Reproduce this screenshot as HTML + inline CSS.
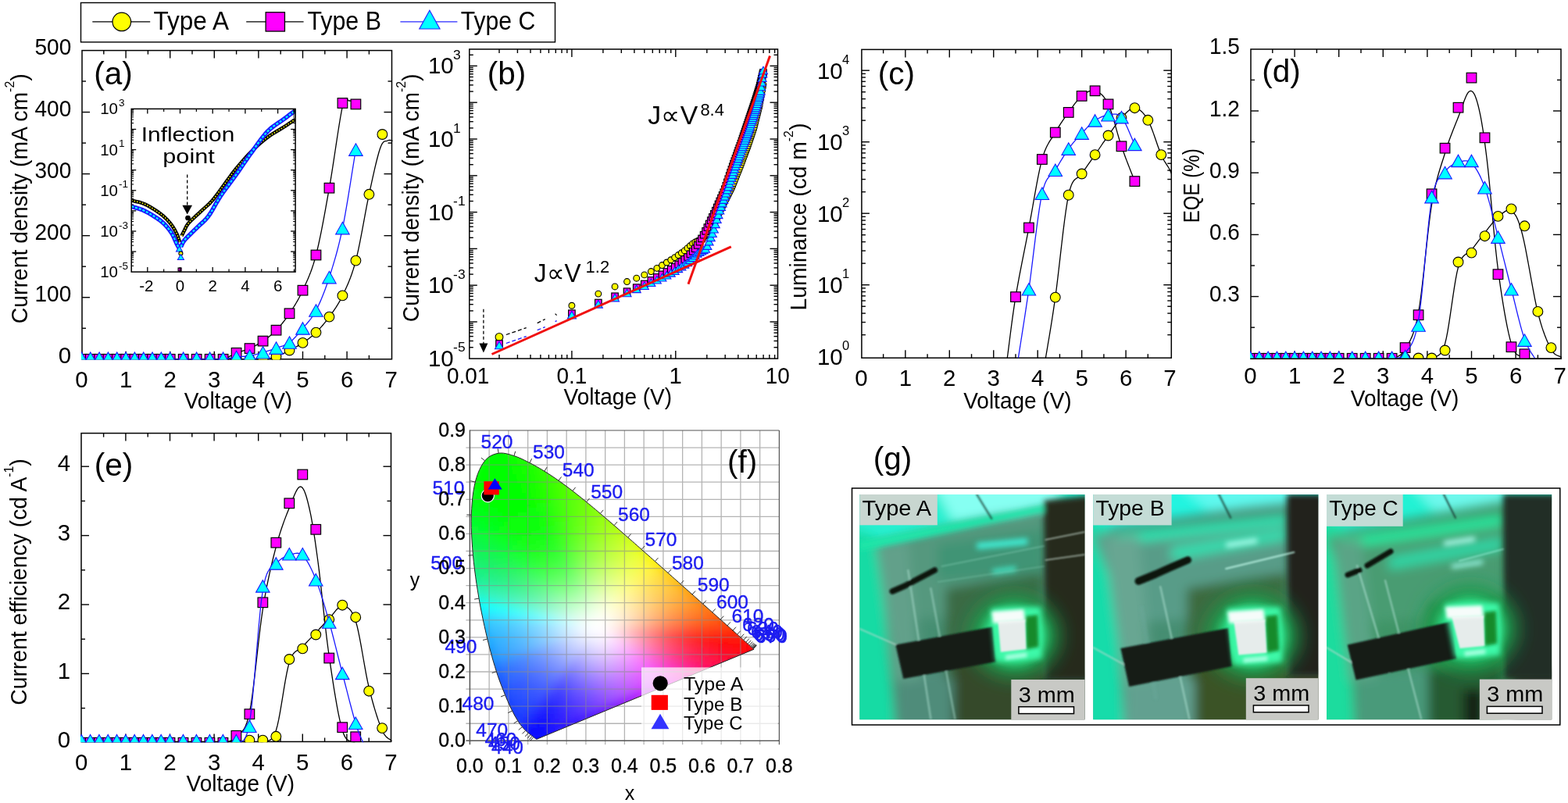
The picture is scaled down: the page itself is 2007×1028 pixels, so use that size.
<!DOCTYPE html>
<html><head><meta charset="utf-8"><title>Figure</title>
<style>html,body{margin:0;padding:0;background:#fff;overflow:hidden}svg{display:block}</style>
</head><body>
<svg width="2007" height="1028" viewBox="0 0 2007 1028">
<rect width="2007" height="1028" fill="#fff"/>
<rect x="103.5" y="3.5" width="607" height="50.4" fill="none" stroke="#000" stroke-width="1.4"/>
<line x1="118.3" y1="27.9" x2="192.2" y2="27.9" stroke="#000" stroke-width="1.3"/>
<circle cx="155.8" cy="27.9" r="11.8" fill="#ff0" stroke="#000" stroke-width="1.2"/>
<text x="196.5" y="38.3" font-size="33.6" textLength="96.5" lengthAdjust="spacingAndGlyphs" fill="#000" font-family="'Liberation Sans', Arial, sans-serif">Type A</text>
<line x1="315.2" y1="27.9" x2="388.6" y2="27.9" stroke="#000" stroke-width="1.3"/>
<rect x="340.15" y="15.75" width="24.3" height="24.3" fill="#f0f" stroke="#000" stroke-width="1.3"/>
<text x="393.4" y="38.3" font-size="33.6" textLength="94.5" lengthAdjust="spacingAndGlyphs" fill="#000" font-family="'Liberation Sans', Arial, sans-serif">Type B</text>
<line x1="512.4" y1="27.9" x2="585.4" y2="27.9" stroke="#2828ff" stroke-width="1.3"/>
<polygon points="549.9,13.3 563,37 536.8,37" fill="#0ff" stroke="#2828ff" stroke-width="1.2"/>
<text x="589.7" y="38.3" font-size="33.6" textLength="95.5" lengthAdjust="spacingAndGlyphs" fill="#000" font-family="'Liberation Sans', Arial, sans-serif">Type C</text>
<clipPath id="ca"><rect x="104" y="64.6" width="398.5" height="396.00000000000006"/></clipPath>
<rect x="105" y="64.6" width="396.5" height="395.2" fill="none" stroke="#000" stroke-width="1.5"/>
<line x1="161.1" y1="459.8" x2="161.1" y2="449.8" stroke="#000" stroke-width="1.4"/>
<line x1="161.1" y1="64.6" x2="161.1" y2="74.6" stroke="#000" stroke-width="1.4"/>
<line x1="217.7" y1="459.8" x2="217.7" y2="449.8" stroke="#000" stroke-width="1.4"/>
<line x1="217.7" y1="64.6" x2="217.7" y2="74.6" stroke="#000" stroke-width="1.4"/>
<line x1="274.3" y1="459.8" x2="274.3" y2="449.8" stroke="#000" stroke-width="1.4"/>
<line x1="274.3" y1="64.6" x2="274.3" y2="74.6" stroke="#000" stroke-width="1.4"/>
<line x1="330.9" y1="459.8" x2="330.9" y2="449.8" stroke="#000" stroke-width="1.4"/>
<line x1="330.9" y1="64.6" x2="330.9" y2="74.6" stroke="#000" stroke-width="1.4"/>
<line x1="387.5" y1="459.8" x2="387.5" y2="449.8" stroke="#000" stroke-width="1.4"/>
<line x1="387.5" y1="64.6" x2="387.5" y2="74.6" stroke="#000" stroke-width="1.4"/>
<line x1="444.1" y1="459.8" x2="444.1" y2="449.8" stroke="#000" stroke-width="1.4"/>
<line x1="444.1" y1="64.6" x2="444.1" y2="74.6" stroke="#000" stroke-width="1.4"/>
<line x1="132.8" y1="459.8" x2="132.8" y2="454.8" stroke="#000" stroke-width="1.4"/>
<line x1="132.8" y1="64.6" x2="132.8" y2="69.6" stroke="#000" stroke-width="1.4"/>
<line x1="189.4" y1="459.8" x2="189.4" y2="454.8" stroke="#000" stroke-width="1.4"/>
<line x1="189.4" y1="64.6" x2="189.4" y2="69.6" stroke="#000" stroke-width="1.4"/>
<line x1="246" y1="459.8" x2="246" y2="454.8" stroke="#000" stroke-width="1.4"/>
<line x1="246" y1="64.6" x2="246" y2="69.6" stroke="#000" stroke-width="1.4"/>
<line x1="302.6" y1="459.8" x2="302.6" y2="454.8" stroke="#000" stroke-width="1.4"/>
<line x1="302.6" y1="64.6" x2="302.6" y2="69.6" stroke="#000" stroke-width="1.4"/>
<line x1="359.2" y1="459.8" x2="359.2" y2="454.8" stroke="#000" stroke-width="1.4"/>
<line x1="359.2" y1="64.6" x2="359.2" y2="69.6" stroke="#000" stroke-width="1.4"/>
<line x1="415.8" y1="459.8" x2="415.8" y2="454.8" stroke="#000" stroke-width="1.4"/>
<line x1="415.8" y1="64.6" x2="415.8" y2="69.6" stroke="#000" stroke-width="1.4"/>
<line x1="472.4" y1="459.8" x2="472.4" y2="454.8" stroke="#000" stroke-width="1.4"/>
<line x1="472.4" y1="64.6" x2="472.4" y2="69.6" stroke="#000" stroke-width="1.4"/>
<line x1="105" y1="380.74" x2="115" y2="380.74" stroke="#000" stroke-width="1.4"/>
<line x1="501.5" y1="380.74" x2="491.5" y2="380.74" stroke="#000" stroke-width="1.4"/>
<line x1="105" y1="301.68" x2="115" y2="301.68" stroke="#000" stroke-width="1.4"/>
<line x1="501.5" y1="301.68" x2="491.5" y2="301.68" stroke="#000" stroke-width="1.4"/>
<line x1="105" y1="222.62" x2="115" y2="222.62" stroke="#000" stroke-width="1.4"/>
<line x1="501.5" y1="222.62" x2="491.5" y2="222.62" stroke="#000" stroke-width="1.4"/>
<line x1="105" y1="143.56" x2="115" y2="143.56" stroke="#000" stroke-width="1.4"/>
<line x1="501.5" y1="143.56" x2="491.5" y2="143.56" stroke="#000" stroke-width="1.4"/>
<line x1="105" y1="420.27" x2="110" y2="420.27" stroke="#000" stroke-width="1.4"/>
<line x1="501.5" y1="420.27" x2="496.5" y2="420.27" stroke="#000" stroke-width="1.4"/>
<line x1="105" y1="341.21" x2="110" y2="341.21" stroke="#000" stroke-width="1.4"/>
<line x1="501.5" y1="341.21" x2="496.5" y2="341.21" stroke="#000" stroke-width="1.4"/>
<line x1="105" y1="262.15" x2="110" y2="262.15" stroke="#000" stroke-width="1.4"/>
<line x1="501.5" y1="262.15" x2="496.5" y2="262.15" stroke="#000" stroke-width="1.4"/>
<line x1="105" y1="183.09" x2="110" y2="183.09" stroke="#000" stroke-width="1.4"/>
<line x1="501.5" y1="183.09" x2="496.5" y2="183.09" stroke="#000" stroke-width="1.4"/>
<line x1="105" y1="104.03" x2="110" y2="104.03" stroke="#000" stroke-width="1.4"/>
<line x1="501.5" y1="104.03" x2="496.5" y2="104.03" stroke="#000" stroke-width="1.4"/>
<g clip-path="url(#ca)">
<polyline points="104.5,459.8 105.63,459.8 106.76,459.8 107.9,459.8 109.03,459.8 110.16,459.8 111.29,459.8 112.42,459.8 113.56,459.8 114.69,459.8 115.82,459.8 116.95,459.8 118.08,459.8 119.22,459.8 120.35,459.8 121.48,459.8 122.61,459.8 123.74,459.8 124.88,459.8 126.01,459.8 127.14,459.8 128.27,459.8 129.4,459.8 130.54,459.8 131.67,459.8 132.8,459.8 133.93,459.8 135.06,459.8 136.2,459.8 137.33,459.8 138.46,459.8 139.59,459.8 140.72,459.8 141.86,459.8 142.99,459.8 144.12,459.8 145.25,459.8 146.38,459.8 147.52,459.8 148.65,459.8 149.78,459.8 150.91,459.8 152.04,459.8 153.18,459.8 154.31,459.8 155.44,459.8 156.57,459.8 157.7,459.8 158.84,459.8 159.97,459.8 161.1,459.8 162.23,459.8 163.36,459.8 164.5,459.8 165.63,459.8 166.76,459.8 167.89,459.8 169.02,459.8 170.16,459.8 171.29,459.8 172.42,459.8 173.55,459.8 174.68,459.8 175.82,459.8 176.95,459.8 178.08,459.8 179.21,459.8 180.34,459.8 181.48,459.8 182.61,459.8 183.74,459.8 184.87,459.8 186,459.8 187.14,459.8 188.27,459.8 189.4,459.8 190.53,459.8 191.66,459.8 192.8,459.8 193.93,459.8 195.06,459.8 196.19,459.8 197.32,459.8 198.46,459.8 199.59,459.8 200.72,459.8 201.85,459.8 202.98,459.8 204.12,459.8 205.25,459.8 206.38,459.8 207.49,459.8 208.55,459.8 209.6,459.8 210.64,459.8 211.69,459.8 212.76,459.8 213.89,459.8 215.07,459.8 216.34,459.8 217.7,459.8 219.17,459.8 220.73,459.8 222.38,459.8 224.08,459.8 225.84,459.8 227.62,459.8 229.41,459.8 231.19,459.8 232.96,459.8 234.68,459.8 236.38,459.8 238.08,459.8 239.77,459.8 241.47,459.8 243.17,459.8 244.87,459.8 246.57,459.8 248.26,459.8 249.96,459.8 251.66,459.8 253.36,459.8 255.06,459.8 256.75,459.8 258.45,459.8 260.15,459.8 261.85,459.8 263.55,459.8 265.24,459.8 266.94,459.8 268.64,459.8 270.34,459.8 272.04,459.8 273.73,459.8 275.43,459.8 277.13,459.8 278.83,459.8 280.53,459.8 282.22,459.8 283.92,459.8 285.62,459.8 287.32,459.8 289.02,459.8 290.71,459.8 292.41,459.8 294.11,459.8 295.81,459.8 297.51,459.8 299.2,459.8 300.9,459.8 302.6,459.8 304.3,459.8 306,459.8 307.69,459.8 309.39,459.8 311.09,459.8 312.79,459.8 314.49,459.8 316.18,459.8 317.88,459.8 319.58,459.8 321.28,459.81 322.98,459.85 324.67,459.9 326.37,459.95 328.07,460 329.77,460.03 331.47,460.04 333.16,460 334.86,459.93 336.56,459.8 338.26,459.63 339.96,459.44 341.65,459.23 343.35,458.99 345.05,458.71 346.75,458.39 348.45,458.02 350.14,457.6 351.84,457.13 353.54,456.6 355.24,456 356.94,455.32 358.63,454.58 360.33,453.78 362.03,452.95 363.73,452.08 365.43,451.19 367.12,450.29 368.82,449.39 370.52,448.5 372.22,447.62 373.92,446.74 375.61,445.85 377.31,444.95 379.01,444.02 380.71,443.08 382.41,442.1 384.1,441.08 385.8,440.02 387.5,438.9 389.2,437.75 390.9,436.58 392.59,435.39 394.29,434.17 395.99,432.9 397.69,431.58 399.39,430.2 401.08,428.75 402.78,427.22 404.48,425.6 406.18,423.9 407.88,422.14 409.57,420.32 411.27,418.43 412.97,416.47 414.67,414.44 416.37,412.34 418.06,410.17 419.76,407.92 421.46,405.6 423.16,403.25 424.86,400.9 426.55,398.52 428.25,396.08 429.95,393.55 431.65,390.89 433.35,388.08 435.04,385.08 436.74,381.87 438.44,378.4 440.14,374.81 441.84,371.21 443.53,367.51 445.23,363.67 446.93,359.6 448.63,355.24 450.33,350.53 452.02,345.4 453.72,339.78 455.42,333.6 457.13,326.62 458.86,318.78 460.6,310.28 462.35,301.31 464.09,292.08 465.81,282.77 467.51,273.59 469.19,264.74 470.82,256.41 472.4,248.8 473.95,241.65 475.48,234.6 477,227.71 478.48,221.07 479.93,214.73 481.35,208.76 482.73,203.23 484.06,198.22 485.33,193.79 486.55,190 487.69,186.97 488.76,184.7 489.75,183.07 490.7,181.96 491.61,181.26 492.5,180.87 493.39,180.65 494.28,180.52 495.21,180.33 496.17,180 497.17,179.65 498.17,179.5 499.19,179.49 500.21,179.61 501.23,179.81 502.26,180.07 503.29,180.35 504.31,180.62 505.34,180.85 506.36,181" fill="none" stroke="#000" stroke-width="1.3" stroke-linejoin="round"/>
<circle cx="104.5" cy="459.8" r="6.4" fill="#ff0" stroke="#000" stroke-width="1.1"/>
<circle cx="115.82" cy="459.8" r="6.4" fill="#ff0" stroke="#000" stroke-width="1.1"/>
<circle cx="127.14" cy="459.8" r="6.4" fill="#ff0" stroke="#000" stroke-width="1.1"/>
<circle cx="138.46" cy="459.8" r="6.4" fill="#ff0" stroke="#000" stroke-width="1.1"/>
<circle cx="149.78" cy="459.8" r="6.4" fill="#ff0" stroke="#000" stroke-width="1.1"/>
<circle cx="161.1" cy="459.8" r="6.4" fill="#ff0" stroke="#000" stroke-width="1.1"/>
<circle cx="172.42" cy="459.8" r="6.4" fill="#ff0" stroke="#000" stroke-width="1.1"/>
<circle cx="183.74" cy="459.8" r="6.4" fill="#ff0" stroke="#000" stroke-width="1.1"/>
<circle cx="195.06" cy="459.8" r="6.4" fill="#ff0" stroke="#000" stroke-width="1.1"/>
<circle cx="206.38" cy="459.8" r="6.4" fill="#ff0" stroke="#000" stroke-width="1.1"/>
<circle cx="217.7" cy="459.8" r="6.4" fill="#ff0" stroke="#000" stroke-width="1.1"/>
<circle cx="234.68" cy="459.8" r="6.4" fill="#ff0" stroke="#000" stroke-width="1.1"/>
<circle cx="251.66" cy="459.8" r="6.4" fill="#ff0" stroke="#000" stroke-width="1.1"/>
<circle cx="268.64" cy="459.8" r="6.4" fill="#ff0" stroke="#000" stroke-width="1.1"/>
<circle cx="285.62" cy="459.8" r="6.4" fill="#ff0" stroke="#000" stroke-width="1.1"/>
<circle cx="302.6" cy="459.8" r="6.4" fill="#ff0" stroke="#000" stroke-width="1.1"/>
<circle cx="319.58" cy="459.8" r="6.4" fill="#ff0" stroke="#000" stroke-width="1.1"/>
<circle cx="336.56" cy="459.8" r="6.4" fill="#ff0" stroke="#000" stroke-width="1.1"/>
<circle cx="353.54" cy="456.6" r="6.4" fill="#ff0" stroke="#000" stroke-width="1.1"/>
<circle cx="370.52" cy="448.5" r="6.4" fill="#ff0" stroke="#000" stroke-width="1.1"/>
<circle cx="387.5" cy="438.9" r="6.4" fill="#ff0" stroke="#000" stroke-width="1.1"/>
<circle cx="404.48" cy="425.6" r="6.4" fill="#ff0" stroke="#000" stroke-width="1.1"/>
<circle cx="421.46" cy="405.6" r="6.4" fill="#ff0" stroke="#000" stroke-width="1.1"/>
<circle cx="438.44" cy="378.4" r="6.4" fill="#ff0" stroke="#000" stroke-width="1.1"/>
<circle cx="455.42" cy="333.6" r="6.4" fill="#ff0" stroke="#000" stroke-width="1.1"/>
<circle cx="472.4" cy="248.8" r="6.4" fill="#ff0" stroke="#000" stroke-width="1.1"/>
<circle cx="489.38" cy="172" r="6.4" fill="#ff0" stroke="#000" stroke-width="1.1"/>
</g>
<g clip-path="url(#ca)">
<polyline points="104.5,459.8 105.63,459.8 106.76,459.8 107.9,459.8 109.03,459.8 110.16,459.8 111.29,459.8 112.42,459.8 113.56,459.8 114.69,459.8 115.82,459.8 116.95,459.8 118.08,459.8 119.22,459.8 120.35,459.8 121.48,459.8 122.61,459.8 123.74,459.8 124.88,459.8 126.01,459.8 127.14,459.8 128.27,459.8 129.4,459.8 130.54,459.8 131.67,459.8 132.8,459.8 133.93,459.8 135.06,459.8 136.2,459.8 137.33,459.8 138.46,459.8 139.59,459.8 140.72,459.8 141.86,459.8 142.99,459.8 144.12,459.8 145.25,459.8 146.38,459.8 147.52,459.8 148.65,459.8 149.78,459.8 150.91,459.8 152.04,459.8 153.18,459.8 154.31,459.8 155.44,459.8 156.57,459.8 157.7,459.8 158.84,459.8 159.97,459.8 161.1,459.8 162.23,459.8 163.36,459.8 164.5,459.8 165.63,459.8 166.76,459.8 167.89,459.8 169.02,459.8 170.16,459.8 171.29,459.8 172.42,459.8 173.55,459.8 174.68,459.8 175.82,459.8 176.95,459.8 178.08,459.8 179.21,459.8 180.34,459.8 181.48,459.8 182.61,459.8 183.74,459.8 184.87,459.8 186,459.8 187.14,459.8 188.27,459.8 189.4,459.8 190.53,459.8 191.66,459.8 192.8,459.8 193.93,459.8 195.06,459.8 196.19,459.8 197.32,459.8 198.46,459.8 199.59,459.8 200.72,459.8 201.85,459.8 202.98,459.8 204.12,459.8 205.25,459.8 206.38,459.8 207.49,459.8 208.55,459.8 209.6,459.8 210.64,459.8 211.69,459.8 212.76,459.8 213.89,459.8 215.07,459.8 216.34,459.8 217.7,459.8 219.17,459.8 220.73,459.8 222.38,459.8 224.08,459.8 225.84,459.8 227.62,459.8 229.41,459.8 231.19,459.8 232.96,459.8 234.68,459.8 236.38,459.8 238.08,459.8 239.77,459.8 241.47,459.8 243.17,459.8 244.87,459.8 246.57,459.8 248.26,459.8 249.96,459.8 251.66,459.8 253.36,459.8 255.06,459.8 256.75,459.8 258.45,459.8 260.15,459.8 261.85,459.8 263.55,459.8 265.24,459.8 266.94,459.8 268.64,459.8 270.34,459.84 272.04,459.93 273.73,460.05 275.43,460.18 277.13,460.3 278.83,460.38 280.53,460.39 282.22,460.31 283.92,460.12 285.62,459.8 287.32,459.31 289.02,458.68 290.71,457.92 292.41,457.07 294.11,456.16 295.81,455.22 297.51,454.28 299.2,453.38 300.9,452.54 302.6,451.8 304.3,451.15 306,450.57 307.69,450.04 309.39,449.54 311.09,449.04 312.79,448.54 314.49,448.02 316.18,447.45 317.88,446.81 319.58,446.1 321.28,445.32 322.98,444.51 324.67,443.67 326.37,442.78 328.07,441.86 329.77,440.9 331.47,439.89 333.16,438.84 334.86,437.75 336.56,436.6 338.26,435.42 339.96,434.22 341.65,432.99 343.35,431.72 345.05,430.39 346.75,429.01 348.45,427.56 350.14,426.03 351.84,424.41 353.54,422.7 355.24,420.9 356.94,419.03 358.63,417.09 360.33,415.07 362.03,412.98 363.73,410.81 365.43,408.56 367.12,406.22 368.82,403.81 370.52,401.3 372.22,398.74 373.92,396.15 375.61,393.51 377.31,390.8 379.01,387.99 380.71,385.06 382.41,381.98 384.1,378.75 385.8,375.33 387.5,371.7 389.2,367.99 390.9,364.31 392.59,360.57 394.29,356.69 395.99,352.61 397.69,348.25 399.39,343.54 401.08,338.39 402.78,332.73 404.48,326.5 406.18,319.65 407.88,312.24 409.57,304.34 411.27,296.01 412.97,287.32 414.67,278.33 416.37,269.11 418.06,259.72 419.76,250.23 421.46,240.7 423.2,230.56 424.99,219.41 426.82,207.6 428.66,195.49 430.48,183.42 432.26,171.75 433.97,160.82 435.59,150.99 437.09,142.6 438.44,136 439.63,131.29 440.68,128.16 441.61,126.36 442.45,125.62 443.22,125.68 443.94,126.29 444.65,127.18 445.37,128.11 446.12,128.8 446.93,129 447.78,128.98 448.63,129.15 449.48,129.48 450.33,129.94 451.18,130.49 452.02,131.09 452.87,131.72 453.72,132.34 454.57,132.91 455.42,133.4" fill="none" stroke="#000" stroke-width="1.3" stroke-linejoin="round"/>
<rect x="98.2" y="453.5" width="12.6" height="12.6" fill="#f0f" stroke="#000" stroke-width="1.2"/>
<rect x="109.52" y="453.5" width="12.6" height="12.6" fill="#f0f" stroke="#000" stroke-width="1.2"/>
<rect x="120.84" y="453.5" width="12.6" height="12.6" fill="#f0f" stroke="#000" stroke-width="1.2"/>
<rect x="132.16" y="453.5" width="12.6" height="12.6" fill="#f0f" stroke="#000" stroke-width="1.2"/>
<rect x="143.48" y="453.5" width="12.6" height="12.6" fill="#f0f" stroke="#000" stroke-width="1.2"/>
<rect x="154.8" y="453.5" width="12.6" height="12.6" fill="#f0f" stroke="#000" stroke-width="1.2"/>
<rect x="166.12" y="453.5" width="12.6" height="12.6" fill="#f0f" stroke="#000" stroke-width="1.2"/>
<rect x="177.44" y="453.5" width="12.6" height="12.6" fill="#f0f" stroke="#000" stroke-width="1.2"/>
<rect x="188.76" y="453.5" width="12.6" height="12.6" fill="#f0f" stroke="#000" stroke-width="1.2"/>
<rect x="200.08" y="453.5" width="12.6" height="12.6" fill="#f0f" stroke="#000" stroke-width="1.2"/>
<rect x="211.4" y="453.5" width="12.6" height="12.6" fill="#f0f" stroke="#000" stroke-width="1.2"/>
<rect x="228.38" y="453.5" width="12.6" height="12.6" fill="#f0f" stroke="#000" stroke-width="1.2"/>
<rect x="245.36" y="453.5" width="12.6" height="12.6" fill="#f0f" stroke="#000" stroke-width="1.2"/>
<rect x="262.34" y="453.5" width="12.6" height="12.6" fill="#f0f" stroke="#000" stroke-width="1.2"/>
<rect x="279.32" y="453.5" width="12.6" height="12.6" fill="#f0f" stroke="#000" stroke-width="1.2"/>
<rect x="296.3" y="445.5" width="12.6" height="12.6" fill="#f0f" stroke="#000" stroke-width="1.2"/>
<rect x="313.28" y="439.8" width="12.6" height="12.6" fill="#f0f" stroke="#000" stroke-width="1.2"/>
<rect x="330.26" y="430.3" width="12.6" height="12.6" fill="#f0f" stroke="#000" stroke-width="1.2"/>
<rect x="347.24" y="416.4" width="12.6" height="12.6" fill="#f0f" stroke="#000" stroke-width="1.2"/>
<rect x="364.22" y="395" width="12.6" height="12.6" fill="#f0f" stroke="#000" stroke-width="1.2"/>
<rect x="381.2" y="365.4" width="12.6" height="12.6" fill="#f0f" stroke="#000" stroke-width="1.2"/>
<rect x="398.18" y="320.2" width="12.6" height="12.6" fill="#f0f" stroke="#000" stroke-width="1.2"/>
<rect x="415.16" y="234.4" width="12.6" height="12.6" fill="#f0f" stroke="#000" stroke-width="1.2"/>
<rect x="432.14" y="125.7" width="12.6" height="12.6" fill="#f0f" stroke="#000" stroke-width="1.2"/>
<rect x="449.12" y="127.1" width="12.6" height="12.6" fill="#f0f" stroke="#000" stroke-width="1.2"/>
</g>
<g clip-path="url(#ca)">
<polyline points="104.5,459.8 105.63,459.8 106.76,459.8 107.9,459.8 109.03,459.8 110.16,459.8 111.29,459.8 112.42,459.8 113.56,459.8 114.69,459.8 115.82,459.8 116.95,459.8 118.08,459.8 119.22,459.8 120.35,459.8 121.48,459.8 122.61,459.8 123.74,459.8 124.88,459.8 126.01,459.8 127.14,459.8 128.27,459.8 129.4,459.8 130.54,459.8 131.67,459.8 132.8,459.8 133.93,459.8 135.06,459.8 136.2,459.8 137.33,459.8 138.46,459.8 139.59,459.8 140.72,459.8 141.86,459.8 142.99,459.8 144.12,459.8 145.25,459.8 146.38,459.8 147.52,459.8 148.65,459.8 149.78,459.8 150.91,459.8 152.04,459.8 153.18,459.8 154.31,459.8 155.44,459.8 156.57,459.8 157.7,459.8 158.84,459.8 159.97,459.8 161.1,459.8 162.23,459.8 163.36,459.8 164.5,459.8 165.63,459.8 166.76,459.8 167.89,459.8 169.02,459.8 170.16,459.8 171.29,459.8 172.42,459.8 173.55,459.8 174.68,459.8 175.82,459.8 176.95,459.8 178.08,459.8 179.21,459.8 180.34,459.8 181.48,459.8 182.61,459.8 183.74,459.8 184.87,459.8 186,459.8 187.14,459.8 188.27,459.8 189.4,459.8 190.53,459.8 191.66,459.8 192.8,459.8 193.93,459.8 195.06,459.8 196.19,459.8 197.32,459.8 198.46,459.8 199.59,459.8 200.72,459.8 201.85,459.8 202.98,459.8 204.12,459.8 205.25,459.8 206.38,459.8 207.49,459.8 208.55,459.8 209.6,459.8 210.64,459.8 211.69,459.8 212.76,459.8 213.89,459.8 215.07,459.8 216.34,459.8 217.7,459.8 219.17,459.8 220.73,459.8 222.38,459.8 224.08,459.8 225.84,459.8 227.62,459.8 229.41,459.8 231.19,459.8 232.96,459.8 234.68,459.8 236.38,459.8 238.08,459.8 239.77,459.8 241.47,459.8 243.17,459.8 244.87,459.8 246.57,459.8 248.26,459.8 249.96,459.8 251.66,459.8 253.36,459.8 255.06,459.8 256.75,459.8 258.45,459.8 260.15,459.8 261.85,459.8 263.55,459.8 265.24,459.8 266.94,459.8 268.64,459.8 270.34,459.81 272.04,459.84 273.73,459.89 275.43,459.93 277.13,459.97 278.83,460 280.53,460.01 282.22,459.98 283.92,459.91 285.62,459.8 287.32,459.63 289.02,459.4 290.71,459.12 292.41,458.82 294.11,458.49 295.81,458.16 297.51,457.83 299.2,457.52 300.9,457.24 302.6,457 304.3,456.81 306,456.66 307.69,456.54 309.39,456.44 311.09,456.34 312.79,456.23 314.49,456.11 316.18,455.95 317.88,455.75 319.58,455.5 321.28,455.2 322.98,454.86 324.67,454.49 326.37,454.09 328.07,453.66 329.77,453.22 331.47,452.76 333.16,452.28 334.86,451.79 336.56,451.3 338.26,450.8 339.96,450.28 341.65,449.74 343.35,449.2 345.05,448.63 346.75,448.05 348.45,447.46 350.14,446.85 351.84,446.23 353.54,445.6 355.24,445 356.94,444.45 358.63,443.92 360.33,443.39 362.03,442.83 363.73,442.2 365.43,441.48 367.12,440.65 368.82,439.66 370.52,438.5 372.22,437.16 373.92,435.66 375.61,434.03 377.31,432.28 379.01,430.44 380.71,428.51 382.41,426.53 384.1,424.5 385.8,422.45 387.5,420.4 389.2,418.39 390.9,416.44 392.59,414.5 394.29,412.52 395.99,410.47 397.69,408.29 399.39,405.95 401.08,403.4 402.78,400.6 404.48,397.5 406.18,394.14 407.88,390.6 409.57,386.86 411.27,382.93 412.97,378.81 414.67,374.48 416.37,369.95 418.06,365.21 419.76,360.26 421.46,355.1 423.16,349.8 424.86,344.42 426.55,338.9 428.25,333.18 429.95,327.23 431.65,320.99 433.35,314.41 435.04,307.43 436.74,300.01 438.44,292.1 440.14,283.57 441.84,274.4 443.53,264.71 445.23,254.6 446.93,244.19 448.63,233.6 450.33,222.93 452.02,212.3 453.72,201.82 455.42,191.6" fill="none" stroke="#1a1aff" stroke-width="1.3" stroke-linejoin="round"/>
<polygon points="104.5,450.95 113.25,466.45 95.75,466.45" fill="#0ff" stroke="#1a1aff" stroke-width="1.1"/>
<polygon points="115.82,450.95 124.57,466.45 107.07,466.45" fill="#0ff" stroke="#1a1aff" stroke-width="1.1"/>
<polygon points="127.14,450.95 135.89,466.45 118.39,466.45" fill="#0ff" stroke="#1a1aff" stroke-width="1.1"/>
<polygon points="138.46,450.95 147.21,466.45 129.71,466.45" fill="#0ff" stroke="#1a1aff" stroke-width="1.1"/>
<polygon points="149.78,450.95 158.53,466.45 141.03,466.45" fill="#0ff" stroke="#1a1aff" stroke-width="1.1"/>
<polygon points="161.1,450.95 169.85,466.45 152.35,466.45" fill="#0ff" stroke="#1a1aff" stroke-width="1.1"/>
<polygon points="172.42,450.95 181.17,466.45 163.67,466.45" fill="#0ff" stroke="#1a1aff" stroke-width="1.1"/>
<polygon points="183.74,450.95 192.49,466.45 174.99,466.45" fill="#0ff" stroke="#1a1aff" stroke-width="1.1"/>
<polygon points="195.06,450.95 203.81,466.45 186.31,466.45" fill="#0ff" stroke="#1a1aff" stroke-width="1.1"/>
<polygon points="206.38,450.95 215.13,466.45 197.63,466.45" fill="#0ff" stroke="#1a1aff" stroke-width="1.1"/>
<polygon points="217.7,450.95 226.45,466.45 208.95,466.45" fill="#0ff" stroke="#1a1aff" stroke-width="1.1"/>
<polygon points="234.68,450.95 243.43,466.45 225.93,466.45" fill="#0ff" stroke="#1a1aff" stroke-width="1.1"/>
<polygon points="251.66,450.95 260.41,466.45 242.91,466.45" fill="#0ff" stroke="#1a1aff" stroke-width="1.1"/>
<polygon points="268.64,450.95 277.39,466.45 259.89,466.45" fill="#0ff" stroke="#1a1aff" stroke-width="1.1"/>
<polygon points="285.62,450.95 294.37,466.45 276.87,466.45" fill="#0ff" stroke="#1a1aff" stroke-width="1.1"/>
<polygon points="302.6,449.25 311.35,464.75 293.85,464.75" fill="#0ff" stroke="#1a1aff" stroke-width="1.1"/>
<polygon points="319.58,447.75 328.33,463.25 310.83,463.25" fill="#0ff" stroke="#1a1aff" stroke-width="1.1"/>
<polygon points="336.56,443.55 345.31,459.05 327.81,459.05" fill="#0ff" stroke="#1a1aff" stroke-width="1.1"/>
<polygon points="353.54,437.85 362.29,453.35 344.79,453.35" fill="#0ff" stroke="#1a1aff" stroke-width="1.1"/>
<polygon points="370.52,430.75 379.27,446.25 361.77,446.25" fill="#0ff" stroke="#1a1aff" stroke-width="1.1"/>
<polygon points="387.5,412.65 396.25,428.15 378.75,428.15" fill="#0ff" stroke="#1a1aff" stroke-width="1.1"/>
<polygon points="404.48,389.75 413.23,405.25 395.73,405.25" fill="#0ff" stroke="#1a1aff" stroke-width="1.1"/>
<polygon points="421.46,347.35 430.21,362.85 412.71,362.85" fill="#0ff" stroke="#1a1aff" stroke-width="1.1"/>
<polygon points="438.44,284.35 447.19,299.85 429.69,299.85" fill="#0ff" stroke="#1a1aff" stroke-width="1.1"/>
<polygon points="455.42,183.85 464.17,199.35 446.67,199.35" fill="#0ff" stroke="#1a1aff" stroke-width="1.1"/>
</g>
<text x="104.5" y="495.5" font-size="29.4" text-anchor="middle" fill="#000" font-family="'Liberation Sans', Arial, sans-serif">0</text>
<text x="161.1" y="495.5" font-size="29.4" text-anchor="middle" fill="#000" font-family="'Liberation Sans', Arial, sans-serif">1</text>
<text x="217.7" y="495.5" font-size="29.4" text-anchor="middle" fill="#000" font-family="'Liberation Sans', Arial, sans-serif">2</text>
<text x="274.3" y="495.5" font-size="29.4" text-anchor="middle" fill="#000" font-family="'Liberation Sans', Arial, sans-serif">3</text>
<text x="330.9" y="495.5" font-size="29.4" text-anchor="middle" fill="#000" font-family="'Liberation Sans', Arial, sans-serif">4</text>
<text x="387.5" y="495.5" font-size="29.4" text-anchor="middle" fill="#000" font-family="'Liberation Sans', Arial, sans-serif">5</text>
<text x="444.1" y="495.5" font-size="29.4" text-anchor="middle" fill="#000" font-family="'Liberation Sans', Arial, sans-serif">6</text>
<text x="500.7" y="495.5" font-size="29.4" text-anchor="middle" fill="#000" font-family="'Liberation Sans', Arial, sans-serif">7</text>
<text x="91.2" y="465.4" font-size="29.4" text-anchor="end" fill="#000" font-family="'Liberation Sans', Arial, sans-serif">0</text>
<text x="91.2" y="386.34" font-size="29.4" text-anchor="end" textLength="46.6" lengthAdjust="spacingAndGlyphs" fill="#000" font-family="'Liberation Sans', Arial, sans-serif">100</text>
<text x="91.2" y="307.28" font-size="29.4" text-anchor="end" textLength="46.6" lengthAdjust="spacingAndGlyphs" fill="#000" font-family="'Liberation Sans', Arial, sans-serif">200</text>
<text x="91.2" y="228.22" font-size="29.4" text-anchor="end" textLength="46.6" lengthAdjust="spacingAndGlyphs" fill="#000" font-family="'Liberation Sans', Arial, sans-serif">300</text>
<text x="91.2" y="149.16" font-size="29.4" text-anchor="end" textLength="46.6" lengthAdjust="spacingAndGlyphs" fill="#000" font-family="'Liberation Sans', Arial, sans-serif">400</text>
<text x="91.2" y="70.1" font-size="29.4" text-anchor="end" textLength="46.6" lengthAdjust="spacingAndGlyphs" fill="#000" font-family="'Liberation Sans', Arial, sans-serif">500</text>
<text x="235.7" y="522.8" font-size="28.6" textLength="138.5" lengthAdjust="spacingAndGlyphs" fill="#000" font-family="'Liberation Sans', Arial, sans-serif">Voltage (V)</text>
<text x="0" y="0" font-size="28.6" text-anchor="middle" font-family="'Liberation Sans', Arial, sans-serif" transform="translate(35,254.3) rotate(-90)" textLength="320" lengthAdjust="spacingAndGlyphs">Current density (mA cm<tspan font-size="16.02" dy="-17.16">-2</tspan><tspan dy="17.16">)</tspan></text>
<text x="120.2" y="108.3" font-size="40.5" fill="#000" font-family="'Liberation Sans', Arial, sans-serif">(a)</text>
<clipPath id="cia"><rect x="168.2" y="139.4" width="209.90000000000003" height="208.70000000000002"/></clipPath>
<rect x="168.2" y="139.4" width="209.90000000000003" height="208.70000000000002" fill="#fff"/>
<g clip-path="url(#cia)">
<polyline points="168.2,256.5 171.12,257.26 174.01,257.92 176.89,258.58 179.81,259.34 182.81,260.32 185.9,261.6 189.21,263.26 192.73,265.24 196.31,267.43 199.83,269.71 203.14,272.01 206.1,274.2 208.71,276.31 211.08,278.43 213.24,280.55 215.23,282.67 217.07,284.79 218.8,286.9 220.39,289.03 221.82,291.19 223.11,293.34 224.27,295.46 225.32,297.52 226.3,299.5 227.15,301.37 227.84,303.16 228.43,304.88 228.97,306.58 229.51,308.27 230.1,310" fill="none" stroke="#000" stroke-width="4.6" stroke-linejoin="round"/>
<polyline points="232.5,302 233.06,300.86 233.59,299.76 234.12,298.66 234.69,297.52 235.3,296.31 236,295 236.69,293.62 237.33,292.2 238.02,290.72 238.87,289.13 240,287.4 241.5,285.5 243.47,283.37 245.85,281.04 248.49,278.56 251.27,276.02 254.05,273.47 256.7,271 259.23,268.65 261.77,266.38 264.31,264.11 266.84,261.76 269.37,259.25 271.9,256.5 274.42,253.46 276.94,250.19 279.45,246.76 281.96,243.25 284.48,239.74 287,236.3 289.47,232.95 291.87,229.63 294.28,226.31 296.76,222.95 299.38,219.52 302.2,216 305.28,212.3 308.56,208.43 311.98,204.49 315.47,200.59 318.97,196.82 322.4,193.3 325.78,190 329.16,186.84 332.55,183.83 335.94,180.94 339.32,178.2 342.7,175.6 346.13,173.16 349.63,170.9 353.12,168.78 356.54,166.76 359.82,164.81 362.9,162.9 365.72,161.07 368.34,159.34 370.81,157.69 373.22,156.07 375.62,154.45 378.1,152.8" fill="none" stroke="#000" stroke-width="4.6" stroke-linejoin="round"/>
<polyline points="168.2,256.5 171.12,257.26 174.01,257.92 176.89,258.58 179.81,259.34 182.81,260.32 185.9,261.6 189.21,263.26 192.73,265.24 196.31,267.43 199.83,269.71 203.14,272.01 206.1,274.2 208.71,276.31 211.08,278.43 213.24,280.55 215.23,282.67 217.07,284.79 218.8,286.9 220.39,289.03 221.82,291.19 223.11,293.34 224.27,295.46 225.32,297.52 226.3,299.5 227.15,301.37 227.84,303.16 228.43,304.88 228.97,306.58 229.51,308.27 230.1,310" fill="none" stroke="#ff0" stroke-width="1.6" stroke-linejoin="round" stroke-dasharray="1.5 2"/>
<polyline points="232.5,302 233.06,300.86 233.59,299.76 234.12,298.66 234.69,297.52 235.3,296.31 236,295 236.69,293.62 237.33,292.2 238.02,290.72 238.87,289.13 240,287.4 241.5,285.5 243.47,283.37 245.85,281.04 248.49,278.56 251.27,276.02 254.05,273.47 256.7,271 259.23,268.65 261.77,266.38 264.31,264.11 266.84,261.76 269.37,259.25 271.9,256.5 274.42,253.46 276.94,250.19 279.45,246.76 281.96,243.25 284.48,239.74 287,236.3 289.47,232.95 291.87,229.63 294.28,226.31 296.76,222.95 299.38,219.52 302.2,216 305.28,212.3 308.56,208.43 311.98,204.49 315.47,200.59 318.97,196.82 322.4,193.3 325.78,190 329.16,186.84 332.55,183.83 335.94,180.94 339.32,178.2 342.7,175.6 346.13,173.16 349.63,170.9 353.12,168.78 356.54,166.76 359.82,164.81 362.9,162.9 365.72,161.07 368.34,159.34 370.81,157.69 373.22,156.07 375.62,154.45 378.1,152.8" fill="none" stroke="#ff0" stroke-width="1.6" stroke-linejoin="round" stroke-dasharray="1.5 2"/>
<polyline points="168.2,264.1 171.12,265.08 174.01,265.96 176.89,266.85 179.81,267.83 182.81,268.98 185.9,270.4 189.21,272.13 192.73,274.11 196.31,276.28 199.83,278.54 203.14,280.84 206.1,283.1 208.71,285.33 211.08,287.6 213.24,289.89 215.23,292.23 217.07,294.59 218.8,297 220.4,299.57 221.84,302.32 223.14,305.11 224.31,307.78 225.36,310.2 226.3,312.2 227.08,313.71 227.69,314.83 228.17,315.69 228.59,316.41 229.02,317.14 229.5,318" fill="none" stroke="#1a1aff" stroke-width="5.6" stroke-linejoin="round"/>
<polyline points="231.5,316 232.22,314.59 232.79,313.27 233.37,311.94 234.09,310.53 235.08,308.95 236.5,307.1 238.43,304.93 240.78,302.5 243.41,299.89 246.19,297.2 248.96,294.51 251.6,291.9 254.13,289.48 256.66,287.2 259.19,284.92 261.73,282.51 264.27,279.81 266.8,276.7 269.28,273.11 271.68,269.14 274.09,264.89 276.56,260.47 279.18,255.97 282,251.5 285.08,247.02 288.36,242.44 291.79,237.79 295.28,233.09 298.78,228.35 302.2,223.6 305.57,218.79 308.93,213.89 312.29,208.96 315.66,204.05 319.03,199.21 322.4,194.5 325.78,189.8 329.16,185.06 332.55,180.38 335.94,175.9 339.32,171.73 342.7,168 346.13,164.77 349.63,161.96 353.12,159.46 356.54,157.17 359.82,154.98 362.9,152.8 365.72,150.68 368.34,148.72 370.81,146.86 373.22,145.06 375.62,143.26 378.1,141.4" fill="none" stroke="#1a1aff" stroke-width="5.6" stroke-linejoin="round"/>
<polyline points="168.2,264.1 171.12,265.08 174.01,265.96 176.89,266.85 179.81,267.83 182.81,268.98 185.9,270.4 189.21,272.13 192.73,274.11 196.31,276.28 199.83,278.54 203.14,280.84 206.1,283.1 208.71,285.33 211.08,287.6 213.24,289.89 215.23,292.23 217.07,294.59 218.8,297 220.4,299.57 221.84,302.32 223.14,305.11 224.31,307.78 225.36,310.2 226.3,312.2 227.08,313.71 227.69,314.83 228.17,315.69 228.59,316.41 229.02,317.14 229.5,318" fill="none" stroke="#0ff" stroke-width="2.2" stroke-linejoin="round" stroke-dasharray="3 2"/>
<polyline points="231.5,316 232.22,314.59 232.79,313.27 233.37,311.94 234.09,310.53 235.08,308.95 236.5,307.1 238.43,304.93 240.78,302.5 243.41,299.89 246.19,297.2 248.96,294.51 251.6,291.9 254.13,289.48 256.66,287.2 259.19,284.92 261.73,282.51 264.27,279.81 266.8,276.7 269.28,273.11 271.68,269.14 274.09,264.89 276.56,260.47 279.18,255.97 282,251.5 285.08,247.02 288.36,242.44 291.79,237.79 295.28,233.09 298.78,228.35 302.2,223.6 305.57,218.79 308.93,213.89 312.29,208.96 315.66,204.05 319.03,199.21 322.4,194.5 325.78,189.8 329.16,185.06 332.55,180.38 335.94,175.9 339.32,171.73 342.7,168 346.13,164.77 349.63,161.96 353.12,159.46 356.54,157.17 359.82,154.98 362.9,152.8 365.72,150.68 368.34,148.72 370.81,146.86 373.22,145.06 375.62,143.26 378.1,141.4" fill="none" stroke="#0ff" stroke-width="2.2" stroke-linejoin="round" stroke-dasharray="3 2"/>
<polygon points="229.5,315 233.5,322 225.5,322" fill="#0ff" stroke="#1a1aff" stroke-width="1.1"/>
<circle cx="231.4" cy="324.5" r="2.5" fill="#ff0" stroke="#000" stroke-width="1.1"/>
<polygon points="231.4,325.5 235.4,332.5 227.4,332.5" fill="#0ff" stroke="#1a1aff" stroke-width="1.1"/>
<rect x="228.1" y="343" width="4" height="4" fill="#f0f" stroke="#000" stroke-width="1.2"/>
<circle cx="240.5" cy="279" r="2.8" fill="#000" stroke="#000" stroke-width="1.1"/>
</g>
<rect x="168.2" y="139.4" width="209.9" height="208.7" fill="none" stroke="#000" stroke-width="1.5"/>
<line x1="188.8" y1="348.1" x2="188.8" y2="342.1" stroke="#000" stroke-width="1.3"/>
<line x1="188.8" y1="139.4" x2="188.8" y2="145.4" stroke="#000" stroke-width="1.3"/>
<line x1="230.5" y1="348.1" x2="230.5" y2="342.1" stroke="#000" stroke-width="1.3"/>
<line x1="230.5" y1="139.4" x2="230.5" y2="145.4" stroke="#000" stroke-width="1.3"/>
<line x1="272.2" y1="348.1" x2="272.2" y2="342.1" stroke="#000" stroke-width="1.3"/>
<line x1="272.2" y1="139.4" x2="272.2" y2="145.4" stroke="#000" stroke-width="1.3"/>
<line x1="313.9" y1="348.1" x2="313.9" y2="342.1" stroke="#000" stroke-width="1.3"/>
<line x1="313.9" y1="139.4" x2="313.9" y2="145.4" stroke="#000" stroke-width="1.3"/>
<line x1="355.6" y1="348.1" x2="355.6" y2="342.1" stroke="#000" stroke-width="1.3"/>
<line x1="355.6" y1="139.4" x2="355.6" y2="145.4" stroke="#000" stroke-width="1.3"/>
<line x1="209.65" y1="348.1" x2="209.65" y2="344.6" stroke="#000" stroke-width="1.2"/>
<line x1="209.65" y1="139.4" x2="209.65" y2="142.9" stroke="#000" stroke-width="1.2"/>
<line x1="251.35" y1="348.1" x2="251.35" y2="344.6" stroke="#000" stroke-width="1.2"/>
<line x1="251.35" y1="139.4" x2="251.35" y2="142.9" stroke="#000" stroke-width="1.2"/>
<line x1="293.05" y1="348.1" x2="293.05" y2="344.6" stroke="#000" stroke-width="1.2"/>
<line x1="293.05" y1="139.4" x2="293.05" y2="142.9" stroke="#000" stroke-width="1.2"/>
<line x1="334.75" y1="348.1" x2="334.75" y2="344.6" stroke="#000" stroke-width="1.2"/>
<line x1="334.75" y1="139.4" x2="334.75" y2="142.9" stroke="#000" stroke-width="1.2"/>
<line x1="376.45" y1="348.1" x2="376.45" y2="344.6" stroke="#000" stroke-width="1.2"/>
<line x1="376.45" y1="139.4" x2="376.45" y2="142.9" stroke="#000" stroke-width="1.2"/>
<line x1="168.2" y1="322.1" x2="174.2" y2="322.1" stroke="#000" stroke-width="1.3"/>
<line x1="378.1" y1="322.1" x2="372.1" y2="322.1" stroke="#000" stroke-width="1.3"/>
<line x1="168.2" y1="296" x2="174.2" y2="296" stroke="#000" stroke-width="1.3"/>
<line x1="378.1" y1="296" x2="372.1" y2="296" stroke="#000" stroke-width="1.3"/>
<line x1="168.2" y1="269.9" x2="174.2" y2="269.9" stroke="#000" stroke-width="1.3"/>
<line x1="378.1" y1="269.9" x2="372.1" y2="269.9" stroke="#000" stroke-width="1.3"/>
<line x1="168.2" y1="243.8" x2="174.2" y2="243.8" stroke="#000" stroke-width="1.3"/>
<line x1="378.1" y1="243.8" x2="372.1" y2="243.8" stroke="#000" stroke-width="1.3"/>
<line x1="168.2" y1="217.7" x2="174.2" y2="217.7" stroke="#000" stroke-width="1.3"/>
<line x1="378.1" y1="217.7" x2="372.1" y2="217.7" stroke="#000" stroke-width="1.3"/>
<line x1="168.2" y1="191.6" x2="174.2" y2="191.6" stroke="#000" stroke-width="1.3"/>
<line x1="378.1" y1="191.6" x2="372.1" y2="191.6" stroke="#000" stroke-width="1.3"/>
<line x1="168.2" y1="165.5" x2="174.2" y2="165.5" stroke="#000" stroke-width="1.3"/>
<line x1="378.1" y1="165.5" x2="372.1" y2="165.5" stroke="#000" stroke-width="1.3"/>
<line x1="168.2" y1="340.34" x2="171.2" y2="340.34" stroke="#000" stroke-width="1"/>
<line x1="378.1" y1="340.34" x2="375.1" y2="340.34" stroke="#000" stroke-width="1"/>
<line x1="168.2" y1="335.75" x2="171.2" y2="335.75" stroke="#000" stroke-width="1"/>
<line x1="378.1" y1="335.75" x2="375.1" y2="335.75" stroke="#000" stroke-width="1"/>
<line x1="168.2" y1="332.49" x2="171.2" y2="332.49" stroke="#000" stroke-width="1"/>
<line x1="378.1" y1="332.49" x2="375.1" y2="332.49" stroke="#000" stroke-width="1"/>
<line x1="168.2" y1="329.96" x2="171.2" y2="329.96" stroke="#000" stroke-width="1"/>
<line x1="378.1" y1="329.96" x2="375.1" y2="329.96" stroke="#000" stroke-width="1"/>
<line x1="168.2" y1="327.89" x2="171.2" y2="327.89" stroke="#000" stroke-width="1"/>
<line x1="378.1" y1="327.89" x2="375.1" y2="327.89" stroke="#000" stroke-width="1"/>
<line x1="168.2" y1="326.14" x2="171.2" y2="326.14" stroke="#000" stroke-width="1"/>
<line x1="378.1" y1="326.14" x2="375.1" y2="326.14" stroke="#000" stroke-width="1"/>
<line x1="168.2" y1="324.63" x2="171.2" y2="324.63" stroke="#000" stroke-width="1"/>
<line x1="378.1" y1="324.63" x2="375.1" y2="324.63" stroke="#000" stroke-width="1"/>
<line x1="168.2" y1="323.29" x2="171.2" y2="323.29" stroke="#000" stroke-width="1"/>
<line x1="378.1" y1="323.29" x2="375.1" y2="323.29" stroke="#000" stroke-width="1"/>
<line x1="168.2" y1="314.24" x2="171.2" y2="314.24" stroke="#000" stroke-width="1"/>
<line x1="378.1" y1="314.24" x2="375.1" y2="314.24" stroke="#000" stroke-width="1"/>
<line x1="168.2" y1="309.65" x2="171.2" y2="309.65" stroke="#000" stroke-width="1"/>
<line x1="378.1" y1="309.65" x2="375.1" y2="309.65" stroke="#000" stroke-width="1"/>
<line x1="168.2" y1="306.39" x2="171.2" y2="306.39" stroke="#000" stroke-width="1"/>
<line x1="378.1" y1="306.39" x2="375.1" y2="306.39" stroke="#000" stroke-width="1"/>
<line x1="168.2" y1="303.86" x2="171.2" y2="303.86" stroke="#000" stroke-width="1"/>
<line x1="378.1" y1="303.86" x2="375.1" y2="303.86" stroke="#000" stroke-width="1"/>
<line x1="168.2" y1="301.79" x2="171.2" y2="301.79" stroke="#000" stroke-width="1"/>
<line x1="378.1" y1="301.79" x2="375.1" y2="301.79" stroke="#000" stroke-width="1"/>
<line x1="168.2" y1="300.04" x2="171.2" y2="300.04" stroke="#000" stroke-width="1"/>
<line x1="378.1" y1="300.04" x2="375.1" y2="300.04" stroke="#000" stroke-width="1"/>
<line x1="168.2" y1="298.53" x2="171.2" y2="298.53" stroke="#000" stroke-width="1"/>
<line x1="378.1" y1="298.53" x2="375.1" y2="298.53" stroke="#000" stroke-width="1"/>
<line x1="168.2" y1="297.19" x2="171.2" y2="297.19" stroke="#000" stroke-width="1"/>
<line x1="378.1" y1="297.19" x2="375.1" y2="297.19" stroke="#000" stroke-width="1"/>
<line x1="168.2" y1="288.14" x2="171.2" y2="288.14" stroke="#000" stroke-width="1"/>
<line x1="378.1" y1="288.14" x2="375.1" y2="288.14" stroke="#000" stroke-width="1"/>
<line x1="168.2" y1="283.55" x2="171.2" y2="283.55" stroke="#000" stroke-width="1"/>
<line x1="378.1" y1="283.55" x2="375.1" y2="283.55" stroke="#000" stroke-width="1"/>
<line x1="168.2" y1="280.29" x2="171.2" y2="280.29" stroke="#000" stroke-width="1"/>
<line x1="378.1" y1="280.29" x2="375.1" y2="280.29" stroke="#000" stroke-width="1"/>
<line x1="168.2" y1="277.76" x2="171.2" y2="277.76" stroke="#000" stroke-width="1"/>
<line x1="378.1" y1="277.76" x2="375.1" y2="277.76" stroke="#000" stroke-width="1"/>
<line x1="168.2" y1="275.69" x2="171.2" y2="275.69" stroke="#000" stroke-width="1"/>
<line x1="378.1" y1="275.69" x2="375.1" y2="275.69" stroke="#000" stroke-width="1"/>
<line x1="168.2" y1="273.94" x2="171.2" y2="273.94" stroke="#000" stroke-width="1"/>
<line x1="378.1" y1="273.94" x2="375.1" y2="273.94" stroke="#000" stroke-width="1"/>
<line x1="168.2" y1="272.43" x2="171.2" y2="272.43" stroke="#000" stroke-width="1"/>
<line x1="378.1" y1="272.43" x2="375.1" y2="272.43" stroke="#000" stroke-width="1"/>
<line x1="168.2" y1="271.09" x2="171.2" y2="271.09" stroke="#000" stroke-width="1"/>
<line x1="378.1" y1="271.09" x2="375.1" y2="271.09" stroke="#000" stroke-width="1"/>
<line x1="168.2" y1="262.04" x2="171.2" y2="262.04" stroke="#000" stroke-width="1"/>
<line x1="378.1" y1="262.04" x2="375.1" y2="262.04" stroke="#000" stroke-width="1"/>
<line x1="168.2" y1="257.45" x2="171.2" y2="257.45" stroke="#000" stroke-width="1"/>
<line x1="378.1" y1="257.45" x2="375.1" y2="257.45" stroke="#000" stroke-width="1"/>
<line x1="168.2" y1="254.19" x2="171.2" y2="254.19" stroke="#000" stroke-width="1"/>
<line x1="378.1" y1="254.19" x2="375.1" y2="254.19" stroke="#000" stroke-width="1"/>
<line x1="168.2" y1="251.66" x2="171.2" y2="251.66" stroke="#000" stroke-width="1"/>
<line x1="378.1" y1="251.66" x2="375.1" y2="251.66" stroke="#000" stroke-width="1"/>
<line x1="168.2" y1="249.59" x2="171.2" y2="249.59" stroke="#000" stroke-width="1"/>
<line x1="378.1" y1="249.59" x2="375.1" y2="249.59" stroke="#000" stroke-width="1"/>
<line x1="168.2" y1="247.84" x2="171.2" y2="247.84" stroke="#000" stroke-width="1"/>
<line x1="378.1" y1="247.84" x2="375.1" y2="247.84" stroke="#000" stroke-width="1"/>
<line x1="168.2" y1="246.33" x2="171.2" y2="246.33" stroke="#000" stroke-width="1"/>
<line x1="378.1" y1="246.33" x2="375.1" y2="246.33" stroke="#000" stroke-width="1"/>
<line x1="168.2" y1="244.99" x2="171.2" y2="244.99" stroke="#000" stroke-width="1"/>
<line x1="378.1" y1="244.99" x2="375.1" y2="244.99" stroke="#000" stroke-width="1"/>
<line x1="168.2" y1="235.94" x2="171.2" y2="235.94" stroke="#000" stroke-width="1"/>
<line x1="378.1" y1="235.94" x2="375.1" y2="235.94" stroke="#000" stroke-width="1"/>
<line x1="168.2" y1="231.35" x2="171.2" y2="231.35" stroke="#000" stroke-width="1"/>
<line x1="378.1" y1="231.35" x2="375.1" y2="231.35" stroke="#000" stroke-width="1"/>
<line x1="168.2" y1="228.09" x2="171.2" y2="228.09" stroke="#000" stroke-width="1"/>
<line x1="378.1" y1="228.09" x2="375.1" y2="228.09" stroke="#000" stroke-width="1"/>
<line x1="168.2" y1="225.56" x2="171.2" y2="225.56" stroke="#000" stroke-width="1"/>
<line x1="378.1" y1="225.56" x2="375.1" y2="225.56" stroke="#000" stroke-width="1"/>
<line x1="168.2" y1="223.49" x2="171.2" y2="223.49" stroke="#000" stroke-width="1"/>
<line x1="378.1" y1="223.49" x2="375.1" y2="223.49" stroke="#000" stroke-width="1"/>
<line x1="168.2" y1="221.74" x2="171.2" y2="221.74" stroke="#000" stroke-width="1"/>
<line x1="378.1" y1="221.74" x2="375.1" y2="221.74" stroke="#000" stroke-width="1"/>
<line x1="168.2" y1="220.23" x2="171.2" y2="220.23" stroke="#000" stroke-width="1"/>
<line x1="378.1" y1="220.23" x2="375.1" y2="220.23" stroke="#000" stroke-width="1"/>
<line x1="168.2" y1="218.89" x2="171.2" y2="218.89" stroke="#000" stroke-width="1"/>
<line x1="378.1" y1="218.89" x2="375.1" y2="218.89" stroke="#000" stroke-width="1"/>
<line x1="168.2" y1="209.84" x2="171.2" y2="209.84" stroke="#000" stroke-width="1"/>
<line x1="378.1" y1="209.84" x2="375.1" y2="209.84" stroke="#000" stroke-width="1"/>
<line x1="168.2" y1="205.25" x2="171.2" y2="205.25" stroke="#000" stroke-width="1"/>
<line x1="378.1" y1="205.25" x2="375.1" y2="205.25" stroke="#000" stroke-width="1"/>
<line x1="168.2" y1="201.99" x2="171.2" y2="201.99" stroke="#000" stroke-width="1"/>
<line x1="378.1" y1="201.99" x2="375.1" y2="201.99" stroke="#000" stroke-width="1"/>
<line x1="168.2" y1="199.46" x2="171.2" y2="199.46" stroke="#000" stroke-width="1"/>
<line x1="378.1" y1="199.46" x2="375.1" y2="199.46" stroke="#000" stroke-width="1"/>
<line x1="168.2" y1="197.39" x2="171.2" y2="197.39" stroke="#000" stroke-width="1"/>
<line x1="378.1" y1="197.39" x2="375.1" y2="197.39" stroke="#000" stroke-width="1"/>
<line x1="168.2" y1="195.64" x2="171.2" y2="195.64" stroke="#000" stroke-width="1"/>
<line x1="378.1" y1="195.64" x2="375.1" y2="195.64" stroke="#000" stroke-width="1"/>
<line x1="168.2" y1="194.13" x2="171.2" y2="194.13" stroke="#000" stroke-width="1"/>
<line x1="378.1" y1="194.13" x2="375.1" y2="194.13" stroke="#000" stroke-width="1"/>
<line x1="168.2" y1="192.79" x2="171.2" y2="192.79" stroke="#000" stroke-width="1"/>
<line x1="378.1" y1="192.79" x2="375.1" y2="192.79" stroke="#000" stroke-width="1"/>
<line x1="168.2" y1="183.74" x2="171.2" y2="183.74" stroke="#000" stroke-width="1"/>
<line x1="378.1" y1="183.74" x2="375.1" y2="183.74" stroke="#000" stroke-width="1"/>
<line x1="168.2" y1="179.15" x2="171.2" y2="179.15" stroke="#000" stroke-width="1"/>
<line x1="378.1" y1="179.15" x2="375.1" y2="179.15" stroke="#000" stroke-width="1"/>
<line x1="168.2" y1="175.89" x2="171.2" y2="175.89" stroke="#000" stroke-width="1"/>
<line x1="378.1" y1="175.89" x2="375.1" y2="175.89" stroke="#000" stroke-width="1"/>
<line x1="168.2" y1="173.36" x2="171.2" y2="173.36" stroke="#000" stroke-width="1"/>
<line x1="378.1" y1="173.36" x2="375.1" y2="173.36" stroke="#000" stroke-width="1"/>
<line x1="168.2" y1="171.29" x2="171.2" y2="171.29" stroke="#000" stroke-width="1"/>
<line x1="378.1" y1="171.29" x2="375.1" y2="171.29" stroke="#000" stroke-width="1"/>
<line x1="168.2" y1="169.54" x2="171.2" y2="169.54" stroke="#000" stroke-width="1"/>
<line x1="378.1" y1="169.54" x2="375.1" y2="169.54" stroke="#000" stroke-width="1"/>
<line x1="168.2" y1="168.03" x2="171.2" y2="168.03" stroke="#000" stroke-width="1"/>
<line x1="378.1" y1="168.03" x2="375.1" y2="168.03" stroke="#000" stroke-width="1"/>
<line x1="168.2" y1="166.69" x2="171.2" y2="166.69" stroke="#000" stroke-width="1"/>
<line x1="378.1" y1="166.69" x2="375.1" y2="166.69" stroke="#000" stroke-width="1"/>
<line x1="168.2" y1="157.64" x2="171.2" y2="157.64" stroke="#000" stroke-width="1"/>
<line x1="378.1" y1="157.64" x2="375.1" y2="157.64" stroke="#000" stroke-width="1"/>
<line x1="168.2" y1="153.05" x2="171.2" y2="153.05" stroke="#000" stroke-width="1"/>
<line x1="378.1" y1="153.05" x2="375.1" y2="153.05" stroke="#000" stroke-width="1"/>
<line x1="168.2" y1="149.79" x2="171.2" y2="149.79" stroke="#000" stroke-width="1"/>
<line x1="378.1" y1="149.79" x2="375.1" y2="149.79" stroke="#000" stroke-width="1"/>
<line x1="168.2" y1="147.26" x2="171.2" y2="147.26" stroke="#000" stroke-width="1"/>
<line x1="378.1" y1="147.26" x2="375.1" y2="147.26" stroke="#000" stroke-width="1"/>
<line x1="168.2" y1="145.19" x2="171.2" y2="145.19" stroke="#000" stroke-width="1"/>
<line x1="378.1" y1="145.19" x2="375.1" y2="145.19" stroke="#000" stroke-width="1"/>
<line x1="168.2" y1="143.44" x2="171.2" y2="143.44" stroke="#000" stroke-width="1"/>
<line x1="378.1" y1="143.44" x2="375.1" y2="143.44" stroke="#000" stroke-width="1"/>
<line x1="168.2" y1="141.93" x2="171.2" y2="141.93" stroke="#000" stroke-width="1"/>
<line x1="378.1" y1="141.93" x2="375.1" y2="141.93" stroke="#000" stroke-width="1"/>
<line x1="168.2" y1="140.59" x2="171.2" y2="140.59" stroke="#000" stroke-width="1"/>
<line x1="378.1" y1="140.59" x2="375.1" y2="140.59" stroke="#000" stroke-width="1"/>
<text x="187.3" y="372.5" font-size="20.5" text-anchor="middle" fill="#000" font-family="'Liberation Sans', Arial, sans-serif">-2</text>
<text x="230.5" y="372.5" font-size="20.5" text-anchor="middle" fill="#000" font-family="'Liberation Sans', Arial, sans-serif">0</text>
<text x="272.2" y="372.5" font-size="20.5" text-anchor="middle" fill="#000" font-family="'Liberation Sans', Arial, sans-serif">2</text>
<text x="313.9" y="372.5" font-size="20.5" text-anchor="middle" fill="#000" font-family="'Liberation Sans', Arial, sans-serif">4</text>
<text x="355.6" y="372.5" font-size="20.5" text-anchor="middle" fill="#000" font-family="'Liberation Sans', Arial, sans-serif">6</text>
<text x="151" y="146.4" font-size="20.5" text-anchor="end" fill="#000" font-family="'Liberation Sans', Arial, sans-serif">10</text>
<text x="152" y="135.9" font-size="13.5" fill="#000" font-family="'Liberation Sans', Arial, sans-serif">3</text>
<text x="151" y="198.6" font-size="20.5" text-anchor="end" fill="#000" font-family="'Liberation Sans', Arial, sans-serif">10</text>
<text x="152" y="188.1" font-size="13.5" fill="#000" font-family="'Liberation Sans', Arial, sans-serif">1</text>
<text x="151" y="250.8" font-size="20.5" text-anchor="end" fill="#000" font-family="'Liberation Sans', Arial, sans-serif">10</text>
<text x="152" y="240.3" font-size="13.5" fill="#000" font-family="'Liberation Sans', Arial, sans-serif">-1</text>
<text x="151" y="303" font-size="20.5" text-anchor="end" fill="#000" font-family="'Liberation Sans', Arial, sans-serif">10</text>
<text x="152" y="292.5" font-size="13.5" fill="#000" font-family="'Liberation Sans', Arial, sans-serif">-3</text>
<text x="151" y="355.2" font-size="20.5" text-anchor="end" fill="#000" font-family="'Liberation Sans', Arial, sans-serif">10</text>
<text x="152" y="344.7" font-size="13.5" fill="#000" font-family="'Liberation Sans', Arial, sans-serif">-5</text>
<text x="180.8" y="181.2" font-size="26.2" textLength="119.5" lengthAdjust="spacingAndGlyphs" fill="#000" font-family="'Liberation Sans', Arial, sans-serif">Inflection</text>
<text x="208.3" y="208.6" font-size="26.2" textLength="66.5" lengthAdjust="spacingAndGlyphs" fill="#000" font-family="'Liberation Sans', Arial, sans-serif">point</text>
<line x1="239.7" y1="223.6" x2="239.7" y2="264" stroke="#000" stroke-width="1.3" stroke-dasharray="4 3"/>
<polygon points="233.4,262.8 246,262.8 239.7,274.6" fill="#000"/>
<clipPath id="cb"><rect x="600.8" y="63" width="394.70000000000005" height="396.1"/></clipPath>
<rect x="600.8" y="63" width="394.7" height="396.1" fill="none" stroke="#000" stroke-width="1.5"/>
<line x1="731.9" y1="459.1" x2="731.9" y2="449.1" stroke="#000" stroke-width="1.4"/>
<line x1="731.9" y1="63" x2="731.9" y2="73" stroke="#000" stroke-width="1.4"/>
<line x1="864.8" y1="459.1" x2="864.8" y2="449.1" stroke="#000" stroke-width="1.4"/>
<line x1="864.8" y1="63" x2="864.8" y2="73" stroke="#000" stroke-width="1.4"/>
<line x1="639.01" y1="459.1" x2="639.01" y2="454.1" stroke="#000" stroke-width="1.4"/>
<line x1="639.01" y1="63" x2="639.01" y2="68" stroke="#000" stroke-width="1.4"/>
<line x1="662.41" y1="459.1" x2="662.41" y2="454.1" stroke="#000" stroke-width="1.4"/>
<line x1="662.41" y1="63" x2="662.41" y2="68" stroke="#000" stroke-width="1.4"/>
<line x1="679.01" y1="459.1" x2="679.01" y2="454.1" stroke="#000" stroke-width="1.4"/>
<line x1="679.01" y1="63" x2="679.01" y2="68" stroke="#000" stroke-width="1.4"/>
<line x1="691.89" y1="459.1" x2="691.89" y2="454.1" stroke="#000" stroke-width="1.4"/>
<line x1="691.89" y1="63" x2="691.89" y2="68" stroke="#000" stroke-width="1.4"/>
<line x1="702.42" y1="459.1" x2="702.42" y2="454.1" stroke="#000" stroke-width="1.4"/>
<line x1="702.42" y1="63" x2="702.42" y2="68" stroke="#000" stroke-width="1.4"/>
<line x1="711.31" y1="459.1" x2="711.31" y2="454.1" stroke="#000" stroke-width="1.4"/>
<line x1="711.31" y1="63" x2="711.31" y2="68" stroke="#000" stroke-width="1.4"/>
<line x1="719.02" y1="459.1" x2="719.02" y2="454.1" stroke="#000" stroke-width="1.4"/>
<line x1="719.02" y1="63" x2="719.02" y2="68" stroke="#000" stroke-width="1.4"/>
<line x1="725.82" y1="459.1" x2="725.82" y2="454.1" stroke="#000" stroke-width="1.4"/>
<line x1="725.82" y1="63" x2="725.82" y2="68" stroke="#000" stroke-width="1.4"/>
<line x1="771.91" y1="459.1" x2="771.91" y2="454.1" stroke="#000" stroke-width="1.4"/>
<line x1="771.91" y1="63" x2="771.91" y2="68" stroke="#000" stroke-width="1.4"/>
<line x1="795.31" y1="459.1" x2="795.31" y2="454.1" stroke="#000" stroke-width="1.4"/>
<line x1="795.31" y1="63" x2="795.31" y2="68" stroke="#000" stroke-width="1.4"/>
<line x1="811.91" y1="459.1" x2="811.91" y2="454.1" stroke="#000" stroke-width="1.4"/>
<line x1="811.91" y1="63" x2="811.91" y2="68" stroke="#000" stroke-width="1.4"/>
<line x1="824.79" y1="459.1" x2="824.79" y2="454.1" stroke="#000" stroke-width="1.4"/>
<line x1="824.79" y1="63" x2="824.79" y2="68" stroke="#000" stroke-width="1.4"/>
<line x1="835.32" y1="459.1" x2="835.32" y2="454.1" stroke="#000" stroke-width="1.4"/>
<line x1="835.32" y1="63" x2="835.32" y2="68" stroke="#000" stroke-width="1.4"/>
<line x1="844.21" y1="459.1" x2="844.21" y2="454.1" stroke="#000" stroke-width="1.4"/>
<line x1="844.21" y1="63" x2="844.21" y2="68" stroke="#000" stroke-width="1.4"/>
<line x1="851.92" y1="459.1" x2="851.92" y2="454.1" stroke="#000" stroke-width="1.4"/>
<line x1="851.92" y1="63" x2="851.92" y2="68" stroke="#000" stroke-width="1.4"/>
<line x1="858.72" y1="459.1" x2="858.72" y2="454.1" stroke="#000" stroke-width="1.4"/>
<line x1="858.72" y1="63" x2="858.72" y2="68" stroke="#000" stroke-width="1.4"/>
<line x1="904.81" y1="459.1" x2="904.81" y2="454.1" stroke="#000" stroke-width="1.4"/>
<line x1="904.81" y1="63" x2="904.81" y2="68" stroke="#000" stroke-width="1.4"/>
<line x1="928.21" y1="459.1" x2="928.21" y2="454.1" stroke="#000" stroke-width="1.4"/>
<line x1="928.21" y1="63" x2="928.21" y2="68" stroke="#000" stroke-width="1.4"/>
<line x1="944.81" y1="459.1" x2="944.81" y2="454.1" stroke="#000" stroke-width="1.4"/>
<line x1="944.81" y1="63" x2="944.81" y2="68" stroke="#000" stroke-width="1.4"/>
<line x1="957.69" y1="459.1" x2="957.69" y2="454.1" stroke="#000" stroke-width="1.4"/>
<line x1="957.69" y1="63" x2="957.69" y2="68" stroke="#000" stroke-width="1.4"/>
<line x1="968.22" y1="459.1" x2="968.22" y2="454.1" stroke="#000" stroke-width="1.4"/>
<line x1="968.22" y1="63" x2="968.22" y2="68" stroke="#000" stroke-width="1.4"/>
<line x1="977.11" y1="459.1" x2="977.11" y2="454.1" stroke="#000" stroke-width="1.4"/>
<line x1="977.11" y1="63" x2="977.11" y2="68" stroke="#000" stroke-width="1.4"/>
<line x1="984.82" y1="459.1" x2="984.82" y2="454.1" stroke="#000" stroke-width="1.4"/>
<line x1="984.82" y1="63" x2="984.82" y2="68" stroke="#000" stroke-width="1.4"/>
<line x1="991.62" y1="459.1" x2="991.62" y2="454.1" stroke="#000" stroke-width="1.4"/>
<line x1="991.62" y1="63" x2="991.62" y2="68" stroke="#000" stroke-width="1.4"/>
<line x1="600.8" y1="412" x2="610.8" y2="412" stroke="#000" stroke-width="1.4"/>
<line x1="995.5" y1="412" x2="985.5" y2="412" stroke="#000" stroke-width="1.4"/>
<line x1="600.8" y1="365.2" x2="610.8" y2="365.2" stroke="#000" stroke-width="1.4"/>
<line x1="995.5" y1="365.2" x2="985.5" y2="365.2" stroke="#000" stroke-width="1.4"/>
<line x1="600.8" y1="318.4" x2="610.8" y2="318.4" stroke="#000" stroke-width="1.4"/>
<line x1="995.5" y1="318.4" x2="985.5" y2="318.4" stroke="#000" stroke-width="1.4"/>
<line x1="600.8" y1="271.6" x2="610.8" y2="271.6" stroke="#000" stroke-width="1.4"/>
<line x1="995.5" y1="271.6" x2="985.5" y2="271.6" stroke="#000" stroke-width="1.4"/>
<line x1="600.8" y1="224.8" x2="610.8" y2="224.8" stroke="#000" stroke-width="1.4"/>
<line x1="995.5" y1="224.8" x2="985.5" y2="224.8" stroke="#000" stroke-width="1.4"/>
<line x1="600.8" y1="178" x2="610.8" y2="178" stroke="#000" stroke-width="1.4"/>
<line x1="995.5" y1="178" x2="985.5" y2="178" stroke="#000" stroke-width="1.4"/>
<line x1="600.8" y1="131.2" x2="610.8" y2="131.2" stroke="#000" stroke-width="1.4"/>
<line x1="995.5" y1="131.2" x2="985.5" y2="131.2" stroke="#000" stroke-width="1.4"/>
<line x1="600.8" y1="84.4" x2="610.8" y2="84.4" stroke="#000" stroke-width="1.4"/>
<line x1="995.5" y1="84.4" x2="985.5" y2="84.4" stroke="#000" stroke-width="1.4"/>
<line x1="600.8" y1="444.71" x2="605.8" y2="444.71" stroke="#000" stroke-width="1.4"/>
<line x1="995.5" y1="444.71" x2="990.5" y2="444.71" stroke="#000" stroke-width="1.4"/>
<line x1="600.8" y1="436.47" x2="605.8" y2="436.47" stroke="#000" stroke-width="1.4"/>
<line x1="995.5" y1="436.47" x2="990.5" y2="436.47" stroke="#000" stroke-width="1.4"/>
<line x1="600.8" y1="430.62" x2="605.8" y2="430.62" stroke="#000" stroke-width="1.4"/>
<line x1="995.5" y1="430.62" x2="990.5" y2="430.62" stroke="#000" stroke-width="1.4"/>
<line x1="600.8" y1="426.09" x2="605.8" y2="426.09" stroke="#000" stroke-width="1.4"/>
<line x1="995.5" y1="426.09" x2="990.5" y2="426.09" stroke="#000" stroke-width="1.4"/>
<line x1="600.8" y1="422.38" x2="605.8" y2="422.38" stroke="#000" stroke-width="1.4"/>
<line x1="995.5" y1="422.38" x2="990.5" y2="422.38" stroke="#000" stroke-width="1.4"/>
<line x1="600.8" y1="419.25" x2="605.8" y2="419.25" stroke="#000" stroke-width="1.4"/>
<line x1="995.5" y1="419.25" x2="990.5" y2="419.25" stroke="#000" stroke-width="1.4"/>
<line x1="600.8" y1="416.54" x2="605.8" y2="416.54" stroke="#000" stroke-width="1.4"/>
<line x1="995.5" y1="416.54" x2="990.5" y2="416.54" stroke="#000" stroke-width="1.4"/>
<line x1="600.8" y1="414.14" x2="605.8" y2="414.14" stroke="#000" stroke-width="1.4"/>
<line x1="995.5" y1="414.14" x2="990.5" y2="414.14" stroke="#000" stroke-width="1.4"/>
<line x1="600.8" y1="397.91" x2="605.8" y2="397.91" stroke="#000" stroke-width="1.4"/>
<line x1="995.5" y1="397.91" x2="990.5" y2="397.91" stroke="#000" stroke-width="1.4"/>
<line x1="600.8" y1="389.67" x2="605.8" y2="389.67" stroke="#000" stroke-width="1.4"/>
<line x1="995.5" y1="389.67" x2="990.5" y2="389.67" stroke="#000" stroke-width="1.4"/>
<line x1="600.8" y1="383.82" x2="605.8" y2="383.82" stroke="#000" stroke-width="1.4"/>
<line x1="995.5" y1="383.82" x2="990.5" y2="383.82" stroke="#000" stroke-width="1.4"/>
<line x1="600.8" y1="379.29" x2="605.8" y2="379.29" stroke="#000" stroke-width="1.4"/>
<line x1="995.5" y1="379.29" x2="990.5" y2="379.29" stroke="#000" stroke-width="1.4"/>
<line x1="600.8" y1="375.58" x2="605.8" y2="375.58" stroke="#000" stroke-width="1.4"/>
<line x1="995.5" y1="375.58" x2="990.5" y2="375.58" stroke="#000" stroke-width="1.4"/>
<line x1="600.8" y1="372.45" x2="605.8" y2="372.45" stroke="#000" stroke-width="1.4"/>
<line x1="995.5" y1="372.45" x2="990.5" y2="372.45" stroke="#000" stroke-width="1.4"/>
<line x1="600.8" y1="369.74" x2="605.8" y2="369.74" stroke="#000" stroke-width="1.4"/>
<line x1="995.5" y1="369.74" x2="990.5" y2="369.74" stroke="#000" stroke-width="1.4"/>
<line x1="600.8" y1="367.34" x2="605.8" y2="367.34" stroke="#000" stroke-width="1.4"/>
<line x1="995.5" y1="367.34" x2="990.5" y2="367.34" stroke="#000" stroke-width="1.4"/>
<line x1="600.8" y1="351.11" x2="605.8" y2="351.11" stroke="#000" stroke-width="1.4"/>
<line x1="995.5" y1="351.11" x2="990.5" y2="351.11" stroke="#000" stroke-width="1.4"/>
<line x1="600.8" y1="342.87" x2="605.8" y2="342.87" stroke="#000" stroke-width="1.4"/>
<line x1="995.5" y1="342.87" x2="990.5" y2="342.87" stroke="#000" stroke-width="1.4"/>
<line x1="600.8" y1="337.02" x2="605.8" y2="337.02" stroke="#000" stroke-width="1.4"/>
<line x1="995.5" y1="337.02" x2="990.5" y2="337.02" stroke="#000" stroke-width="1.4"/>
<line x1="600.8" y1="332.49" x2="605.8" y2="332.49" stroke="#000" stroke-width="1.4"/>
<line x1="995.5" y1="332.49" x2="990.5" y2="332.49" stroke="#000" stroke-width="1.4"/>
<line x1="600.8" y1="328.78" x2="605.8" y2="328.78" stroke="#000" stroke-width="1.4"/>
<line x1="995.5" y1="328.78" x2="990.5" y2="328.78" stroke="#000" stroke-width="1.4"/>
<line x1="600.8" y1="325.65" x2="605.8" y2="325.65" stroke="#000" stroke-width="1.4"/>
<line x1="995.5" y1="325.65" x2="990.5" y2="325.65" stroke="#000" stroke-width="1.4"/>
<line x1="600.8" y1="322.94" x2="605.8" y2="322.94" stroke="#000" stroke-width="1.4"/>
<line x1="995.5" y1="322.94" x2="990.5" y2="322.94" stroke="#000" stroke-width="1.4"/>
<line x1="600.8" y1="320.54" x2="605.8" y2="320.54" stroke="#000" stroke-width="1.4"/>
<line x1="995.5" y1="320.54" x2="990.5" y2="320.54" stroke="#000" stroke-width="1.4"/>
<line x1="600.8" y1="304.31" x2="605.8" y2="304.31" stroke="#000" stroke-width="1.4"/>
<line x1="995.5" y1="304.31" x2="990.5" y2="304.31" stroke="#000" stroke-width="1.4"/>
<line x1="600.8" y1="296.07" x2="605.8" y2="296.07" stroke="#000" stroke-width="1.4"/>
<line x1="995.5" y1="296.07" x2="990.5" y2="296.07" stroke="#000" stroke-width="1.4"/>
<line x1="600.8" y1="290.22" x2="605.8" y2="290.22" stroke="#000" stroke-width="1.4"/>
<line x1="995.5" y1="290.22" x2="990.5" y2="290.22" stroke="#000" stroke-width="1.4"/>
<line x1="600.8" y1="285.69" x2="605.8" y2="285.69" stroke="#000" stroke-width="1.4"/>
<line x1="995.5" y1="285.69" x2="990.5" y2="285.69" stroke="#000" stroke-width="1.4"/>
<line x1="600.8" y1="281.98" x2="605.8" y2="281.98" stroke="#000" stroke-width="1.4"/>
<line x1="995.5" y1="281.98" x2="990.5" y2="281.98" stroke="#000" stroke-width="1.4"/>
<line x1="600.8" y1="278.85" x2="605.8" y2="278.85" stroke="#000" stroke-width="1.4"/>
<line x1="995.5" y1="278.85" x2="990.5" y2="278.85" stroke="#000" stroke-width="1.4"/>
<line x1="600.8" y1="276.14" x2="605.8" y2="276.14" stroke="#000" stroke-width="1.4"/>
<line x1="995.5" y1="276.14" x2="990.5" y2="276.14" stroke="#000" stroke-width="1.4"/>
<line x1="600.8" y1="273.74" x2="605.8" y2="273.74" stroke="#000" stroke-width="1.4"/>
<line x1="995.5" y1="273.74" x2="990.5" y2="273.74" stroke="#000" stroke-width="1.4"/>
<line x1="600.8" y1="257.51" x2="605.8" y2="257.51" stroke="#000" stroke-width="1.4"/>
<line x1="995.5" y1="257.51" x2="990.5" y2="257.51" stroke="#000" stroke-width="1.4"/>
<line x1="600.8" y1="249.27" x2="605.8" y2="249.27" stroke="#000" stroke-width="1.4"/>
<line x1="995.5" y1="249.27" x2="990.5" y2="249.27" stroke="#000" stroke-width="1.4"/>
<line x1="600.8" y1="243.42" x2="605.8" y2="243.42" stroke="#000" stroke-width="1.4"/>
<line x1="995.5" y1="243.42" x2="990.5" y2="243.42" stroke="#000" stroke-width="1.4"/>
<line x1="600.8" y1="238.89" x2="605.8" y2="238.89" stroke="#000" stroke-width="1.4"/>
<line x1="995.5" y1="238.89" x2="990.5" y2="238.89" stroke="#000" stroke-width="1.4"/>
<line x1="600.8" y1="235.18" x2="605.8" y2="235.18" stroke="#000" stroke-width="1.4"/>
<line x1="995.5" y1="235.18" x2="990.5" y2="235.18" stroke="#000" stroke-width="1.4"/>
<line x1="600.8" y1="232.05" x2="605.8" y2="232.05" stroke="#000" stroke-width="1.4"/>
<line x1="995.5" y1="232.05" x2="990.5" y2="232.05" stroke="#000" stroke-width="1.4"/>
<line x1="600.8" y1="229.34" x2="605.8" y2="229.34" stroke="#000" stroke-width="1.4"/>
<line x1="995.5" y1="229.34" x2="990.5" y2="229.34" stroke="#000" stroke-width="1.4"/>
<line x1="600.8" y1="226.94" x2="605.8" y2="226.94" stroke="#000" stroke-width="1.4"/>
<line x1="995.5" y1="226.94" x2="990.5" y2="226.94" stroke="#000" stroke-width="1.4"/>
<line x1="600.8" y1="210.71" x2="605.8" y2="210.71" stroke="#000" stroke-width="1.4"/>
<line x1="995.5" y1="210.71" x2="990.5" y2="210.71" stroke="#000" stroke-width="1.4"/>
<line x1="600.8" y1="202.47" x2="605.8" y2="202.47" stroke="#000" stroke-width="1.4"/>
<line x1="995.5" y1="202.47" x2="990.5" y2="202.47" stroke="#000" stroke-width="1.4"/>
<line x1="600.8" y1="196.62" x2="605.8" y2="196.62" stroke="#000" stroke-width="1.4"/>
<line x1="995.5" y1="196.62" x2="990.5" y2="196.62" stroke="#000" stroke-width="1.4"/>
<line x1="600.8" y1="192.09" x2="605.8" y2="192.09" stroke="#000" stroke-width="1.4"/>
<line x1="995.5" y1="192.09" x2="990.5" y2="192.09" stroke="#000" stroke-width="1.4"/>
<line x1="600.8" y1="188.38" x2="605.8" y2="188.38" stroke="#000" stroke-width="1.4"/>
<line x1="995.5" y1="188.38" x2="990.5" y2="188.38" stroke="#000" stroke-width="1.4"/>
<line x1="600.8" y1="185.25" x2="605.8" y2="185.25" stroke="#000" stroke-width="1.4"/>
<line x1="995.5" y1="185.25" x2="990.5" y2="185.25" stroke="#000" stroke-width="1.4"/>
<line x1="600.8" y1="182.54" x2="605.8" y2="182.54" stroke="#000" stroke-width="1.4"/>
<line x1="995.5" y1="182.54" x2="990.5" y2="182.54" stroke="#000" stroke-width="1.4"/>
<line x1="600.8" y1="180.14" x2="605.8" y2="180.14" stroke="#000" stroke-width="1.4"/>
<line x1="995.5" y1="180.14" x2="990.5" y2="180.14" stroke="#000" stroke-width="1.4"/>
<line x1="600.8" y1="163.91" x2="605.8" y2="163.91" stroke="#000" stroke-width="1.4"/>
<line x1="995.5" y1="163.91" x2="990.5" y2="163.91" stroke="#000" stroke-width="1.4"/>
<line x1="600.8" y1="155.67" x2="605.8" y2="155.67" stroke="#000" stroke-width="1.4"/>
<line x1="995.5" y1="155.67" x2="990.5" y2="155.67" stroke="#000" stroke-width="1.4"/>
<line x1="600.8" y1="149.82" x2="605.8" y2="149.82" stroke="#000" stroke-width="1.4"/>
<line x1="995.5" y1="149.82" x2="990.5" y2="149.82" stroke="#000" stroke-width="1.4"/>
<line x1="600.8" y1="145.29" x2="605.8" y2="145.29" stroke="#000" stroke-width="1.4"/>
<line x1="995.5" y1="145.29" x2="990.5" y2="145.29" stroke="#000" stroke-width="1.4"/>
<line x1="600.8" y1="141.58" x2="605.8" y2="141.58" stroke="#000" stroke-width="1.4"/>
<line x1="995.5" y1="141.58" x2="990.5" y2="141.58" stroke="#000" stroke-width="1.4"/>
<line x1="600.8" y1="138.45" x2="605.8" y2="138.45" stroke="#000" stroke-width="1.4"/>
<line x1="995.5" y1="138.45" x2="990.5" y2="138.45" stroke="#000" stroke-width="1.4"/>
<line x1="600.8" y1="135.74" x2="605.8" y2="135.74" stroke="#000" stroke-width="1.4"/>
<line x1="995.5" y1="135.74" x2="990.5" y2="135.74" stroke="#000" stroke-width="1.4"/>
<line x1="600.8" y1="133.34" x2="605.8" y2="133.34" stroke="#000" stroke-width="1.4"/>
<line x1="995.5" y1="133.34" x2="990.5" y2="133.34" stroke="#000" stroke-width="1.4"/>
<line x1="600.8" y1="117.11" x2="605.8" y2="117.11" stroke="#000" stroke-width="1.4"/>
<line x1="995.5" y1="117.11" x2="990.5" y2="117.11" stroke="#000" stroke-width="1.4"/>
<line x1="600.8" y1="108.87" x2="605.8" y2="108.87" stroke="#000" stroke-width="1.4"/>
<line x1="995.5" y1="108.87" x2="990.5" y2="108.87" stroke="#000" stroke-width="1.4"/>
<line x1="600.8" y1="103.02" x2="605.8" y2="103.02" stroke="#000" stroke-width="1.4"/>
<line x1="995.5" y1="103.02" x2="990.5" y2="103.02" stroke="#000" stroke-width="1.4"/>
<line x1="600.8" y1="98.49" x2="605.8" y2="98.49" stroke="#000" stroke-width="1.4"/>
<line x1="995.5" y1="98.49" x2="990.5" y2="98.49" stroke="#000" stroke-width="1.4"/>
<line x1="600.8" y1="94.78" x2="605.8" y2="94.78" stroke="#000" stroke-width="1.4"/>
<line x1="995.5" y1="94.78" x2="990.5" y2="94.78" stroke="#000" stroke-width="1.4"/>
<line x1="600.8" y1="91.65" x2="605.8" y2="91.65" stroke="#000" stroke-width="1.4"/>
<line x1="995.5" y1="91.65" x2="990.5" y2="91.65" stroke="#000" stroke-width="1.4"/>
<line x1="600.8" y1="88.94" x2="605.8" y2="88.94" stroke="#000" stroke-width="1.4"/>
<line x1="995.5" y1="88.94" x2="990.5" y2="88.94" stroke="#000" stroke-width="1.4"/>
<line x1="600.8" y1="86.54" x2="605.8" y2="86.54" stroke="#000" stroke-width="1.4"/>
<line x1="995.5" y1="86.54" x2="990.5" y2="86.54" stroke="#000" stroke-width="1.4"/>
<line x1="600.8" y1="70.31" x2="605.8" y2="70.31" stroke="#000" stroke-width="1.4"/>
<line x1="995.5" y1="70.31" x2="990.5" y2="70.31" stroke="#000" stroke-width="1.4"/>
<g clip-path="url(#cb)">
<line x1="647.8" y1="428.5" x2="673.7" y2="419.6" stroke="#000" stroke-width="1.3" stroke-dasharray="5 3"/>
<line x1="687.7" y1="413.6" x2="697.7" y2="408.6" stroke="#000" stroke-width="1.3" stroke-dasharray="5 3"/>
<line x1="710.6" y1="401.6" x2="712.6" y2="403.6" stroke="#000" stroke-width="1.3"/>
<line x1="647.8" y1="439.5" x2="673.7" y2="430.6" stroke="#1a1aff" stroke-width="1.3" stroke-dasharray="5 3"/>
<line x1="687.7" y1="422.6" x2="697.7" y2="418.6" stroke="#1a1aff" stroke-width="1.3" stroke-dasharray="5 3"/>
<line x1="710.6" y1="411.6" x2="712.6" y2="410.6" stroke="#1a1aff" stroke-width="1.3"/>
<circle cx="639.01" cy="431.45" r="4.9" fill="#ff0" stroke="#000" stroke-width="1.1"/>
<circle cx="731.9" cy="391.25" r="3.9" fill="#ff0" stroke="#000" stroke-width="1.1"/>
<circle cx="765.83" cy="376.12" r="3.9" fill="#ff0" stroke="#000" stroke-width="1.1"/>
<circle cx="787.05" cy="366.96" r="3.9" fill="#ff0" stroke="#000" stroke-width="1.1"/>
<circle cx="802.53" cy="360.57" r="3.9" fill="#ff0" stroke="#000" stroke-width="1.1"/>
<circle cx="814.73" cy="356.2" r="3.9" fill="#ff0" stroke="#000" stroke-width="1.1"/>
<circle cx="824.79" cy="351.9" r="3.9" fill="#ff0" stroke="#000" stroke-width="1.1"/>
<circle cx="833.36" cy="347.55" r="3.9" fill="#ff0" stroke="#000" stroke-width="1.1"/>
<circle cx="840.82" cy="343.35" r="3.9" fill="#ff0" stroke="#000" stroke-width="1.1"/>
<circle cx="847.42" cy="339.55" r="3.9" fill="#ff0" stroke="#000" stroke-width="1.1"/>
<circle cx="853.35" cy="335.99" r="3.9" fill="#ff0" stroke="#000" stroke-width="1.1"/>
<circle cx="858.72" cy="332.77" r="3.9" fill="#ff0" stroke="#000" stroke-width="1.1"/>
<circle cx="863.63" cy="329.58" r="3.9" fill="#ff0" stroke="#000" stroke-width="1.1"/>
<circle cx="868.16" cy="326.56" r="3.9" fill="#ff0" stroke="#000" stroke-width="1.1"/>
<circle cx="872.36" cy="323.76" r="3.9" fill="#ff0" stroke="#000" stroke-width="1.1"/>
<circle cx="876.28" cy="320.9" r="3.9" fill="#ff0" stroke="#000" stroke-width="1.1"/>
<circle cx="879.94" cy="317.72" r="3.9" fill="#ff0" stroke="#000" stroke-width="1.1"/>
<circle cx="883.39" cy="314.74" r="3.9" fill="#ff0" stroke="#000" stroke-width="1.1"/>
<circle cx="886.64" cy="311.93" r="3.9" fill="#ff0" stroke="#000" stroke-width="1.1"/>
<circle cx="889.72" cy="310.06" r="3.9" fill="#ff0" stroke="#000" stroke-width="1.1"/>
<circle cx="892.64" cy="308.62" r="3.9" fill="#ff0" stroke="#000" stroke-width="1.1"/>
<circle cx="895.43" cy="307.25" r="3.9" fill="#ff0" stroke="#000" stroke-width="1.1"/>
<circle cx="898.08" cy="305.94" r="3.9" fill="#ff0" stroke="#000" stroke-width="1.1"/>
<circle cx="900.62" cy="304.33" r="3.9" fill="#ff0" stroke="#000" stroke-width="1.1"/>
<circle cx="903.05" cy="301.7" r="3.9" fill="#ff0" stroke="#000" stroke-width="1.1"/>
<circle cx="905.38" cy="299.17" r="3.9" fill="#ff0" stroke="#000" stroke-width="1.1"/>
<circle cx="907.62" cy="296.74" r="3.9" fill="#ff0" stroke="#000" stroke-width="1.1"/>
<circle cx="909.78" cy="294.4" r="3.9" fill="#ff0" stroke="#000" stroke-width="1.1"/>
<circle cx="911.86" cy="292.15" r="3.9" fill="#ff0" stroke="#000" stroke-width="1.1"/>
<circle cx="913.87" cy="287.97" r="3.9" fill="#ff0" stroke="#000" stroke-width="1.1"/>
<circle cx="915.81" cy="283.8" r="3.9" fill="#ff0" stroke="#000" stroke-width="1.1"/>
<circle cx="917.69" cy="279.75" r="3.9" fill="#ff0" stroke="#000" stroke-width="1.1"/>
<circle cx="919.5" cy="275.84" r="3.9" fill="#ff0" stroke="#000" stroke-width="1.1"/>
<circle cx="921.27" cy="272.04" r="3.9" fill="#ff0" stroke="#000" stroke-width="1.1"/>
<circle cx="922.98" cy="268.36" r="3.9" fill="#ff0" stroke="#000" stroke-width="1.1"/>
<circle cx="924.64" cy="264.78" r="3.9" fill="#ff0" stroke="#000" stroke-width="1.1"/>
<circle cx="926.25" cy="261.49" r="3.9" fill="#ff0" stroke="#000" stroke-width="1.1"/>
<circle cx="927.82" cy="258.35" r="3.9" fill="#ff0" stroke="#000" stroke-width="1.1"/>
<circle cx="929.35" cy="255.3" r="3.9" fill="#ff0" stroke="#000" stroke-width="1.1"/>
<circle cx="930.84" cy="252.32" r="3.9" fill="#ff0" stroke="#000" stroke-width="1.1"/>
<circle cx="932.29" cy="249.41" r="3.9" fill="#ff0" stroke="#000" stroke-width="1.1"/>
<circle cx="933.71" cy="246.58" r="3.9" fill="#ff0" stroke="#000" stroke-width="1.1"/>
<circle cx="935.09" cy="243.81" r="3.9" fill="#ff0" stroke="#000" stroke-width="1.1"/>
<circle cx="936.44" cy="241.11" r="3.9" fill="#ff0" stroke="#000" stroke-width="1.1"/>
<circle cx="937.76" cy="238.06" r="3.9" fill="#ff0" stroke="#000" stroke-width="1.1"/>
<circle cx="939.05" cy="234.78" r="3.9" fill="#ff0" stroke="#000" stroke-width="1.1"/>
<circle cx="940.31" cy="231.56" r="3.9" fill="#ff0" stroke="#000" stroke-width="1.1"/>
<circle cx="941.55" cy="228.42" r="3.9" fill="#ff0" stroke="#000" stroke-width="1.1"/>
<circle cx="942.76" cy="225.34" r="3.9" fill="#ff0" stroke="#000" stroke-width="1.1"/>
<circle cx="943.94" cy="222.33" r="3.9" fill="#ff0" stroke="#000" stroke-width="1.1"/>
<circle cx="945.1" cy="219.38" r="3.9" fill="#ff0" stroke="#000" stroke-width="1.1"/>
<circle cx="946.24" cy="216.48" r="3.9" fill="#ff0" stroke="#000" stroke-width="1.1"/>
<circle cx="947.35" cy="213.64" r="3.9" fill="#ff0" stroke="#000" stroke-width="1.1"/>
<circle cx="948.45" cy="210.8" r="3.9" fill="#ff0" stroke="#000" stroke-width="1.1"/>
<circle cx="949.52" cy="207.94" r="3.9" fill="#ff0" stroke="#000" stroke-width="1.1"/>
<circle cx="950.58" cy="205.13" r="3.9" fill="#ff0" stroke="#000" stroke-width="1.1"/>
<circle cx="951.61" cy="202.37" r="3.9" fill="#ff0" stroke="#000" stroke-width="1.1"/>
<circle cx="952.63" cy="199.66" r="3.9" fill="#ff0" stroke="#000" stroke-width="1.1"/>
<circle cx="953.63" cy="196.99" r="3.9" fill="#ff0" stroke="#000" stroke-width="1.1"/>
<circle cx="954.61" cy="194.37" r="3.9" fill="#ff0" stroke="#000" stroke-width="1.1"/>
<circle cx="955.58" cy="191.79" r="3.9" fill="#ff0" stroke="#000" stroke-width="1.1"/>
<circle cx="956.53" cy="189.26" r="3.9" fill="#ff0" stroke="#000" stroke-width="1.1"/>
<circle cx="957.46" cy="186.61" r="3.9" fill="#ff0" stroke="#000" stroke-width="1.1"/>
<circle cx="958.38" cy="183.86" r="3.9" fill="#ff0" stroke="#000" stroke-width="1.1"/>
<circle cx="959.29" cy="181.14" r="3.9" fill="#ff0" stroke="#000" stroke-width="1.1"/>
<circle cx="960.18" cy="178.46" r="3.9" fill="#ff0" stroke="#000" stroke-width="1.1"/>
<circle cx="961.06" cy="175.83" r="3.9" fill="#ff0" stroke="#000" stroke-width="1.1"/>
<circle cx="961.92" cy="173.24" r="3.9" fill="#ff0" stroke="#000" stroke-width="1.1"/>
<circle cx="962.77" cy="170.68" r="3.9" fill="#ff0" stroke="#000" stroke-width="1.1"/>
<circle cx="963.61" cy="168.16" r="3.9" fill="#ff0" stroke="#000" stroke-width="1.1"/>
<circle cx="964.44" cy="165.68" r="3.9" fill="#ff0" stroke="#000" stroke-width="1.1"/>
<circle cx="965.26" cy="162.98" r="3.9" fill="#ff0" stroke="#000" stroke-width="1.1"/>
<circle cx="966.06" cy="159.76" r="3.9" fill="#ff0" stroke="#000" stroke-width="1.1"/>
<circle cx="966.85" cy="156.59" r="3.9" fill="#ff0" stroke="#000" stroke-width="1.1"/>
<circle cx="967.64" cy="153.46" r="3.9" fill="#ff0" stroke="#000" stroke-width="1.1"/>
<circle cx="968.41" cy="150.37" r="3.9" fill="#ff0" stroke="#000" stroke-width="1.1"/>
<circle cx="969.17" cy="147.32" r="3.9" fill="#ff0" stroke="#000" stroke-width="1.1"/>
<circle cx="969.92" cy="144.31" r="3.9" fill="#ff0" stroke="#000" stroke-width="1.1"/>
<circle cx="970.66" cy="141.34" r="3.9" fill="#ff0" stroke="#000" stroke-width="1.1"/>
<circle cx="971.4" cy="138.41" r="3.9" fill="#ff0" stroke="#000" stroke-width="1.1"/>
<circle cx="972.12" cy="135.32" r="3.9" fill="#ff0" stroke="#000" stroke-width="1.1"/>
<circle cx="972.84" cy="131.32" r="3.9" fill="#ff0" stroke="#000" stroke-width="1.1"/>
<circle cx="973.54" cy="127.36" r="3.9" fill="#ff0" stroke="#000" stroke-width="1.1"/>
<circle cx="974.24" cy="123.46" r="3.9" fill="#ff0" stroke="#000" stroke-width="1.1"/>
<circle cx="974.93" cy="119.6" r="3.9" fill="#ff0" stroke="#000" stroke-width="1.1"/>
<circle cx="975.61" cy="115.78" r="3.9" fill="#ff0" stroke="#000" stroke-width="1.1"/>
<circle cx="976.28" cy="112.01" r="3.9" fill="#ff0" stroke="#000" stroke-width="1.1"/>
<circle cx="976.95" cy="108.29" r="3.9" fill="#ff0" stroke="#000" stroke-width="1.1"/>
<rect x="634.76" y="435.71" width="8.5" height="8.5" fill="#f0f" stroke="#000" stroke-width="1.2"/>
<rect x="727.65" y="396.95" width="8.5" height="8.5" fill="#f0f" stroke="#000" stroke-width="1.2"/>
<rect x="761.58" y="383.28" width="8.5" height="8.5" fill="#f0f" stroke="#000" stroke-width="1.2"/>
<rect x="782.8" y="375.04" width="8.5" height="8.5" fill="#f0f" stroke="#000" stroke-width="1.2"/>
<rect x="798.28" y="368.95" width="8.5" height="8.5" fill="#f0f" stroke="#000" stroke-width="1.2"/>
<rect x="810.48" y="363.89" width="8.5" height="8.5" fill="#f0f" stroke="#000" stroke-width="1.2"/>
<rect x="820.54" y="359.23" width="8.5" height="8.5" fill="#f0f" stroke="#000" stroke-width="1.2"/>
<rect x="829.11" y="354.63" width="8.5" height="8.5" fill="#f0f" stroke="#000" stroke-width="1.2"/>
<rect x="836.57" y="350.65" width="8.5" height="8.5" fill="#f0f" stroke="#000" stroke-width="1.2"/>
<rect x="843.17" y="347.13" width="8.5" height="8.5" fill="#f0f" stroke="#000" stroke-width="1.2"/>
<rect x="849.1" y="343.74" width="8.5" height="8.5" fill="#f0f" stroke="#000" stroke-width="1.2"/>
<rect x="854.47" y="340.52" width="8.5" height="8.5" fill="#f0f" stroke="#000" stroke-width="1.2"/>
<rect x="859.38" y="337.57" width="8.5" height="8.5" fill="#f0f" stroke="#000" stroke-width="1.2"/>
<rect x="863.91" y="334.22" width="8.5" height="8.5" fill="#f0f" stroke="#000" stroke-width="1.2"/>
<rect x="868.11" y="330.86" width="8.5" height="8.5" fill="#f0f" stroke="#000" stroke-width="1.2"/>
<rect x="872.03" y="327.73" width="8.5" height="8.5" fill="#f0f" stroke="#000" stroke-width="1.2"/>
<rect x="875.69" y="324.8" width="8.5" height="8.5" fill="#f0f" stroke="#000" stroke-width="1.2"/>
<rect x="879.14" y="321.02" width="8.5" height="8.5" fill="#f0f" stroke="#000" stroke-width="1.2"/>
<rect x="882.39" y="317.44" width="8.5" height="8.5" fill="#f0f" stroke="#000" stroke-width="1.2"/>
<rect x="885.47" y="314.06" width="8.5" height="8.5" fill="#f0f" stroke="#000" stroke-width="1.2"/>
<rect x="888.39" y="309.64" width="8.5" height="8.5" fill="#f0f" stroke="#000" stroke-width="1.2"/>
<rect x="891.18" y="305.31" width="8.5" height="8.5" fill="#f0f" stroke="#000" stroke-width="1.2"/>
<rect x="893.83" y="301.18" width="8.5" height="8.5" fill="#f0f" stroke="#000" stroke-width="1.2"/>
<rect x="896.37" y="296.47" width="8.5" height="8.5" fill="#f0f" stroke="#000" stroke-width="1.2"/>
<rect x="898.8" y="291.55" width="8.5" height="8.5" fill="#f0f" stroke="#000" stroke-width="1.2"/>
<rect x="901.13" y="286.82" width="8.5" height="8.5" fill="#f0f" stroke="#000" stroke-width="1.2"/>
<rect x="903.37" y="282.28" width="8.5" height="8.5" fill="#f0f" stroke="#000" stroke-width="1.2"/>
<rect x="905.53" y="277.91" width="8.5" height="8.5" fill="#f0f" stroke="#000" stroke-width="1.2"/>
<rect x="907.61" y="273.7" width="8.5" height="8.5" fill="#f0f" stroke="#000" stroke-width="1.2"/>
<rect x="909.62" y="269.63" width="8.5" height="8.5" fill="#f0f" stroke="#000" stroke-width="1.2"/>
<rect x="911.56" y="265.42" width="8.5" height="8.5" fill="#f0f" stroke="#000" stroke-width="1.2"/>
<rect x="913.44" y="261.21" width="8.5" height="8.5" fill="#f0f" stroke="#000" stroke-width="1.2"/>
<rect x="915.25" y="257.14" width="8.5" height="8.5" fill="#f0f" stroke="#000" stroke-width="1.2"/>
<rect x="917.02" y="253.19" width="8.5" height="8.5" fill="#f0f" stroke="#000" stroke-width="1.2"/>
<rect x="918.73" y="249.36" width="8.5" height="8.5" fill="#f0f" stroke="#000" stroke-width="1.2"/>
<rect x="920.39" y="245.64" width="8.5" height="8.5" fill="#f0f" stroke="#000" stroke-width="1.2"/>
<rect x="922" y="242.02" width="8.5" height="8.5" fill="#f0f" stroke="#000" stroke-width="1.2"/>
<rect x="923.57" y="237.95" width="8.5" height="8.5" fill="#f0f" stroke="#000" stroke-width="1.2"/>
<rect x="925.1" y="233.49" width="8.5" height="8.5" fill="#f0f" stroke="#000" stroke-width="1.2"/>
<rect x="926.59" y="229.15" width="8.5" height="8.5" fill="#f0f" stroke="#000" stroke-width="1.2"/>
<rect x="928.04" y="224.92" width="8.5" height="8.5" fill="#f0f" stroke="#000" stroke-width="1.2"/>
<rect x="929.46" y="220.79" width="8.5" height="8.5" fill="#f0f" stroke="#000" stroke-width="1.2"/>
<rect x="930.84" y="216.76" width="8.5" height="8.5" fill="#f0f" stroke="#000" stroke-width="1.2"/>
<rect x="932.19" y="212.83" width="8.5" height="8.5" fill="#f0f" stroke="#000" stroke-width="1.2"/>
<rect x="933.51" y="209.02" width="8.5" height="8.5" fill="#f0f" stroke="#000" stroke-width="1.2"/>
<rect x="934.8" y="205.46" width="8.5" height="8.5" fill="#f0f" stroke="#000" stroke-width="1.2"/>
<rect x="936.06" y="201.98" width="8.5" height="8.5" fill="#f0f" stroke="#000" stroke-width="1.2"/>
<rect x="937.3" y="198.57" width="8.5" height="8.5" fill="#f0f" stroke="#000" stroke-width="1.2"/>
<rect x="938.51" y="195.23" width="8.5" height="8.5" fill="#f0f" stroke="#000" stroke-width="1.2"/>
<rect x="939.69" y="191.96" width="8.5" height="8.5" fill="#f0f" stroke="#000" stroke-width="1.2"/>
<rect x="940.85" y="188.75" width="8.5" height="8.5" fill="#f0f" stroke="#000" stroke-width="1.2"/>
<rect x="941.99" y="185.61" width="8.5" height="8.5" fill="#f0f" stroke="#000" stroke-width="1.2"/>
<rect x="943.1" y="182.53" width="8.5" height="8.5" fill="#f0f" stroke="#000" stroke-width="1.2"/>
<rect x="944.2" y="179.43" width="8.5" height="8.5" fill="#f0f" stroke="#000" stroke-width="1.2"/>
<rect x="945.27" y="176.27" width="8.5" height="8.5" fill="#f0f" stroke="#000" stroke-width="1.2"/>
<rect x="946.33" y="173.17" width="8.5" height="8.5" fill="#f0f" stroke="#000" stroke-width="1.2"/>
<rect x="947.36" y="170.13" width="8.5" height="8.5" fill="#f0f" stroke="#000" stroke-width="1.2"/>
<rect x="948.38" y="167.14" width="8.5" height="8.5" fill="#f0f" stroke="#000" stroke-width="1.2"/>
<rect x="949.38" y="164.2" width="8.5" height="8.5" fill="#f0f" stroke="#000" stroke-width="1.2"/>
<rect x="950.36" y="161.31" width="8.5" height="8.5" fill="#f0f" stroke="#000" stroke-width="1.2"/>
<rect x="951.33" y="158.46" width="8.5" height="8.5" fill="#f0f" stroke="#000" stroke-width="1.2"/>
<rect x="952.28" y="155.67" width="8.5" height="8.5" fill="#f0f" stroke="#000" stroke-width="1.2"/>
<rect x="953.21" y="152.92" width="8.5" height="8.5" fill="#f0f" stroke="#000" stroke-width="1.2"/>
<rect x="954.13" y="150.2" width="8.5" height="8.5" fill="#f0f" stroke="#000" stroke-width="1.2"/>
<rect x="955.04" y="147.54" width="8.5" height="8.5" fill="#f0f" stroke="#000" stroke-width="1.2"/>
<rect x="955.93" y="144.91" width="8.5" height="8.5" fill="#f0f" stroke="#000" stroke-width="1.2"/>
<rect x="956.81" y="142.32" width="8.5" height="8.5" fill="#f0f" stroke="#000" stroke-width="1.2"/>
<rect x="957.67" y="139.77" width="8.5" height="8.5" fill="#f0f" stroke="#000" stroke-width="1.2"/>
<rect x="958.52" y="137.26" width="8.5" height="8.5" fill="#f0f" stroke="#000" stroke-width="1.2"/>
<rect x="959.36" y="134.79" width="8.5" height="8.5" fill="#f0f" stroke="#000" stroke-width="1.2"/>
<rect x="960.19" y="132.35" width="8.5" height="8.5" fill="#f0f" stroke="#000" stroke-width="1.2"/>
<rect x="961.01" y="129.94" width="8.5" height="8.5" fill="#f0f" stroke="#000" stroke-width="1.2"/>
<rect x="961.81" y="127.56" width="8.5" height="8.5" fill="#f0f" stroke="#000" stroke-width="1.2"/>
<rect x="962.6" y="125.05" width="8.5" height="8.5" fill="#f0f" stroke="#000" stroke-width="1.2"/>
<rect x="963.39" y="122.57" width="8.5" height="8.5" fill="#f0f" stroke="#000" stroke-width="1.2"/>
<rect x="964.16" y="120.12" width="8.5" height="8.5" fill="#f0f" stroke="#000" stroke-width="1.2"/>
<rect x="964.92" y="117.71" width="8.5" height="8.5" fill="#f0f" stroke="#000" stroke-width="1.2"/>
<rect x="965.67" y="115.33" width="8.5" height="8.5" fill="#f0f" stroke="#000" stroke-width="1.2"/>
<rect x="966.41" y="112.98" width="8.5" height="8.5" fill="#f0f" stroke="#000" stroke-width="1.2"/>
<rect x="967.15" y="110.66" width="8.5" height="8.5" fill="#f0f" stroke="#000" stroke-width="1.2"/>
<rect x="967.87" y="108.24" width="8.5" height="8.5" fill="#f0f" stroke="#000" stroke-width="1.2"/>
<rect x="968.59" y="105.27" width="8.5" height="8.5" fill="#f0f" stroke="#000" stroke-width="1.2"/>
<rect x="969.29" y="102.32" width="8.5" height="8.5" fill="#f0f" stroke="#000" stroke-width="1.2"/>
<rect x="969.99" y="99.42" width="8.5" height="8.5" fill="#f0f" stroke="#000" stroke-width="1.2"/>
<rect x="970.68" y="96.55" width="8.5" height="8.5" fill="#f0f" stroke="#000" stroke-width="1.2"/>
<rect x="971.36" y="93.71" width="8.5" height="8.5" fill="#f0f" stroke="#000" stroke-width="1.2"/>
<rect x="972.03" y="90.9" width="8.5" height="8.5" fill="#f0f" stroke="#000" stroke-width="1.2"/>
<rect x="972.7" y="88.75" width="8.5" height="8.5" fill="#f0f" stroke="#000" stroke-width="1.2"/>
<polygon points="639.01,437.21 644.51,446.71 633.51,446.71" fill="#0ff" stroke="#1a1aff" stroke-width="1.1"/>
<polygon points="731.9,398.44 737.4,407.94 726.4,407.94" fill="#0ff" stroke="#1a1aff" stroke-width="1.1"/>
<polygon points="765.83,384.58 771.33,394.08 760.33,394.08" fill="#0ff" stroke="#1a1aff" stroke-width="1.1"/>
<polygon points="787.05,376.34 792.55,385.84 781.55,385.84" fill="#0ff" stroke="#1a1aff" stroke-width="1.1"/>
<polygon points="802.53,370.24 808.03,379.74 797.03,379.74" fill="#0ff" stroke="#1a1aff" stroke-width="1.1"/>
<polygon points="814.73,365.16 820.23,374.66 809.23,374.66" fill="#0ff" stroke="#1a1aff" stroke-width="1.1"/>
<polygon points="824.79,360.98 830.29,370.48 819.29,370.48" fill="#0ff" stroke="#1a1aff" stroke-width="1.1"/>
<polygon points="833.36,357.01 838.86,366.51 827.86,366.51" fill="#0ff" stroke="#1a1aff" stroke-width="1.1"/>
<polygon points="840.82,353.54 846.32,363.04 835.32,363.04" fill="#0ff" stroke="#1a1aff" stroke-width="1.1"/>
<polygon points="847.42,350.45 852.92,359.95 841.92,359.95" fill="#0ff" stroke="#1a1aff" stroke-width="1.1"/>
<polygon points="853.35,347.47 858.85,356.97 847.85,356.97" fill="#0ff" stroke="#1a1aff" stroke-width="1.1"/>
<polygon points="858.72,344.6 864.22,354.1 853.22,354.1" fill="#0ff" stroke="#1a1aff" stroke-width="1.1"/>
<polygon points="863.63,341.98 869.13,351.48 858.13,351.48" fill="#0ff" stroke="#1a1aff" stroke-width="1.1"/>
<polygon points="868.16,339.14 873.66,348.64 862.66,348.64" fill="#0ff" stroke="#1a1aff" stroke-width="1.1"/>
<polygon points="872.36,336.34 877.86,345.84 866.86,345.84" fill="#0ff" stroke="#1a1aff" stroke-width="1.1"/>
<polygon points="876.28,333.73 881.78,343.23 870.78,343.23" fill="#0ff" stroke="#1a1aff" stroke-width="1.1"/>
<polygon points="879.94,331.29 885.44,340.79 874.44,340.79" fill="#0ff" stroke="#1a1aff" stroke-width="1.1"/>
<polygon points="883.39,328.12 888.89,337.62 877.89,337.62" fill="#0ff" stroke="#1a1aff" stroke-width="1.1"/>
<polygon points="886.64,325.12 892.14,334.62 881.14,334.62" fill="#0ff" stroke="#1a1aff" stroke-width="1.1"/>
<polygon points="889.72,322.28 895.22,331.78 884.22,331.78" fill="#0ff" stroke="#1a1aff" stroke-width="1.1"/>
<polygon points="892.64,319.58 898.14,329.08 887.14,329.08" fill="#0ff" stroke="#1a1aff" stroke-width="1.1"/>
<polygon points="895.43,317.93 900.93,327.43 889.93,327.43" fill="#0ff" stroke="#1a1aff" stroke-width="1.1"/>
<polygon points="898.08,316.48 903.58,325.98 892.58,325.98" fill="#0ff" stroke="#1a1aff" stroke-width="1.1"/>
<polygon points="900.62,315.09 906.12,324.59 895.12,324.59" fill="#0ff" stroke="#1a1aff" stroke-width="1.1"/>
<polygon points="903.05,313.77 908.55,323.27 897.55,323.27" fill="#0ff" stroke="#1a1aff" stroke-width="1.1"/>
<polygon points="905.38,309.87 910.88,319.37 899.88,319.37" fill="#0ff" stroke="#1a1aff" stroke-width="1.1"/>
<polygon points="907.62,304.39 913.12,313.89 902.12,313.89" fill="#0ff" stroke="#1a1aff" stroke-width="1.1"/>
<polygon points="909.78,299.12 915.28,308.62 904.28,308.62" fill="#0ff" stroke="#1a1aff" stroke-width="1.1"/>
<polygon points="911.86,294.03 917.36,303.53 906.36,303.53" fill="#0ff" stroke="#1a1aff" stroke-width="1.1"/>
<polygon points="913.87,288.43 919.37,297.93 908.37,297.93" fill="#0ff" stroke="#1a1aff" stroke-width="1.1"/>
<polygon points="915.81,282.12 921.31,291.62 910.31,291.62" fill="#0ff" stroke="#1a1aff" stroke-width="1.1"/>
<polygon points="917.69,276.02 923.19,285.52 912.19,285.52" fill="#0ff" stroke="#1a1aff" stroke-width="1.1"/>
<polygon points="919.5,270.11 925,279.61 914,279.61" fill="#0ff" stroke="#1a1aff" stroke-width="1.1"/>
<polygon points="921.27,264.52 926.77,274.02 915.77,274.02" fill="#0ff" stroke="#1a1aff" stroke-width="1.1"/>
<polygon points="922.98,259.86 928.48,269.36 917.48,269.36" fill="#0ff" stroke="#1a1aff" stroke-width="1.1"/>
<polygon points="924.64,255.33 930.14,264.83 919.14,264.83" fill="#0ff" stroke="#1a1aff" stroke-width="1.1"/>
<polygon points="926.25,250.92 931.75,260.42 920.75,260.42" fill="#0ff" stroke="#1a1aff" stroke-width="1.1"/>
<polygon points="927.82,246.64 933.32,256.14 922.32,256.14" fill="#0ff" stroke="#1a1aff" stroke-width="1.1"/>
<polygon points="929.35,242.47 934.85,251.97 923.85,251.97" fill="#0ff" stroke="#1a1aff" stroke-width="1.1"/>
<polygon points="930.84,238.41 936.34,247.91 925.34,247.91" fill="#0ff" stroke="#1a1aff" stroke-width="1.1"/>
<polygon points="932.29,234.41 937.79,243.91 926.79,243.91" fill="#0ff" stroke="#1a1aff" stroke-width="1.1"/>
<polygon points="933.71,230.39 939.21,239.89 928.21,239.89" fill="#0ff" stroke="#1a1aff" stroke-width="1.1"/>
<polygon points="935.09,226.46 940.59,235.96 929.59,235.96" fill="#0ff" stroke="#1a1aff" stroke-width="1.1"/>
<polygon points="936.44,222.62 941.94,232.12 930.94,232.12" fill="#0ff" stroke="#1a1aff" stroke-width="1.1"/>
<polygon points="937.76,218.87 943.26,228.37 932.26,228.37" fill="#0ff" stroke="#1a1aff" stroke-width="1.1"/>
<polygon points="939.05,215.21 944.55,224.71 933.55,224.71" fill="#0ff" stroke="#1a1aff" stroke-width="1.1"/>
<polygon points="940.31,211.62 945.81,221.12 934.81,221.12" fill="#0ff" stroke="#1a1aff" stroke-width="1.1"/>
<polygon points="941.55,208.12 947.05,217.62 936.05,217.62" fill="#0ff" stroke="#1a1aff" stroke-width="1.1"/>
<polygon points="942.76,204.81 948.26,214.31 937.26,214.31" fill="#0ff" stroke="#1a1aff" stroke-width="1.1"/>
<polygon points="943.94,201.57 949.44,211.07 938.44,211.07" fill="#0ff" stroke="#1a1aff" stroke-width="1.1"/>
<polygon points="945.1,198.39 950.6,207.89 939.6,207.89" fill="#0ff" stroke="#1a1aff" stroke-width="1.1"/>
<polygon points="946.24,195.28 951.74,204.78 940.74,204.78" fill="#0ff" stroke="#1a1aff" stroke-width="1.1"/>
<polygon points="947.35,192.23 952.85,201.73 941.85,201.73" fill="#0ff" stroke="#1a1aff" stroke-width="1.1"/>
<polygon points="948.45,189.23 953.95,198.73 942.95,198.73" fill="#0ff" stroke="#1a1aff" stroke-width="1.1"/>
<polygon points="949.52,186.29 955.02,195.79 944.02,195.79" fill="#0ff" stroke="#1a1aff" stroke-width="1.1"/>
<polygon points="950.58,183.41 956.08,192.91 945.08,192.91" fill="#0ff" stroke="#1a1aff" stroke-width="1.1"/>
<polygon points="951.61,180.55 957.11,190.05 946.11,190.05" fill="#0ff" stroke="#1a1aff" stroke-width="1.1"/>
<polygon points="952.63,177.72 958.13,187.22 947.13,187.22" fill="#0ff" stroke="#1a1aff" stroke-width="1.1"/>
<polygon points="953.63,174.95 959.13,184.45 948.13,184.45" fill="#0ff" stroke="#1a1aff" stroke-width="1.1"/>
<polygon points="954.61,172.22 960.11,181.72 949.11,181.72" fill="#0ff" stroke="#1a1aff" stroke-width="1.1"/>
<polygon points="955.58,169.54 961.08,179.04 950.08,179.04" fill="#0ff" stroke="#1a1aff" stroke-width="1.1"/>
<polygon points="956.53,166.9 962.03,176.4 951.03,176.4" fill="#0ff" stroke="#1a1aff" stroke-width="1.1"/>
<polygon points="957.46,164.3 962.96,173.8 951.96,173.8" fill="#0ff" stroke="#1a1aff" stroke-width="1.1"/>
<polygon points="958.38,161.75 963.88,171.25 952.88,171.25" fill="#0ff" stroke="#1a1aff" stroke-width="1.1"/>
<polygon points="959.29,159.23 964.79,168.73 953.79,168.73" fill="#0ff" stroke="#1a1aff" stroke-width="1.1"/>
<polygon points="960.18,156.69 965.68,166.19 954.68,166.19" fill="#0ff" stroke="#1a1aff" stroke-width="1.1"/>
<polygon points="961.06,153.95 966.56,163.45 955.56,163.45" fill="#0ff" stroke="#1a1aff" stroke-width="1.1"/>
<polygon points="961.92,151.25 967.42,160.75 956.42,160.75" fill="#0ff" stroke="#1a1aff" stroke-width="1.1"/>
<polygon points="962.77,148.58 968.27,158.08 957.27,158.08" fill="#0ff" stroke="#1a1aff" stroke-width="1.1"/>
<polygon points="963.61,145.96 969.11,155.46 958.11,155.46" fill="#0ff" stroke="#1a1aff" stroke-width="1.1"/>
<polygon points="964.44,143.38 969.94,152.88 958.94,152.88" fill="#0ff" stroke="#1a1aff" stroke-width="1.1"/>
<polygon points="965.26,140.83 970.76,150.33 959.76,150.33" fill="#0ff" stroke="#1a1aff" stroke-width="1.1"/>
<polygon points="966.06,138.31 971.56,147.81 960.56,147.81" fill="#0ff" stroke="#1a1aff" stroke-width="1.1"/>
<polygon points="966.85,135.83 972.35,145.33 961.35,145.33" fill="#0ff" stroke="#1a1aff" stroke-width="1.1"/>
<polygon points="967.64,133.39 973.14,142.89 962.14,142.89" fill="#0ff" stroke="#1a1aff" stroke-width="1.1"/>
<polygon points="968.41,130.77 973.91,140.27 962.91,140.27" fill="#0ff" stroke="#1a1aff" stroke-width="1.1"/>
<polygon points="969.17,127.99 974.67,137.49 963.67,137.49" fill="#0ff" stroke="#1a1aff" stroke-width="1.1"/>
<polygon points="969.92,125.26 975.42,134.76 964.42,134.76" fill="#0ff" stroke="#1a1aff" stroke-width="1.1"/>
<polygon points="970.66,122.56 976.16,132.06 965.16,132.06" fill="#0ff" stroke="#1a1aff" stroke-width="1.1"/>
<polygon points="971.4,119.89 976.9,129.39 965.9,129.39" fill="#0ff" stroke="#1a1aff" stroke-width="1.1"/>
<polygon points="972.12,117.26 977.62,126.76 966.62,126.76" fill="#0ff" stroke="#1a1aff" stroke-width="1.1"/>
<polygon points="972.84,114.66 978.34,124.16 967.34,124.16" fill="#0ff" stroke="#1a1aff" stroke-width="1.1"/>
<polygon points="973.54,111.9 979.04,121.4 968.04,121.4" fill="#0ff" stroke="#1a1aff" stroke-width="1.1"/>
<polygon points="974.24,106.2 979.74,115.7 968.74,115.7" fill="#0ff" stroke="#1a1aff" stroke-width="1.1"/>
<polygon points="974.93,100.56 980.43,110.06 969.43,110.06" fill="#0ff" stroke="#1a1aff" stroke-width="1.1"/>
<polygon points="975.61,94.99 981.11,104.49 970.11,104.49" fill="#0ff" stroke="#1a1aff" stroke-width="1.1"/>
<polygon points="976.28,89.48 981.78,98.98 970.78,98.98" fill="#0ff" stroke="#1a1aff" stroke-width="1.1"/>
<polygon points="976.95,85.25 982.45,94.75 971.45,94.75" fill="#0ff" stroke="#1a1aff" stroke-width="1.1"/>
<line x1="629.5" y1="453.5" x2="935.8" y2="315.9" stroke="#f01010" stroke-width="3"/>
<line x1="881" y1="363.8" x2="985.5" y2="71.4" stroke="#f01010" stroke-width="3"/>
<line x1="618.9" y1="395.7" x2="618.9" y2="440" stroke="#000" stroke-width="1.3" stroke-dasharray="4 3"/>
<polygon points="613.4,439.5 624.4,439.5 618.9,451.5" fill="#000"/>
</g>
<text x="683.7" y="360.8" font-size="33" textLength="60" lengthAdjust="spacingAndGlyphs" fill="#000" font-family="'Liberation Sans', Arial, sans-serif">J∝V</text>
<text x="749.6" y="348.8" font-size="21.5" textLength="30.5" lengthAdjust="spacingAndGlyphs" fill="#000" font-family="'Liberation Sans', Arial, sans-serif">1.2</text>
<text x="829.2" y="159.3" font-size="33" textLength="64" lengthAdjust="spacingAndGlyphs" fill="#000" font-family="'Liberation Sans', Arial, sans-serif">J∝V</text>
<text x="896.4" y="147.6" font-size="21.5" textLength="30.5" lengthAdjust="spacingAndGlyphs" fill="#000" font-family="'Liberation Sans', Arial, sans-serif">8.4</text>
<text x="599.2" y="490.9" font-size="29.4" text-anchor="middle" textLength="54.36" lengthAdjust="spacingAndGlyphs" fill="#000" font-family="'Liberation Sans', Arial, sans-serif">0.01</text>
<text x="731.9" y="490.9" font-size="29.4" text-anchor="middle" textLength="38.83" lengthAdjust="spacingAndGlyphs" fill="#000" font-family="'Liberation Sans', Arial, sans-serif">0.1</text>
<text x="864.8" y="490.9" font-size="29.4" text-anchor="middle" fill="#000" font-family="'Liberation Sans', Arial, sans-serif">1</text>
<text x="995.3" y="490.9" font-size="29.4" text-anchor="middle" textLength="31.07" lengthAdjust="spacingAndGlyphs" fill="#000" font-family="'Liberation Sans', Arial, sans-serif">10</text>
<text x="580.7" y="94.4" font-size="29.4" text-anchor="end" fill="#000" font-family="'Liberation Sans', Arial, sans-serif">10</text>
<text x="580.1" y="75.9" font-size="17.4" fill="#000" font-family="'Liberation Sans', Arial, sans-serif">3</text>
<text x="580.7" y="188" font-size="29.4" text-anchor="end" fill="#000" font-family="'Liberation Sans', Arial, sans-serif">10</text>
<text x="580.1" y="169.5" font-size="17.4" fill="#000" font-family="'Liberation Sans', Arial, sans-serif">1</text>
<text x="580.7" y="281.6" font-size="29.4" text-anchor="end" fill="#000" font-family="'Liberation Sans', Arial, sans-serif">10</text>
<text x="580.1" y="263.1" font-size="17.4" fill="#000" font-family="'Liberation Sans', Arial, sans-serif">-1</text>
<text x="580.7" y="375.2" font-size="29.4" text-anchor="end" fill="#000" font-family="'Liberation Sans', Arial, sans-serif">10</text>
<text x="580.1" y="356.7" font-size="17.4" fill="#000" font-family="'Liberation Sans', Arial, sans-serif">-3</text>
<text x="580.7" y="468.8" font-size="29.4" text-anchor="end" fill="#000" font-family="'Liberation Sans', Arial, sans-serif">10</text>
<text x="580.1" y="450.3" font-size="17.4" fill="#000" font-family="'Liberation Sans', Arial, sans-serif">-5</text>
<text x="721.6" y="518" font-size="28.6" textLength="138.5" lengthAdjust="spacingAndGlyphs" fill="#000" font-family="'Liberation Sans', Arial, sans-serif">Voltage (V)</text>
<text x="0" y="0" font-size="28.6" text-anchor="middle" font-family="'Liberation Sans', Arial, sans-serif" transform="translate(535.9,253.4) rotate(-90)" textLength="317.6" lengthAdjust="spacingAndGlyphs">Current density (mA cm<tspan font-size="16.02" dy="-17.16">-2</tspan><tspan dy="17.16">)</tspan></text>
<text x="623.7" y="108.2" font-size="40.5" fill="#000" font-family="'Liberation Sans', Arial, sans-serif">(b)</text>
<clipPath id="cc"><rect x="1102.9" y="63.4" width="396.39999999999986" height="394.8"/></clipPath>
<rect x="1102.9" y="63.4" width="396.4" height="394.8" fill="none" stroke="#000" stroke-width="1.5"/>
<line x1="1158.85" y1="458.2" x2="1158.85" y2="448.2" stroke="#000" stroke-width="1.4"/>
<line x1="1158.85" y1="63.4" x2="1158.85" y2="73.4" stroke="#000" stroke-width="1.4"/>
<line x1="1215.3" y1="458.2" x2="1215.3" y2="448.2" stroke="#000" stroke-width="1.4"/>
<line x1="1215.3" y1="63.4" x2="1215.3" y2="73.4" stroke="#000" stroke-width="1.4"/>
<line x1="1271.75" y1="458.2" x2="1271.75" y2="448.2" stroke="#000" stroke-width="1.4"/>
<line x1="1271.75" y1="63.4" x2="1271.75" y2="73.4" stroke="#000" stroke-width="1.4"/>
<line x1="1328.2" y1="458.2" x2="1328.2" y2="448.2" stroke="#000" stroke-width="1.4"/>
<line x1="1328.2" y1="63.4" x2="1328.2" y2="73.4" stroke="#000" stroke-width="1.4"/>
<line x1="1384.65" y1="458.2" x2="1384.65" y2="448.2" stroke="#000" stroke-width="1.4"/>
<line x1="1384.65" y1="63.4" x2="1384.65" y2="73.4" stroke="#000" stroke-width="1.4"/>
<line x1="1441.1" y1="458.2" x2="1441.1" y2="448.2" stroke="#000" stroke-width="1.4"/>
<line x1="1441.1" y1="63.4" x2="1441.1" y2="73.4" stroke="#000" stroke-width="1.4"/>
<line x1="1130.62" y1="458.2" x2="1130.62" y2="453.2" stroke="#000" stroke-width="1.4"/>
<line x1="1130.62" y1="63.4" x2="1130.62" y2="68.4" stroke="#000" stroke-width="1.4"/>
<line x1="1187.08" y1="458.2" x2="1187.08" y2="453.2" stroke="#000" stroke-width="1.4"/>
<line x1="1187.08" y1="63.4" x2="1187.08" y2="68.4" stroke="#000" stroke-width="1.4"/>
<line x1="1243.53" y1="458.2" x2="1243.53" y2="453.2" stroke="#000" stroke-width="1.4"/>
<line x1="1243.53" y1="63.4" x2="1243.53" y2="68.4" stroke="#000" stroke-width="1.4"/>
<line x1="1299.98" y1="458.2" x2="1299.98" y2="453.2" stroke="#000" stroke-width="1.4"/>
<line x1="1299.98" y1="63.4" x2="1299.98" y2="68.4" stroke="#000" stroke-width="1.4"/>
<line x1="1356.43" y1="458.2" x2="1356.43" y2="453.2" stroke="#000" stroke-width="1.4"/>
<line x1="1356.43" y1="63.4" x2="1356.43" y2="68.4" stroke="#000" stroke-width="1.4"/>
<line x1="1412.88" y1="458.2" x2="1412.88" y2="453.2" stroke="#000" stroke-width="1.4"/>
<line x1="1412.88" y1="63.4" x2="1412.88" y2="68.4" stroke="#000" stroke-width="1.4"/>
<line x1="1469.33" y1="458.2" x2="1469.33" y2="453.2" stroke="#000" stroke-width="1.4"/>
<line x1="1469.33" y1="63.4" x2="1469.33" y2="68.4" stroke="#000" stroke-width="1.4"/>
<line x1="1102.9" y1="364.7" x2="1112.9" y2="364.7" stroke="#000" stroke-width="1.4"/>
<line x1="1499.3" y1="364.7" x2="1489.3" y2="364.7" stroke="#000" stroke-width="1.4"/>
<line x1="1102.9" y1="273.2" x2="1112.9" y2="273.2" stroke="#000" stroke-width="1.4"/>
<line x1="1499.3" y1="273.2" x2="1489.3" y2="273.2" stroke="#000" stroke-width="1.4"/>
<line x1="1102.9" y1="181.7" x2="1112.9" y2="181.7" stroke="#000" stroke-width="1.4"/>
<line x1="1499.3" y1="181.7" x2="1489.3" y2="181.7" stroke="#000" stroke-width="1.4"/>
<line x1="1102.9" y1="90.2" x2="1112.9" y2="90.2" stroke="#000" stroke-width="1.4"/>
<line x1="1499.3" y1="90.2" x2="1489.3" y2="90.2" stroke="#000" stroke-width="1.4"/>
<line x1="1102.9" y1="428.66" x2="1107.9" y2="428.66" stroke="#000" stroke-width="1.4"/>
<line x1="1499.3" y1="428.66" x2="1494.3" y2="428.66" stroke="#000" stroke-width="1.4"/>
<line x1="1102.9" y1="412.54" x2="1107.9" y2="412.54" stroke="#000" stroke-width="1.4"/>
<line x1="1499.3" y1="412.54" x2="1494.3" y2="412.54" stroke="#000" stroke-width="1.4"/>
<line x1="1102.9" y1="401.11" x2="1107.9" y2="401.11" stroke="#000" stroke-width="1.4"/>
<line x1="1499.3" y1="401.11" x2="1494.3" y2="401.11" stroke="#000" stroke-width="1.4"/>
<line x1="1102.9" y1="392.24" x2="1107.9" y2="392.24" stroke="#000" stroke-width="1.4"/>
<line x1="1499.3" y1="392.24" x2="1494.3" y2="392.24" stroke="#000" stroke-width="1.4"/>
<line x1="1102.9" y1="385" x2="1107.9" y2="385" stroke="#000" stroke-width="1.4"/>
<line x1="1499.3" y1="385" x2="1494.3" y2="385" stroke="#000" stroke-width="1.4"/>
<line x1="1102.9" y1="378.87" x2="1107.9" y2="378.87" stroke="#000" stroke-width="1.4"/>
<line x1="1499.3" y1="378.87" x2="1494.3" y2="378.87" stroke="#000" stroke-width="1.4"/>
<line x1="1102.9" y1="373.57" x2="1107.9" y2="373.57" stroke="#000" stroke-width="1.4"/>
<line x1="1499.3" y1="373.57" x2="1494.3" y2="373.57" stroke="#000" stroke-width="1.4"/>
<line x1="1102.9" y1="368.89" x2="1107.9" y2="368.89" stroke="#000" stroke-width="1.4"/>
<line x1="1499.3" y1="368.89" x2="1494.3" y2="368.89" stroke="#000" stroke-width="1.4"/>
<line x1="1102.9" y1="337.16" x2="1107.9" y2="337.16" stroke="#000" stroke-width="1.4"/>
<line x1="1499.3" y1="337.16" x2="1494.3" y2="337.16" stroke="#000" stroke-width="1.4"/>
<line x1="1102.9" y1="321.04" x2="1107.9" y2="321.04" stroke="#000" stroke-width="1.4"/>
<line x1="1499.3" y1="321.04" x2="1494.3" y2="321.04" stroke="#000" stroke-width="1.4"/>
<line x1="1102.9" y1="309.61" x2="1107.9" y2="309.61" stroke="#000" stroke-width="1.4"/>
<line x1="1499.3" y1="309.61" x2="1494.3" y2="309.61" stroke="#000" stroke-width="1.4"/>
<line x1="1102.9" y1="300.74" x2="1107.9" y2="300.74" stroke="#000" stroke-width="1.4"/>
<line x1="1499.3" y1="300.74" x2="1494.3" y2="300.74" stroke="#000" stroke-width="1.4"/>
<line x1="1102.9" y1="293.5" x2="1107.9" y2="293.5" stroke="#000" stroke-width="1.4"/>
<line x1="1499.3" y1="293.5" x2="1494.3" y2="293.5" stroke="#000" stroke-width="1.4"/>
<line x1="1102.9" y1="287.37" x2="1107.9" y2="287.37" stroke="#000" stroke-width="1.4"/>
<line x1="1499.3" y1="287.37" x2="1494.3" y2="287.37" stroke="#000" stroke-width="1.4"/>
<line x1="1102.9" y1="282.07" x2="1107.9" y2="282.07" stroke="#000" stroke-width="1.4"/>
<line x1="1499.3" y1="282.07" x2="1494.3" y2="282.07" stroke="#000" stroke-width="1.4"/>
<line x1="1102.9" y1="277.39" x2="1107.9" y2="277.39" stroke="#000" stroke-width="1.4"/>
<line x1="1499.3" y1="277.39" x2="1494.3" y2="277.39" stroke="#000" stroke-width="1.4"/>
<line x1="1102.9" y1="245.66" x2="1107.9" y2="245.66" stroke="#000" stroke-width="1.4"/>
<line x1="1499.3" y1="245.66" x2="1494.3" y2="245.66" stroke="#000" stroke-width="1.4"/>
<line x1="1102.9" y1="229.54" x2="1107.9" y2="229.54" stroke="#000" stroke-width="1.4"/>
<line x1="1499.3" y1="229.54" x2="1494.3" y2="229.54" stroke="#000" stroke-width="1.4"/>
<line x1="1102.9" y1="218.11" x2="1107.9" y2="218.11" stroke="#000" stroke-width="1.4"/>
<line x1="1499.3" y1="218.11" x2="1494.3" y2="218.11" stroke="#000" stroke-width="1.4"/>
<line x1="1102.9" y1="209.24" x2="1107.9" y2="209.24" stroke="#000" stroke-width="1.4"/>
<line x1="1499.3" y1="209.24" x2="1494.3" y2="209.24" stroke="#000" stroke-width="1.4"/>
<line x1="1102.9" y1="202" x2="1107.9" y2="202" stroke="#000" stroke-width="1.4"/>
<line x1="1499.3" y1="202" x2="1494.3" y2="202" stroke="#000" stroke-width="1.4"/>
<line x1="1102.9" y1="195.87" x2="1107.9" y2="195.87" stroke="#000" stroke-width="1.4"/>
<line x1="1499.3" y1="195.87" x2="1494.3" y2="195.87" stroke="#000" stroke-width="1.4"/>
<line x1="1102.9" y1="190.57" x2="1107.9" y2="190.57" stroke="#000" stroke-width="1.4"/>
<line x1="1499.3" y1="190.57" x2="1494.3" y2="190.57" stroke="#000" stroke-width="1.4"/>
<line x1="1102.9" y1="185.89" x2="1107.9" y2="185.89" stroke="#000" stroke-width="1.4"/>
<line x1="1499.3" y1="185.89" x2="1494.3" y2="185.89" stroke="#000" stroke-width="1.4"/>
<line x1="1102.9" y1="154.16" x2="1107.9" y2="154.16" stroke="#000" stroke-width="1.4"/>
<line x1="1499.3" y1="154.16" x2="1494.3" y2="154.16" stroke="#000" stroke-width="1.4"/>
<line x1="1102.9" y1="138.04" x2="1107.9" y2="138.04" stroke="#000" stroke-width="1.4"/>
<line x1="1499.3" y1="138.04" x2="1494.3" y2="138.04" stroke="#000" stroke-width="1.4"/>
<line x1="1102.9" y1="126.61" x2="1107.9" y2="126.61" stroke="#000" stroke-width="1.4"/>
<line x1="1499.3" y1="126.61" x2="1494.3" y2="126.61" stroke="#000" stroke-width="1.4"/>
<line x1="1102.9" y1="117.74" x2="1107.9" y2="117.74" stroke="#000" stroke-width="1.4"/>
<line x1="1499.3" y1="117.74" x2="1494.3" y2="117.74" stroke="#000" stroke-width="1.4"/>
<line x1="1102.9" y1="110.5" x2="1107.9" y2="110.5" stroke="#000" stroke-width="1.4"/>
<line x1="1499.3" y1="110.5" x2="1494.3" y2="110.5" stroke="#000" stroke-width="1.4"/>
<line x1="1102.9" y1="104.37" x2="1107.9" y2="104.37" stroke="#000" stroke-width="1.4"/>
<line x1="1499.3" y1="104.37" x2="1494.3" y2="104.37" stroke="#000" stroke-width="1.4"/>
<line x1="1102.9" y1="99.07" x2="1107.9" y2="99.07" stroke="#000" stroke-width="1.4"/>
<line x1="1499.3" y1="99.07" x2="1494.3" y2="99.07" stroke="#000" stroke-width="1.4"/>
<line x1="1102.9" y1="94.39" x2="1107.9" y2="94.39" stroke="#000" stroke-width="1.4"/>
<line x1="1499.3" y1="94.39" x2="1494.3" y2="94.39" stroke="#000" stroke-width="1.4"/>
<g clip-path="url(#cc)">
<polyline points="1331.02,500 1331.73,496.01 1332.41,492.28 1333.06,488.7 1333.71,485.15 1334.37,481.53 1335.06,477.72 1335.79,473.63 1336.57,469.13 1337.42,464.12 1338.36,458.5 1339.38,452.42 1340.45,446.1 1341.57,439.47 1342.75,432.5 1343.97,425.14 1345.24,417.32 1346.56,409.01 1347.93,400.15 1349.33,390.7 1350.78,380.6 1352.29,369.19 1353.88,356.15 1355.53,341.96 1357.23,327.08 1358.97,311.98 1360.72,297.14 1362.49,283.02 1364.26,270.09 1366,258.83 1367.72,249.7 1369.41,242.77 1371.1,237.58 1372.8,233.83 1374.49,231.21 1376.18,229.44 1377.88,228.19 1379.57,227.18 1381.26,226.1 1382.96,224.64 1384.65,222.5 1386.34,219.95 1388.04,217.46 1389.73,215.01 1391.42,212.59 1393.12,210.19 1394.81,207.81 1396.5,205.43 1398.2,203.04 1399.89,200.63 1401.59,198.2 1403.28,195.74 1404.97,193.25 1406.67,190.75 1408.36,188.24 1410.05,185.74 1411.75,183.24 1413.44,180.76 1415.13,178.31 1416.83,175.88 1418.52,173.5 1420.21,171.12 1421.91,168.7 1423.6,166.28 1425.29,163.88 1426.99,161.51 1428.68,159.2 1430.37,156.97 1432.07,154.84 1433.76,152.85 1435.46,151 1437.15,149.2 1438.84,147.36 1440.54,145.55 1442.23,143.82 1443.92,142.22 1445.62,140.81 1447.31,139.65 1449,138.79 1450.7,138.29 1452.39,138.2 1454.08,138.48 1455.78,139.04 1457.47,139.89 1459.16,141.02 1460.86,142.43 1462.55,144.13 1464.24,146.12 1465.94,148.39 1467.63,150.95 1469.33,153.8 1471.04,157.18 1472.8,161.21 1474.58,165.75 1476.37,170.62 1478.15,175.68 1479.89,180.76 1481.59,185.7 1483.23,190.34 1484.8,194.53 1486.26,198.1 1487.63,201.07 1488.92,203.61 1490.15,205.8 1491.32,207.72 1492.43,209.44 1493.51,211.06 1494.55,212.64 1495.56,214.28 1496.56,216.03 1497.55,218 1498.51,220.11 1499.42,222.27 1500.3,224.45 1501.14,226.65 1501.96,228.87 1502.77,231.1 1503.57,233.33 1504.37,235.57 1505.18,237.79 1506.02,240" fill="none" stroke="#000" stroke-width="1.3" stroke-linejoin="round"/>
<circle cx="1350.78" cy="380.6" r="6.4" fill="#ff0" stroke="#000" stroke-width="1.1"/>
<circle cx="1367.72" cy="249.7" r="6.4" fill="#ff0" stroke="#000" stroke-width="1.1"/>
<circle cx="1384.65" cy="222.5" r="6.4" fill="#ff0" stroke="#000" stroke-width="1.1"/>
<circle cx="1401.59" cy="198.2" r="6.4" fill="#ff0" stroke="#000" stroke-width="1.1"/>
<circle cx="1418.52" cy="173.5" r="6.4" fill="#ff0" stroke="#000" stroke-width="1.1"/>
<circle cx="1435.46" cy="151" r="6.4" fill="#ff0" stroke="#000" stroke-width="1.1"/>
<circle cx="1452.39" cy="138.2" r="6.4" fill="#ff0" stroke="#000" stroke-width="1.1"/>
<circle cx="1469.33" cy="153.8" r="6.4" fill="#ff0" stroke="#000" stroke-width="1.1"/>
<circle cx="1486.26" cy="198.1" r="6.4" fill="#ff0" stroke="#000" stroke-width="1.1"/>
</g>
<g clip-path="url(#cc)">
<polyline points="1285.86,480 1286.17,478.11 1286.42,476.61 1286.65,475.34 1286.87,474.13 1287.1,472.81 1287.37,471.2 1287.69,469.13 1288.1,466.44 1288.61,462.95 1289.25,458.5 1290,453.01 1290.83,446.62 1291.73,439.48 1292.71,431.73 1293.77,423.49 1294.89,414.93 1296.07,406.16 1297.32,397.34 1298.62,388.61 1299.98,380.1 1301.42,371.65 1302.96,363.02 1304.6,354.24 1306.3,345.34 1308.05,336.37 1309.84,327.35 1311.63,318.32 1313.42,309.31 1315.19,300.36 1316.91,291.5 1318.6,282.47 1320.3,273.08 1321.99,263.5 1323.68,253.87 1325.38,244.36 1327.07,235.12 1328.76,226.31 1330.46,218.08 1332.15,210.59 1333.85,204 1335.54,198.37 1337.23,193.58 1338.93,189.5 1340.62,186 1342.31,182.94 1344.01,180.18 1345.7,177.61 1347.39,175.07 1349.09,172.45 1350.78,169.6 1352.47,166.66 1354.17,163.83 1355.86,161.1 1357.55,158.47 1359.25,155.91 1360.94,153.42 1362.63,150.99 1364.33,148.6 1366.02,146.24 1367.72,143.9 1369.41,141.54 1371.1,139.17 1372.8,136.8 1374.49,134.47 1376.18,132.21 1377.88,130.04 1379.57,127.99 1381.26,126.1 1382.96,124.4 1384.65,122.9 1386.34,121.55 1388.04,120.28 1389.73,119.12 1391.42,118.09 1393.12,117.22 1394.81,116.54 1396.5,116.08 1398.2,115.87 1399.89,115.94 1401.59,116.3 1403.28,116.88 1404.97,117.61 1406.67,118.53 1408.36,119.67 1410.05,121.07 1411.75,122.77 1413.44,124.82 1415.13,127.25 1416.83,130.09 1418.52,133.4 1420.21,137.34 1421.91,141.97 1423.6,147.15 1425.29,152.75 1426.99,158.62 1428.68,164.63 1430.37,170.64 1432.07,176.51 1433.76,182.11 1435.46,187.3 1437.15,192.15 1438.84,196.84 1440.54,201.41 1442.23,205.88 1443.92,210.27 1445.62,214.62 1447.31,218.95 1449,223.29 1450.7,227.66 1452.39,232.1" fill="none" stroke="#000" stroke-width="1.3" stroke-linejoin="round"/>
<rect x="1293.68" y="373.8" width="12.6" height="12.6" fill="#f0f" stroke="#000" stroke-width="1.2"/>
<rect x="1310.61" y="285.2" width="12.6" height="12.6" fill="#f0f" stroke="#000" stroke-width="1.2"/>
<rect x="1327.55" y="197.7" width="12.6" height="12.6" fill="#f0f" stroke="#000" stroke-width="1.2"/>
<rect x="1344.48" y="163.3" width="12.6" height="12.6" fill="#f0f" stroke="#000" stroke-width="1.2"/>
<rect x="1361.42" y="137.6" width="12.6" height="12.6" fill="#f0f" stroke="#000" stroke-width="1.2"/>
<rect x="1378.35" y="116.6" width="12.6" height="12.6" fill="#f0f" stroke="#000" stroke-width="1.2"/>
<rect x="1395.29" y="110" width="12.6" height="12.6" fill="#f0f" stroke="#000" stroke-width="1.2"/>
<rect x="1412.22" y="127.1" width="12.6" height="12.6" fill="#f0f" stroke="#000" stroke-width="1.2"/>
<rect x="1429.16" y="181" width="12.6" height="12.6" fill="#f0f" stroke="#000" stroke-width="1.2"/>
<rect x="1446.09" y="225.8" width="12.6" height="12.6" fill="#f0f" stroke="#000" stroke-width="1.2"/>
</g>
<g clip-path="url(#cc)">
<polyline points="1299.98,480 1300.27,478.15 1300.49,476.77 1300.67,475.65 1300.84,474.6 1301.03,473.42 1301.28,471.9 1301.6,469.85 1302.03,467.07 1302.61,463.35 1303.36,458.5 1304.29,452.54 1305.37,445.68 1306.57,438.02 1307.89,429.67 1309.29,420.71 1310.76,411.25 1312.28,401.38 1313.82,391.2 1315.37,380.81 1316.91,370.3 1318.47,359.02 1320.08,346.52 1321.74,333.16 1323.44,319.33 1325.17,305.41 1326.91,291.79 1328.66,278.83 1330.4,266.93 1332.14,256.46 1333.85,247.8 1335.54,241.04 1337.23,235.84 1338.93,231.91 1340.62,229.01 1342.31,226.84 1344.01,225.16 1345.7,223.68 1347.39,222.14 1349.09,220.27 1350.78,217.8 1352.47,214.93 1354.17,212.07 1355.86,209.21 1357.55,206.37 1359.25,203.58 1360.94,200.83 1362.63,198.14 1364.33,195.53 1366.02,193.02 1367.72,190.6 1369.41,188.29 1371.1,186.08 1372.8,183.95 1374.49,181.9 1376.18,179.91 1377.88,177.98 1379.57,176.09 1381.26,174.24 1382.96,172.41 1384.65,170.6 1386.34,168.79 1388.04,166.97 1389.73,165.18 1391.42,163.41 1393.12,161.7 1394.81,160.05 1396.5,158.48 1398.2,157 1399.89,155.64 1401.59,154.4 1403.28,153.27 1404.97,152.22 1406.67,151.26 1408.36,150.39 1410.05,149.61 1411.75,148.92 1413.44,148.33 1415.13,147.85 1416.83,147.47 1418.52,147.2 1420.21,146.94 1421.91,146.62 1423.6,146.32 1425.29,146.1 1426.99,146.03 1428.68,146.16 1430.37,146.57 1432.07,147.32 1433.76,148.47 1435.46,150.1 1437.15,152.29 1438.84,155.02 1440.54,158.2 1442.23,161.72 1443.92,165.51 1445.62,169.45 1447.31,173.46 1449,177.43 1450.7,181.28 1452.39,184.9" fill="none" stroke="#1a1aff" stroke-width="1.3" stroke-linejoin="round"/>
<polygon points="1316.91,362.55 1325.66,378.05 1308.16,378.05" fill="#0ff" stroke="#1a1aff" stroke-width="1.1"/>
<polygon points="1333.85,240.05 1342.6,255.55 1325.1,255.55" fill="#0ff" stroke="#1a1aff" stroke-width="1.1"/>
<polygon points="1350.78,210.05 1359.53,225.55 1342.03,225.55" fill="#0ff" stroke="#1a1aff" stroke-width="1.1"/>
<polygon points="1367.72,182.85 1376.47,198.35 1358.97,198.35" fill="#0ff" stroke="#1a1aff" stroke-width="1.1"/>
<polygon points="1384.65,162.85 1393.4,178.35 1375.9,178.35" fill="#0ff" stroke="#1a1aff" stroke-width="1.1"/>
<polygon points="1401.59,146.65 1410.34,162.15 1392.84,162.15" fill="#0ff" stroke="#1a1aff" stroke-width="1.1"/>
<polygon points="1418.52,139.45 1427.27,154.95 1409.77,154.95" fill="#0ff" stroke="#1a1aff" stroke-width="1.1"/>
<polygon points="1435.46,142.35 1444.21,157.85 1426.71,157.85" fill="#0ff" stroke="#1a1aff" stroke-width="1.1"/>
<polygon points="1452.39,177.15 1461.14,192.65 1443.64,192.65" fill="#0ff" stroke="#1a1aff" stroke-width="1.1"/>
</g>
<text x="1102.4" y="494.1" font-size="29.4" text-anchor="middle" fill="#000" font-family="'Liberation Sans', Arial, sans-serif">0</text>
<text x="1158.85" y="494.1" font-size="29.4" text-anchor="middle" fill="#000" font-family="'Liberation Sans', Arial, sans-serif">1</text>
<text x="1215.3" y="494.1" font-size="29.4" text-anchor="middle" fill="#000" font-family="'Liberation Sans', Arial, sans-serif">2</text>
<text x="1271.75" y="494.1" font-size="29.4" text-anchor="middle" fill="#000" font-family="'Liberation Sans', Arial, sans-serif">3</text>
<text x="1328.2" y="494.1" font-size="29.4" text-anchor="middle" fill="#000" font-family="'Liberation Sans', Arial, sans-serif">4</text>
<text x="1384.65" y="494.1" font-size="29.4" text-anchor="middle" fill="#000" font-family="'Liberation Sans', Arial, sans-serif">5</text>
<text x="1441.1" y="494.1" font-size="29.4" text-anchor="middle" fill="#000" font-family="'Liberation Sans', Arial, sans-serif">6</text>
<text x="1497.55" y="494.1" font-size="29.4" text-anchor="middle" fill="#000" font-family="'Liberation Sans', Arial, sans-serif">7</text>
<text x="1078.7" y="466.6" font-size="29.4" text-anchor="end" fill="#000" font-family="'Liberation Sans', Arial, sans-serif">10</text>
<text x="1078.1" y="447.8" font-size="16.5" fill="#000" font-family="'Liberation Sans', Arial, sans-serif">0</text>
<text x="1078.7" y="375.1" font-size="29.4" text-anchor="end" fill="#000" font-family="'Liberation Sans', Arial, sans-serif">10</text>
<text x="1078.1" y="356.3" font-size="16.5" fill="#000" font-family="'Liberation Sans', Arial, sans-serif">1</text>
<text x="1078.7" y="283.6" font-size="29.4" text-anchor="end" fill="#000" font-family="'Liberation Sans', Arial, sans-serif">10</text>
<text x="1078.1" y="264.8" font-size="16.5" fill="#000" font-family="'Liberation Sans', Arial, sans-serif">2</text>
<text x="1078.7" y="192.1" font-size="29.4" text-anchor="end" fill="#000" font-family="'Liberation Sans', Arial, sans-serif">10</text>
<text x="1078.1" y="173.3" font-size="16.5" fill="#000" font-family="'Liberation Sans', Arial, sans-serif">3</text>
<text x="1078.7" y="100.6" font-size="29.4" text-anchor="end" fill="#000" font-family="'Liberation Sans', Arial, sans-serif">10</text>
<text x="1078.1" y="81.8" font-size="16.5" fill="#000" font-family="'Liberation Sans', Arial, sans-serif">4</text>
<text x="1233.2" y="522.7" font-size="28.6" textLength="138.5" lengthAdjust="spacingAndGlyphs" fill="#000" font-family="'Liberation Sans', Arial, sans-serif">Voltage (V)</text>
<text x="0" y="0" font-size="28.6" text-anchor="middle" font-family="'Liberation Sans', Arial, sans-serif" transform="translate(1032.2,277.6) rotate(-90)" textLength="239.8" lengthAdjust="spacingAndGlyphs">Luminance (cd m<tspan font-size="16.02" dy="-17.16">-2</tspan><tspan dy="17.16">)</tspan></text>
<text x="1123.7" y="108.2" font-size="40.5" fill="#000" font-family="'Liberation Sans', Arial, sans-serif">(c)</text>
<clipPath id="cd"><rect x="1600" y="63" width="399" height="397.1"/></clipPath>
<rect x="1601" y="63" width="397" height="396.3" fill="none" stroke="#000" stroke-width="1.5"/>
<line x1="1657.1" y1="459.3" x2="1657.1" y2="449.3" stroke="#000" stroke-width="1.4"/>
<line x1="1657.1" y1="63" x2="1657.1" y2="73" stroke="#000" stroke-width="1.4"/>
<line x1="1713.7" y1="459.3" x2="1713.7" y2="449.3" stroke="#000" stroke-width="1.4"/>
<line x1="1713.7" y1="63" x2="1713.7" y2="73" stroke="#000" stroke-width="1.4"/>
<line x1="1770.3" y1="459.3" x2="1770.3" y2="449.3" stroke="#000" stroke-width="1.4"/>
<line x1="1770.3" y1="63" x2="1770.3" y2="73" stroke="#000" stroke-width="1.4"/>
<line x1="1826.9" y1="459.3" x2="1826.9" y2="449.3" stroke="#000" stroke-width="1.4"/>
<line x1="1826.9" y1="63" x2="1826.9" y2="73" stroke="#000" stroke-width="1.4"/>
<line x1="1883.5" y1="459.3" x2="1883.5" y2="449.3" stroke="#000" stroke-width="1.4"/>
<line x1="1883.5" y1="63" x2="1883.5" y2="73" stroke="#000" stroke-width="1.4"/>
<line x1="1940.1" y1="459.3" x2="1940.1" y2="449.3" stroke="#000" stroke-width="1.4"/>
<line x1="1940.1" y1="63" x2="1940.1" y2="73" stroke="#000" stroke-width="1.4"/>
<line x1="1628.8" y1="459.3" x2="1628.8" y2="454.3" stroke="#000" stroke-width="1.4"/>
<line x1="1628.8" y1="63" x2="1628.8" y2="68" stroke="#000" stroke-width="1.4"/>
<line x1="1685.4" y1="459.3" x2="1685.4" y2="454.3" stroke="#000" stroke-width="1.4"/>
<line x1="1685.4" y1="63" x2="1685.4" y2="68" stroke="#000" stroke-width="1.4"/>
<line x1="1742" y1="459.3" x2="1742" y2="454.3" stroke="#000" stroke-width="1.4"/>
<line x1="1742" y1="63" x2="1742" y2="68" stroke="#000" stroke-width="1.4"/>
<line x1="1798.6" y1="459.3" x2="1798.6" y2="454.3" stroke="#000" stroke-width="1.4"/>
<line x1="1798.6" y1="63" x2="1798.6" y2="68" stroke="#000" stroke-width="1.4"/>
<line x1="1855.2" y1="459.3" x2="1855.2" y2="454.3" stroke="#000" stroke-width="1.4"/>
<line x1="1855.2" y1="63" x2="1855.2" y2="68" stroke="#000" stroke-width="1.4"/>
<line x1="1911.8" y1="459.3" x2="1911.8" y2="454.3" stroke="#000" stroke-width="1.4"/>
<line x1="1911.8" y1="63" x2="1911.8" y2="68" stroke="#000" stroke-width="1.4"/>
<line x1="1968.4" y1="459.3" x2="1968.4" y2="454.3" stroke="#000" stroke-width="1.4"/>
<line x1="1968.4" y1="63" x2="1968.4" y2="68" stroke="#000" stroke-width="1.4"/>
<line x1="1601" y1="379.6" x2="1611" y2="379.6" stroke="#000" stroke-width="1.4"/>
<line x1="1998" y1="379.6" x2="1988" y2="379.6" stroke="#000" stroke-width="1.4"/>
<line x1="1601" y1="300.4" x2="1611" y2="300.4" stroke="#000" stroke-width="1.4"/>
<line x1="1998" y1="300.4" x2="1988" y2="300.4" stroke="#000" stroke-width="1.4"/>
<line x1="1601" y1="221.2" x2="1611" y2="221.2" stroke="#000" stroke-width="1.4"/>
<line x1="1998" y1="221.2" x2="1988" y2="221.2" stroke="#000" stroke-width="1.4"/>
<line x1="1601" y1="142" x2="1611" y2="142" stroke="#000" stroke-width="1.4"/>
<line x1="1998" y1="142" x2="1988" y2="142" stroke="#000" stroke-width="1.4"/>
<line x1="1601" y1="419.2" x2="1606" y2="419.2" stroke="#000" stroke-width="1.4"/>
<line x1="1998" y1="419.2" x2="1993" y2="419.2" stroke="#000" stroke-width="1.4"/>
<line x1="1601" y1="340" x2="1606" y2="340" stroke="#000" stroke-width="1.4"/>
<line x1="1998" y1="340" x2="1993" y2="340" stroke="#000" stroke-width="1.4"/>
<line x1="1601" y1="260.8" x2="1606" y2="260.8" stroke="#000" stroke-width="1.4"/>
<line x1="1998" y1="260.8" x2="1993" y2="260.8" stroke="#000" stroke-width="1.4"/>
<line x1="1601" y1="181.6" x2="1606" y2="181.6" stroke="#000" stroke-width="1.4"/>
<line x1="1998" y1="181.6" x2="1993" y2="181.6" stroke="#000" stroke-width="1.4"/>
<line x1="1601" y1="102.4" x2="1606" y2="102.4" stroke="#000" stroke-width="1.4"/>
<line x1="1998" y1="102.4" x2="1993" y2="102.4" stroke="#000" stroke-width="1.4"/>
<g clip-path="url(#cd)">
<polyline points="1600.5,458.8 1601.63,458.8 1602.76,458.8 1603.9,458.8 1605.03,458.8 1606.16,458.8 1607.29,458.8 1608.42,458.8 1609.56,458.8 1610.69,458.8 1611.82,458.8 1612.95,458.8 1614.08,458.8 1615.22,458.8 1616.35,458.8 1617.48,458.8 1618.61,458.8 1619.74,458.8 1620.88,458.8 1622.01,458.8 1623.14,458.8 1624.27,458.8 1625.4,458.8 1626.54,458.8 1627.67,458.8 1628.8,458.8 1629.93,458.8 1631.06,458.8 1632.2,458.8 1633.33,458.8 1634.46,458.8 1635.59,458.8 1636.72,458.8 1637.86,458.8 1638.99,458.8 1640.12,458.8 1641.25,458.8 1642.38,458.8 1643.52,458.8 1644.65,458.8 1645.78,458.8 1646.91,458.8 1648.04,458.8 1649.18,458.8 1650.31,458.8 1651.44,458.8 1652.57,458.8 1653.7,458.8 1654.84,458.8 1655.97,458.8 1657.1,458.8 1658.23,458.8 1659.36,458.8 1660.5,458.8 1661.63,458.8 1662.76,458.8 1663.89,458.8 1665.02,458.8 1666.16,458.8 1667.29,458.8 1668.42,458.8 1669.55,458.8 1670.68,458.8 1671.82,458.8 1672.95,458.8 1674.08,458.8 1675.21,458.8 1676.34,458.8 1677.48,458.8 1678.61,458.8 1679.74,458.8 1680.87,458.8 1682,458.8 1683.14,458.8 1684.27,458.8 1685.4,458.8 1686.53,458.8 1687.66,458.8 1688.8,458.8 1689.93,458.8 1691.06,458.8 1692.19,458.8 1693.32,458.8 1694.46,458.8 1695.59,458.8 1696.72,458.8 1697.85,458.8 1698.98,458.8 1700.12,458.8 1701.25,458.8 1702.38,458.8 1703.49,458.8 1704.55,458.8 1705.6,458.8 1706.64,458.8 1707.69,458.8 1708.76,458.8 1709.89,458.8 1711.07,458.8 1712.34,458.8 1713.7,458.8 1715.17,458.8 1716.73,458.8 1718.38,458.8 1720.08,458.8 1721.84,458.8 1723.62,458.8 1725.41,458.8 1727.19,458.8 1728.96,458.8 1730.68,458.8 1732.38,458.8 1734.08,458.8 1735.77,458.8 1737.47,458.8 1739.17,458.8 1740.87,458.8 1742.57,458.8 1744.26,458.8 1745.96,458.8 1747.66,458.8 1749.36,458.8 1751.06,458.8 1752.75,458.8 1754.45,458.8 1756.15,458.8 1757.85,458.8 1759.55,458.8 1761.24,458.8 1762.94,458.8 1764.64,458.8 1766.34,458.8 1768.04,458.8 1769.73,458.8 1771.43,458.8 1773.13,458.8 1774.83,458.8 1776.53,458.8 1778.22,458.8 1779.92,458.8 1781.62,458.8 1783.32,458.8 1785.02,458.8 1786.71,458.79 1788.41,458.79 1790.11,458.79 1791.81,458.79 1793.51,458.79 1795.2,458.79 1796.9,458.79 1798.6,458.8 1800.3,458.82 1802,458.85 1803.69,458.88 1805.39,458.92 1807.09,458.96 1808.79,459 1810.49,459.02 1812.18,459.03 1813.88,459.03 1815.58,459 1817.28,459.03 1818.98,459.15 1820.67,459.32 1822.37,459.5 1824.07,459.64 1825.77,459.68 1827.47,459.59 1829.16,459.31 1830.86,458.79 1832.56,458 1834.26,457.25 1835.96,456.77 1837.65,456.37 1839.35,455.86 1841.05,455.06 1842.75,453.78 1844.45,451.82 1846.14,448.99 1847.84,445.12 1849.54,440 1851.24,433.1 1852.94,424.3 1854.63,414.09 1856.33,402.91 1858.03,391.25 1859.73,379.57 1861.43,368.33 1863.12,358.02 1864.82,349.08 1866.52,342 1868.22,336.72 1869.92,332.74 1871.61,329.81 1873.31,327.73 1875.01,326.25 1876.71,325.15 1878.41,324.21 1880.1,323.18 1881.8,321.86 1883.5,320 1885.2,317.79 1886.9,315.57 1888.59,313.34 1890.29,311.1 1891.99,308.88 1893.69,306.66 1895.39,304.45 1897.08,302.27 1898.78,300.12 1900.48,298 1902.18,295.86 1903.88,293.68 1905.57,291.47 1907.27,289.28 1908.97,287.12 1910.67,285.04 1912.37,283.06 1914.06,281.2 1915.76,279.5 1917.46,278 1919.17,276.54 1920.9,275.02 1922.64,273.52 1924.39,272.11 1926.13,270.88 1927.85,269.89 1929.55,269.23 1931.23,268.98 1932.86,269.21 1934.44,270 1935.94,271.15 1937.36,272.45 1938.71,274 1940.03,275.9 1941.34,278.25 1942.66,281.14 1944.02,284.66 1945.44,288.91 1946.96,293.99 1948.59,300 1950.35,307.4 1952.24,316.37 1954.21,326.52 1956.24,337.5 1958.32,348.94 1960.41,360.46 1962.49,371.69 1964.53,382.27 1966.51,391.83 1968.4,400 1970.23,407.01 1972.02,413.37 1973.79,419.13 1975.53,424.34 1977.24,429.06 1978.93,433.34 1980.58,437.22 1982.21,440.75 1983.81,444 1985.38,447 1986.91,449.56 1988.39,451.5 1989.83,452.95 1991.24,453.99 1992.63,454.75 1994.01,455.33 1995.37,455.83 1996.75,456.38 1998.13,457.06 1999.53,458" fill="none" stroke="#000" stroke-width="1.3" stroke-linejoin="round"/>
<circle cx="1600.5" cy="458.8" r="6.4" fill="#ff0" stroke="#000" stroke-width="1.1"/>
<circle cx="1611.82" cy="458.8" r="6.4" fill="#ff0" stroke="#000" stroke-width="1.1"/>
<circle cx="1623.14" cy="458.8" r="6.4" fill="#ff0" stroke="#000" stroke-width="1.1"/>
<circle cx="1634.46" cy="458.8" r="6.4" fill="#ff0" stroke="#000" stroke-width="1.1"/>
<circle cx="1645.78" cy="458.8" r="6.4" fill="#ff0" stroke="#000" stroke-width="1.1"/>
<circle cx="1657.1" cy="458.8" r="6.4" fill="#ff0" stroke="#000" stroke-width="1.1"/>
<circle cx="1668.42" cy="458.8" r="6.4" fill="#ff0" stroke="#000" stroke-width="1.1"/>
<circle cx="1679.74" cy="458.8" r="6.4" fill="#ff0" stroke="#000" stroke-width="1.1"/>
<circle cx="1691.06" cy="458.8" r="6.4" fill="#ff0" stroke="#000" stroke-width="1.1"/>
<circle cx="1702.38" cy="458.8" r="6.4" fill="#ff0" stroke="#000" stroke-width="1.1"/>
<circle cx="1713.7" cy="458.8" r="6.4" fill="#ff0" stroke="#000" stroke-width="1.1"/>
<circle cx="1730.68" cy="458.8" r="6.4" fill="#ff0" stroke="#000" stroke-width="1.1"/>
<circle cx="1747.66" cy="458.8" r="6.4" fill="#ff0" stroke="#000" stroke-width="1.1"/>
<circle cx="1764.64" cy="458.8" r="6.4" fill="#ff0" stroke="#000" stroke-width="1.1"/>
<circle cx="1781.62" cy="458.8" r="6.4" fill="#ff0" stroke="#000" stroke-width="1.1"/>
<circle cx="1798.6" cy="458.8" r="6.4" fill="#ff0" stroke="#000" stroke-width="1.1"/>
<circle cx="1815.58" cy="458.5" r="6.4" fill="#ff0" stroke="#000" stroke-width="1.1"/>
<circle cx="1832.56" cy="458.5" r="6.4" fill="#ff0" stroke="#000" stroke-width="1.1"/>
<circle cx="1849.54" cy="448.5" r="6.4" fill="#ff0" stroke="#000" stroke-width="1.1"/>
<circle cx="1866.52" cy="335.5" r="6.4" fill="#ff0" stroke="#000" stroke-width="1.1"/>
<circle cx="1883.5" cy="323.6" r="6.4" fill="#ff0" stroke="#000" stroke-width="1.1"/>
<circle cx="1900.48" cy="302.2" r="6.4" fill="#ff0" stroke="#000" stroke-width="1.1"/>
<circle cx="1917.46" cy="276.9" r="6.4" fill="#ff0" stroke="#000" stroke-width="1.1"/>
<circle cx="1934.44" cy="267.4" r="6.4" fill="#ff0" stroke="#000" stroke-width="1.1"/>
<circle cx="1951.42" cy="289.3" r="6.4" fill="#ff0" stroke="#000" stroke-width="1.1"/>
<circle cx="1968.4" cy="398.9" r="6.4" fill="#ff0" stroke="#000" stroke-width="1.1"/>
<circle cx="1985.38" cy="445.1" r="6.4" fill="#ff0" stroke="#000" stroke-width="1.1"/>
</g>
<g clip-path="url(#cd)">
<polyline points="1600.5,458.8 1601.63,458.8 1602.76,458.8 1603.9,458.8 1605.03,458.8 1606.16,458.8 1607.29,458.8 1608.42,458.8 1609.56,458.8 1610.69,458.8 1611.82,458.8 1612.95,458.8 1614.08,458.8 1615.22,458.8 1616.35,458.8 1617.48,458.8 1618.61,458.8 1619.74,458.8 1620.88,458.8 1622.01,458.8 1623.14,458.8 1624.27,458.8 1625.4,458.8 1626.54,458.8 1627.67,458.8 1628.8,458.8 1629.93,458.8 1631.06,458.8 1632.2,458.8 1633.33,458.8 1634.46,458.8 1635.59,458.8 1636.72,458.8 1637.86,458.8 1638.99,458.8 1640.12,458.8 1641.25,458.8 1642.38,458.8 1643.52,458.8 1644.65,458.8 1645.78,458.8 1646.91,458.8 1648.04,458.8 1649.18,458.8 1650.31,458.8 1651.44,458.8 1652.57,458.8 1653.7,458.8 1654.84,458.8 1655.97,458.8 1657.1,458.8 1658.23,458.8 1659.36,458.8 1660.5,458.8 1661.63,458.8 1662.76,458.8 1663.89,458.8 1665.02,458.8 1666.16,458.8 1667.29,458.8 1668.42,458.8 1669.55,458.8 1670.68,458.8 1671.82,458.8 1672.95,458.8 1674.08,458.8 1675.21,458.8 1676.34,458.8 1677.48,458.8 1678.61,458.8 1679.74,458.8 1680.87,458.8 1682,458.8 1683.14,458.8 1684.27,458.8 1685.4,458.8 1686.53,458.8 1687.66,458.8 1688.8,458.8 1689.93,458.8 1691.06,458.8 1692.19,458.8 1693.32,458.8 1694.46,458.8 1695.59,458.8 1696.72,458.8 1697.85,458.8 1698.98,458.8 1700.12,458.8 1701.25,458.8 1702.38,458.8 1703.49,458.8 1704.55,458.8 1705.6,458.8 1706.64,458.8 1707.69,458.8 1708.76,458.8 1709.89,458.8 1711.07,458.8 1712.34,458.8 1713.7,458.8 1715.17,458.8 1716.73,458.8 1718.38,458.8 1720.08,458.8 1721.84,458.8 1723.62,458.8 1725.41,458.8 1727.19,458.8 1728.96,458.8 1730.68,458.8 1732.38,458.8 1734.08,458.8 1735.77,458.8 1737.47,458.8 1739.17,458.8 1740.87,458.8 1742.57,458.8 1744.26,458.8 1745.96,458.8 1747.66,458.8 1749.36,458.8 1751.06,458.8 1752.75,458.8 1754.45,458.8 1756.15,458.8 1757.85,458.8 1759.55,458.8 1761.24,458.8 1762.94,458.8 1764.64,458.8 1766.34,458.85 1768.04,458.99 1769.73,459.17 1771.43,459.37 1773.13,459.54 1774.83,459.65 1776.53,459.67 1778.22,459.56 1779.92,459.28 1781.62,458.8 1783.32,458.26 1785.02,457.76 1786.71,457.24 1788.41,456.62 1790.11,455.84 1791.81,454.82 1793.51,453.5 1795.2,451.8 1796.9,449.66 1798.6,447 1800.3,444.14 1802,441.31 1803.69,438.35 1805.39,435.1 1807.09,431.39 1808.79,427.04 1810.49,421.9 1812.18,415.79 1813.88,408.54 1815.58,400 1817.28,389.56 1818.98,377.07 1820.67,363.02 1822.37,347.9 1824.07,332.19 1825.77,316.38 1827.47,300.97 1829.16,286.45 1830.86,273.29 1832.56,262 1834.26,252.39 1835.96,243.87 1837.65,236.28 1839.35,229.46 1841.05,223.25 1842.75,217.5 1844.45,212.06 1846.14,206.77 1847.84,201.47 1849.54,196 1851.25,190.53 1852.98,185.31 1854.72,180.32 1856.47,175.54 1858.21,170.94 1859.93,166.5 1861.63,162.21 1863.31,158.05 1864.94,153.98 1866.52,150 1868.06,145.94 1869.58,141.75 1871.06,137.54 1872.52,133.42 1873.95,129.5 1875.35,125.9 1876.72,122.74 1878.07,120.13 1879.38,118.18 1880.67,117 1881.92,116.5 1883.12,116.5 1884.27,117.01 1885.4,118.03 1886.51,119.56 1887.6,121.61 1888.68,124.17 1889.77,127.26 1890.87,130.86 1891.99,135 1893.11,139.58 1894.21,144.55 1895.3,149.97 1896.38,155.9 1897.47,162.38 1898.58,169.46 1899.71,177.22 1900.86,185.69 1902.06,194.93 1903.31,205 1904.6,216.37 1905.91,229.24 1907.26,243.27 1908.63,258.12 1910.03,273.44 1911.46,288.88 1912.92,304.1 1914.4,318.76 1915.92,332.51 1917.46,345 1919.04,356.67 1920.67,368.11 1922.35,379.23 1924.05,389.94 1925.77,400.12 1927.51,409.7 1929.26,418.58 1931,426.65 1932.73,433.82 1934.44,440 1936.14,444.98 1937.84,448.75 1939.53,451.5 1941.23,453.42 1942.93,454.69 1944.63,455.5 1946.33,456.05 1948.02,456.53 1949.72,457.11 1951.42,458 1953.12,458.97 1954.82,459.7 1956.51,460.23 1958.21,460.61 1959.91,460.88 1961.61,461.07 1963.31,461.24 1965,461.42 1966.7,461.66 1968.4,462" fill="none" stroke="#000" stroke-width="1.3" stroke-linejoin="round"/>
<rect x="1594.2" y="452.5" width="12.6" height="12.6" fill="#f0f" stroke="#000" stroke-width="1.2"/>
<rect x="1605.52" y="452.5" width="12.6" height="12.6" fill="#f0f" stroke="#000" stroke-width="1.2"/>
<rect x="1616.84" y="452.5" width="12.6" height="12.6" fill="#f0f" stroke="#000" stroke-width="1.2"/>
<rect x="1628.16" y="452.5" width="12.6" height="12.6" fill="#f0f" stroke="#000" stroke-width="1.2"/>
<rect x="1639.48" y="452.5" width="12.6" height="12.6" fill="#f0f" stroke="#000" stroke-width="1.2"/>
<rect x="1650.8" y="452.5" width="12.6" height="12.6" fill="#f0f" stroke="#000" stroke-width="1.2"/>
<rect x="1662.12" y="452.5" width="12.6" height="12.6" fill="#f0f" stroke="#000" stroke-width="1.2"/>
<rect x="1673.44" y="452.5" width="12.6" height="12.6" fill="#f0f" stroke="#000" stroke-width="1.2"/>
<rect x="1684.76" y="452.5" width="12.6" height="12.6" fill="#f0f" stroke="#000" stroke-width="1.2"/>
<rect x="1696.08" y="452.5" width="12.6" height="12.6" fill="#f0f" stroke="#000" stroke-width="1.2"/>
<rect x="1707.4" y="452.5" width="12.6" height="12.6" fill="#f0f" stroke="#000" stroke-width="1.2"/>
<rect x="1724.38" y="452.5" width="12.6" height="12.6" fill="#f0f" stroke="#000" stroke-width="1.2"/>
<rect x="1741.36" y="452.5" width="12.6" height="12.6" fill="#f0f" stroke="#000" stroke-width="1.2"/>
<rect x="1758.34" y="452.5" width="12.6" height="12.6" fill="#f0f" stroke="#000" stroke-width="1.2"/>
<rect x="1775.32" y="452.5" width="12.6" height="12.6" fill="#f0f" stroke="#000" stroke-width="1.2"/>
<rect x="1792.3" y="438.8" width="12.6" height="12.6" fill="#f0f" stroke="#000" stroke-width="1.2"/>
<rect x="1809.28" y="396.9" width="12.6" height="12.6" fill="#f0f" stroke="#000" stroke-width="1.2"/>
<rect x="1826.26" y="242" width="12.6" height="12.6" fill="#f0f" stroke="#000" stroke-width="1.2"/>
<rect x="1843.24" y="183.4" width="12.6" height="12.6" fill="#f0f" stroke="#000" stroke-width="1.2"/>
<rect x="1860.22" y="131.4" width="12.6" height="12.6" fill="#f0f" stroke="#000" stroke-width="1.2"/>
<rect x="1877.2" y="93.3" width="12.6" height="12.6" fill="#f0f" stroke="#000" stroke-width="1.2"/>
<rect x="1894.18" y="170" width="12.6" height="12.6" fill="#f0f" stroke="#000" stroke-width="1.2"/>
<rect x="1911.16" y="344.9" width="12.6" height="12.6" fill="#f0f" stroke="#000" stroke-width="1.2"/>
<rect x="1928.14" y="437.9" width="12.6" height="12.6" fill="#f0f" stroke="#000" stroke-width="1.2"/>
<rect x="1945.12" y="447" width="12.6" height="12.6" fill="#f0f" stroke="#000" stroke-width="1.2"/>
</g>
<g clip-path="url(#cd)">
<polyline points="1600.5,458.8 1601.63,458.8 1602.76,458.8 1603.9,458.8 1605.03,458.8 1606.16,458.8 1607.29,458.8 1608.42,458.8 1609.56,458.8 1610.69,458.8 1611.82,458.8 1612.95,458.8 1614.08,458.8 1615.22,458.8 1616.35,458.8 1617.48,458.8 1618.61,458.8 1619.74,458.8 1620.88,458.8 1622.01,458.8 1623.14,458.8 1624.27,458.8 1625.4,458.8 1626.54,458.8 1627.67,458.8 1628.8,458.8 1629.93,458.8 1631.06,458.8 1632.2,458.8 1633.33,458.8 1634.46,458.8 1635.59,458.8 1636.72,458.8 1637.86,458.8 1638.99,458.8 1640.12,458.8 1641.25,458.8 1642.38,458.8 1643.52,458.8 1644.65,458.8 1645.78,458.8 1646.91,458.8 1648.04,458.8 1649.18,458.8 1650.31,458.8 1651.44,458.8 1652.57,458.8 1653.7,458.8 1654.84,458.8 1655.97,458.8 1657.1,458.8 1658.23,458.8 1659.36,458.8 1660.5,458.8 1661.63,458.8 1662.76,458.8 1663.89,458.8 1665.02,458.8 1666.16,458.8 1667.29,458.8 1668.42,458.8 1669.55,458.8 1670.68,458.8 1671.82,458.8 1672.95,458.8 1674.08,458.8 1675.21,458.8 1676.34,458.8 1677.48,458.8 1678.61,458.8 1679.74,458.8 1680.87,458.8 1682,458.8 1683.14,458.8 1684.27,458.8 1685.4,458.8 1686.53,458.8 1687.66,458.8 1688.8,458.8 1689.93,458.8 1691.06,458.8 1692.19,458.8 1693.32,458.8 1694.46,458.8 1695.59,458.8 1696.72,458.8 1697.85,458.8 1698.98,458.8 1700.12,458.8 1701.25,458.8 1702.38,458.8 1703.49,458.8 1704.55,458.8 1705.6,458.8 1706.64,458.8 1707.69,458.8 1708.76,458.8 1709.89,458.8 1711.07,458.8 1712.34,458.8 1713.7,458.8 1715.17,458.8 1716.73,458.8 1718.38,458.8 1720.08,458.8 1721.84,458.8 1723.62,458.8 1725.41,458.8 1727.19,458.8 1728.96,458.8 1730.68,458.8 1732.38,458.8 1734.08,458.8 1735.77,458.8 1737.47,458.8 1739.17,458.8 1740.87,458.8 1742.57,458.8 1744.26,458.8 1745.96,458.8 1747.66,458.8 1749.36,458.8 1751.06,458.8 1752.75,458.8 1754.45,458.8 1756.15,458.8 1757.85,458.8 1759.55,458.8 1761.24,458.8 1762.94,458.8 1764.64,458.8 1766.34,458.83 1768.04,458.91 1769.73,459.01 1771.43,459.13 1773.13,459.22 1774.83,459.29 1776.53,459.3 1778.22,459.24 1779.92,459.08 1781.62,458.8 1783.32,458.55 1785.02,458.44 1786.71,458.37 1788.41,458.26 1790.11,458.03 1791.81,457.58 1793.51,456.84 1795.2,455.72 1796.9,454.14 1798.6,452 1800.3,449.73 1802,447.64 1803.69,445.52 1805.39,443.11 1807.09,440.2 1808.79,436.55 1810.49,431.94 1812.18,426.13 1813.88,418.89 1815.58,410 1817.28,398.61 1818.98,384.48 1820.67,368.32 1822.37,350.8 1824.07,332.62 1825.77,314.48 1827.47,297.06 1829.16,281.04 1830.86,267.12 1832.56,256 1834.26,247.51 1835.96,240.86 1837.65,235.77 1839.35,231.95 1841.05,229.12 1842.75,227.01 1844.45,225.32 1846.14,223.78 1847.84,222.1 1849.54,220 1851.24,217.77 1852.94,215.86 1854.63,214.23 1856.33,212.85 1858.03,211.69 1859.73,210.71 1861.43,209.89 1863.12,209.18 1864.82,208.57 1866.52,208 1868.22,207.44 1869.92,206.89 1871.61,206.4 1873.31,206.02 1875.01,205.81 1876.71,205.82 1878.41,206.09 1880.1,206.67 1881.8,207.63 1883.5,209 1885.2,210.74 1886.9,212.77 1888.59,215.09 1890.29,217.7 1891.99,220.62 1893.69,223.86 1895.39,227.4 1897.08,231.27 1898.78,235.47 1900.48,240 1902.18,244.99 1903.88,250.49 1905.57,256.42 1907.27,262.7 1908.97,269.25 1910.67,275.98 1912.37,282.8 1914.06,289.63 1915.76,296.39 1917.46,303 1919.16,309.55 1920.86,316.19 1922.55,322.9 1924.25,329.66 1925.95,336.44 1927.65,343.22 1929.35,349.99 1931.04,356.73 1932.74,363.4 1934.44,370 1936.14,376.67 1937.84,383.52 1939.53,390.46 1941.23,397.4 1942.93,404.25 1944.63,410.92 1946.33,417.32 1948.02,423.36 1949.72,428.95 1951.42,434 1953.12,438.44 1954.82,442.31 1956.51,445.73 1958.21,448.78 1959.91,451.56 1961.61,454.18 1963.31,456.74 1965,459.33 1966.7,462.05 1968.4,465" fill="none" stroke="#1a1aff" stroke-width="1.3" stroke-linejoin="round"/>
<polygon points="1600.5,450.05 1609.25,465.55 1591.75,465.55" fill="#0ff" stroke="#1a1aff" stroke-width="1.1"/>
<polygon points="1611.82,450.05 1620.57,465.55 1603.07,465.55" fill="#0ff" stroke="#1a1aff" stroke-width="1.1"/>
<polygon points="1623.14,450.05 1631.89,465.55 1614.39,465.55" fill="#0ff" stroke="#1a1aff" stroke-width="1.1"/>
<polygon points="1634.46,450.05 1643.21,465.55 1625.71,465.55" fill="#0ff" stroke="#1a1aff" stroke-width="1.1"/>
<polygon points="1645.78,450.05 1654.53,465.55 1637.03,465.55" fill="#0ff" stroke="#1a1aff" stroke-width="1.1"/>
<polygon points="1657.1,450.05 1665.85,465.55 1648.35,465.55" fill="#0ff" stroke="#1a1aff" stroke-width="1.1"/>
<polygon points="1668.42,450.05 1677.17,465.55 1659.67,465.55" fill="#0ff" stroke="#1a1aff" stroke-width="1.1"/>
<polygon points="1679.74,450.05 1688.49,465.55 1670.99,465.55" fill="#0ff" stroke="#1a1aff" stroke-width="1.1"/>
<polygon points="1691.06,450.05 1699.81,465.55 1682.31,465.55" fill="#0ff" stroke="#1a1aff" stroke-width="1.1"/>
<polygon points="1702.38,450.05 1711.13,465.55 1693.63,465.55" fill="#0ff" stroke="#1a1aff" stroke-width="1.1"/>
<polygon points="1713.7,450.05 1722.45,465.55 1704.95,465.55" fill="#0ff" stroke="#1a1aff" stroke-width="1.1"/>
<polygon points="1730.68,450.05 1739.43,465.55 1721.93,465.55" fill="#0ff" stroke="#1a1aff" stroke-width="1.1"/>
<polygon points="1747.66,450.05 1756.41,465.55 1738.91,465.55" fill="#0ff" stroke="#1a1aff" stroke-width="1.1"/>
<polygon points="1764.64,450.05 1773.39,465.55 1755.89,465.55" fill="#0ff" stroke="#1a1aff" stroke-width="1.1"/>
<polygon points="1781.62,450.05 1790.37,465.55 1772.87,465.55" fill="#0ff" stroke="#1a1aff" stroke-width="1.1"/>
<polygon points="1798.6,448.25 1807.35,463.75 1789.85,463.75" fill="#0ff" stroke="#1a1aff" stroke-width="1.1"/>
<polygon points="1815.58,408.75 1824.33,424.25 1806.83,424.25" fill="#0ff" stroke="#1a1aff" stroke-width="1.1"/>
<polygon points="1832.56,244.35 1841.31,259.85 1823.81,259.85" fill="#0ff" stroke="#1a1aff" stroke-width="1.1"/>
<polygon points="1849.54,213.35 1858.29,228.85 1840.79,228.85" fill="#0ff" stroke="#1a1aff" stroke-width="1.1"/>
<polygon points="1866.52,198.15 1875.27,213.65 1857.77,213.65" fill="#0ff" stroke="#1a1aff" stroke-width="1.1"/>
<polygon points="1883.5,198.15 1892.25,213.65 1874.75,213.65" fill="#0ff" stroke="#1a1aff" stroke-width="1.1"/>
<polygon points="1900.48,232.45 1909.23,247.95 1891.73,247.95" fill="#0ff" stroke="#1a1aff" stroke-width="1.1"/>
<polygon points="1917.46,295.85 1926.21,311.35 1908.71,311.35" fill="#0ff" stroke="#1a1aff" stroke-width="1.1"/>
<polygon points="1934.44,362.55 1943.19,378.05 1925.69,378.05" fill="#0ff" stroke="#1a1aff" stroke-width="1.1"/>
<polygon points="1951.42,427.85 1960.17,443.35 1942.67,443.35" fill="#0ff" stroke="#1a1aff" stroke-width="1.1"/>
</g>
<line x1="1600.25" y1="459.3" x2="1998.75" y2="459.3" stroke="#000" stroke-width="1.5"/>
<text x="1600.5" y="490.9" font-size="29.4" text-anchor="middle" fill="#000" font-family="'Liberation Sans', Arial, sans-serif">0</text>
<text x="1657.1" y="490.9" font-size="29.4" text-anchor="middle" fill="#000" font-family="'Liberation Sans', Arial, sans-serif">1</text>
<text x="1713.7" y="490.9" font-size="29.4" text-anchor="middle" fill="#000" font-family="'Liberation Sans', Arial, sans-serif">2</text>
<text x="1770.3" y="490.9" font-size="29.4" text-anchor="middle" fill="#000" font-family="'Liberation Sans', Arial, sans-serif">3</text>
<text x="1826.9" y="490.9" font-size="29.4" text-anchor="middle" fill="#000" font-family="'Liberation Sans', Arial, sans-serif">4</text>
<text x="1883.5" y="490.9" font-size="29.4" text-anchor="middle" fill="#000" font-family="'Liberation Sans', Arial, sans-serif">5</text>
<text x="1940.1" y="490.9" font-size="29.4" text-anchor="middle" fill="#000" font-family="'Liberation Sans', Arial, sans-serif">6</text>
<text x="1996.7" y="490.9" font-size="29.4" text-anchor="middle" fill="#000" font-family="'Liberation Sans', Arial, sans-serif">7</text>
<text x="1586.8" y="386.1" font-size="29.4" text-anchor="end" textLength="38.83" lengthAdjust="spacingAndGlyphs" fill="#000" font-family="'Liberation Sans', Arial, sans-serif">0.3</text>
<text x="1586.8" y="306.9" font-size="29.4" text-anchor="end" textLength="38.83" lengthAdjust="spacingAndGlyphs" fill="#000" font-family="'Liberation Sans', Arial, sans-serif">0.6</text>
<text x="1586.8" y="227.7" font-size="29.4" text-anchor="end" textLength="38.83" lengthAdjust="spacingAndGlyphs" fill="#000" font-family="'Liberation Sans', Arial, sans-serif">0.9</text>
<text x="1586.8" y="148.5" font-size="29.4" text-anchor="end" textLength="38.83" lengthAdjust="spacingAndGlyphs" fill="#000" font-family="'Liberation Sans', Arial, sans-serif">1.2</text>
<text x="1586.8" y="69.3" font-size="29.4" text-anchor="end" textLength="38.83" lengthAdjust="spacingAndGlyphs" fill="#000" font-family="'Liberation Sans', Arial, sans-serif">1.5</text>
<text x="1728.8" y="519.9" font-size="28.6" textLength="138.5" lengthAdjust="spacingAndGlyphs" fill="#000" font-family="'Liberation Sans', Arial, sans-serif">Voltage (V)</text>
<text x="0" y="0" font-size="28.6" text-anchor="middle" textLength="94.9" lengthAdjust="spacingAndGlyphs" font-family="'Liberation Sans', Arial, sans-serif" transform="translate(1534.7,237.8) rotate(-90)">EQE (%)</text>
<text x="1615.2" y="105.4" font-size="40.5" fill="#000" font-family="'Liberation Sans', Arial, sans-serif">(d)</text>
<clipPath id="ce"><rect x="103" y="554.6" width="398.5" height="395.7"/></clipPath>
<rect x="104" y="554.6" width="396.5" height="394.9" fill="none" stroke="#000" stroke-width="1.5"/>
<line x1="160.9" y1="949.5" x2="160.9" y2="939.5" stroke="#000" stroke-width="1.4"/>
<line x1="160.9" y1="554.6" x2="160.9" y2="564.6" stroke="#000" stroke-width="1.4"/>
<line x1="217.5" y1="949.5" x2="217.5" y2="939.5" stroke="#000" stroke-width="1.4"/>
<line x1="217.5" y1="554.6" x2="217.5" y2="564.6" stroke="#000" stroke-width="1.4"/>
<line x1="274.1" y1="949.5" x2="274.1" y2="939.5" stroke="#000" stroke-width="1.4"/>
<line x1="274.1" y1="554.6" x2="274.1" y2="564.6" stroke="#000" stroke-width="1.4"/>
<line x1="330.7" y1="949.5" x2="330.7" y2="939.5" stroke="#000" stroke-width="1.4"/>
<line x1="330.7" y1="554.6" x2="330.7" y2="564.6" stroke="#000" stroke-width="1.4"/>
<line x1="387.3" y1="949.5" x2="387.3" y2="939.5" stroke="#000" stroke-width="1.4"/>
<line x1="387.3" y1="554.6" x2="387.3" y2="564.6" stroke="#000" stroke-width="1.4"/>
<line x1="443.9" y1="949.5" x2="443.9" y2="939.5" stroke="#000" stroke-width="1.4"/>
<line x1="443.9" y1="554.6" x2="443.9" y2="564.6" stroke="#000" stroke-width="1.4"/>
<line x1="132.6" y1="949.5" x2="132.6" y2="944.5" stroke="#000" stroke-width="1.4"/>
<line x1="132.6" y1="554.6" x2="132.6" y2="559.6" stroke="#000" stroke-width="1.4"/>
<line x1="189.2" y1="949.5" x2="189.2" y2="944.5" stroke="#000" stroke-width="1.4"/>
<line x1="189.2" y1="554.6" x2="189.2" y2="559.6" stroke="#000" stroke-width="1.4"/>
<line x1="245.8" y1="949.5" x2="245.8" y2="944.5" stroke="#000" stroke-width="1.4"/>
<line x1="245.8" y1="554.6" x2="245.8" y2="559.6" stroke="#000" stroke-width="1.4"/>
<line x1="302.4" y1="949.5" x2="302.4" y2="944.5" stroke="#000" stroke-width="1.4"/>
<line x1="302.4" y1="554.6" x2="302.4" y2="559.6" stroke="#000" stroke-width="1.4"/>
<line x1="359" y1="949.5" x2="359" y2="944.5" stroke="#000" stroke-width="1.4"/>
<line x1="359" y1="554.6" x2="359" y2="559.6" stroke="#000" stroke-width="1.4"/>
<line x1="415.6" y1="949.5" x2="415.6" y2="944.5" stroke="#000" stroke-width="1.4"/>
<line x1="415.6" y1="554.6" x2="415.6" y2="559.6" stroke="#000" stroke-width="1.4"/>
<line x1="472.2" y1="949.5" x2="472.2" y2="944.5" stroke="#000" stroke-width="1.4"/>
<line x1="472.2" y1="554.6" x2="472.2" y2="559.6" stroke="#000" stroke-width="1.4"/>
<line x1="104" y1="862.4" x2="114" y2="862.4" stroke="#000" stroke-width="1.4"/>
<line x1="500.5" y1="862.4" x2="490.5" y2="862.4" stroke="#000" stroke-width="1.4"/>
<line x1="104" y1="774" x2="114" y2="774" stroke="#000" stroke-width="1.4"/>
<line x1="500.5" y1="774" x2="490.5" y2="774" stroke="#000" stroke-width="1.4"/>
<line x1="104" y1="685.6" x2="114" y2="685.6" stroke="#000" stroke-width="1.4"/>
<line x1="500.5" y1="685.6" x2="490.5" y2="685.6" stroke="#000" stroke-width="1.4"/>
<line x1="104" y1="597.2" x2="114" y2="597.2" stroke="#000" stroke-width="1.4"/>
<line x1="500.5" y1="597.2" x2="490.5" y2="597.2" stroke="#000" stroke-width="1.4"/>
<line x1="104" y1="906.6" x2="109" y2="906.6" stroke="#000" stroke-width="1.4"/>
<line x1="500.5" y1="906.6" x2="495.5" y2="906.6" stroke="#000" stroke-width="1.4"/>
<line x1="104" y1="818.2" x2="109" y2="818.2" stroke="#000" stroke-width="1.4"/>
<line x1="500.5" y1="818.2" x2="495.5" y2="818.2" stroke="#000" stroke-width="1.4"/>
<line x1="104" y1="729.8" x2="109" y2="729.8" stroke="#000" stroke-width="1.4"/>
<line x1="500.5" y1="729.8" x2="495.5" y2="729.8" stroke="#000" stroke-width="1.4"/>
<line x1="104" y1="641.4" x2="109" y2="641.4" stroke="#000" stroke-width="1.4"/>
<line x1="500.5" y1="641.4" x2="495.5" y2="641.4" stroke="#000" stroke-width="1.4"/>
<g clip-path="url(#ce)">
<polyline points="104.3,950.8 105.43,950.8 106.56,950.8 107.7,950.8 108.83,950.8 109.96,950.8 111.09,950.8 112.22,950.8 113.36,950.8 114.49,950.8 115.62,950.8 116.75,950.8 117.88,950.8 119.02,950.8 120.15,950.8 121.28,950.8 122.41,950.8 123.54,950.8 124.68,950.8 125.81,950.8 126.94,950.8 128.07,950.8 129.2,950.8 130.34,950.8 131.47,950.8 132.6,950.8 133.73,950.8 134.86,950.8 136,950.8 137.13,950.8 138.26,950.8 139.39,950.8 140.52,950.8 141.66,950.8 142.79,950.8 143.92,950.8 145.05,950.8 146.18,950.8 147.32,950.8 148.45,950.8 149.58,950.8 150.71,950.8 151.84,950.8 152.98,950.8 154.11,950.8 155.24,950.8 156.37,950.8 157.5,950.8 158.64,950.8 159.77,950.8 160.9,950.8 162.03,950.8 163.16,950.8 164.3,950.8 165.43,950.8 166.56,950.8 167.69,950.8 168.82,950.8 169.96,950.8 171.09,950.8 172.22,950.8 173.35,950.8 174.48,950.8 175.62,950.8 176.75,950.8 177.88,950.8 179.01,950.8 180.14,950.8 181.28,950.8 182.41,950.8 183.54,950.8 184.67,950.8 185.8,950.8 186.94,950.8 188.07,950.8 189.2,950.8 190.33,950.8 191.46,950.8 192.6,950.8 193.73,950.8 194.86,950.8 195.99,950.8 197.12,950.8 198.26,950.8 199.39,950.8 200.52,950.8 201.65,950.8 202.78,950.8 203.92,950.8 205.05,950.8 206.18,950.8 207.29,950.8 208.35,950.8 209.4,950.8 210.44,950.8 211.49,950.8 212.56,950.8 213.69,950.8 214.87,950.8 216.14,950.8 217.5,950.8 218.97,950.8 220.53,950.8 222.18,950.8 223.88,950.8 225.64,950.8 227.42,950.8 229.21,950.8 230.99,950.8 232.76,950.8 234.48,950.8 236.18,950.8 237.88,950.8 239.57,950.8 241.27,950.8 242.97,950.8 244.67,950.8 246.37,950.8 248.06,950.8 249.76,950.8 251.46,950.8 253.16,950.8 254.86,950.8 256.55,950.8 258.25,950.8 259.95,950.8 261.65,950.8 263.35,950.8 265.04,950.8 266.74,950.8 268.44,950.8 270.14,950.8 271.84,950.8 273.53,950.8 275.23,950.8 276.93,950.8 278.63,950.8 280.33,950.8 282.02,950.8 283.72,950.8 285.42,950.8 287.12,950.8 288.82,950.8 290.51,950.79 292.21,950.79 293.91,950.79 295.61,950.79 297.31,950.79 299,950.79 300.7,950.79 302.4,950.8 304.1,950.82 305.8,950.85 307.49,950.88 309.19,950.92 310.89,950.96 312.59,951 314.29,951.02 315.98,951.03 317.68,951.03 319.38,951 321.08,951.01 322.78,951.1 324.47,951.23 326.17,951.36 327.87,951.45 329.57,951.47 331.27,951.37 332.96,951.12 334.66,950.67 336.36,950 338.06,949.39 339.76,949.05 341.45,948.8 343.15,948.46 344.85,947.88 346.55,946.86 348.25,945.23 349.94,942.83 351.64,939.48 353.34,935 355.04,928.91 356.74,921.14 358.43,912.08 360.13,902.17 361.83,891.81 363.53,881.43 365.23,871.44 366.92,862.26 368.62,854.31 370.32,848 372.02,843.28 373.72,839.68 375.41,837.01 377.11,835.08 378.81,833.69 380.51,832.64 382.21,831.74 383.9,830.8 385.6,829.62 387.3,828 389,826.12 390.7,824.27 392.39,822.45 394.09,820.66 395.79,818.88 397.49,817.1 399.19,815.34 400.88,813.57 402.58,811.79 404.28,810 405.98,808.19 407.68,806.37 409.37,804.54 411.07,802.7 412.77,800.88 414.47,799.06 416.17,797.25 417.86,795.47 419.56,793.72 421.26,792 422.96,790.16 424.66,788.11 426.35,785.95 428.05,783.78 429.75,781.69 431.45,779.78 433.15,778.16 434.84,776.93 436.54,776.17 438.24,776 439.94,776.19 441.64,776.5 443.33,777.05 445.03,777.91 446.73,779.19 448.43,780.97 450.13,783.35 451.82,786.42 453.52,790.27 455.22,795 456.92,800.96 458.62,808.26 460.31,816.59 462.01,825.69 463.71,835.25 465.41,844.99 467.11,854.63 468.8,863.86 470.5,872.42 472.2,880 473.91,886.89 475.64,893.56 477.38,899.97 479.13,906.08 480.87,911.88 482.59,917.32 484.29,922.38 485.97,927.04 487.6,931.25 489.18,935 490.71,938.12 492.19,940.56 493.63,942.44 495.04,943.88 496.43,945 497.81,945.92 499.17,946.76 500.55,947.64 501.93,948.68 503.33,950" fill="none" stroke="#000" stroke-width="1.3" stroke-linejoin="round"/>
<circle cx="104.3" cy="950.8" r="6.4" fill="#ff0" stroke="#000" stroke-width="1.1"/>
<circle cx="115.62" cy="950.8" r="6.4" fill="#ff0" stroke="#000" stroke-width="1.1"/>
<circle cx="126.94" cy="950.8" r="6.4" fill="#ff0" stroke="#000" stroke-width="1.1"/>
<circle cx="138.26" cy="950.8" r="6.4" fill="#ff0" stroke="#000" stroke-width="1.1"/>
<circle cx="149.58" cy="950.8" r="6.4" fill="#ff0" stroke="#000" stroke-width="1.1"/>
<circle cx="160.9" cy="950.8" r="6.4" fill="#ff0" stroke="#000" stroke-width="1.1"/>
<circle cx="172.22" cy="950.8" r="6.4" fill="#ff0" stroke="#000" stroke-width="1.1"/>
<circle cx="183.54" cy="950.8" r="6.4" fill="#ff0" stroke="#000" stroke-width="1.1"/>
<circle cx="194.86" cy="950.8" r="6.4" fill="#ff0" stroke="#000" stroke-width="1.1"/>
<circle cx="206.18" cy="950.8" r="6.4" fill="#ff0" stroke="#000" stroke-width="1.1"/>
<circle cx="217.5" cy="950.8" r="6.4" fill="#ff0" stroke="#000" stroke-width="1.1"/>
<circle cx="234.48" cy="950.8" r="6.4" fill="#ff0" stroke="#000" stroke-width="1.1"/>
<circle cx="251.46" cy="950.8" r="6.4" fill="#ff0" stroke="#000" stroke-width="1.1"/>
<circle cx="268.44" cy="950.8" r="6.4" fill="#ff0" stroke="#000" stroke-width="1.1"/>
<circle cx="285.42" cy="950.8" r="6.4" fill="#ff0" stroke="#000" stroke-width="1.1"/>
<circle cx="302.4" cy="950.8" r="6.4" fill="#ff0" stroke="#000" stroke-width="1.1"/>
<circle cx="319.38" cy="947.6" r="6.4" fill="#ff0" stroke="#000" stroke-width="1.1"/>
<circle cx="336.36" cy="947.6" r="6.4" fill="#ff0" stroke="#000" stroke-width="1.1"/>
<circle cx="353.34" cy="942.8" r="6.4" fill="#ff0" stroke="#000" stroke-width="1.1"/>
<circle cx="370.32" cy="844" r="6.4" fill="#ff0" stroke="#000" stroke-width="1.1"/>
<circle cx="387.3" cy="830.4" r="6.4" fill="#ff0" stroke="#000" stroke-width="1.1"/>
<circle cx="404.28" cy="812.5" r="6.4" fill="#ff0" stroke="#000" stroke-width="1.1"/>
<circle cx="421.26" cy="793.1" r="6.4" fill="#ff0" stroke="#000" stroke-width="1.1"/>
<circle cx="438.24" cy="774.7" r="6.4" fill="#ff0" stroke="#000" stroke-width="1.1"/>
<circle cx="455.22" cy="790.2" r="6.4" fill="#ff0" stroke="#000" stroke-width="1.1"/>
<circle cx="472.2" cy="884.7" r="6.4" fill="#ff0" stroke="#000" stroke-width="1.1"/>
<circle cx="489.18" cy="932.1" r="6.4" fill="#ff0" stroke="#000" stroke-width="1.1"/>
</g>
<g clip-path="url(#ce)">
<polyline points="104.3,950.8 105.43,950.8 106.56,950.8 107.7,950.8 108.83,950.8 109.96,950.8 111.09,950.8 112.22,950.8 113.36,950.8 114.49,950.8 115.62,950.8 116.75,950.8 117.88,950.8 119.02,950.8 120.15,950.8 121.28,950.8 122.41,950.8 123.54,950.8 124.68,950.8 125.81,950.8 126.94,950.8 128.07,950.8 129.2,950.8 130.34,950.8 131.47,950.8 132.6,950.8 133.73,950.8 134.86,950.8 136,950.8 137.13,950.8 138.26,950.8 139.39,950.8 140.52,950.8 141.66,950.8 142.79,950.8 143.92,950.8 145.05,950.8 146.18,950.8 147.32,950.8 148.45,950.8 149.58,950.8 150.71,950.8 151.84,950.8 152.98,950.8 154.11,950.8 155.24,950.8 156.37,950.8 157.5,950.8 158.64,950.8 159.77,950.8 160.9,950.8 162.03,950.8 163.16,950.8 164.3,950.8 165.43,950.8 166.56,950.8 167.69,950.8 168.82,950.8 169.96,950.8 171.09,950.8 172.22,950.8 173.35,950.8 174.48,950.8 175.62,950.8 176.75,950.8 177.88,950.8 179.01,950.8 180.14,950.8 181.28,950.8 182.41,950.8 183.54,950.8 184.67,950.8 185.8,950.8 186.94,950.8 188.07,950.8 189.2,950.8 190.33,950.8 191.46,950.8 192.6,950.8 193.73,950.8 194.86,950.8 195.99,950.8 197.12,950.8 198.26,950.8 199.39,950.8 200.52,950.8 201.65,950.8 202.78,950.8 203.92,950.8 205.05,950.8 206.18,950.8 207.29,950.8 208.35,950.8 209.4,950.8 210.44,950.8 211.49,950.8 212.56,950.8 213.69,950.8 214.87,950.8 216.14,950.8 217.5,950.8 218.97,950.8 220.53,950.8 222.18,950.8 223.88,950.8 225.64,950.8 227.42,950.8 229.21,950.8 230.99,950.8 232.76,950.8 234.48,950.8 236.18,950.8 237.88,950.8 239.57,950.8 241.27,950.8 242.97,950.8 244.67,950.8 246.37,950.8 248.06,950.8 249.76,950.8 251.46,950.8 253.16,950.8 254.86,950.8 256.55,950.8 258.25,950.8 259.95,950.8 261.65,950.8 263.35,950.8 265.04,950.8 266.74,950.8 268.44,950.8 270.14,950.84 271.84,950.92 273.53,951.05 275.23,951.17 276.93,951.29 278.63,951.36 280.33,951.37 282.02,951.3 283.72,951.12 285.42,950.8 287.12,950.44 288.82,950.11 290.51,949.76 292.21,949.36 293.91,948.84 295.61,948.16 297.31,947.29 299,946.17 300.7,944.75 302.4,943 304.1,941.29 305.8,939.9 307.49,938.59 309.19,937.12 310.89,935.26 312.59,932.79 314.29,929.45 315.98,925.04 317.68,919.29 319.38,912 321.08,902.66 322.78,891.23 324.47,878.19 326.17,863.98 327.87,849.06 329.57,833.9 331.27,818.96 332.96,804.69 334.66,791.55 336.36,780 338.06,769.76 339.76,760.19 341.45,751.23 343.15,742.82 344.85,734.88 346.55,727.34 348.25,720.16 349.94,713.25 351.64,706.55 353.34,700 355.05,693.68 356.78,687.71 358.52,682.07 360.27,676.74 362.01,671.69 363.73,666.9 365.43,662.36 367.11,658.05 368.74,653.93 370.32,650 371.86,646.13 373.38,642.26 374.86,638.51 376.32,634.95 377.75,631.69 379.15,628.81 380.52,626.41 381.87,624.58 383.18,623.41 384.47,623 385.72,623.32 386.92,624.26 388.07,625.78 389.2,627.85 390.31,630.44 391.4,633.51 392.48,637.04 393.57,640.98 394.67,645.32 395.79,650 396.91,655.03 398.01,660.45 399.1,666.26 400.18,672.5 401.27,679.19 402.38,686.34 403.51,693.97 404.66,702.11 405.86,710.78 407.11,720 408.4,730.09 409.71,741.2 411.06,753.11 412.43,765.6 413.83,778.44 415.26,791.4 416.72,804.26 418.2,816.8 419.72,828.79 421.26,840 422.84,850.86 424.47,861.85 426.15,872.79 427.85,883.54 429.57,893.94 431.31,903.82 433.06,913.02 434.8,921.39 436.53,928.77 438.24,935 439.94,939.86 441.64,943.39 443.33,945.83 445.03,947.42 446.73,948.38 448.43,948.94 450.13,949.36 451.82,949.85 453.52,950.65 455.22,952" fill="none" stroke="#000" stroke-width="1.3" stroke-linejoin="round"/>
<rect x="98" y="944.5" width="12.6" height="12.6" fill="#f0f" stroke="#000" stroke-width="1.2"/>
<rect x="109.32" y="944.5" width="12.6" height="12.6" fill="#f0f" stroke="#000" stroke-width="1.2"/>
<rect x="120.64" y="944.5" width="12.6" height="12.6" fill="#f0f" stroke="#000" stroke-width="1.2"/>
<rect x="131.96" y="944.5" width="12.6" height="12.6" fill="#f0f" stroke="#000" stroke-width="1.2"/>
<rect x="143.28" y="944.5" width="12.6" height="12.6" fill="#f0f" stroke="#000" stroke-width="1.2"/>
<rect x="154.6" y="944.5" width="12.6" height="12.6" fill="#f0f" stroke="#000" stroke-width="1.2"/>
<rect x="165.92" y="944.5" width="12.6" height="12.6" fill="#f0f" stroke="#000" stroke-width="1.2"/>
<rect x="177.24" y="944.5" width="12.6" height="12.6" fill="#f0f" stroke="#000" stroke-width="1.2"/>
<rect x="188.56" y="944.5" width="12.6" height="12.6" fill="#f0f" stroke="#000" stroke-width="1.2"/>
<rect x="199.88" y="944.5" width="12.6" height="12.6" fill="#f0f" stroke="#000" stroke-width="1.2"/>
<rect x="211.2" y="944.5" width="12.6" height="12.6" fill="#f0f" stroke="#000" stroke-width="1.2"/>
<rect x="228.18" y="944.5" width="12.6" height="12.6" fill="#f0f" stroke="#000" stroke-width="1.2"/>
<rect x="245.16" y="944.5" width="12.6" height="12.6" fill="#f0f" stroke="#000" stroke-width="1.2"/>
<rect x="262.14" y="944.5" width="12.6" height="12.6" fill="#f0f" stroke="#000" stroke-width="1.2"/>
<rect x="279.12" y="944.5" width="12.6" height="12.6" fill="#f0f" stroke="#000" stroke-width="1.2"/>
<rect x="296.1" y="935.5" width="12.6" height="12.6" fill="#f0f" stroke="#000" stroke-width="1.2"/>
<rect x="313.08" y="907.9" width="12.6" height="12.6" fill="#f0f" stroke="#000" stroke-width="1.2"/>
<rect x="330.06" y="765" width="12.6" height="12.6" fill="#f0f" stroke="#000" stroke-width="1.2"/>
<rect x="347.04" y="688.4" width="12.6" height="12.6" fill="#f0f" stroke="#000" stroke-width="1.2"/>
<rect x="364.02" y="638" width="12.6" height="12.6" fill="#f0f" stroke="#000" stroke-width="1.2"/>
<rect x="381" y="601.2" width="12.6" height="12.6" fill="#f0f" stroke="#000" stroke-width="1.2"/>
<rect x="397.98" y="671.5" width="12.6" height="12.6" fill="#f0f" stroke="#000" stroke-width="1.2"/>
<rect x="414.96" y="836.2" width="12.6" height="12.6" fill="#f0f" stroke="#000" stroke-width="1.2"/>
<rect x="431.94" y="924.9" width="12.6" height="12.6" fill="#f0f" stroke="#000" stroke-width="1.2"/>
<rect x="448.92" y="937" width="12.6" height="12.6" fill="#f0f" stroke="#000" stroke-width="1.2"/>
</g>
<g clip-path="url(#ce)">
<polyline points="104.3,950.8 105.43,950.8 106.56,950.8 107.7,950.8 108.83,950.8 109.96,950.8 111.09,950.8 112.22,950.8 113.36,950.8 114.49,950.8 115.62,950.8 116.75,950.8 117.88,950.8 119.02,950.8 120.15,950.8 121.28,950.8 122.41,950.8 123.54,950.8 124.68,950.8 125.81,950.8 126.94,950.8 128.07,950.8 129.2,950.8 130.34,950.8 131.47,950.8 132.6,950.8 133.73,950.8 134.86,950.8 136,950.8 137.13,950.8 138.26,950.8 139.39,950.8 140.52,950.8 141.66,950.8 142.79,950.8 143.92,950.8 145.05,950.8 146.18,950.8 147.32,950.8 148.45,950.8 149.58,950.8 150.71,950.8 151.84,950.8 152.98,950.8 154.11,950.8 155.24,950.8 156.37,950.8 157.5,950.8 158.64,950.8 159.77,950.8 160.9,950.8 162.03,950.8 163.16,950.8 164.3,950.8 165.43,950.8 166.56,950.8 167.69,950.8 168.82,950.8 169.96,950.8 171.09,950.8 172.22,950.8 173.35,950.8 174.48,950.8 175.62,950.8 176.75,950.8 177.88,950.8 179.01,950.8 180.14,950.8 181.28,950.8 182.41,950.8 183.54,950.8 184.67,950.8 185.8,950.8 186.94,950.8 188.07,950.8 189.2,950.8 190.33,950.8 191.46,950.8 192.6,950.8 193.73,950.8 194.86,950.8 195.99,950.8 197.12,950.8 198.26,950.8 199.39,950.8 200.52,950.8 201.65,950.8 202.78,950.8 203.92,950.8 205.05,950.8 206.18,950.8 207.29,950.8 208.35,950.8 209.4,950.8 210.44,950.8 211.49,950.8 212.56,950.8 213.69,950.8 214.87,950.8 216.14,950.8 217.5,950.8 218.97,950.8 220.53,950.8 222.18,950.8 223.88,950.8 225.64,950.8 227.42,950.8 229.21,950.8 230.99,950.8 232.76,950.8 234.48,950.8 236.18,950.8 237.88,950.8 239.57,950.8 241.27,950.8 242.97,950.8 244.67,950.8 246.37,950.8 248.06,950.8 249.76,950.8 251.46,950.8 253.16,950.8 254.86,950.8 256.55,950.8 258.25,950.8 259.95,950.8 261.65,950.8 263.35,950.8 265.04,950.8 266.74,950.8 268.44,950.8 270.14,950.8 271.84,950.8 273.53,950.8 275.23,950.8 276.93,950.8 278.63,950.8 280.33,950.8 282.02,950.8 283.72,950.8 285.42,950.8 287.12,950.92 288.82,951.21 290.51,951.61 292.21,952.04 293.91,952.41 295.61,952.66 297.31,952.7 299,952.45 300.7,951.84 302.4,950.8 304.1,949.91 305.8,949.58 307.49,949.47 309.19,949.21 310.89,948.46 312.59,946.87 314.29,944.08 315.98,939.74 317.68,933.5 319.38,925 321.08,913.29 322.78,898.2 324.47,880.57 326.17,861.23 327.87,841.01 329.57,820.75 331.27,801.29 332.96,783.45 334.66,768.08 336.36,756 338.06,747.03 339.76,740.19 341.45,735.15 343.15,731.58 344.85,729.12 346.55,727.46 348.25,726.26 349.94,725.17 351.64,723.86 353.34,722 355.04,719.92 356.74,718.15 358.43,716.66 360.13,715.42 361.83,714.38 363.53,713.5 365.23,712.77 366.92,712.13 368.62,711.55 370.32,711 372.02,710.42 373.72,709.8 375.41,709.22 377.11,708.72 378.81,708.38 380.51,708.24 382.21,708.37 383.9,708.84 385.6,709.69 387.3,711 389,712.74 390.7,714.85 392.39,717.3 394.09,720.06 395.79,723.12 397.49,726.46 399.19,730.03 400.88,733.83 402.58,737.83 404.28,742 405.98,746.41 407.68,751.14 409.37,756.13 411.07,761.37 412.77,766.81 414.47,772.43 416.17,778.19 417.86,784.06 419.56,790.01 421.26,796 422.96,802.12 424.66,808.46 426.35,814.98 428.05,821.63 429.75,828.38 431.45,835.17 433.15,841.97 434.84,848.74 436.54,855.43 438.24,862 439.96,868.64 441.73,875.49 443.51,882.45 445.3,889.42 447.08,896.31 448.84,903.02 450.54,909.44 452.19,915.47 453.75,921.03 455.22,926 456.58,930.32 457.85,934.04 459.03,937.27 460.16,940.12 461.23,942.69 462.28,945.08 463.32,947.4 464.37,949.76 465.43,952.26 466.54,955" fill="none" stroke="#1a1aff" stroke-width="1.3" stroke-linejoin="round"/>
<polygon points="104.3,940.45 113.05,955.95 95.55,955.95" fill="#0ff" stroke="#1a1aff" stroke-width="1.1"/>
<polygon points="115.62,940.45 124.37,955.95 106.87,955.95" fill="#0ff" stroke="#1a1aff" stroke-width="1.1"/>
<polygon points="126.94,940.45 135.69,955.95 118.19,955.95" fill="#0ff" stroke="#1a1aff" stroke-width="1.1"/>
<polygon points="138.26,940.45 147.01,955.95 129.51,955.95" fill="#0ff" stroke="#1a1aff" stroke-width="1.1"/>
<polygon points="149.58,940.45 158.33,955.95 140.83,955.95" fill="#0ff" stroke="#1a1aff" stroke-width="1.1"/>
<polygon points="160.9,940.45 169.65,955.95 152.15,955.95" fill="#0ff" stroke="#1a1aff" stroke-width="1.1"/>
<polygon points="172.22,940.45 180.97,955.95 163.47,955.95" fill="#0ff" stroke="#1a1aff" stroke-width="1.1"/>
<polygon points="183.54,940.45 192.29,955.95 174.79,955.95" fill="#0ff" stroke="#1a1aff" stroke-width="1.1"/>
<polygon points="194.86,940.45 203.61,955.95 186.11,955.95" fill="#0ff" stroke="#1a1aff" stroke-width="1.1"/>
<polygon points="206.18,940.45 214.93,955.95 197.43,955.95" fill="#0ff" stroke="#1a1aff" stroke-width="1.1"/>
<polygon points="217.5,940.45 226.25,955.95 208.75,955.95" fill="#0ff" stroke="#1a1aff" stroke-width="1.1"/>
<polygon points="234.48,940.45 243.23,955.95 225.73,955.95" fill="#0ff" stroke="#1a1aff" stroke-width="1.1"/>
<polygon points="251.46,940.45 260.21,955.95 242.71,955.95" fill="#0ff" stroke="#1a1aff" stroke-width="1.1"/>
<polygon points="268.44,940.45 277.19,955.95 259.69,955.95" fill="#0ff" stroke="#1a1aff" stroke-width="1.1"/>
<polygon points="285.42,940.45 294.17,955.95 276.67,955.95" fill="#0ff" stroke="#1a1aff" stroke-width="1.1"/>
<polygon points="302.4,940.45 311.15,955.95 293.65,955.95" fill="#0ff" stroke="#1a1aff" stroke-width="1.1"/>
<polygon points="319.38,921.95 328.13,937.45 310.63,937.45" fill="#0ff" stroke="#1a1aff" stroke-width="1.1"/>
<polygon points="336.36,742.65 345.11,758.15 327.61,758.15" fill="#0ff" stroke="#1a1aff" stroke-width="1.1"/>
<polygon points="353.34,713.65 362.09,729.15 344.59,729.15" fill="#0ff" stroke="#1a1aff" stroke-width="1.1"/>
<polygon points="370.32,701.55 379.07,717.05 361.57,717.05" fill="#0ff" stroke="#1a1aff" stroke-width="1.1"/>
<polygon points="387.3,701.55 396.05,717.05 378.55,717.05" fill="#0ff" stroke="#1a1aff" stroke-width="1.1"/>
<polygon points="404.28,734.45 413.03,749.95 395.53,749.95" fill="#0ff" stroke="#1a1aff" stroke-width="1.1"/>
<polygon points="421.26,788.75 430.01,804.25 412.51,804.25" fill="#0ff" stroke="#1a1aff" stroke-width="1.1"/>
<polygon points="438.24,854.15 446.99,869.65 429.49,869.65" fill="#0ff" stroke="#1a1aff" stroke-width="1.1"/>
<polygon points="455.22,918.05 463.97,933.55 446.47,933.55" fill="#0ff" stroke="#1a1aff" stroke-width="1.1"/>
</g>
<text x="104.3" y="985.5" font-size="29.4" text-anchor="middle" fill="#000" font-family="'Liberation Sans', Arial, sans-serif">0</text>
<text x="160.9" y="985.5" font-size="29.4" text-anchor="middle" fill="#000" font-family="'Liberation Sans', Arial, sans-serif">1</text>
<text x="217.5" y="985.5" font-size="29.4" text-anchor="middle" fill="#000" font-family="'Liberation Sans', Arial, sans-serif">2</text>
<text x="274.1" y="985.5" font-size="29.4" text-anchor="middle" fill="#000" font-family="'Liberation Sans', Arial, sans-serif">3</text>
<text x="330.7" y="985.5" font-size="29.4" text-anchor="middle" fill="#000" font-family="'Liberation Sans', Arial, sans-serif">4</text>
<text x="387.3" y="985.5" font-size="29.4" text-anchor="middle" fill="#000" font-family="'Liberation Sans', Arial, sans-serif">5</text>
<text x="443.9" y="985.5" font-size="29.4" text-anchor="middle" fill="#000" font-family="'Liberation Sans', Arial, sans-serif">6</text>
<text x="500.5" y="985.5" font-size="29.4" text-anchor="middle" fill="#000" font-family="'Liberation Sans', Arial, sans-serif">7</text>
<text x="90" y="957" font-size="29.4" text-anchor="end" fill="#000" font-family="'Liberation Sans', Arial, sans-serif">0</text>
<text x="90" y="868.6" font-size="29.4" text-anchor="end" fill="#000" font-family="'Liberation Sans', Arial, sans-serif">1</text>
<text x="90" y="780.2" font-size="29.4" text-anchor="end" fill="#000" font-family="'Liberation Sans', Arial, sans-serif">2</text>
<text x="90" y="691.8" font-size="29.4" text-anchor="end" fill="#000" font-family="'Liberation Sans', Arial, sans-serif">3</text>
<text x="90" y="603.4" font-size="29.4" text-anchor="end" fill="#000" font-family="'Liberation Sans', Arial, sans-serif">4</text>
<text x="238.6" y="1012.7" font-size="28.6" textLength="138.5" lengthAdjust="spacingAndGlyphs" fill="#000" font-family="'Liberation Sans', Arial, sans-serif">Voltage (V)</text>
<text x="0" y="0" font-size="28.6" text-anchor="middle" font-family="'Liberation Sans', Arial, sans-serif" transform="translate(33.9,745) rotate(-90)" textLength="315.6" lengthAdjust="spacingAndGlyphs">Current efficiency (cd A<tspan font-size="16.02" dy="-17.16">-1</tspan><tspan dy="17.16">)</tspan></text>
<text x="120.8" y="608.7" font-size="40.5" fill="#000" font-family="'Liberation Sans', Arial, sans-serif">(e)</text>
<line x1="626.15" y1="551" x2="626.15" y2="953.3" stroke="#b4b4b4" stroke-width="1.3"/>
<line x1="650.9" y1="551" x2="650.9" y2="953.3" stroke="#b4b4b4" stroke-width="1.3"/>
<line x1="675.65" y1="551" x2="675.65" y2="953.3" stroke="#b4b4b4" stroke-width="1.3"/>
<line x1="700.4" y1="551" x2="700.4" y2="953.3" stroke="#b4b4b4" stroke-width="1.3"/>
<line x1="725.15" y1="551" x2="725.15" y2="953.3" stroke="#b4b4b4" stroke-width="1.3"/>
<line x1="749.9" y1="551" x2="749.9" y2="953.3" stroke="#b4b4b4" stroke-width="1.3"/>
<line x1="774.65" y1="551" x2="774.65" y2="953.3" stroke="#b4b4b4" stroke-width="1.3"/>
<line x1="799.4" y1="551" x2="799.4" y2="953.3" stroke="#b4b4b4" stroke-width="1.3"/>
<line x1="824.15" y1="551" x2="824.15" y2="953.3" stroke="#b4b4b4" stroke-width="1.3"/>
<line x1="848.9" y1="551" x2="848.9" y2="953.3" stroke="#b4b4b4" stroke-width="1.3"/>
<line x1="873.65" y1="551" x2="873.65" y2="953.3" stroke="#b4b4b4" stroke-width="1.3"/>
<line x1="898.4" y1="551" x2="898.4" y2="953.3" stroke="#b4b4b4" stroke-width="1.3"/>
<line x1="923.15" y1="551" x2="923.15" y2="953.3" stroke="#b4b4b4" stroke-width="1.3"/>
<line x1="947.9" y1="551" x2="947.9" y2="953.3" stroke="#b4b4b4" stroke-width="1.3"/>
<line x1="972.65" y1="551" x2="972.65" y2="953.3" stroke="#b4b4b4" stroke-width="1.3"/>
<line x1="596.4" y1="926.23" x2="997.4" y2="926.23" stroke="#b4b4b4" stroke-width="1.3"/>
<line x1="596.4" y1="904.16" x2="997.4" y2="904.16" stroke="#b4b4b4" stroke-width="1.3"/>
<line x1="596.4" y1="882.08" x2="997.4" y2="882.08" stroke="#b4b4b4" stroke-width="1.3"/>
<line x1="596.4" y1="860.01" x2="997.4" y2="860.01" stroke="#b4b4b4" stroke-width="1.3"/>
<line x1="596.4" y1="837.94" x2="997.4" y2="837.94" stroke="#b4b4b4" stroke-width="1.3"/>
<line x1="596.4" y1="815.87" x2="997.4" y2="815.87" stroke="#b4b4b4" stroke-width="1.3"/>
<line x1="596.4" y1="793.79" x2="997.4" y2="793.79" stroke="#b4b4b4" stroke-width="1.3"/>
<line x1="596.4" y1="771.72" x2="997.4" y2="771.72" stroke="#b4b4b4" stroke-width="1.3"/>
<line x1="596.4" y1="749.65" x2="997.4" y2="749.65" stroke="#b4b4b4" stroke-width="1.3"/>
<line x1="596.4" y1="727.58" x2="997.4" y2="727.58" stroke="#b4b4b4" stroke-width="1.3"/>
<line x1="596.4" y1="705.51" x2="997.4" y2="705.51" stroke="#b4b4b4" stroke-width="1.3"/>
<line x1="596.4" y1="683.43" x2="997.4" y2="683.43" stroke="#b4b4b4" stroke-width="1.3"/>
<line x1="596.4" y1="661.36" x2="997.4" y2="661.36" stroke="#b4b4b4" stroke-width="1.3"/>
<line x1="596.4" y1="639.29" x2="997.4" y2="639.29" stroke="#b4b4b4" stroke-width="1.3"/>
<line x1="596.4" y1="617.22" x2="997.4" y2="617.22" stroke="#b4b4b4" stroke-width="1.3"/>
<line x1="596.4" y1="595.14" x2="997.4" y2="595.14" stroke="#b4b4b4" stroke-width="1.3"/>
<line x1="596.4" y1="573.07" x2="997.4" y2="573.07" stroke="#b4b4b4" stroke-width="1.3"/>
<clipPath id="cief"><path d="M687.58,946.09 L687.57,946.09 L687.56,946.09 L687.56,946.09 L687.55,946.09 L687.54,946.09 L687.53,946.09 L687.52,946.1 L687.5,946.11 L687.48,946.11 L687.47,946.12 L687.45,946.13 L687.43,946.14 L687.42,946.14 L687.4,946.14 L687.38,946.14 L687.37,946.14 L687.35,946.13 L687.33,946.14 L687.31,946.14 L687.29,946.15 L687.26,946.16 L687.23,946.17 L687.21,946.18 L687.18,946.18 L687.16,946.18 L687.14,946.18 L687.11,946.18 L687.09,946.18 L687.06,946.18 L687.03,946.18 L687.01,946.18 L686.97,946.18 L686.94,946.18 L686.91,946.18 L686.87,946.18 L686.84,946.18 L686.8,946.18 L686.76,946.19 L686.72,946.19 L686.68,946.19 L686.64,946.19 L686.59,946.18 L686.54,946.17 L686.49,946.15 L686.43,946.13 L686.38,946.11 L686.31,946.08 L686.24,946.05 L686.17,946.01 L686.08,945.97 L685.99,945.92 L685.9,945.86 L685.8,945.8 L685.7,945.74 L685.6,945.67 L685.49,945.6 L685.38,945.52 L685.26,945.44 L685.14,945.35 L685.01,945.25 L684.86,945.15 L684.71,945.03 L684.54,944.91 L684.37,944.78 L684.2,944.65 L684.02,944.5 L683.83,944.35 L683.64,944.19 L683.44,944.03 L683.23,943.86 L683.01,943.68 L682.78,943.49 L682.54,943.3 L682.28,943.1 L682.02,942.89 L681.75,942.68 L681.46,942.45 L681.14,942.21 L680.81,941.95 L680.47,941.68 L680.1,941.41 L679.72,941.11 L679.33,940.81 L678.92,940.49 L678.49,940.16 L678.06,939.82 L677.61,939.47 L677.14,939.1 L676.65,938.7 L676.14,938.28 L675.62,937.83 L675.07,937.37 L674.5,936.88 L673.92,936.36 L673.31,935.8 L672.68,935.19 L672.04,934.56 L671.39,933.92 L670.71,933.24 L670.01,932.49 L669.27,931.65 L668.47,930.69 L667.63,929.62 L666.75,928.49 L665.84,927.25 L664.88,925.91 L663.88,924.42 L662.83,922.78 L661.74,921.02 L660.62,919.16 L659.45,917.16 L658.24,914.98 L656.97,912.6 L655.65,909.98 L654.28,907.15 L652.85,904.14 L651.37,900.93 L649.84,897.47 L648.25,893.75 L646.59,889.72 L644.86,885.42 L643.03,880.87 L641.15,876.05 L639.24,870.93 L637.32,865.49 L635.41,859.7 L633.5,853.56 L631.56,847.07 L629.62,840.26 L627.68,833.15 L625.76,825.74 L623.87,818.07 L621.99,810.05 L620.09,801.65 L618.21,792.96 L616.38,784.08 L614.64,775.1 L613.03,766.12 L611.52,757.02 L610.06,747.73 L608.7,738.34 L607.46,728.95 L606.37,719.68 L605.46,710.63 L604.71,701.72 L604.08,692.85 L603.61,684.1 L603.31,675.53 L603.21,667.22 L603.33,659.24 L603.66,651.52 L604.18,643.97 L604.9,636.68 L605.82,629.72 L606.94,623.18 L608.28,617.13 L609.85,611.52 L611.66,606.28 L613.68,601.46 L615.87,597.08 L618.21,593.2 L620.66,589.85 L623.25,587.07 L626.03,584.85 L628.96,583.12 L631.98,581.82 L635.07,580.87 L638.18,580.22 L641.34,579.97 L644.59,580.17 L647.9,580.74 L651.24,581.56 L654.59,582.54 L657.93,583.58 L661.27,584.73 L664.63,586.09 L668.01,587.6 L671.37,589.21 L674.7,590.88 L677.98,592.54 L681.2,594.21 L684.39,595.94 L687.55,597.71 L690.68,599.53 L693.79,601.38 L696.89,603.27 L699.96,605.19 L703.01,607.14 L706.03,609.14 L709.04,611.16 L712.05,613.23 L715.05,615.32 L718.06,617.45 L721.05,619.61 L724.04,621.81 L727.02,624.04 L730,626.29 L732.97,628.56 L735.94,630.86 L738.89,633.18 L741.85,635.53 L744.8,637.9 L747.74,640.29 L750.69,642.69 L753.64,645.1 L756.58,647.54 L759.53,649.99 L762.47,652.46 L765.42,654.94 L768.36,657.43 L771.32,659.94 L774.27,662.45 L777.23,664.98 L780.18,667.52 L783.14,670.07 L786.08,672.62 L789.03,675.17 L791.97,677.74 L794.91,680.31 L797.84,682.88 L800.78,685.45 L803.71,688.02 L806.64,690.59 L809.57,693.17 L812.5,695.74 L815.42,698.31 L818.33,700.87 L821.23,703.43 L824.12,705.98 L827,708.54 L829.87,711.08 L832.73,713.62 L835.58,716.15 L838.41,718.66 L841.22,721.16 L844.03,723.66 L846.82,726.14 L849.6,728.61 L852.35,731.06 L855.09,733.49 L857.8,735.91 L860.5,738.31 L863.18,740.69 L865.84,743.06 L868.47,745.4 L871.08,747.71 L873.65,749.99 L876.21,752.26 L878.74,754.5 L881.24,756.71 L883.7,758.89 L886.12,761.04 L888.51,763.16 L890.86,765.26 L893.17,767.32 L895.45,769.35 L897.67,771.34 L899.84,773.27 L901.94,775.14 L904,776.97 L906,778.75 L907.96,780.49 L909.88,782.19 L911.76,783.86 L913.62,785.51 L915.44,787.12 L917.21,788.7 L918.95,790.24 L920.63,791.73 L922.26,793.18 L923.83,794.57 L925.36,795.91 L926.83,797.2 L928.25,798.46 L929.63,799.68 L930.97,800.86 L932.26,802 L933.5,803.11 L934.7,804.18 L935.86,805.21 L936.97,806.21 L938.05,807.17 L939.09,808.1 L940.08,808.98 L941.03,809.83 L941.95,810.65 L942.83,811.44 L943.69,812.2 L944.52,812.93 L945.31,813.63 L946.07,814.3 L946.8,814.95 L947.51,815.57 L948.2,816.18 L948.86,816.76 L949.49,817.33 L950.1,817.87 L950.68,818.39 L951.25,818.9 L951.81,819.4 L952.35,819.88 L952.88,820.35 L953.39,820.81 L953.89,821.25 L954.37,821.68 L954.83,822.09 L955.28,822.49 L955.71,822.88 L956.13,823.26 L956.54,823.62 L956.93,823.96 L957.3,824.3 L957.67,824.62 L958.02,824.92 L958.36,825.21 L958.68,825.49 L958.99,825.76 L959.28,826.02 L959.57,826.27 L959.83,826.5 L960.08,826.73 L960.32,826.94 L960.55,827.15 L960.77,827.34 L960.98,827.53 L961.19,827.72 L961.38,827.89 L961.56,828.05 L961.74,828.21 L961.91,828.36 L962.07,828.5 L962.22,828.64 L962.37,828.77 L962.5,828.89 L962.63,829 L962.75,829.11 L962.86,829.21 L962.96,829.29 L963.05,829.37 L963.13,829.45 L963.21,829.52 L963.29,829.6 L963.38,829.67 L963.45,829.74 L963.53,829.81 L963.6,829.87 L963.67,829.93 L963.74,829.99 L963.8,830.05 L963.86,830.1 L963.92,830.15 L963.97,830.2 L964.03,830.25 L964.09,830.3 L964.14,830.35 L964.2,830.4 L964.25,830.45 L964.31,830.5 L964.37,830.55 L964.43,830.61 L964.51,830.68 L964.6,830.76 L964.69,830.84 L964.78,830.92 L964.86,831 L964.93,831.05 L964.97,831.09 L965,831.12 L965.02,831.14 L965.04,831.15 L965.06,831.17 L965.08,831.18 Z"/></clipPath>
<filter id="blf" x="-5%" y="-5%" width="110%" height="110%"><feGaussianBlur stdDeviation="4"/></filter>
<g clip-path="url(#cief)"><g filter="url(#blf)"><rect x="631.4" y="571.49" width="6.6" height="6.6" fill="#00ff00"/><rect x="637.4" y="571.49" width="6.6" height="6.6" fill="#04ff00"/><rect x="643.4" y="571.49" width="6.6" height="6.6" fill="#09ff00"/><rect x="619.4" y="577.49" width="6.6" height="6.6" fill="#00ff00"/><rect x="625.4" y="577.49" width="6.6" height="6.6" fill="#00ff00"/><rect x="631.4" y="577.49" width="6.6" height="6.6" fill="#00ff00"/><rect x="637.4" y="577.49" width="6.6" height="6.6" fill="#02ff00"/><rect x="643.4" y="577.49" width="6.6" height="6.6" fill="#07ff00"/><rect x="649.4" y="577.49" width="6.6" height="6.6" fill="#0cff00"/><rect x="655.4" y="577.49" width="6.6" height="6.6" fill="#11ff00"/><rect x="661.4" y="577.49" width="6.6" height="6.6" fill="#16ff00"/><rect x="613.4" y="583.49" width="6.6" height="6.6" fill="#00ff00"/><rect x="619.4" y="583.49" width="6.6" height="6.6" fill="#00ff00"/><rect x="625.4" y="583.49" width="6.6" height="6.6" fill="#00ff00"/><rect x="631.4" y="583.49" width="6.6" height="6.6" fill="#00ff00"/><rect x="637.4" y="583.49" width="6.6" height="6.6" fill="#00ff00"/><rect x="643.4" y="583.49" width="6.6" height="6.6" fill="#04ff00"/><rect x="649.4" y="583.49" width="6.6" height="6.6" fill="#0aff00"/><rect x="655.4" y="583.49" width="6.6" height="6.6" fill="#0fff00"/><rect x="661.4" y="583.49" width="6.6" height="6.6" fill="#14ff00"/><rect x="667.4" y="583.49" width="6.6" height="6.6" fill="#19ff00"/><rect x="673.4" y="583.49" width="6.6" height="6.6" fill="#1fff00"/><rect x="613.4" y="589.49" width="6.6" height="6.6" fill="#00ff00"/><rect x="619.4" y="589.49" width="6.6" height="6.6" fill="#00ff00"/><rect x="625.4" y="589.49" width="6.6" height="6.6" fill="#00ff00"/><rect x="631.4" y="589.49" width="6.6" height="6.6" fill="#00ff00"/><rect x="637.4" y="589.49" width="6.6" height="6.6" fill="#00ff00"/><rect x="643.4" y="589.49" width="6.6" height="6.6" fill="#02ff00"/><rect x="649.4" y="589.49" width="6.6" height="6.6" fill="#07ff01"/><rect x="655.4" y="589.49" width="6.6" height="6.6" fill="#0cff01"/><rect x="661.4" y="589.49" width="6.6" height="6.6" fill="#12ff01"/><rect x="667.4" y="589.49" width="6.6" height="6.6" fill="#18ff01"/><rect x="673.4" y="589.49" width="6.6" height="6.6" fill="#1dff01"/><rect x="679.4" y="589.49" width="6.6" height="6.6" fill="#24ff00"/><rect x="685.4" y="589.49" width="6.6" height="6.6" fill="#2cff00"/><rect x="607.4" y="595.49" width="6.6" height="6.6" fill="#00ff00"/><rect x="613.4" y="595.49" width="6.6" height="6.6" fill="#00ff00"/><rect x="619.4" y="595.49" width="6.6" height="6.6" fill="#00ff00"/><rect x="625.4" y="595.49" width="6.6" height="6.6" fill="#00ff00"/><rect x="631.4" y="595.49" width="6.6" height="6.6" fill="#00ff00"/><rect x="637.4" y="595.49" width="6.6" height="6.6" fill="#01ff01"/><rect x="643.4" y="595.49" width="6.6" height="6.6" fill="#01ff01"/><rect x="649.4" y="595.49" width="6.6" height="6.6" fill="#04ff01"/><rect x="655.4" y="595.49" width="6.6" height="6.6" fill="#0aff01"/><rect x="661.4" y="595.49" width="6.6" height="6.6" fill="#0fff01"/><rect x="667.4" y="595.49" width="6.6" height="6.6" fill="#15ff01"/><rect x="673.4" y="595.49" width="6.6" height="6.6" fill="#1bff01"/><rect x="679.4" y="595.49" width="6.6" height="6.6" fill="#22ff01"/><rect x="685.4" y="595.49" width="6.6" height="6.6" fill="#29ff00"/><rect x="691.4" y="595.49" width="6.6" height="6.6" fill="#31ff00"/><rect x="697.4" y="595.49" width="6.6" height="6.6" fill="#39ff00"/><rect x="607.4" y="601.49" width="6.6" height="6.6" fill="#00ff00"/><rect x="613.4" y="601.49" width="6.6" height="6.6" fill="#00ff00"/><rect x="619.4" y="601.49" width="6.6" height="6.6" fill="#00ff00"/><rect x="625.4" y="601.49" width="6.6" height="6.6" fill="#01ff01"/><rect x="631.4" y="601.49" width="6.6" height="6.6" fill="#01ff01"/><rect x="637.4" y="601.49" width="6.6" height="6.6" fill="#01ff01"/><rect x="643.4" y="601.49" width="6.6" height="6.6" fill="#01ff01"/><rect x="649.4" y="601.49" width="6.6" height="6.6" fill="#01ff01"/><rect x="655.4" y="601.49" width="6.6" height="6.6" fill="#07ff01"/><rect x="661.4" y="601.49" width="6.6" height="6.6" fill="#0dff01"/><rect x="667.4" y="601.49" width="6.6" height="6.6" fill="#12ff01"/><rect x="673.4" y="601.49" width="6.6" height="6.6" fill="#19ff01"/><rect x="679.4" y="601.49" width="6.6" height="6.6" fill="#1fff01"/><rect x="685.4" y="601.49" width="6.6" height="6.6" fill="#27ff01"/><rect x="691.4" y="601.49" width="6.6" height="6.6" fill="#2fff02"/><rect x="697.4" y="601.49" width="6.6" height="6.6" fill="#36ff00"/><rect x="703.4" y="601.49" width="6.6" height="6.6" fill="#3fff00"/><rect x="601.4" y="607.49" width="6.6" height="6.6" fill="#00ff00"/><rect x="607.4" y="607.49" width="6.6" height="6.6" fill="#00ff00"/><rect x="613.4" y="607.49" width="6.6" height="6.6" fill="#00ff00"/><rect x="619.4" y="607.49" width="6.6" height="6.6" fill="#01ff01"/><rect x="625.4" y="607.49" width="6.6" height="6.6" fill="#01ff01"/><rect x="631.4" y="607.49" width="6.6" height="6.6" fill="#01ff01"/><rect x="637.4" y="607.49" width="6.6" height="6.6" fill="#01ff01"/><rect x="643.4" y="607.49" width="6.6" height="6.6" fill="#01ff01"/><rect x="649.4" y="607.49" width="6.6" height="6.6" fill="#01ff01"/><rect x="655.4" y="607.49" width="6.6" height="6.6" fill="#04ff01"/><rect x="661.4" y="607.49" width="6.6" height="6.6" fill="#0aff01"/><rect x="667.4" y="607.49" width="6.6" height="6.6" fill="#10ff01"/><rect x="673.4" y="607.49" width="6.6" height="6.6" fill="#16ff02"/><rect x="679.4" y="607.49" width="6.6" height="6.6" fill="#1cff02"/><rect x="685.4" y="607.49" width="6.6" height="6.6" fill="#24ff02"/><rect x="691.4" y="607.49" width="6.6" height="6.6" fill="#2dff02"/><rect x="697.4" y="607.49" width="6.6" height="6.6" fill="#35ff02"/><rect x="703.4" y="607.49" width="6.6" height="6.6" fill="#3eff02"/><rect x="709.4" y="607.49" width="6.6" height="6.6" fill="#44ff00"/><rect x="715.4" y="607.49" width="6.6" height="6.6" fill="#4cff00"/><rect x="601.4" y="613.49" width="6.6" height="6.6" fill="#00ff03"/><rect x="607.4" y="613.49" width="6.6" height="6.6" fill="#01ff01"/><rect x="613.4" y="613.49" width="6.6" height="6.6" fill="#01ff01"/><rect x="619.4" y="613.49" width="6.6" height="6.6" fill="#01ff01"/><rect x="625.4" y="613.49" width="6.6" height="6.6" fill="#01ff01"/><rect x="631.4" y="613.49" width="6.6" height="6.6" fill="#01ff01"/><rect x="637.4" y="613.49" width="6.6" height="6.6" fill="#01ff01"/><rect x="643.4" y="613.49" width="6.6" height="6.6" fill="#01ff01"/><rect x="649.4" y="613.49" width="6.6" height="6.6" fill="#01ff01"/><rect x="655.4" y="613.49" width="6.6" height="6.6" fill="#01ff01"/><rect x="661.4" y="613.49" width="6.6" height="6.6" fill="#07ff02"/><rect x="667.4" y="613.49" width="6.6" height="6.6" fill="#0dff02"/><rect x="673.4" y="613.49" width="6.6" height="6.6" fill="#13ff02"/><rect x="679.4" y="613.49" width="6.6" height="6.6" fill="#1aff02"/><rect x="685.4" y="613.49" width="6.6" height="6.6" fill="#21ff02"/><rect x="691.4" y="613.49" width="6.6" height="6.6" fill="#2aff02"/><rect x="697.4" y="613.49" width="6.6" height="6.6" fill="#33ff03"/><rect x="703.4" y="613.49" width="6.6" height="6.6" fill="#3cff03"/><rect x="709.4" y="613.49" width="6.6" height="6.6" fill="#44ff03"/><rect x="715.4" y="613.49" width="6.6" height="6.6" fill="#4aff00"/><rect x="721.4" y="613.49" width="6.6" height="6.6" fill="#52ff00"/><rect x="601.4" y="619.49" width="6.6" height="6.6" fill="#00ff07"/><rect x="607.4" y="619.49" width="6.6" height="6.6" fill="#01ff03"/><rect x="613.4" y="619.49" width="6.6" height="6.6" fill="#01ff01"/><rect x="619.4" y="619.49" width="6.6" height="6.6" fill="#01ff01"/><rect x="625.4" y="619.49" width="6.6" height="6.6" fill="#01ff01"/><rect x="631.4" y="619.49" width="6.6" height="6.6" fill="#01ff01"/><rect x="637.4" y="619.49" width="6.6" height="6.6" fill="#01ff01"/><rect x="643.4" y="619.49" width="6.6" height="6.6" fill="#01ff01"/><rect x="649.4" y="619.49" width="6.6" height="6.6" fill="#02ff02"/><rect x="655.4" y="619.49" width="6.6" height="6.6" fill="#02ff02"/><rect x="661.4" y="619.49" width="6.6" height="6.6" fill="#04ff02"/><rect x="667.4" y="619.49" width="6.6" height="6.6" fill="#0bff02"/><rect x="673.4" y="619.49" width="6.6" height="6.6" fill="#11ff02"/><rect x="679.4" y="619.49" width="6.6" height="6.6" fill="#18ff03"/><rect x="685.4" y="619.49" width="6.6" height="6.6" fill="#1eff03"/><rect x="691.4" y="619.49" width="6.6" height="6.6" fill="#27ff03"/><rect x="697.4" y="619.49" width="6.6" height="6.6" fill="#30ff03"/><rect x="703.4" y="619.49" width="6.6" height="6.6" fill="#39ff03"/><rect x="709.4" y="619.49" width="6.6" height="6.6" fill="#42ff04"/><rect x="715.4" y="619.49" width="6.6" height="6.6" fill="#4bff04"/><rect x="721.4" y="619.49" width="6.6" height="6.6" fill="#51ff01"/><rect x="727.4" y="619.49" width="6.6" height="6.6" fill="#58ff00"/><rect x="601.4" y="625.49" width="6.6" height="6.6" fill="#00ff0a"/><rect x="607.4" y="625.49" width="6.6" height="6.6" fill="#01ff07"/><rect x="613.4" y="625.49" width="6.6" height="6.6" fill="#01ff02"/><rect x="619.4" y="625.49" width="6.6" height="6.6" fill="#01ff01"/><rect x="625.4" y="625.49" width="6.6" height="6.6" fill="#01ff01"/><rect x="631.4" y="625.49" width="6.6" height="6.6" fill="#01ff01"/><rect x="637.4" y="625.49" width="6.6" height="6.6" fill="#02ff02"/><rect x="643.4" y="625.49" width="6.6" height="6.6" fill="#02ff02"/><rect x="649.4" y="625.49" width="6.6" height="6.6" fill="#02ff02"/><rect x="655.4" y="625.49" width="6.6" height="6.6" fill="#02ff02"/><rect x="661.4" y="625.49" width="6.6" height="6.6" fill="#02ff02"/><rect x="667.4" y="625.49" width="6.6" height="6.6" fill="#08ff03"/><rect x="673.4" y="625.49" width="6.6" height="6.6" fill="#0eff03"/><rect x="679.4" y="625.49" width="6.6" height="6.6" fill="#15ff03"/><rect x="685.4" y="625.49" width="6.6" height="6.6" fill="#1cff04"/><rect x="691.4" y="625.49" width="6.6" height="6.6" fill="#24ff04"/><rect x="697.4" y="625.49" width="6.6" height="6.6" fill="#2eff04"/><rect x="703.4" y="625.49" width="6.6" height="6.6" fill="#37ff04"/><rect x="709.4" y="625.49" width="6.6" height="6.6" fill="#40ff05"/><rect x="715.4" y="625.49" width="6.6" height="6.6" fill="#49ff05"/><rect x="721.4" y="625.49" width="6.6" height="6.6" fill="#52ff05"/><rect x="727.4" y="625.49" width="6.6" height="6.6" fill="#5aff05"/><rect x="733.4" y="625.49" width="6.6" height="6.6" fill="#5eff00"/><rect x="739.4" y="625.49" width="6.6" height="6.6" fill="#66ff00"/><rect x="601.4" y="631.49" width="6.6" height="6.6" fill="#00ff0e"/><rect x="607.4" y="631.49" width="6.6" height="6.6" fill="#01ff0b"/><rect x="613.4" y="631.49" width="6.6" height="6.6" fill="#01ff07"/><rect x="619.4" y="631.49" width="6.6" height="6.6" fill="#01ff02"/><rect x="625.4" y="631.49" width="6.6" height="6.6" fill="#02ff02"/><rect x="631.4" y="631.49" width="6.6" height="6.6" fill="#02ff02"/><rect x="637.4" y="631.49" width="6.6" height="6.6" fill="#02ff02"/><rect x="643.4" y="631.49" width="6.6" height="6.6" fill="#02ff02"/><rect x="649.4" y="631.49" width="6.6" height="6.6" fill="#02ff02"/><rect x="655.4" y="631.49" width="6.6" height="6.6" fill="#03ff03"/><rect x="661.4" y="631.49" width="6.6" height="6.6" fill="#03ff03"/><rect x="667.4" y="631.49" width="6.6" height="6.6" fill="#05ff03"/><rect x="673.4" y="631.49" width="6.6" height="6.6" fill="#0cff04"/><rect x="679.4" y="631.49" width="6.6" height="6.6" fill="#12ff04"/><rect x="685.4" y="631.49" width="6.6" height="6.6" fill="#1aff04"/><rect x="691.4" y="631.49" width="6.6" height="6.6" fill="#21ff05"/><rect x="697.4" y="631.49" width="6.6" height="6.6" fill="#2bff05"/><rect x="703.4" y="631.49" width="6.6" height="6.6" fill="#35ff05"/><rect x="709.4" y="631.49" width="6.6" height="6.6" fill="#3eff06"/><rect x="715.4" y="631.49" width="6.6" height="6.6" fill="#48ff06"/><rect x="721.4" y="631.49" width="6.6" height="6.6" fill="#51ff06"/><rect x="727.4" y="631.49" width="6.6" height="6.6" fill="#59ff06"/><rect x="733.4" y="631.49" width="6.6" height="6.6" fill="#61ff07"/><rect x="739.4" y="631.49" width="6.6" height="6.6" fill="#65ff00"/><rect x="745.4" y="631.49" width="6.6" height="6.6" fill="#6cff00"/><rect x="595.4" y="637.49" width="6.6" height="6.6" fill="#00ff16"/><rect x="601.4" y="637.49" width="6.6" height="6.6" fill="#00ff13"/><rect x="607.4" y="637.49" width="6.6" height="6.6" fill="#01ff0f"/><rect x="613.4" y="637.49" width="6.6" height="6.6" fill="#01ff0b"/><rect x="619.4" y="637.49" width="6.6" height="6.6" fill="#02ff06"/><rect x="625.4" y="637.49" width="6.6" height="6.6" fill="#02ff02"/><rect x="631.4" y="637.49" width="6.6" height="6.6" fill="#02ff02"/><rect x="637.4" y="637.49" width="6.6" height="6.6" fill="#02ff02"/><rect x="643.4" y="637.49" width="6.6" height="6.6" fill="#03ff03"/><rect x="649.4" y="637.49" width="6.6" height="6.6" fill="#03ff03"/><rect x="655.4" y="637.49" width="6.6" height="6.6" fill="#03ff03"/><rect x="661.4" y="637.49" width="6.6" height="6.6" fill="#04ff04"/><rect x="667.4" y="637.49" width="6.6" height="6.6" fill="#04ff04"/><rect x="673.4" y="637.49" width="6.6" height="6.6" fill="#09ff05"/><rect x="679.4" y="637.49" width="6.6" height="6.6" fill="#10ff05"/><rect x="685.4" y="637.49" width="6.6" height="6.6" fill="#17ff05"/><rect x="691.4" y="637.49" width="6.6" height="6.6" fill="#1fff06"/><rect x="697.4" y="637.49" width="6.6" height="6.6" fill="#28ff06"/><rect x="703.4" y="637.49" width="6.6" height="6.6" fill="#32ff07"/><rect x="709.4" y="637.49" width="6.6" height="6.6" fill="#3cff07"/><rect x="715.4" y="637.49" width="6.6" height="6.6" fill="#46ff07"/><rect x="721.4" y="637.49" width="6.6" height="6.6" fill="#50ff08"/><rect x="727.4" y="637.49" width="6.6" height="6.6" fill="#59ff08"/><rect x="733.4" y="637.49" width="6.6" height="6.6" fill="#61ff08"/><rect x="739.4" y="637.49" width="6.6" height="6.6" fill="#69ff08"/><rect x="745.4" y="637.49" width="6.6" height="6.6" fill="#6bff00"/><rect x="751.4" y="637.49" width="6.6" height="6.6" fill="#74ff00"/><rect x="595.4" y="643.49" width="6.6" height="6.6" fill="#00ff1a"/><rect x="601.4" y="643.49" width="6.6" height="6.6" fill="#00ff17"/><rect x="607.4" y="643.49" width="6.6" height="6.6" fill="#01ff14"/><rect x="613.4" y="643.49" width="6.6" height="6.6" fill="#02ff10"/><rect x="619.4" y="643.49" width="6.6" height="6.6" fill="#02ff0b"/><rect x="625.4" y="643.49" width="6.6" height="6.6" fill="#02ff06"/><rect x="631.4" y="643.49" width="6.6" height="6.6" fill="#03ff03"/><rect x="637.4" y="643.49" width="6.6" height="6.6" fill="#03ff03"/><rect x="643.4" y="643.49" width="6.6" height="6.6" fill="#03ff03"/><rect x="649.4" y="643.49" width="6.6" height="6.6" fill="#04ff04"/><rect x="655.4" y="643.49" width="6.6" height="6.6" fill="#04ff04"/><rect x="661.4" y="643.49" width="6.6" height="6.6" fill="#05ff05"/><rect x="667.4" y="643.49" width="6.6" height="6.6" fill="#05ff05"/><rect x="673.4" y="643.49" width="6.6" height="6.6" fill="#06ff06"/><rect x="679.4" y="643.49" width="6.6" height="6.6" fill="#0eff06"/><rect x="685.4" y="643.49" width="6.6" height="6.6" fill="#15ff07"/><rect x="691.4" y="643.49" width="6.6" height="6.6" fill="#1dff07"/><rect x="697.4" y="643.49" width="6.6" height="6.6" fill="#25ff08"/><rect x="703.4" y="643.49" width="6.6" height="6.6" fill="#30ff08"/><rect x="709.4" y="643.49" width="6.6" height="6.6" fill="#3aff09"/><rect x="715.4" y="643.49" width="6.6" height="6.6" fill="#45ff09"/><rect x="721.4" y="643.49" width="6.6" height="6.6" fill="#4fff09"/><rect x="727.4" y="643.49" width="6.6" height="6.6" fill="#58ff0a"/><rect x="733.4" y="643.49" width="6.6" height="6.6" fill="#61ff0a"/><rect x="739.4" y="643.49" width="6.6" height="6.6" fill="#69ff0a"/><rect x="745.4" y="643.49" width="6.6" height="6.6" fill="#71ff0b"/><rect x="751.4" y="643.49" width="6.6" height="6.6" fill="#76ff04"/><rect x="757.4" y="643.49" width="6.6" height="6.6" fill="#7dff00"/><rect x="595.4" y="649.49" width="6.6" height="6.6" fill="#00ff1e"/><rect x="601.4" y="649.49" width="6.6" height="6.6" fill="#01ff1c"/><rect x="607.4" y="649.49" width="6.6" height="6.6" fill="#02ff18"/><rect x="613.4" y="649.49" width="6.6" height="6.6" fill="#02ff14"/><rect x="619.4" y="649.49" width="6.6" height="6.6" fill="#02ff10"/><rect x="625.4" y="649.49" width="6.6" height="6.6" fill="#03ff0c"/><rect x="631.4" y="649.49" width="6.6" height="6.6" fill="#03ff07"/><rect x="637.4" y="649.49" width="6.6" height="6.6" fill="#04ff04"/><rect x="643.4" y="649.49" width="6.6" height="6.6" fill="#04ff04"/><rect x="649.4" y="649.49" width="6.6" height="6.6" fill="#05ff05"/><rect x="655.4" y="649.49" width="6.6" height="6.6" fill="#05ff05"/><rect x="661.4" y="649.49" width="6.6" height="6.6" fill="#06ff06"/><rect x="667.4" y="649.49" width="6.6" height="6.6" fill="#06ff06"/><rect x="673.4" y="649.49" width="6.6" height="6.6" fill="#07ff07"/><rect x="679.4" y="649.49" width="6.6" height="6.6" fill="#0bff07"/><rect x="685.4" y="649.49" width="6.6" height="6.6" fill="#13ff08"/><rect x="691.4" y="649.49" width="6.6" height="6.6" fill="#1bff09"/><rect x="697.4" y="649.49" width="6.6" height="6.6" fill="#23ff09"/><rect x="703.4" y="649.49" width="6.6" height="6.6" fill="#2dff0a"/><rect x="709.4" y="649.49" width="6.6" height="6.6" fill="#38ff0a"/><rect x="715.4" y="649.49" width="6.6" height="6.6" fill="#43ff0b"/><rect x="721.4" y="649.49" width="6.6" height="6.6" fill="#4eff0c"/><rect x="727.4" y="649.49" width="6.6" height="6.6" fill="#57ff0c"/><rect x="733.4" y="649.49" width="6.6" height="6.6" fill="#61ff0c"/><rect x="739.4" y="649.49" width="6.6" height="6.6" fill="#69ff0d"/><rect x="745.4" y="649.49" width="6.6" height="6.6" fill="#71ff0d"/><rect x="751.4" y="649.49" width="6.6" height="6.6" fill="#7aff0d"/><rect x="757.4" y="649.49" width="6.6" height="6.6" fill="#81ff09"/><rect x="763.4" y="649.49" width="6.6" height="6.6" fill="#86ff00"/><rect x="769.4" y="649.49" width="6.6" height="6.6" fill="#8fff00"/><rect x="595.4" y="655.49" width="6.6" height="6.6" fill="#01fe24"/><rect x="601.4" y="655.49" width="6.6" height="6.6" fill="#02ff20"/><rect x="607.4" y="655.49" width="6.6" height="6.6" fill="#02ff1d"/><rect x="613.4" y="655.49" width="6.6" height="6.6" fill="#02ff19"/><rect x="619.4" y="655.49" width="6.6" height="6.6" fill="#03ff15"/><rect x="625.4" y="655.49" width="6.6" height="6.6" fill="#03ff11"/><rect x="631.4" y="655.49" width="6.6" height="6.6" fill="#04ff0c"/><rect x="637.4" y="655.49" width="6.6" height="6.6" fill="#04ff07"/><rect x="643.4" y="655.49" width="6.6" height="6.6" fill="#05ff05"/><rect x="649.4" y="655.49" width="6.6" height="6.6" fill="#05ff05"/><rect x="655.4" y="655.49" width="6.6" height="6.6" fill="#06ff06"/><rect x="661.4" y="655.49" width="6.6" height="6.6" fill="#07ff07"/><rect x="667.4" y="655.49" width="6.6" height="6.6" fill="#07ff07"/><rect x="673.4" y="655.49" width="6.6" height="6.6" fill="#08ff08"/><rect x="679.4" y="655.49" width="6.6" height="6.6" fill="#09ff09"/><rect x="685.4" y="655.49" width="6.6" height="6.6" fill="#11ff0a"/><rect x="691.4" y="655.49" width="6.6" height="6.6" fill="#19ff0b"/><rect x="697.4" y="655.49" width="6.6" height="6.6" fill="#22ff0b"/><rect x="703.4" y="655.49" width="6.6" height="6.6" fill="#2bff0c"/><rect x="709.4" y="655.49" width="6.6" height="6.6" fill="#36ff0d"/><rect x="715.4" y="655.49" width="6.6" height="6.6" fill="#42ff0d"/><rect x="721.4" y="655.49" width="6.6" height="6.6" fill="#4dff0e"/><rect x="727.4" y="655.49" width="6.6" height="6.6" fill="#57ff0f"/><rect x="733.4" y="655.49" width="6.6" height="6.6" fill="#61ff0f"/><rect x="739.4" y="655.49" width="6.6" height="6.6" fill="#6aff10"/><rect x="745.4" y="655.49" width="6.6" height="6.6" fill="#72ff10"/><rect x="751.4" y="655.49" width="6.6" height="6.6" fill="#7bff10"/><rect x="757.4" y="655.49" width="6.6" height="6.6" fill="#85ff10"/><rect x="763.4" y="655.49" width="6.6" height="6.6" fill="#8dff0e"/><rect x="769.4" y="655.49" width="6.6" height="6.6" fill="#90ff00"/><rect x="775.4" y="655.49" width="6.6" height="6.6" fill="#98ff00"/><rect x="595.4" y="661.49" width="6.6" height="6.6" fill="#03fc2c"/><rect x="601.4" y="661.49" width="6.6" height="6.6" fill="#04fe27"/><rect x="607.4" y="661.49" width="6.6" height="6.6" fill="#03ff21"/><rect x="613.4" y="661.49" width="6.6" height="6.6" fill="#03ff1e"/><rect x="619.4" y="661.49" width="6.6" height="6.6" fill="#03ff1a"/><rect x="625.4" y="661.49" width="6.6" height="6.6" fill="#04ff16"/><rect x="631.4" y="661.49" width="6.6" height="6.6" fill="#05ff12"/><rect x="637.4" y="661.49" width="6.6" height="6.6" fill="#05ff0d"/><rect x="643.4" y="661.49" width="6.6" height="6.6" fill="#06ff08"/><rect x="649.4" y="661.49" width="6.6" height="6.6" fill="#07ff07"/><rect x="655.4" y="661.49" width="6.6" height="6.6" fill="#07ff07"/><rect x="661.4" y="661.49" width="6.6" height="6.6" fill="#08ff08"/><rect x="667.4" y="661.49" width="6.6" height="6.6" fill="#09ff09"/><rect x="673.4" y="661.49" width="6.6" height="6.6" fill="#0aff0a"/><rect x="679.4" y="661.49" width="6.6" height="6.6" fill="#0bff0b"/><rect x="685.4" y="661.49" width="6.6" height="6.6" fill="#0fff0c"/><rect x="691.4" y="661.49" width="6.6" height="6.6" fill="#17ff0d"/><rect x="697.4" y="661.49" width="6.6" height="6.6" fill="#20ff0e"/><rect x="703.4" y="661.49" width="6.6" height="6.6" fill="#29ff0f"/><rect x="709.4" y="661.49" width="6.6" height="6.6" fill="#35ff0f"/><rect x="715.4" y="661.49" width="6.6" height="6.6" fill="#40ff10"/><rect x="721.4" y="661.49" width="6.6" height="6.6" fill="#4cff11"/><rect x="727.4" y="661.49" width="6.6" height="6.6" fill="#57ff12"/><rect x="733.4" y="661.49" width="6.6" height="6.6" fill="#61ff12"/><rect x="739.4" y="661.49" width="6.6" height="6.6" fill="#6bff13"/><rect x="745.4" y="661.49" width="6.6" height="6.6" fill="#73ff13"/><rect x="751.4" y="661.49" width="6.6" height="6.6" fill="#7cff14"/><rect x="757.4" y="661.49" width="6.6" height="6.6" fill="#86ff14"/><rect x="763.4" y="661.49" width="6.6" height="6.6" fill="#90ff14"/><rect x="769.4" y="661.49" width="6.6" height="6.6" fill="#98ff12"/><rect x="775.4" y="661.49" width="6.6" height="6.6" fill="#99ff00"/><rect x="781.4" y="661.49" width="6.6" height="6.6" fill="#a1ff00"/><rect x="595.4" y="667.49" width="6.6" height="6.6" fill="#05fa33"/><rect x="601.4" y="667.49" width="6.6" height="6.6" fill="#06fc2f"/><rect x="607.4" y="667.49" width="6.6" height="6.6" fill="#05fd29"/><rect x="613.4" y="667.49" width="6.6" height="6.6" fill="#04ff23"/><rect x="619.4" y="667.49" width="6.6" height="6.6" fill="#04ff1f"/><rect x="625.4" y="667.49" width="6.6" height="6.6" fill="#05ff1b"/><rect x="631.4" y="667.49" width="6.6" height="6.6" fill="#05ff17"/><rect x="637.4" y="667.49" width="6.6" height="6.6" fill="#06ff13"/><rect x="643.4" y="667.49" width="6.6" height="6.6" fill="#07ff0e"/><rect x="649.4" y="667.49" width="6.6" height="6.6" fill="#08ff09"/><rect x="655.4" y="667.49" width="6.6" height="6.6" fill="#09ff09"/><rect x="661.4" y="667.49" width="6.6" height="6.6" fill="#0aff0a"/><rect x="667.4" y="667.49" width="6.6" height="6.6" fill="#0bff0b"/><rect x="673.4" y="667.49" width="6.6" height="6.6" fill="#0cff0c"/><rect x="679.4" y="667.49" width="6.6" height="6.6" fill="#0dff0d"/><rect x="685.4" y="667.49" width="6.6" height="6.6" fill="#0eff0e"/><rect x="691.4" y="667.49" width="6.6" height="6.6" fill="#16ff0f"/><rect x="697.4" y="667.49" width="6.6" height="6.6" fill="#1eff10"/><rect x="703.4" y="667.49" width="6.6" height="6.6" fill="#28ff11"/><rect x="709.4" y="667.49" width="6.6" height="6.6" fill="#33ff12"/><rect x="715.4" y="667.49" width="6.6" height="6.6" fill="#3fff14"/><rect x="721.4" y="667.49" width="6.6" height="6.6" fill="#4bff14"/><rect x="727.4" y="667.49" width="6.6" height="6.6" fill="#57ff15"/><rect x="733.4" y="667.49" width="6.6" height="6.6" fill="#62ff16"/><rect x="739.4" y="667.49" width="6.6" height="6.6" fill="#6bff17"/><rect x="745.4" y="667.49" width="6.6" height="6.6" fill="#75ff17"/><rect x="751.4" y="667.49" width="6.6" height="6.6" fill="#7eff18"/><rect x="757.4" y="667.49" width="6.6" height="6.6" fill="#88ff18"/><rect x="763.4" y="667.49" width="6.6" height="6.6" fill="#92ff18"/><rect x="769.4" y="667.49" width="6.6" height="6.6" fill="#9bff18"/><rect x="775.4" y="667.49" width="6.6" height="6.6" fill="#a3ff16"/><rect x="781.4" y="667.49" width="6.6" height="6.6" fill="#a2ff00"/><rect x="787.4" y="667.49" width="6.6" height="6.6" fill="#abff00"/><rect x="595.4" y="673.49" width="6.6" height="6.6" fill="#07f93b"/><rect x="601.4" y="673.49" width="6.6" height="6.6" fill="#07fa37"/><rect x="607.4" y="673.49" width="6.6" height="6.6" fill="#07fc32"/><rect x="613.4" y="673.49" width="6.6" height="6.6" fill="#06fd2b"/><rect x="619.4" y="673.49" width="6.6" height="6.6" fill="#05ff25"/><rect x="625.4" y="673.49" width="6.6" height="6.6" fill="#06ff21"/><rect x="631.4" y="673.49" width="6.6" height="6.6" fill="#06ff1d"/><rect x="637.4" y="673.49" width="6.6" height="6.6" fill="#07ff19"/><rect x="643.4" y="673.49" width="6.6" height="6.6" fill="#08ff14"/><rect x="649.4" y="673.49" width="6.6" height="6.6" fill="#09ff10"/><rect x="655.4" y="673.49" width="6.6" height="6.6" fill="#0aff0a"/><rect x="661.4" y="673.49" width="6.6" height="6.6" fill="#0bff0b"/><rect x="667.4" y="673.49" width="6.6" height="6.6" fill="#0dff0d"/><rect x="673.4" y="673.49" width="6.6" height="6.6" fill="#0eff0e"/><rect x="679.4" y="673.49" width="6.6" height="6.6" fill="#0fff0f"/><rect x="685.4" y="673.49" width="6.6" height="6.6" fill="#11ff11"/><rect x="691.4" y="673.49" width="6.6" height="6.6" fill="#14ff12"/><rect x="697.4" y="673.49" width="6.6" height="6.6" fill="#1eff13"/><rect x="703.4" y="673.49" width="6.6" height="6.6" fill="#27ff15"/><rect x="709.4" y="673.49" width="6.6" height="6.6" fill="#31ff16"/><rect x="715.4" y="673.49" width="6.6" height="6.6" fill="#3eff17"/><rect x="721.4" y="673.49" width="6.6" height="6.6" fill="#4bff18"/><rect x="727.4" y="673.49" width="6.6" height="6.6" fill="#57ff19"/><rect x="733.4" y="673.49" width="6.6" height="6.6" fill="#62ff1a"/><rect x="739.4" y="673.49" width="6.6" height="6.6" fill="#6dff1b"/><rect x="745.4" y="673.49" width="6.6" height="6.6" fill="#76ff1c"/><rect x="751.4" y="673.49" width="6.6" height="6.6" fill="#7fff1c"/><rect x="757.4" y="673.49" width="6.6" height="6.6" fill="#8aff1c"/><rect x="763.4" y="673.49" width="6.6" height="6.6" fill="#94ff1c"/><rect x="769.4" y="673.49" width="6.6" height="6.6" fill="#9dff1c"/><rect x="775.4" y="673.49" width="6.6" height="6.6" fill="#a6ff1c"/><rect x="781.4" y="673.49" width="6.6" height="6.6" fill="#adff1b"/><rect x="787.4" y="673.49" width="6.6" height="6.6" fill="#adff01"/><rect x="793.4" y="673.49" width="6.6" height="6.6" fill="#b6ff00"/><rect x="595.4" y="679.49" width="6.6" height="6.6" fill="#09f742"/><rect x="601.4" y="679.49" width="6.6" height="6.6" fill="#08f83d"/><rect x="607.4" y="679.49" width="6.6" height="6.6" fill="#0afa3a"/><rect x="613.4" y="679.49" width="6.6" height="6.6" fill="#09fb34"/><rect x="619.4" y="679.49" width="6.6" height="6.6" fill="#08fd2e"/><rect x="625.4" y="679.49" width="6.6" height="6.6" fill="#07ff27"/><rect x="631.4" y="679.49" width="6.6" height="6.6" fill="#07ff23"/><rect x="637.4" y="679.49" width="6.6" height="6.6" fill="#08ff1f"/><rect x="643.4" y="679.49" width="6.6" height="6.6" fill="#0aff1b"/><rect x="649.4" y="679.49" width="6.6" height="6.6" fill="#0bff17"/><rect x="655.4" y="679.49" width="6.6" height="6.6" fill="#0cff12"/><rect x="661.4" y="679.49" width="6.6" height="6.6" fill="#0dff0d"/><rect x="667.4" y="679.49" width="6.6" height="6.6" fill="#0fff0f"/><rect x="673.4" y="679.49" width="6.6" height="6.6" fill="#11ff11"/><rect x="679.4" y="679.49" width="6.6" height="6.6" fill="#12ff12"/><rect x="685.4" y="679.49" width="6.6" height="6.6" fill="#14ff14"/><rect x="691.4" y="679.49" width="6.6" height="6.6" fill="#15ff15"/><rect x="697.4" y="679.49" width="6.6" height="6.6" fill="#1dff17"/><rect x="703.4" y="679.49" width="6.6" height="6.6" fill="#27ff19"/><rect x="709.4" y="679.49" width="6.6" height="6.6" fill="#31ff1a"/><rect x="715.4" y="679.49" width="6.6" height="6.6" fill="#3dff1c"/><rect x="721.4" y="679.49" width="6.6" height="6.6" fill="#4aff1d"/><rect x="727.4" y="679.49" width="6.6" height="6.6" fill="#57ff1e"/><rect x="733.4" y="679.49" width="6.6" height="6.6" fill="#63ff1f"/><rect x="739.4" y="679.49" width="6.6" height="6.6" fill="#6eff20"/><rect x="745.4" y="679.49" width="6.6" height="6.6" fill="#78ff21"/><rect x="751.4" y="679.49" width="6.6" height="6.6" fill="#81ff22"/><rect x="757.4" y="679.49" width="6.6" height="6.6" fill="#8dff22"/><rect x="763.4" y="679.49" width="6.6" height="6.6" fill="#97ff22"/><rect x="769.4" y="679.49" width="6.6" height="6.6" fill="#a0ff22"/><rect x="775.4" y="679.49" width="6.6" height="6.6" fill="#a9ff21"/><rect x="781.4" y="679.49" width="6.6" height="6.6" fill="#b0ff21"/><rect x="787.4" y="679.49" width="6.6" height="6.6" fill="#b8ff1e"/><rect x="793.4" y="679.49" width="6.6" height="6.6" fill="#baff04"/><rect x="799.4" y="679.49" width="6.6" height="6.6" fill="#c1ff00"/><rect x="595.4" y="685.49" width="6.6" height="6.6" fill="#0af54a"/><rect x="601.4" y="685.49" width="6.6" height="6.6" fill="#09f644"/><rect x="607.4" y="685.49" width="6.6" height="6.6" fill="#0cf842"/><rect x="613.4" y="685.49" width="6.6" height="6.6" fill="#0cf93d"/><rect x="619.4" y="685.49" width="6.6" height="6.6" fill="#0bfb37"/><rect x="625.4" y="685.49" width="6.6" height="6.6" fill="#0afd31"/><rect x="631.4" y="685.49" width="6.6" height="6.6" fill="#09fe2a"/><rect x="637.4" y="685.49" width="6.6" height="6.6" fill="#0aff25"/><rect x="643.4" y="685.49" width="6.6" height="6.6" fill="#0bff22"/><rect x="649.4" y="685.49" width="6.6" height="6.6" fill="#0dff1e"/><rect x="655.4" y="685.49" width="6.6" height="6.6" fill="#0eff19"/><rect x="661.4" y="685.49" width="6.6" height="6.6" fill="#10ff15"/><rect x="667.4" y="685.49" width="6.6" height="6.6" fill="#12ff12"/><rect x="673.4" y="685.49" width="6.6" height="6.6" fill="#13ff13"/><rect x="679.4" y="685.49" width="6.6" height="6.6" fill="#15ff15"/><rect x="685.4" y="685.49" width="6.6" height="6.6" fill="#17ff17"/><rect x="691.4" y="685.49" width="6.6" height="6.6" fill="#19ff19"/><rect x="697.4" y="685.49" width="6.6" height="6.6" fill="#1cff1b"/><rect x="703.4" y="685.49" width="6.6" height="6.6" fill="#27ff1d"/><rect x="709.4" y="685.49" width="6.6" height="6.6" fill="#31ff1f"/><rect x="715.4" y="685.49" width="6.6" height="6.6" fill="#3dff21"/><rect x="721.4" y="685.49" width="6.6" height="6.6" fill="#4bff22"/><rect x="727.4" y="685.49" width="6.6" height="6.6" fill="#58ff24"/><rect x="733.4" y="685.49" width="6.6" height="6.6" fill="#65ff25"/><rect x="739.4" y="685.49" width="6.6" height="6.6" fill="#70ff26"/><rect x="745.4" y="685.49" width="6.6" height="6.6" fill="#7bff27"/><rect x="751.4" y="685.49" width="6.6" height="6.6" fill="#84ff28"/><rect x="757.4" y="685.49" width="6.6" height="6.6" fill="#90ff28"/><rect x="763.4" y="685.49" width="6.6" height="6.6" fill="#9aff28"/><rect x="769.4" y="685.49" width="6.6" height="6.6" fill="#a3ff28"/><rect x="775.4" y="685.49" width="6.6" height="6.6" fill="#acff27"/><rect x="781.4" y="685.49" width="6.6" height="6.6" fill="#b4ff27"/><rect x="787.4" y="685.49" width="6.6" height="6.6" fill="#bdff26"/><rect x="793.4" y="685.49" width="6.6" height="6.6" fill="#c4ff22"/><rect x="799.4" y="685.49" width="6.6" height="6.6" fill="#c6ff08"/><rect x="805.4" y="685.49" width="6.6" height="6.6" fill="#ccff00"/><rect x="595.4" y="691.49" width="6.6" height="6.6" fill="#0cf351"/><rect x="601.4" y="691.49" width="6.6" height="6.6" fill="#0bf54c"/><rect x="607.4" y="691.49" width="6.6" height="6.6" fill="#0ff64b"/><rect x="613.4" y="691.49" width="6.6" height="6.6" fill="#0ef746"/><rect x="619.4" y="691.49" width="6.6" height="6.6" fill="#0ef940"/><rect x="625.4" y="691.49" width="6.6" height="6.6" fill="#0dfb3b"/><rect x="631.4" y="691.49" width="6.6" height="6.6" fill="#0dfc34"/><rect x="637.4" y="691.49" width="6.6" height="6.6" fill="#0cfe2e"/><rect x="643.4" y="691.49" width="6.6" height="6.6" fill="#0dff29"/><rect x="649.4" y="691.49" width="6.6" height="6.6" fill="#0fff25"/><rect x="655.4" y="691.49" width="6.6" height="6.6" fill="#10ff21"/><rect x="661.4" y="691.49" width="6.6" height="6.6" fill="#12ff1d"/><rect x="667.4" y="691.49" width="6.6" height="6.6" fill="#14ff18"/><rect x="673.4" y="691.49" width="6.6" height="6.6" fill="#17ff17"/><rect x="679.4" y="691.49" width="6.6" height="6.6" fill="#19ff19"/><rect x="685.4" y="691.49" width="6.6" height="6.6" fill="#1bff1b"/><rect x="691.4" y="691.49" width="6.6" height="6.6" fill="#1dff1d"/><rect x="697.4" y="691.49" width="6.6" height="6.6" fill="#20ff20"/><rect x="703.4" y="691.49" width="6.6" height="6.6" fill="#27ff22"/><rect x="709.4" y="691.49" width="6.6" height="6.6" fill="#32ff24"/><rect x="715.4" y="691.49" width="6.6" height="6.6" fill="#3dff26"/><rect x="721.4" y="691.49" width="6.6" height="6.6" fill="#4bff28"/><rect x="727.4" y="691.49" width="6.6" height="6.6" fill="#59ff2a"/><rect x="733.4" y="691.49" width="6.6" height="6.6" fill="#66ff2c"/><rect x="739.4" y="691.49" width="6.6" height="6.6" fill="#72ff2d"/><rect x="745.4" y="691.49" width="6.6" height="6.6" fill="#7dff2e"/><rect x="751.4" y="691.49" width="6.6" height="6.6" fill="#87ff2f"/><rect x="757.4" y="691.49" width="6.6" height="6.6" fill="#93ff2f"/><rect x="763.4" y="691.49" width="6.6" height="6.6" fill="#9dff2f"/><rect x="769.4" y="691.49" width="6.6" height="6.6" fill="#a7ff2f"/><rect x="775.4" y="691.49" width="6.6" height="6.6" fill="#b0ff2e"/><rect x="781.4" y="691.49" width="6.6" height="6.6" fill="#b8ff2d"/><rect x="787.4" y="691.49" width="6.6" height="6.6" fill="#c1ff2c"/><rect x="793.4" y="691.49" width="6.6" height="6.6" fill="#c9ff2b"/><rect x="799.4" y="691.49" width="6.6" height="6.6" fill="#cfff25"/><rect x="805.4" y="691.49" width="6.6" height="6.6" fill="#d2ff0c"/><rect x="811.4" y="691.49" width="6.6" height="6.6" fill="#d8ff00"/><rect x="817.4" y="691.49" width="6.6" height="6.6" fill="#dfff00"/><rect x="595.4" y="697.49" width="6.6" height="6.6" fill="#0ef258"/><rect x="601.4" y="697.49" width="6.6" height="6.6" fill="#0df354"/><rect x="607.4" y="697.49" width="6.6" height="6.6" fill="#12f453"/><rect x="613.4" y="697.49" width="6.6" height="6.6" fill="#11f64f"/><rect x="619.4" y="697.49" width="6.6" height="6.6" fill="#11f74a"/><rect x="625.4" y="697.49" width="6.6" height="6.6" fill="#11f944"/><rect x="631.4" y="697.49" width="6.6" height="6.6" fill="#11fa3f"/><rect x="637.4" y="697.49" width="6.6" height="6.6" fill="#10fc39"/><rect x="643.4" y="697.49" width="6.6" height="6.6" fill="#10fe32"/><rect x="649.4" y="697.49" width="6.6" height="6.6" fill="#11ff2d"/><rect x="655.4" y="697.49" width="6.6" height="6.6" fill="#13ff29"/><rect x="661.4" y="697.49" width="6.6" height="6.6" fill="#15ff26"/><rect x="667.4" y="697.49" width="6.6" height="6.6" fill="#18ff21"/><rect x="673.4" y="697.49" width="6.6" height="6.6" fill="#1aff1d"/><rect x="679.4" y="697.49" width="6.6" height="6.6" fill="#1dff1d"/><rect x="685.4" y="697.49" width="6.6" height="6.6" fill="#1fff1f"/><rect x="691.4" y="697.49" width="6.6" height="6.6" fill="#22ff22"/><rect x="697.4" y="697.49" width="6.6" height="6.6" fill="#25ff25"/><rect x="703.4" y="697.49" width="6.6" height="6.6" fill="#28ff28"/><rect x="709.4" y="697.49" width="6.6" height="6.6" fill="#33ff2a"/><rect x="715.4" y="697.49" width="6.6" height="6.6" fill="#3fff2d"/><rect x="721.4" y="697.49" width="6.6" height="6.6" fill="#4cff2f"/><rect x="727.4" y="697.49" width="6.6" height="6.6" fill="#5aff31"/><rect x="733.4" y="697.49" width="6.6" height="6.6" fill="#68ff33"/><rect x="739.4" y="697.49" width="6.6" height="6.6" fill="#75ff34"/><rect x="745.4" y="697.49" width="6.6" height="6.6" fill="#81ff36"/><rect x="751.4" y="697.49" width="6.6" height="6.6" fill="#8bff37"/><rect x="757.4" y="697.49" width="6.6" height="6.6" fill="#96ff37"/><rect x="763.4" y="697.49" width="6.6" height="6.6" fill="#a1ff37"/><rect x="769.4" y="697.49" width="6.6" height="6.6" fill="#abff37"/><rect x="775.4" y="697.49" width="6.6" height="6.6" fill="#b4ff36"/><rect x="781.4" y="697.49" width="6.6" height="6.6" fill="#bcff35"/><rect x="787.4" y="697.49" width="6.6" height="6.6" fill="#c5ff34"/><rect x="793.4" y="697.49" width="6.6" height="6.6" fill="#cdff32"/><rect x="799.4" y="697.49" width="6.6" height="6.6" fill="#d4ff30"/><rect x="805.4" y="697.49" width="6.6" height="6.6" fill="#daff29"/><rect x="811.4" y="697.49" width="6.6" height="6.6" fill="#ddff10"/><rect x="817.4" y="697.49" width="6.6" height="6.6" fill="#e3ff00"/><rect x="823.4" y="697.49" width="6.6" height="6.6" fill="#e9fd00"/><rect x="601.4" y="703.49" width="6.6" height="6.6" fill="#0ff15b"/><rect x="607.4" y="703.49" width="6.6" height="6.6" fill="#14f35b"/><rect x="613.4" y="703.49" width="6.6" height="6.6" fill="#14f457"/><rect x="619.4" y="703.49" width="6.6" height="6.6" fill="#14f553"/><rect x="625.4" y="703.49" width="6.6" height="6.6" fill="#14f74e"/><rect x="631.4" y="703.49" width="6.6" height="6.6" fill="#14f849"/><rect x="637.4" y="703.49" width="6.6" height="6.6" fill="#15fa44"/><rect x="643.4" y="703.49" width="6.6" height="6.6" fill="#15fc3e"/><rect x="649.4" y="703.49" width="6.6" height="6.6" fill="#15fe37"/><rect x="655.4" y="703.49" width="6.6" height="6.6" fill="#16ff31"/><rect x="661.4" y="703.49" width="6.6" height="6.6" fill="#18ff2e"/><rect x="667.4" y="703.49" width="6.6" height="6.6" fill="#1bff2b"/><rect x="673.4" y="703.49" width="6.6" height="6.6" fill="#1eff27"/><rect x="679.4" y="703.49" width="6.6" height="6.6" fill="#21ff23"/><rect x="685.4" y="703.49" width="6.6" height="6.6" fill="#24ff24"/><rect x="691.4" y="703.49" width="6.6" height="6.6" fill="#27ff27"/><rect x="697.4" y="703.49" width="6.6" height="6.6" fill="#2bff2b"/><rect x="703.4" y="703.49" width="6.6" height="6.6" fill="#2eff2e"/><rect x="709.4" y="703.49" width="6.6" height="6.6" fill="#34ff31"/><rect x="715.4" y="703.49" width="6.6" height="6.6" fill="#41ff34"/><rect x="721.4" y="703.49" width="6.6" height="6.6" fill="#4dff36"/><rect x="727.4" y="703.49" width="6.6" height="6.6" fill="#5cff39"/><rect x="733.4" y="703.49" width="6.6" height="6.6" fill="#6bff3b"/><rect x="739.4" y="703.49" width="6.6" height="6.6" fill="#78ff3d"/><rect x="745.4" y="703.49" width="6.6" height="6.6" fill="#84ff3e"/><rect x="751.4" y="703.49" width="6.6" height="6.6" fill="#8fff3f"/><rect x="757.4" y="703.49" width="6.6" height="6.6" fill="#9bff40"/><rect x="763.4" y="703.49" width="6.6" height="6.6" fill="#a6ff40"/><rect x="769.4" y="703.49" width="6.6" height="6.6" fill="#afff40"/><rect x="775.4" y="703.49" width="6.6" height="6.6" fill="#b8ff3f"/><rect x="781.4" y="703.49" width="6.6" height="6.6" fill="#c1ff3e"/><rect x="787.4" y="703.49" width="6.6" height="6.6" fill="#c9ff3c"/><rect x="793.4" y="703.49" width="6.6" height="6.6" fill="#d1ff3a"/><rect x="799.4" y="703.49" width="6.6" height="6.6" fill="#d8ff38"/><rect x="805.4" y="703.49" width="6.6" height="6.6" fill="#dfff35"/><rect x="811.4" y="703.49" width="6.6" height="6.6" fill="#e5ff2c"/><rect x="817.4" y="703.49" width="6.6" height="6.6" fill="#e9ff13"/><rect x="823.4" y="703.49" width="6.6" height="6.6" fill="#edfb00"/><rect x="829.4" y="703.49" width="6.6" height="6.6" fill="#f2f800"/><rect x="601.4" y="709.49" width="6.6" height="6.6" fill="#10f064"/><rect x="607.4" y="709.49" width="6.6" height="6.6" fill="#17f164"/><rect x="613.4" y="709.49" width="6.6" height="6.6" fill="#17f260"/><rect x="619.4" y="709.49" width="6.6" height="6.6" fill="#18f35c"/><rect x="625.4" y="709.49" width="6.6" height="6.6" fill="#18f558"/><rect x="631.4" y="709.49" width="6.6" height="6.6" fill="#18f653"/><rect x="637.4" y="709.49" width="6.6" height="6.6" fill="#19f84e"/><rect x="643.4" y="709.49" width="6.6" height="6.6" fill="#19f949"/><rect x="649.4" y="709.49" width="6.6" height="6.6" fill="#1afb43"/><rect x="655.4" y="709.49" width="6.6" height="6.6" fill="#1bfd3d"/><rect x="661.4" y="709.49" width="6.6" height="6.6" fill="#1cff37"/><rect x="667.4" y="709.49" width="6.6" height="6.6" fill="#1fff34"/><rect x="673.4" y="709.49" width="6.6" height="6.6" fill="#22ff31"/><rect x="679.4" y="709.49" width="6.6" height="6.6" fill="#26ff2e"/><rect x="685.4" y="709.49" width="6.6" height="6.6" fill="#29ff2a"/><rect x="691.4" y="709.49" width="6.6" height="6.6" fill="#2dff2d"/><rect x="697.4" y="709.49" width="6.6" height="6.6" fill="#31ff31"/><rect x="703.4" y="709.49" width="6.6" height="6.6" fill="#34ff34"/><rect x="709.4" y="709.49" width="6.6" height="6.6" fill="#38ff38"/><rect x="715.4" y="709.49" width="6.6" height="6.6" fill="#43ff3b"/><rect x="721.4" y="709.49" width="6.6" height="6.6" fill="#50ff3f"/><rect x="727.4" y="709.49" width="6.6" height="6.6" fill="#5eff41"/><rect x="733.4" y="709.49" width="6.6" height="6.6" fill="#6eff44"/><rect x="739.4" y="709.49" width="6.6" height="6.6" fill="#7cff46"/><rect x="745.4" y="709.49" width="6.6" height="6.6" fill="#89ff48"/><rect x="751.4" y="709.49" width="6.6" height="6.6" fill="#94ff49"/><rect x="757.4" y="709.49" width="6.6" height="6.6" fill="#9fff4a"/><rect x="763.4" y="709.49" width="6.6" height="6.6" fill="#aaff4a"/><rect x="769.4" y="709.49" width="6.6" height="6.6" fill="#b4ff49"/><rect x="775.4" y="709.49" width="6.6" height="6.6" fill="#bdff48"/><rect x="781.4" y="709.49" width="6.6" height="6.6" fill="#c6ff47"/><rect x="787.4" y="709.49" width="6.6" height="6.6" fill="#ceff45"/><rect x="793.4" y="709.49" width="6.6" height="6.6" fill="#d6ff43"/><rect x="799.4" y="709.49" width="6.6" height="6.6" fill="#ddff40"/><rect x="805.4" y="709.49" width="6.6" height="6.6" fill="#e4ff3d"/><rect x="811.4" y="709.49" width="6.6" height="6.6" fill="#eaff3a"/><rect x="817.4" y="709.49" width="6.6" height="6.6" fill="#eefd2f"/><rect x="823.4" y="709.49" width="6.6" height="6.6" fill="#f2f916"/><rect x="829.4" y="709.49" width="6.6" height="6.6" fill="#f6f600"/><rect x="835.4" y="709.49" width="6.6" height="6.6" fill="#fbf300"/><rect x="601.4" y="715.49" width="6.6" height="6.6" fill="#10f06d"/><rect x="607.4" y="715.49" width="6.6" height="6.6" fill="#19f16d"/><rect x="613.4" y="715.49" width="6.6" height="6.6" fill="#1af169"/><rect x="619.4" y="715.49" width="6.6" height="6.6" fill="#1bf165"/><rect x="625.4" y="715.49" width="6.6" height="6.6" fill="#1cf361"/><rect x="631.4" y="715.49" width="6.6" height="6.6" fill="#1cf45d"/><rect x="637.4" y="715.49" width="6.6" height="6.6" fill="#1df659"/><rect x="643.4" y="715.49" width="6.6" height="6.6" fill="#1ef755"/><rect x="649.4" y="715.49" width="6.6" height="6.6" fill="#1ff950"/><rect x="655.4" y="715.49" width="6.6" height="6.6" fill="#20fb4a"/><rect x="661.4" y="715.49" width="6.6" height="6.6" fill="#22fd44"/><rect x="667.4" y="715.49" width="6.6" height="6.6" fill="#23ff3e"/><rect x="673.4" y="715.49" width="6.6" height="6.6" fill="#27ff3c"/><rect x="679.4" y="715.49" width="6.6" height="6.6" fill="#2bff39"/><rect x="685.4" y="715.49" width="6.6" height="6.6" fill="#2fff36"/><rect x="691.4" y="715.49" width="6.6" height="6.6" fill="#33ff33"/><rect x="697.4" y="715.49" width="6.6" height="6.6" fill="#37ff37"/><rect x="703.4" y="715.49" width="6.6" height="6.6" fill="#3cff3c"/><rect x="709.4" y="715.49" width="6.6" height="6.6" fill="#40ff40"/><rect x="715.4" y="715.49" width="6.6" height="6.6" fill="#46ff44"/><rect x="721.4" y="715.49" width="6.6" height="6.6" fill="#54ff48"/><rect x="727.4" y="715.49" width="6.6" height="6.6" fill="#61ff4b"/><rect x="733.4" y="715.49" width="6.6" height="6.6" fill="#71ff4e"/><rect x="739.4" y="715.49" width="6.6" height="6.6" fill="#80ff50"/><rect x="745.4" y="715.49" width="6.6" height="6.6" fill="#8dff52"/><rect x="751.4" y="715.49" width="6.6" height="6.6" fill="#99ff54"/><rect x="757.4" y="715.49" width="6.6" height="6.6" fill="#a4ff55"/><rect x="763.4" y="715.49" width="6.6" height="6.6" fill="#b0ff55"/><rect x="769.4" y="715.49" width="6.6" height="6.6" fill="#baff54"/><rect x="775.4" y="715.49" width="6.6" height="6.6" fill="#c2ff53"/><rect x="781.4" y="715.49" width="6.6" height="6.6" fill="#cbff51"/><rect x="787.4" y="715.49" width="6.6" height="6.6" fill="#d3ff4f"/><rect x="793.4" y="715.49" width="6.6" height="6.6" fill="#dbff4c"/><rect x="799.4" y="715.49" width="6.6" height="6.6" fill="#e2ff49"/><rect x="805.4" y="715.49" width="6.6" height="6.6" fill="#e8ff46"/><rect x="811.4" y="715.49" width="6.6" height="6.6" fill="#eefe42"/><rect x="817.4" y="715.49" width="6.6" height="6.6" fill="#f2fb3e"/><rect x="823.4" y="715.49" width="6.6" height="6.6" fill="#f6f832"/><rect x="829.4" y="715.49" width="6.6" height="6.6" fill="#faf41a"/><rect x="835.4" y="715.49" width="6.6" height="6.6" fill="#fff000"/><rect x="841.4" y="715.49" width="6.6" height="6.6" fill="#ffe900"/><rect x="601.4" y="721.49" width="6.6" height="6.6" fill="#10f076"/><rect x="607.4" y="721.49" width="6.6" height="6.6" fill="#19f177"/><rect x="613.4" y="721.49" width="6.6" height="6.6" fill="#1bf173"/><rect x="619.4" y="721.49" width="6.6" height="6.6" fill="#1df16f"/><rect x="625.4" y="721.49" width="6.6" height="6.6" fill="#1ff16b"/><rect x="631.4" y="721.49" width="6.6" height="6.6" fill="#20f267"/><rect x="637.4" y="721.49" width="6.6" height="6.6" fill="#22f364"/><rect x="643.4" y="721.49" width="6.6" height="6.6" fill="#23f560"/><rect x="649.4" y="721.49" width="6.6" height="6.6" fill="#25f75c"/><rect x="655.4" y="721.49" width="6.6" height="6.6" fill="#26f857"/><rect x="661.4" y="721.49" width="6.6" height="6.6" fill="#28fa52"/><rect x="667.4" y="721.49" width="6.6" height="6.6" fill="#2afd4d"/><rect x="673.4" y="721.49" width="6.6" height="6.6" fill="#2cff47"/><rect x="679.4" y="721.49" width="6.6" height="6.6" fill="#30ff45"/><rect x="685.4" y="721.49" width="6.6" height="6.6" fill="#35ff43"/><rect x="691.4" y="721.49" width="6.6" height="6.6" fill="#3aff40"/><rect x="697.4" y="721.49" width="6.6" height="6.6" fill="#3fff3f"/><rect x="703.4" y="721.49" width="6.6" height="6.6" fill="#44ff44"/><rect x="709.4" y="721.49" width="6.6" height="6.6" fill="#48ff48"/><rect x="715.4" y="721.49" width="6.6" height="6.6" fill="#4dff4d"/><rect x="721.4" y="721.49" width="6.6" height="6.6" fill="#58ff51"/><rect x="727.4" y="721.49" width="6.6" height="6.6" fill="#66ff55"/><rect x="733.4" y="721.49" width="6.6" height="6.6" fill="#75ff59"/><rect x="739.4" y="721.49" width="6.6" height="6.6" fill="#85ff5b"/><rect x="745.4" y="721.49" width="6.6" height="6.6" fill="#93ff5e"/><rect x="751.4" y="721.49" width="6.6" height="6.6" fill="#9fff5f"/><rect x="757.4" y="721.49" width="6.6" height="6.6" fill="#aaff60"/><rect x="763.4" y="721.49" width="6.6" height="6.6" fill="#b5ff60"/><rect x="769.4" y="721.49" width="6.6" height="6.6" fill="#bfff60"/><rect x="775.4" y="721.49" width="6.6" height="6.6" fill="#c8ff5f"/><rect x="781.4" y="721.49" width="6.6" height="6.6" fill="#d1ff5d"/><rect x="787.4" y="721.49" width="6.6" height="6.6" fill="#d9ff5a"/><rect x="793.4" y="721.49" width="6.6" height="6.6" fill="#e0ff57"/><rect x="799.4" y="721.49" width="6.6" height="6.6" fill="#e6ff53"/><rect x="805.4" y="721.49" width="6.6" height="6.6" fill="#edff4f"/><rect x="811.4" y="721.49" width="6.6" height="6.6" fill="#f2fc4a"/><rect x="817.4" y="721.49" width="6.6" height="6.6" fill="#f6f946"/><rect x="823.4" y="721.49" width="6.6" height="6.6" fill="#faf741"/><rect x="829.4" y="721.49" width="6.6" height="6.6" fill="#fef335"/><rect x="835.4" y="721.49" width="6.6" height="6.6" fill="#ffec1d"/><rect x="841.4" y="721.49" width="6.6" height="6.6" fill="#ffe303"/><rect x="847.4" y="721.49" width="6.6" height="6.6" fill="#ffdc00"/><rect x="601.4" y="727.49" width="6.6" height="6.6" fill="#10f07f"/><rect x="607.4" y="727.49" width="6.6" height="6.6" fill="#1af181"/><rect x="613.4" y="727.49" width="6.6" height="6.6" fill="#1cf17d"/><rect x="619.4" y="727.49" width="6.6" height="6.6" fill="#1ef17a"/><rect x="625.4" y="727.49" width="6.6" height="6.6" fill="#21f176"/><rect x="631.4" y="727.49" width="6.6" height="6.6" fill="#23f172"/><rect x="637.4" y="727.49" width="6.6" height="6.6" fill="#26f26e"/><rect x="643.4" y="727.49" width="6.6" height="6.6" fill="#28f36b"/><rect x="649.4" y="727.49" width="6.6" height="6.6" fill="#2af568"/><rect x="655.4" y="727.49" width="6.6" height="6.6" fill="#2cf664"/><rect x="661.4" y="727.49" width="6.6" height="6.6" fill="#2ff860"/><rect x="667.4" y="727.49" width="6.6" height="6.6" fill="#31fa5c"/><rect x="673.4" y="727.49" width="6.6" height="6.6" fill="#34fc57"/><rect x="679.4" y="727.49" width="6.6" height="6.6" fill="#36ff51"/><rect x="685.4" y="727.49" width="6.6" height="6.6" fill="#3bff4f"/><rect x="691.4" y="727.49" width="6.6" height="6.6" fill="#41ff4d"/><rect x="697.4" y="727.49" width="6.6" height="6.6" fill="#46ff4b"/><rect x="703.4" y="727.49" width="6.6" height="6.6" fill="#4cff4c"/><rect x="709.4" y="727.49" width="6.6" height="6.6" fill="#51ff51"/><rect x="715.4" y="727.49" width="6.6" height="6.6" fill="#57ff57"/><rect x="721.4" y="727.49" width="6.6" height="6.6" fill="#5dff5c"/><rect x="727.4" y="727.49" width="6.6" height="6.6" fill="#6bff60"/><rect x="733.4" y="727.49" width="6.6" height="6.6" fill="#7aff64"/><rect x="739.4" y="727.49" width="6.6" height="6.6" fill="#8aff67"/><rect x="745.4" y="727.49" width="6.6" height="6.6" fill="#99ff6a"/><rect x="751.4" y="727.49" width="6.6" height="6.6" fill="#a5ff6c"/><rect x="757.4" y="727.49" width="6.6" height="6.6" fill="#b0ff6d"/><rect x="763.4" y="727.49" width="6.6" height="6.6" fill="#bcff6d"/><rect x="769.4" y="727.49" width="6.6" height="6.6" fill="#c5ff6c"/><rect x="775.4" y="727.49" width="6.6" height="6.6" fill="#ceff6b"/><rect x="781.4" y="727.49" width="6.6" height="6.6" fill="#d6ff69"/><rect x="787.4" y="727.49" width="6.6" height="6.6" fill="#deff66"/><rect x="793.4" y="727.49" width="6.6" height="6.6" fill="#e5ff62"/><rect x="799.4" y="727.49" width="6.6" height="6.6" fill="#ebff5e"/><rect x="805.4" y="727.49" width="6.6" height="6.6" fill="#f1fe59"/><rect x="811.4" y="727.49" width="6.6" height="6.6" fill="#f5fb54"/><rect x="817.4" y="727.49" width="6.6" height="6.6" fill="#faf84e"/><rect x="823.4" y="727.49" width="6.6" height="6.6" fill="#fef549"/><rect x="829.4" y="727.49" width="6.6" height="6.6" fill="#fff043"/><rect x="835.4" y="727.49" width="6.6" height="6.6" fill="#ffe938"/><rect x="841.4" y="727.49" width="6.6" height="6.6" fill="#ffe020"/><rect x="847.4" y="727.49" width="6.6" height="6.6" fill="#ffd606"/><rect x="853.4" y="727.49" width="6.6" height="6.6" fill="#ffcf00"/><rect x="601.4" y="733.49" width="6.6" height="6.6" fill="#14f08c"/><rect x="607.4" y="733.49" width="6.6" height="6.6" fill="#19f08a"/><rect x="613.4" y="733.49" width="6.6" height="6.6" fill="#1ef187"/><rect x="619.4" y="733.49" width="6.6" height="6.6" fill="#20f184"/><rect x="625.4" y="733.49" width="6.6" height="6.6" fill="#22f181"/><rect x="631.4" y="733.49" width="6.6" height="6.6" fill="#25f17e"/><rect x="637.4" y="733.49" width="6.6" height="6.6" fill="#28f27a"/><rect x="643.4" y="733.49" width="6.6" height="6.6" fill="#2cf277"/><rect x="649.4" y="733.49" width="6.6" height="6.6" fill="#2ff273"/><rect x="655.4" y="733.49" width="6.6" height="6.6" fill="#32f470"/><rect x="661.4" y="733.49" width="6.6" height="6.6" fill="#35f66d"/><rect x="667.4" y="733.49" width="6.6" height="6.6" fill="#38f86a"/><rect x="673.4" y="733.49" width="6.6" height="6.6" fill="#3cfa66"/><rect x="679.4" y="733.49" width="6.6" height="6.6" fill="#3ffc62"/><rect x="685.4" y="733.49" width="6.6" height="6.6" fill="#43fe5d"/><rect x="691.4" y="733.49" width="6.6" height="6.6" fill="#48ff5b"/><rect x="697.4" y="733.49" width="6.6" height="6.6" fill="#4eff5a"/><rect x="703.4" y="733.49" width="6.6" height="6.6" fill="#55ff58"/><rect x="709.4" y="733.49" width="6.6" height="6.6" fill="#5bff5b"/><rect x="715.4" y="733.49" width="6.6" height="6.6" fill="#61ff61"/><rect x="721.4" y="733.49" width="6.6" height="6.6" fill="#66ff66"/><rect x="727.4" y="733.49" width="6.6" height="6.6" fill="#71ff6c"/><rect x="733.4" y="733.49" width="6.6" height="6.6" fill="#7fff70"/><rect x="739.4" y="733.49" width="6.6" height="6.6" fill="#90ff74"/><rect x="745.4" y="733.49" width="6.6" height="6.6" fill="#9fff77"/><rect x="751.4" y="733.49" width="6.6" height="6.6" fill="#abff79"/><rect x="757.4" y="733.49" width="6.6" height="6.6" fill="#b7ff7a"/><rect x="763.4" y="733.49" width="6.6" height="6.6" fill="#c2ff7b"/><rect x="769.4" y="733.49" width="6.6" height="6.6" fill="#cbff7a"/><rect x="775.4" y="733.49" width="6.6" height="6.6" fill="#d4ff78"/><rect x="781.4" y="733.49" width="6.6" height="6.6" fill="#dcff75"/><rect x="787.4" y="733.49" width="6.6" height="6.6" fill="#e3ff72"/><rect x="793.4" y="733.49" width="6.6" height="6.6" fill="#eaff6e"/><rect x="799.4" y="733.49" width="6.6" height="6.6" fill="#f0ff69"/><rect x="805.4" y="733.49" width="6.6" height="6.6" fill="#f5fc63"/><rect x="811.4" y="733.49" width="6.6" height="6.6" fill="#f9f95e"/><rect x="817.4" y="733.49" width="6.6" height="6.6" fill="#fdf657"/><rect x="823.4" y="733.49" width="6.6" height="6.6" fill="#fff151"/><rect x="829.4" y="733.49" width="6.6" height="6.6" fill="#ffeb4b"/><rect x="835.4" y="733.49" width="6.6" height="6.6" fill="#ffe545"/><rect x="841.4" y="733.49" width="6.6" height="6.6" fill="#ffde3b"/><rect x="847.4" y="733.49" width="6.6" height="6.6" fill="#ffd523"/><rect x="853.4" y="733.49" width="6.6" height="6.6" fill="#ffcb09"/><rect x="859.4" y="733.49" width="6.6" height="6.6" fill="#ffc400"/><rect x="601.4" y="739.49" width="6.6" height="6.6" fill="#18f099"/><rect x="607.4" y="739.49" width="6.6" height="6.6" fill="#1af096"/><rect x="613.4" y="739.49" width="6.6" height="6.6" fill="#23f195"/><rect x="619.4" y="739.49" width="6.6" height="6.6" fill="#24f191"/><rect x="625.4" y="739.49" width="6.6" height="6.6" fill="#25f18c"/><rect x="631.4" y="739.49" width="6.6" height="6.6" fill="#27f189"/><rect x="637.4" y="739.49" width="6.6" height="6.6" fill="#2bf286"/><rect x="643.4" y="739.49" width="6.6" height="6.6" fill="#2ff283"/><rect x="649.4" y="739.49" width="6.6" height="6.6" fill="#33f280"/><rect x="655.4" y="739.49" width="6.6" height="6.6" fill="#37f27d"/><rect x="661.4" y="739.49" width="6.6" height="6.6" fill="#3cf47a"/><rect x="667.4" y="739.49" width="6.6" height="6.6" fill="#40f578"/><rect x="673.4" y="739.49" width="6.6" height="6.6" fill="#44f775"/><rect x="679.4" y="739.49" width="6.6" height="6.6" fill="#48f972"/><rect x="685.4" y="739.49" width="6.6" height="6.6" fill="#4cfc6e"/><rect x="691.4" y="739.49" width="6.6" height="6.6" fill="#51fe6a"/><rect x="697.4" y="739.49" width="6.6" height="6.6" fill="#57ff68"/><rect x="703.4" y="739.49" width="6.6" height="6.6" fill="#5eff68"/><rect x="709.4" y="739.49" width="6.6" height="6.6" fill="#65ff67"/><rect x="715.4" y="739.49" width="6.6" height="6.6" fill="#6bff6b"/><rect x="721.4" y="739.49" width="6.6" height="6.6" fill="#72ff72"/><rect x="727.4" y="739.49" width="6.6" height="6.6" fill="#78ff78"/><rect x="733.4" y="739.49" width="6.6" height="6.6" fill="#86ff7d"/><rect x="739.4" y="739.49" width="6.6" height="6.6" fill="#96ff81"/><rect x="745.4" y="739.49" width="6.6" height="6.6" fill="#a5ff85"/><rect x="751.4" y="739.49" width="6.6" height="6.6" fill="#b3ff87"/><rect x="757.4" y="739.49" width="6.6" height="6.6" fill="#beff89"/><rect x="763.4" y="739.49" width="6.6" height="6.6" fill="#c9ff89"/><rect x="769.4" y="739.49" width="6.6" height="6.6" fill="#d2ff88"/><rect x="775.4" y="739.49" width="6.6" height="6.6" fill="#daff86"/><rect x="781.4" y="739.49" width="6.6" height="6.6" fill="#e2ff83"/><rect x="787.4" y="739.49" width="6.6" height="6.6" fill="#e9ff7f"/><rect x="793.4" y="739.49" width="6.6" height="6.6" fill="#efff7a"/><rect x="799.4" y="739.49" width="6.6" height="6.6" fill="#f4fd74"/><rect x="805.4" y="739.49" width="6.6" height="6.6" fill="#f9fa6e"/><rect x="811.4" y="739.49" width="6.6" height="6.6" fill="#fdf768"/><rect x="817.4" y="739.49" width="6.6" height="6.6" fill="#fff361"/><rect x="823.4" y="739.49" width="6.6" height="6.6" fill="#ffec5a"/><rect x="829.4" y="739.49" width="6.6" height="6.6" fill="#ffe653"/><rect x="835.4" y="739.49" width="6.6" height="6.6" fill="#ffe04c"/><rect x="841.4" y="739.49" width="6.6" height="6.6" fill="#ffda45"/><rect x="847.4" y="739.49" width="6.6" height="6.6" fill="#ffd43e"/><rect x="853.4" y="739.49" width="6.6" height="6.6" fill="#ffcb26"/><rect x="859.4" y="739.49" width="6.6" height="6.6" fill="#ffc10d"/><rect x="865.4" y="739.49" width="6.6" height="6.6" fill="#ffb900"/><rect x="871.4" y="739.49" width="6.6" height="6.6" fill="#ffb600"/><rect x="601.4" y="745.49" width="6.6" height="6.6" fill="#1df0a6"/><rect x="607.4" y="745.49" width="6.6" height="6.6" fill="#1bf0a2"/><rect x="613.4" y="745.49" width="6.6" height="6.6" fill="#29f1a3"/><rect x="619.4" y="745.49" width="6.6" height="6.6" fill="#2af1a0"/><rect x="625.4" y="745.49" width="6.6" height="6.6" fill="#2bf19b"/><rect x="631.4" y="745.49" width="6.6" height="6.6" fill="#2cf297"/><rect x="637.4" y="745.49" width="6.6" height="6.6" fill="#2ef293"/><rect x="643.4" y="745.49" width="6.6" height="6.6" fill="#31f28f"/><rect x="649.4" y="745.49" width="6.6" height="6.6" fill="#36f28d"/><rect x="655.4" y="745.49" width="6.6" height="6.6" fill="#3bf38a"/><rect x="661.4" y="745.49" width="6.6" height="6.6" fill="#40f388"/><rect x="667.4" y="745.49" width="6.6" height="6.6" fill="#46f385"/><rect x="673.4" y="745.49" width="6.6" height="6.6" fill="#4bf583"/><rect x="679.4" y="745.49" width="6.6" height="6.6" fill="#51f781"/><rect x="685.4" y="745.49" width="6.6" height="6.6" fill="#56f97f"/><rect x="691.4" y="745.49" width="6.6" height="6.6" fill="#5bfb7c"/><rect x="697.4" y="745.49" width="6.6" height="6.6" fill="#60fe79"/><rect x="703.4" y="745.49" width="6.6" height="6.6" fill="#67ff77"/><rect x="709.4" y="745.49" width="6.6" height="6.6" fill="#6fff78"/><rect x="715.4" y="745.49" width="6.6" height="6.6" fill="#76ff77"/><rect x="721.4" y="745.49" width="6.6" height="6.6" fill="#7dff7d"/><rect x="727.4" y="745.49" width="6.6" height="6.6" fill="#84ff84"/><rect x="733.4" y="745.49" width="6.6" height="6.6" fill="#8eff8a"/><rect x="739.4" y="745.49" width="6.6" height="6.6" fill="#9cff8f"/><rect x="745.4" y="745.49" width="6.6" height="6.6" fill="#acff93"/><rect x="751.4" y="745.49" width="6.6" height="6.6" fill="#baff96"/><rect x="757.4" y="745.49" width="6.6" height="6.6" fill="#c5ff97"/><rect x="763.4" y="745.49" width="6.6" height="6.6" fill="#d0ff97"/><rect x="769.4" y="745.49" width="6.6" height="6.6" fill="#d8ff96"/><rect x="775.4" y="745.49" width="6.6" height="6.6" fill="#e1ff94"/><rect x="781.4" y="745.49" width="6.6" height="6.6" fill="#e8ff91"/><rect x="787.4" y="745.49" width="6.6" height="6.6" fill="#eeff8c"/><rect x="793.4" y="745.49" width="6.6" height="6.6" fill="#f4ff87"/><rect x="799.4" y="745.49" width="6.6" height="6.6" fill="#f8fc80"/><rect x="805.4" y="745.49" width="6.6" height="6.6" fill="#fcf979"/><rect x="811.4" y="745.49" width="6.6" height="6.6" fill="#fff572"/><rect x="817.4" y="745.49" width="6.6" height="6.6" fill="#ffee6a"/><rect x="823.4" y="745.49" width="6.6" height="6.6" fill="#ffe862"/><rect x="829.4" y="745.49" width="6.6" height="6.6" fill="#ffe15b"/><rect x="835.4" y="745.49" width="6.6" height="6.6" fill="#ffdb53"/><rect x="841.4" y="745.49" width="6.6" height="6.6" fill="#ffd64b"/><rect x="847.4" y="745.49" width="6.6" height="6.6" fill="#ffd044"/><rect x="853.4" y="745.49" width="6.6" height="6.6" fill="#ffcb3d"/><rect x="859.4" y="745.49" width="6.6" height="6.6" fill="#ffc229"/><rect x="865.4" y="745.49" width="6.6" height="6.6" fill="#ffb710"/><rect x="871.4" y="745.49" width="6.6" height="6.6" fill="#ffae00"/><rect x="877.4" y="745.49" width="6.6" height="6.6" fill="#ffab00"/><rect x="607.4" y="751.49" width="6.6" height="6.6" fill="#20f0b0"/><rect x="613.4" y="751.49" width="6.6" height="6.6" fill="#2ef1b1"/><rect x="619.4" y="751.49" width="6.6" height="6.6" fill="#30f1ae"/><rect x="625.4" y="751.49" width="6.6" height="6.6" fill="#31f1aa"/><rect x="631.4" y="751.49" width="6.6" height="6.6" fill="#33f2a7"/><rect x="637.4" y="751.49" width="6.6" height="6.6" fill="#35f2a3"/><rect x="643.4" y="751.49" width="6.6" height="6.6" fill="#38f29f"/><rect x="649.4" y="751.49" width="6.6" height="6.6" fill="#3af39b"/><rect x="655.4" y="751.49" width="6.6" height="6.6" fill="#3ef397"/><rect x="661.4" y="751.49" width="6.6" height="6.6" fill="#44f395"/><rect x="667.4" y="751.49" width="6.6" height="6.6" fill="#4bf494"/><rect x="673.4" y="751.49" width="6.6" height="6.6" fill="#52f491"/><rect x="679.4" y="751.49" width="6.6" height="6.6" fill="#59f590"/><rect x="685.4" y="751.49" width="6.6" height="6.6" fill="#5ff78f"/><rect x="691.4" y="751.49" width="6.6" height="6.6" fill="#65f98d"/><rect x="697.4" y="751.49" width="6.6" height="6.6" fill="#6cfb8c"/><rect x="703.4" y="751.49" width="6.6" height="6.6" fill="#72fd89"/><rect x="709.4" y="751.49" width="6.6" height="6.6" fill="#79ff88"/><rect x="715.4" y="751.49" width="6.6" height="6.6" fill="#81ff89"/><rect x="721.4" y="751.49" width="6.6" height="6.6" fill="#89ff89"/><rect x="727.4" y="751.49" width="6.6" height="6.6" fill="#90ff90"/><rect x="733.4" y="751.49" width="6.6" height="6.6" fill="#97ff97"/><rect x="739.4" y="751.49" width="6.6" height="6.6" fill="#a4ff9d"/><rect x="745.4" y="751.49" width="6.6" height="6.6" fill="#b4ffa1"/><rect x="751.4" y="751.49" width="6.6" height="6.6" fill="#c2ffa4"/><rect x="757.4" y="751.49" width="6.6" height="6.6" fill="#ccffa6"/><rect x="763.4" y="751.49" width="6.6" height="6.6" fill="#d7ffa6"/><rect x="769.4" y="751.49" width="6.6" height="6.6" fill="#dfffa5"/><rect x="775.4" y="751.49" width="6.6" height="6.6" fill="#e7ffa3"/><rect x="781.4" y="751.49" width="6.6" height="6.6" fill="#edff9f"/><rect x="787.4" y="751.49" width="6.6" height="6.6" fill="#f3ff9a"/><rect x="793.4" y="751.49" width="6.6" height="6.6" fill="#f8fd93"/><rect x="799.4" y="751.49" width="6.6" height="6.6" fill="#fcfa8c"/><rect x="805.4" y="751.49" width="6.6" height="6.6" fill="#fff685"/><rect x="811.4" y="751.49" width="6.6" height="6.6" fill="#fff07c"/><rect x="817.4" y="751.49" width="6.6" height="6.6" fill="#ffea74"/><rect x="823.4" y="751.49" width="6.6" height="6.6" fill="#ffe36b"/><rect x="829.4" y="751.49" width="6.6" height="6.6" fill="#ffdd62"/><rect x="835.4" y="751.49" width="6.6" height="6.6" fill="#ffd75a"/><rect x="841.4" y="751.49" width="6.6" height="6.6" fill="#ffd252"/><rect x="847.4" y="751.49" width="6.6" height="6.6" fill="#ffcc4a"/><rect x="853.4" y="751.49" width="6.6" height="6.6" fill="#ffc642"/><rect x="859.4" y="751.49" width="6.6" height="6.6" fill="#ffc13b"/><rect x="865.4" y="751.49" width="6.6" height="6.6" fill="#ffb92c"/><rect x="871.4" y="751.49" width="6.6" height="6.6" fill="#ffad13"/><rect x="877.4" y="751.49" width="6.6" height="6.6" fill="#ffa300"/><rect x="883.4" y="751.49" width="6.6" height="6.6" fill="#ff9f00"/><rect x="607.4" y="757.49" width="6.6" height="6.6" fill="#17f4c5"/><rect x="613.4" y="757.49" width="6.6" height="6.6" fill="#2bf4c4"/><rect x="619.4" y="757.49" width="6.6" height="6.6" fill="#31f3be"/><rect x="625.4" y="757.49" width="6.6" height="6.6" fill="#37f2b9"/><rect x="631.4" y="757.49" width="6.6" height="6.6" fill="#39f2b6"/><rect x="637.4" y="757.49" width="6.6" height="6.6" fill="#3cf2b2"/><rect x="643.4" y="757.49" width="6.6" height="6.6" fill="#3ff2af"/><rect x="649.4" y="757.49" width="6.6" height="6.6" fill="#42f3ac"/><rect x="655.4" y="757.49" width="6.6" height="6.6" fill="#46f3a8"/><rect x="661.4" y="757.49" width="6.6" height="6.6" fill="#4af4a5"/><rect x="667.4" y="757.49" width="6.6" height="6.6" fill="#4ff4a2"/><rect x="673.4" y="757.49" width="6.6" height="6.6" fill="#57f4a0"/><rect x="679.4" y="757.49" width="6.6" height="6.6" fill="#5ef59f"/><rect x="685.4" y="757.49" width="6.6" height="6.6" fill="#67f59e"/><rect x="691.4" y="757.49" width="6.6" height="6.6" fill="#6ff79d"/><rect x="697.4" y="757.49" width="6.6" height="6.6" fill="#76f99c"/><rect x="703.4" y="757.49" width="6.6" height="6.6" fill="#7dfb9c"/><rect x="709.4" y="757.49" width="6.6" height="6.6" fill="#84fd9a"/><rect x="715.4" y="757.49" width="6.6" height="6.6" fill="#8bff99"/><rect x="721.4" y="757.49" width="6.6" height="6.6" fill="#94ff9b"/><rect x="727.4" y="757.49" width="6.6" height="6.6" fill="#9dff9d"/><rect x="733.4" y="757.49" width="6.6" height="6.6" fill="#a4ffa4"/><rect x="739.4" y="757.49" width="6.6" height="6.6" fill="#adffaa"/><rect x="745.4" y="757.49" width="6.6" height="6.6" fill="#bbffaf"/><rect x="751.4" y="757.49" width="6.6" height="6.6" fill="#c9ffb3"/><rect x="757.4" y="757.49" width="6.6" height="6.6" fill="#d4ffb5"/><rect x="763.4" y="757.49" width="6.6" height="6.6" fill="#deffb5"/><rect x="769.4" y="757.49" width="6.6" height="6.6" fill="#e6ffb4"/><rect x="775.4" y="757.49" width="6.6" height="6.6" fill="#edffb1"/><rect x="781.4" y="757.49" width="6.6" height="6.6" fill="#f3ffad"/><rect x="787.4" y="757.49" width="6.6" height="6.6" fill="#f8fea7"/><rect x="793.4" y="757.49" width="6.6" height="6.6" fill="#fcfba0"/><rect x="799.4" y="757.49" width="6.6" height="6.6" fill="#fff898"/><rect x="805.4" y="757.49" width="6.6" height="6.6" fill="#fff290"/><rect x="811.4" y="757.49" width="6.6" height="6.6" fill="#ffec86"/><rect x="817.4" y="757.49" width="6.6" height="6.6" fill="#ffe57d"/><rect x="823.4" y="757.49" width="6.6" height="6.6" fill="#ffdf74"/><rect x="829.4" y="757.49" width="6.6" height="6.6" fill="#ffd96a"/><rect x="835.4" y="757.49" width="6.6" height="6.6" fill="#ffd361"/><rect x="841.4" y="757.49" width="6.6" height="6.6" fill="#ffcd58"/><rect x="847.4" y="757.49" width="6.6" height="6.6" fill="#ffc74f"/><rect x="853.4" y="757.49" width="6.6" height="6.6" fill="#ffc147"/><rect x="859.4" y="757.49" width="6.6" height="6.6" fill="#ffbb3f"/><rect x="865.4" y="757.49" width="6.6" height="6.6" fill="#ffb638"/><rect x="871.4" y="757.49" width="6.6" height="6.6" fill="#ffaf2f"/><rect x="877.4" y="757.49" width="6.6" height="6.6" fill="#ffa317"/><rect x="883.4" y="757.49" width="6.6" height="6.6" fill="#ff9700"/><rect x="889.4" y="757.49" width="6.6" height="6.6" fill="#ff9400"/><rect x="607.4" y="763.49" width="6.6" height="6.6" fill="#0ef8db"/><rect x="613.4" y="763.49" width="6.6" height="6.6" fill="#21f8d9"/><rect x="619.4" y="763.49" width="6.6" height="6.6" fill="#29f7d4"/><rect x="625.4" y="763.49" width="6.6" height="6.6" fill="#2ff6cf"/><rect x="631.4" y="763.49" width="6.6" height="6.6" fill="#36f5ca"/><rect x="637.4" y="763.49" width="6.6" height="6.6" fill="#3df4c5"/><rect x="643.4" y="763.49" width="6.6" height="6.6" fill="#45f3c0"/><rect x="649.4" y="763.49" width="6.6" height="6.6" fill="#4af3bc"/><rect x="655.4" y="763.49" width="6.6" height="6.6" fill="#4ef3b9"/><rect x="661.4" y="763.49" width="6.6" height="6.6" fill="#53f4b7"/><rect x="667.4" y="763.49" width="6.6" height="6.6" fill="#58f4b4"/><rect x="673.4" y="763.49" width="6.6" height="6.6" fill="#5ef5b1"/><rect x="679.4" y="763.49" width="6.6" height="6.6" fill="#64f5ae"/><rect x="685.4" y="763.49" width="6.6" height="6.6" fill="#6cf6ad"/><rect x="691.4" y="763.49" width="6.6" height="6.6" fill="#76f6ad"/><rect x="697.4" y="763.49" width="6.6" height="6.6" fill="#7ff7ac"/><rect x="703.4" y="763.49" width="6.6" height="6.6" fill="#88f9ac"/><rect x="709.4" y="763.49" width="6.6" height="6.6" fill="#90fbac"/><rect x="715.4" y="763.49" width="6.6" height="6.6" fill="#98fdac"/><rect x="721.4" y="763.49" width="6.6" height="6.6" fill="#9fffab"/><rect x="727.4" y="763.49" width="6.6" height="6.6" fill="#a8ffad"/><rect x="733.4" y="763.49" width="6.6" height="6.6" fill="#b1ffb1"/><rect x="739.4" y="763.49" width="6.6" height="6.6" fill="#b8ffb8"/><rect x="745.4" y="763.49" width="6.6" height="6.6" fill="#c3ffbd"/><rect x="751.4" y="763.49" width="6.6" height="6.6" fill="#d1ffc1"/><rect x="757.4" y="763.49" width="6.6" height="6.6" fill="#dcffc4"/><rect x="763.4" y="763.49" width="6.6" height="6.6" fill="#e5ffc4"/><rect x="769.4" y="763.49" width="6.6" height="6.6" fill="#ecffc3"/><rect x="775.4" y="763.49" width="6.6" height="6.6" fill="#f2ffbf"/><rect x="781.4" y="763.49" width="6.6" height="6.6" fill="#f7ffba"/><rect x="787.4" y="763.49" width="6.6" height="6.6" fill="#fbfdb4"/><rect x="793.4" y="763.49" width="6.6" height="6.6" fill="#fffaac"/><rect x="799.4" y="763.49" width="6.6" height="6.6" fill="#fff4a3"/><rect x="805.4" y="763.49" width="6.6" height="6.6" fill="#ffee9a"/><rect x="811.4" y="763.49" width="6.6" height="6.6" fill="#ffe890"/><rect x="817.4" y="763.49" width="6.6" height="6.6" fill="#ffe286"/><rect x="823.4" y="763.49" width="6.6" height="6.6" fill="#ffdb7b"/><rect x="829.4" y="763.49" width="6.6" height="6.6" fill="#ffd571"/><rect x="835.4" y="763.49" width="6.6" height="6.6" fill="#ffcf67"/><rect x="841.4" y="763.49" width="6.6" height="6.6" fill="#ffc85d"/><rect x="847.4" y="763.49" width="6.6" height="6.6" fill="#ffc254"/><rect x="853.4" y="763.49" width="6.6" height="6.6" fill="#ffbb4b"/><rect x="859.4" y="763.49" width="6.6" height="6.6" fill="#ffb543"/><rect x="865.4" y="763.49" width="6.6" height="6.6" fill="#ffaf3b"/><rect x="871.4" y="763.49" width="6.6" height="6.6" fill="#ffaa34"/><rect x="877.4" y="763.49" width="6.6" height="6.6" fill="#ffa42e"/><rect x="883.4" y="763.49" width="6.6" height="6.6" fill="#ff991a"/><rect x="889.4" y="763.49" width="6.6" height="6.6" fill="#ff8b00"/><rect x="895.4" y="763.49" width="6.6" height="6.6" fill="#ff8800"/><rect x="607.4" y="769.49" width="6.6" height="6.6" fill="#05fdf3"/><rect x="613.4" y="769.49" width="6.6" height="6.6" fill="#12fcef"/><rect x="619.4" y="769.49" width="6.6" height="6.6" fill="#21fbeb"/><rect x="625.4" y="769.49" width="6.6" height="6.6" fill="#27fae6"/><rect x="631.4" y="769.49" width="6.6" height="6.6" fill="#2ef9e2"/><rect x="637.4" y="769.49" width="6.6" height="6.6" fill="#35f8dd"/><rect x="643.4" y="769.49" width="6.6" height="6.6" fill="#3df8d8"/><rect x="649.4" y="769.49" width="6.6" height="6.6" fill="#46f7d3"/><rect x="655.4" y="769.49" width="6.6" height="6.6" fill="#4ff6ce"/><rect x="661.4" y="769.49" width="6.6" height="6.6" fill="#59f5c9"/><rect x="667.4" y="769.49" width="6.6" height="6.6" fill="#61f4c5"/><rect x="673.4" y="769.49" width="6.6" height="6.6" fill="#67f5c3"/><rect x="679.4" y="769.49" width="6.6" height="6.6" fill="#6ef6c1"/><rect x="685.4" y="769.49" width="6.6" height="6.6" fill="#75f6bf"/><rect x="691.4" y="769.49" width="6.6" height="6.6" fill="#7df7bd"/><rect x="697.4" y="769.49" width="6.6" height="6.6" fill="#86f7bc"/><rect x="703.4" y="769.49" width="6.6" height="6.6" fill="#90f8bc"/><rect x="709.4" y="769.49" width="6.6" height="6.6" fill="#9bf9bc"/><rect x="715.4" y="769.49" width="6.6" height="6.6" fill="#a4fbbd"/><rect x="721.4" y="769.49" width="6.6" height="6.6" fill="#acfdbe"/><rect x="727.4" y="769.49" width="6.6" height="6.6" fill="#b4ffbe"/><rect x="733.4" y="769.49" width="6.6" height="6.6" fill="#bcffc0"/><rect x="739.4" y="769.49" width="6.6" height="6.6" fill="#c4ffc4"/><rect x="745.4" y="769.49" width="6.6" height="6.6" fill="#ccffcb"/><rect x="751.4" y="769.49" width="6.6" height="6.6" fill="#d8ffcf"/><rect x="757.4" y="769.49" width="6.6" height="6.6" fill="#e3ffd2"/><rect x="763.4" y="769.49" width="6.6" height="6.6" fill="#ecffd2"/><rect x="769.4" y="769.49" width="6.6" height="6.6" fill="#f2ffd1"/><rect x="775.4" y="769.49" width="6.6" height="6.6" fill="#f7ffcd"/><rect x="781.4" y="769.49" width="6.6" height="6.6" fill="#fbfec7"/><rect x="787.4" y="769.49" width="6.6" height="6.6" fill="#fffcc0"/><rect x="793.4" y="769.49" width="6.6" height="6.6" fill="#fff6b8"/><rect x="799.4" y="769.49" width="6.6" height="6.6" fill="#fff0ae"/><rect x="805.4" y="769.49" width="6.6" height="6.6" fill="#ffeaa4"/><rect x="811.4" y="769.49" width="6.6" height="6.6" fill="#ffe499"/><rect x="817.4" y="769.49" width="6.6" height="6.6" fill="#ffde8e"/><rect x="823.4" y="769.49" width="6.6" height="6.6" fill="#ffd783"/><rect x="829.4" y="769.49" width="6.6" height="6.6" fill="#ffd078"/><rect x="835.4" y="769.49" width="6.6" height="6.6" fill="#ffc96d"/><rect x="841.4" y="769.49" width="6.6" height="6.6" fill="#ffc262"/><rect x="847.4" y="769.49" width="6.6" height="6.6" fill="#ffbc59"/><rect x="853.4" y="769.49" width="6.6" height="6.6" fill="#ffb54f"/><rect x="859.4" y="769.49" width="6.6" height="6.6" fill="#ffae46"/><rect x="865.4" y="769.49" width="6.6" height="6.6" fill="#ffa83e"/><rect x="871.4" y="769.49" width="6.6" height="6.6" fill="#ffa237"/><rect x="877.4" y="769.49" width="6.6" height="6.6" fill="#ff9d30"/><rect x="883.4" y="769.49" width="6.6" height="6.6" fill="#ff982a"/><rect x="889.4" y="769.49" width="6.6" height="6.6" fill="#ff8f1d"/><rect x="895.4" y="769.49" width="6.6" height="6.6" fill="#ff8003"/><rect x="901.4" y="769.49" width="6.6" height="6.6" fill="#ff7d00"/><rect x="607.4" y="775.49" width="6.6" height="6.6" fill="#04f7ff"/><rect x="613.4" y="775.49" width="6.6" height="6.6" fill="#07faff"/><rect x="619.4" y="775.49" width="6.6" height="6.6" fill="#1bfdff"/><rect x="625.4" y="775.49" width="6.6" height="6.6" fill="#1ffffe"/><rect x="631.4" y="775.49" width="6.6" height="6.6" fill="#25fef9"/><rect x="637.4" y="775.49" width="6.6" height="6.6" fill="#2dfdf5"/><rect x="643.4" y="775.49" width="6.6" height="6.6" fill="#35fcf1"/><rect x="649.4" y="775.49" width="6.6" height="6.6" fill="#3efbec"/><rect x="655.4" y="775.49" width="6.6" height="6.6" fill="#47fae7"/><rect x="661.4" y="775.49" width="6.6" height="6.6" fill="#51fae2"/><rect x="667.4" y="775.49" width="6.6" height="6.6" fill="#5cf9de"/><rect x="673.4" y="775.49" width="6.6" height="6.6" fill="#67f8d9"/><rect x="679.4" y="775.49" width="6.6" height="6.6" fill="#73f7d4"/><rect x="685.4" y="775.49" width="6.6" height="6.6" fill="#7ff6d1"/><rect x="691.4" y="775.49" width="6.6" height="6.6" fill="#87f7cf"/><rect x="697.4" y="775.49" width="6.6" height="6.6" fill="#90f8ce"/><rect x="703.4" y="775.49" width="6.6" height="6.6" fill="#98f8cd"/><rect x="709.4" y="775.49" width="6.6" height="6.6" fill="#a2f9cc"/><rect x="715.4" y="775.49" width="6.6" height="6.6" fill="#adfacd"/><rect x="721.4" y="775.49" width="6.6" height="6.6" fill="#b7fbce"/><rect x="727.4" y="775.49" width="6.6" height="6.6" fill="#c0fdcf"/><rect x="733.4" y="775.49" width="6.6" height="6.6" fill="#c7ffd0"/><rect x="739.4" y="775.49" width="6.6" height="6.6" fill="#d0ffd2"/><rect x="745.4" y="775.49" width="6.6" height="6.6" fill="#d7ffd7"/><rect x="751.4" y="775.49" width="6.6" height="6.6" fill="#e0ffdc"/><rect x="757.4" y="775.49" width="6.6" height="6.6" fill="#eaffdf"/><rect x="763.4" y="775.49" width="6.6" height="6.6" fill="#f2ffdf"/><rect x="769.4" y="775.49" width="6.6" height="6.6" fill="#f7ffde"/><rect x="775.4" y="775.49" width="6.6" height="6.6" fill="#fbffd9"/><rect x="781.4" y="775.49" width="6.6" height="6.6" fill="#fefdd3"/><rect x="787.4" y="775.49" width="6.6" height="6.6" fill="#fff9cb"/><rect x="793.4" y="775.49" width="6.6" height="6.6" fill="#fff3c2"/><rect x="799.4" y="775.49" width="6.6" height="6.6" fill="#ffedb7"/><rect x="805.4" y="775.49" width="6.6" height="6.6" fill="#ffe7ac"/><rect x="811.4" y="775.49" width="6.6" height="6.6" fill="#ffe1a1"/><rect x="817.4" y="775.49" width="6.6" height="6.6" fill="#ffda95"/><rect x="823.4" y="775.49" width="6.6" height="6.6" fill="#ffd289"/><rect x="829.4" y="775.49" width="6.6" height="6.6" fill="#ffcb7d"/><rect x="835.4" y="775.49" width="6.6" height="6.6" fill="#ffc372"/><rect x="841.4" y="775.49" width="6.6" height="6.6" fill="#ffbc67"/><rect x="847.4" y="775.49" width="6.6" height="6.6" fill="#ffb55d"/><rect x="853.4" y="775.49" width="6.6" height="6.6" fill="#ffae53"/><rect x="859.4" y="775.49" width="6.6" height="6.6" fill="#ffa749"/><rect x="865.4" y="775.49" width="6.6" height="6.6" fill="#ffa141"/><rect x="871.4" y="775.49" width="6.6" height="6.6" fill="#ff9b39"/><rect x="877.4" y="775.49" width="6.6" height="6.6" fill="#ff9532"/><rect x="883.4" y="775.49" width="6.6" height="6.6" fill="#ff8f2b"/><rect x="889.4" y="775.49" width="6.6" height="6.6" fill="#ff8a26"/><rect x="895.4" y="775.49" width="6.6" height="6.6" fill="#ff8520"/><rect x="901.4" y="775.49" width="6.6" height="6.6" fill="#ff7406"/><rect x="907.4" y="775.49" width="6.6" height="6.6" fill="#ff6f00"/><rect x="607.4" y="781.49" width="6.6" height="6.6" fill="#0de5ff"/><rect x="613.4" y="781.49" width="6.6" height="6.6" fill="#0ce7ff"/><rect x="619.4" y="781.49" width="6.6" height="6.6" fill="#25ebff"/><rect x="625.4" y="781.49" width="6.6" height="6.6" fill="#28eeff"/><rect x="631.4" y="781.49" width="6.6" height="6.6" fill="#2bf1ff"/><rect x="637.4" y="781.49" width="6.6" height="6.6" fill="#30f4ff"/><rect x="643.4" y="781.49" width="6.6" height="6.6" fill="#34f7ff"/><rect x="649.4" y="781.49" width="6.6" height="6.6" fill="#3afaff"/><rect x="655.4" y="781.49" width="6.6" height="6.6" fill="#40feff"/><rect x="661.4" y="781.49" width="6.6" height="6.6" fill="#49fefc"/><rect x="667.4" y="781.49" width="6.6" height="6.6" fill="#54fef8"/><rect x="673.4" y="781.49" width="6.6" height="6.6" fill="#60fdf3"/><rect x="679.4" y="781.49" width="6.6" height="6.6" fill="#6cfcee"/><rect x="685.4" y="781.49" width="6.6" height="6.6" fill="#79fbea"/><rect x="691.4" y="781.49" width="6.6" height="6.6" fill="#87fae6"/><rect x="697.4" y="781.49" width="6.6" height="6.6" fill="#95f9e2"/><rect x="703.4" y="781.49" width="6.6" height="6.6" fill="#a2f9de"/><rect x="709.4" y="781.49" width="6.6" height="6.6" fill="#acfadd"/><rect x="715.4" y="781.49" width="6.6" height="6.6" fill="#b5fadd"/><rect x="721.4" y="781.49" width="6.6" height="6.6" fill="#befbdc"/><rect x="727.4" y="781.49" width="6.6" height="6.6" fill="#c9fcde"/><rect x="733.4" y="781.49" width="6.6" height="6.6" fill="#d2fddf"/><rect x="739.4" y="781.49" width="6.6" height="6.6" fill="#dafee1"/><rect x="745.4" y="781.49" width="6.6" height="6.6" fill="#e1ffe2"/><rect x="751.4" y="781.49" width="6.6" height="6.6" fill="#e7ffe7"/><rect x="757.4" y="781.49" width="6.6" height="6.6" fill="#f1ffea"/><rect x="763.4" y="781.49" width="6.6" height="6.6" fill="#f7ffeb"/><rect x="769.4" y="781.49" width="6.6" height="6.6" fill="#fbffe9"/><rect x="775.4" y="781.49" width="6.6" height="6.6" fill="#fefee4"/><rect x="781.4" y="781.49" width="6.6" height="6.6" fill="#fffbdd"/><rect x="787.4" y="781.49" width="6.6" height="6.6" fill="#fff6d5"/><rect x="793.4" y="781.49" width="6.6" height="6.6" fill="#fff0ca"/><rect x="799.4" y="781.49" width="6.6" height="6.6" fill="#ffeabf"/><rect x="805.4" y="781.49" width="6.6" height="6.6" fill="#ffe4b3"/><rect x="811.4" y="781.49" width="6.6" height="6.6" fill="#ffdca7"/><rect x="817.4" y="781.49" width="6.6" height="6.6" fill="#ffd59b"/><rect x="823.4" y="781.49" width="6.6" height="6.6" fill="#ffcd8e"/><rect x="829.4" y="781.49" width="6.6" height="6.6" fill="#ffc582"/><rect x="835.4" y="781.49" width="6.6" height="6.6" fill="#ffbd76"/><rect x="841.4" y="781.49" width="6.6" height="6.6" fill="#ffb56b"/><rect x="847.4" y="781.49" width="6.6" height="6.6" fill="#ffad60"/><rect x="853.4" y="781.49" width="6.6" height="6.6" fill="#ffa555"/><rect x="859.4" y="781.49" width="6.6" height="6.6" fill="#ff9e4c"/><rect x="865.4" y="781.49" width="6.6" height="6.6" fill="#ff9743"/><rect x="871.4" y="781.49" width="6.6" height="6.6" fill="#ff903b"/><rect x="877.4" y="781.49" width="6.6" height="6.6" fill="#ff8a34"/><rect x="883.4" y="781.49" width="6.6" height="6.6" fill="#ff852d"/><rect x="889.4" y="781.49" width="6.6" height="6.6" fill="#ff7f27"/><rect x="895.4" y="781.49" width="6.6" height="6.6" fill="#ff7a21"/><rect x="901.4" y="781.49" width="6.6" height="6.6" fill="#ff761d"/><rect x="907.4" y="781.49" width="6.6" height="6.6" fill="#ff6909"/><rect x="913.4" y="781.49" width="6.6" height="6.6" fill="#ff6200"/><rect x="919.4" y="781.49" width="6.6" height="6.6" fill="#ff6000"/><rect x="613.4" y="787.49" width="6.6" height="6.6" fill="#16d4ff"/><rect x="619.4" y="787.49" width="6.6" height="6.6" fill="#2adaff"/><rect x="625.4" y="787.49" width="6.6" height="6.6" fill="#31ddff"/><rect x="631.4" y="787.49" width="6.6" height="6.6" fill="#35dfff"/><rect x="637.4" y="787.49" width="6.6" height="6.6" fill="#3ae1ff"/><rect x="643.4" y="787.49" width="6.6" height="6.6" fill="#3fe4ff"/><rect x="649.4" y="787.49" width="6.6" height="6.6" fill="#45e7ff"/><rect x="655.4" y="787.49" width="6.6" height="6.6" fill="#4beaff"/><rect x="661.4" y="787.49" width="6.6" height="6.6" fill="#53edff"/><rect x="667.4" y="787.49" width="6.6" height="6.6" fill="#5af1ff"/><rect x="673.4" y="787.49" width="6.6" height="6.6" fill="#63f4ff"/><rect x="679.4" y="787.49" width="6.6" height="6.6" fill="#6cf8ff"/><rect x="685.4" y="787.49" width="6.6" height="6.6" fill="#76fbff"/><rect x="691.4" y="787.49" width="6.6" height="6.6" fill="#80ffff"/><rect x="697.4" y="787.49" width="6.6" height="6.6" fill="#8efefb"/><rect x="703.4" y="787.49" width="6.6" height="6.6" fill="#9cfdf7"/><rect x="709.4" y="787.49" width="6.6" height="6.6" fill="#abfdf3"/><rect x="715.4" y="787.49" width="6.6" height="6.6" fill="#b9fcf0"/><rect x="721.4" y="787.49" width="6.6" height="6.6" fill="#c7fced"/><rect x="727.4" y="787.49" width="6.6" height="6.6" fill="#d1fcec"/><rect x="733.4" y="787.49" width="6.6" height="6.6" fill="#dafdec"/><rect x="739.4" y="787.49" width="6.6" height="6.6" fill="#e3fded"/><rect x="745.4" y="787.49" width="6.6" height="6.6" fill="#eafeef"/><rect x="751.4" y="787.49" width="6.6" height="6.6" fill="#f0fff0"/><rect x="757.4" y="787.49" width="6.6" height="6.6" fill="#f6fff4"/><rect x="763.4" y="787.49" width="6.6" height="6.6" fill="#fbfff5"/><rect x="769.4" y="787.49" width="6.6" height="6.6" fill="#fefff2"/><rect x="775.4" y="787.49" width="6.6" height="6.6" fill="#fffced"/><rect x="781.4" y="787.49" width="6.6" height="6.6" fill="#fff8e5"/><rect x="787.4" y="787.49" width="6.6" height="6.6" fill="#fff3dc"/><rect x="793.4" y="787.49" width="6.6" height="6.6" fill="#ffedd1"/><rect x="799.4" y="787.49" width="6.6" height="6.6" fill="#ffe6c5"/><rect x="805.4" y="787.49" width="6.6" height="6.6" fill="#ffdfb9"/><rect x="811.4" y="787.49" width="6.6" height="6.6" fill="#ffd7ac"/><rect x="817.4" y="787.49" width="6.6" height="6.6" fill="#ffce9f"/><rect x="823.4" y="787.49" width="6.6" height="6.6" fill="#ffc592"/><rect x="829.4" y="787.49" width="6.6" height="6.6" fill="#ffbc85"/><rect x="835.4" y="787.49" width="6.6" height="6.6" fill="#ffb379"/><rect x="841.4" y="787.49" width="6.6" height="6.6" fill="#ffab6d"/><rect x="847.4" y="787.49" width="6.6" height="6.6" fill="#ffa262"/><rect x="853.4" y="787.49" width="6.6" height="6.6" fill="#ff9a58"/><rect x="859.4" y="787.49" width="6.6" height="6.6" fill="#ff934e"/><rect x="865.4" y="787.49" width="6.6" height="6.6" fill="#ff8c45"/><rect x="871.4" y="787.49" width="6.6" height="6.6" fill="#ff853c"/><rect x="877.4" y="787.49" width="6.6" height="6.6" fill="#ff7f35"/><rect x="883.4" y="787.49" width="6.6" height="6.6" fill="#ff792e"/><rect x="889.4" y="787.49" width="6.6" height="6.6" fill="#ff7428"/><rect x="895.4" y="787.49" width="6.6" height="6.6" fill="#ff7022"/><rect x="901.4" y="787.49" width="6.6" height="6.6" fill="#ff6b1d"/><rect x="907.4" y="787.49" width="6.6" height="6.6" fill="#ff6819"/><rect x="913.4" y="787.49" width="6.6" height="6.6" fill="#ff5f0d"/><rect x="919.4" y="787.49" width="6.6" height="6.6" fill="#ff5500"/><rect x="925.4" y="787.49" width="6.6" height="6.6" fill="#ff5400"/><rect x="613.4" y="793.49" width="6.6" height="6.6" fill="#1fc2ff"/><rect x="619.4" y="793.49" width="6.6" height="6.6" fill="#2dc7ff"/><rect x="625.4" y="793.49" width="6.6" height="6.6" fill="#3bcbff"/><rect x="631.4" y="793.49" width="6.6" height="6.6" fill="#3fcdff"/><rect x="637.4" y="793.49" width="6.6" height="6.6" fill="#44cfff"/><rect x="643.4" y="793.49" width="6.6" height="6.6" fill="#49d2ff"/><rect x="649.4" y="793.49" width="6.6" height="6.6" fill="#4fd4ff"/><rect x="655.4" y="793.49" width="6.6" height="6.6" fill="#56d7ff"/><rect x="661.4" y="793.49" width="6.6" height="6.6" fill="#5ddaff"/><rect x="667.4" y="793.49" width="6.6" height="6.6" fill="#65ddff"/><rect x="673.4" y="793.49" width="6.6" height="6.6" fill="#6ee1ff"/><rect x="679.4" y="793.49" width="6.6" height="6.6" fill="#77e4ff"/><rect x="685.4" y="793.49" width="6.6" height="6.6" fill="#81e8ff"/><rect x="691.4" y="793.49" width="6.6" height="6.6" fill="#8cebff"/><rect x="697.4" y="793.49" width="6.6" height="6.6" fill="#97efff"/><rect x="703.4" y="793.49" width="6.6" height="6.6" fill="#a2f2ff"/><rect x="709.4" y="793.49" width="6.6" height="6.6" fill="#aef6ff"/><rect x="715.4" y="793.49" width="6.6" height="6.6" fill="#b9f9ff"/><rect x="721.4" y="793.49" width="6.6" height="6.6" fill="#c5fdff"/><rect x="727.4" y="793.49" width="6.6" height="6.6" fill="#d0ffff"/><rect x="733.4" y="793.49" width="6.6" height="6.6" fill="#ddfefb"/><rect x="739.4" y="793.49" width="6.6" height="6.6" fill="#e8fef9"/><rect x="745.4" y="793.49" width="6.6" height="6.6" fill="#f1fef9"/><rect x="751.4" y="793.49" width="6.6" height="6.6" fill="#f7fff9"/><rect x="757.4" y="793.49" width="6.6" height="6.6" fill="#fbfffb"/><rect x="763.4" y="793.49" width="6.6" height="6.6" fill="#fefffc"/><rect x="769.4" y="793.49" width="6.6" height="6.6" fill="#fffef9"/><rect x="775.4" y="793.49" width="6.6" height="6.6" fill="#fffbf3"/><rect x="781.4" y="793.49" width="6.6" height="6.6" fill="#fff6ea"/><rect x="787.4" y="793.49" width="6.6" height="6.6" fill="#fff0e0"/><rect x="793.4" y="793.49" width="6.6" height="6.6" fill="#ffe9d5"/><rect x="799.4" y="793.49" width="6.6" height="6.6" fill="#ffe0c9"/><rect x="805.4" y="793.49" width="6.6" height="6.6" fill="#ffd7bc"/><rect x="811.4" y="793.49" width="6.6" height="6.6" fill="#ffceaf"/><rect x="817.4" y="793.49" width="6.6" height="6.6" fill="#ffc5a2"/><rect x="823.4" y="793.49" width="6.6" height="6.6" fill="#ffbb95"/><rect x="829.4" y="793.49" width="6.6" height="6.6" fill="#ffb188"/><rect x="835.4" y="793.49" width="6.6" height="6.6" fill="#ffa87b"/><rect x="841.4" y="793.49" width="6.6" height="6.6" fill="#ff9f6f"/><rect x="847.4" y="793.49" width="6.6" height="6.6" fill="#ff9764"/><rect x="853.4" y="793.49" width="6.6" height="6.6" fill="#ff8e59"/><rect x="859.4" y="793.49" width="6.6" height="6.6" fill="#ff874f"/><rect x="865.4" y="793.49" width="6.6" height="6.6" fill="#ff8046"/><rect x="871.4" y="793.49" width="6.6" height="6.6" fill="#ff793d"/><rect x="877.4" y="793.49" width="6.6" height="6.6" fill="#ff7335"/><rect x="883.4" y="793.49" width="6.6" height="6.6" fill="#ff6d2e"/><rect x="889.4" y="793.49" width="6.6" height="6.6" fill="#ff6828"/><rect x="895.4" y="793.49" width="6.6" height="6.6" fill="#ff6323"/><rect x="901.4" y="793.49" width="6.6" height="6.6" fill="#ff5f1e"/><rect x="907.4" y="793.49" width="6.6" height="6.6" fill="#ff5b19"/><rect x="913.4" y="793.49" width="6.6" height="6.6" fill="#ff5815"/><rect x="919.4" y="793.49" width="6.6" height="6.6" fill="#ff5310"/><rect x="925.4" y="793.49" width="6.6" height="6.6" fill="#ff4700"/><rect x="931.4" y="793.49" width="6.6" height="6.6" fill="#ff4700"/><rect x="613.4" y="799.49" width="6.6" height="6.6" fill="#1cbaff"/><rect x="619.4" y="799.49" width="6.6" height="6.6" fill="#25bdff"/><rect x="625.4" y="799.49" width="6.6" height="6.6" fill="#39c3ff"/><rect x="631.4" y="799.49" width="6.6" height="6.6" fill="#3ec4ff"/><rect x="637.4" y="799.49" width="6.6" height="6.6" fill="#43c6ff"/><rect x="643.4" y="799.49" width="6.6" height="6.6" fill="#49c8ff"/><rect x="649.4" y="799.49" width="6.6" height="6.6" fill="#50caff"/><rect x="655.4" y="799.49" width="6.6" height="6.6" fill="#57ccff"/><rect x="661.4" y="799.49" width="6.6" height="6.6" fill="#5fceff"/><rect x="667.4" y="799.49" width="6.6" height="6.6" fill="#67d1ff"/><rect x="673.4" y="799.49" width="6.6" height="6.6" fill="#71d4ff"/><rect x="679.4" y="799.49" width="6.6" height="6.6" fill="#7bd7ff"/><rect x="685.4" y="799.49" width="6.6" height="6.6" fill="#85daff"/><rect x="691.4" y="799.49" width="6.6" height="6.6" fill="#90ddff"/><rect x="697.4" y="799.49" width="6.6" height="6.6" fill="#9ce1ff"/><rect x="703.4" y="799.49" width="6.6" height="6.6" fill="#a8e5ff"/><rect x="709.4" y="799.49" width="6.6" height="6.6" fill="#b3e8ff"/><rect x="715.4" y="799.49" width="6.6" height="6.6" fill="#bfecff"/><rect x="721.4" y="799.49" width="6.6" height="6.6" fill="#cbefff"/><rect x="727.4" y="799.49" width="6.6" height="6.6" fill="#d6f3ff"/><rect x="733.4" y="799.49" width="6.6" height="6.6" fill="#e1f6ff"/><rect x="739.4" y="799.49" width="6.6" height="6.6" fill="#eaf9ff"/><rect x="745.4" y="799.49" width="6.6" height="6.6" fill="#f3fbff"/><rect x="751.4" y="799.49" width="6.6" height="6.6" fill="#f9fdff"/><rect x="757.4" y="799.49" width="6.6" height="6.6" fill="#feffff"/><rect x="763.4" y="799.49" width="6.6" height="6.6" fill="#ffffff"/><rect x="769.4" y="799.49" width="6.6" height="6.6" fill="#fffcfb"/><rect x="775.4" y="799.49" width="6.6" height="6.6" fill="#fff7f5"/><rect x="781.4" y="799.49" width="6.6" height="6.6" fill="#fff1ec"/><rect x="787.4" y="799.49" width="6.6" height="6.6" fill="#ffe9e2"/><rect x="793.4" y="799.49" width="6.6" height="6.6" fill="#ffe0d7"/><rect x="799.4" y="799.49" width="6.6" height="6.6" fill="#ffd6ca"/><rect x="805.4" y="799.49" width="6.6" height="6.6" fill="#ffccbd"/><rect x="811.4" y="799.49" width="6.6" height="6.6" fill="#ffc2b0"/><rect x="817.4" y="799.49" width="6.6" height="6.6" fill="#ffb7a3"/><rect x="823.4" y="799.49" width="6.6" height="6.6" fill="#ffad95"/><rect x="829.4" y="799.49" width="6.6" height="6.6" fill="#ffa388"/><rect x="835.4" y="799.49" width="6.6" height="6.6" fill="#ff997c"/><rect x="841.4" y="799.49" width="6.6" height="6.6" fill="#ff8f70"/><rect x="847.4" y="799.49" width="6.6" height="6.6" fill="#ff8664"/><rect x="853.4" y="799.49" width="6.6" height="6.6" fill="#ff7e59"/><rect x="859.4" y="799.49" width="6.6" height="6.6" fill="#ff764f"/><rect x="865.4" y="799.49" width="6.6" height="6.6" fill="#ff6f46"/><rect x="871.4" y="799.49" width="6.6" height="6.6" fill="#ff683d"/><rect x="877.4" y="799.49" width="6.6" height="6.6" fill="#ff6236"/><rect x="883.4" y="799.49" width="6.6" height="6.6" fill="#ff5d2f"/><rect x="889.4" y="799.49" width="6.6" height="6.6" fill="#ff5828"/><rect x="895.4" y="799.49" width="6.6" height="6.6" fill="#ff5323"/><rect x="901.4" y="799.49" width="6.6" height="6.6" fill="#ff4f1e"/><rect x="907.4" y="799.49" width="6.6" height="6.6" fill="#ff4c19"/><rect x="913.4" y="799.49" width="6.6" height="6.6" fill="#ff4916"/><rect x="919.4" y="799.49" width="6.6" height="6.6" fill="#ff4612"/><rect x="925.4" y="799.49" width="6.6" height="6.6" fill="#ff440f"/><rect x="931.4" y="799.49" width="6.6" height="6.6" fill="#ff3800"/><rect x="937.4" y="799.49" width="6.6" height="6.6" fill="#ff3800"/><rect x="613.4" y="805.49" width="6.6" height="6.6" fill="#18b3ff"/><rect x="619.4" y="805.49" width="6.6" height="6.6" fill="#1ab4ff"/><rect x="625.4" y="805.49" width="6.6" height="6.6" fill="#35bcff"/><rect x="631.4" y="805.49" width="6.6" height="6.6" fill="#39beff"/><rect x="637.4" y="805.49" width="6.6" height="6.6" fill="#3ebfff"/><rect x="643.4" y="805.49" width="6.6" height="6.6" fill="#44c1ff"/><rect x="649.4" y="805.49" width="6.6" height="6.6" fill="#4bc3ff"/><rect x="655.4" y="805.49" width="6.6" height="6.6" fill="#52c5ff"/><rect x="661.4" y="805.49" width="6.6" height="6.6" fill="#5ac7ff"/><rect x="667.4" y="805.49" width="6.6" height="6.6" fill="#62caff"/><rect x="673.4" y="805.49" width="6.6" height="6.6" fill="#6ccdff"/><rect x="679.4" y="805.49" width="6.6" height="6.6" fill="#76d0ff"/><rect x="685.4" y="805.49" width="6.6" height="6.6" fill="#80d3ff"/><rect x="691.4" y="805.49" width="6.6" height="6.6" fill="#8bd6ff"/><rect x="697.4" y="805.49" width="6.6" height="6.6" fill="#97daff"/><rect x="703.4" y="805.49" width="6.6" height="6.6" fill="#a2deff"/><rect x="709.4" y="805.49" width="6.6" height="6.6" fill="#afe2ff"/><rect x="715.4" y="805.49" width="6.6" height="6.6" fill="#bbe6ff"/><rect x="721.4" y="805.49" width="6.6" height="6.6" fill="#c7eaff"/><rect x="727.4" y="805.49" width="6.6" height="6.6" fill="#d3edff"/><rect x="733.4" y="805.49" width="6.6" height="6.6" fill="#def1ff"/><rect x="739.4" y="805.49" width="6.6" height="6.6" fill="#e8f5ff"/><rect x="745.4" y="805.49" width="6.6" height="6.6" fill="#f0f7ff"/><rect x="751.4" y="805.49" width="6.6" height="6.6" fill="#f7f9ff"/><rect x="757.4" y="805.49" width="6.6" height="6.6" fill="#fbfbff"/><rect x="763.4" y="805.49" width="6.6" height="6.6" fill="#fdfcff"/><rect x="769.4" y="805.49" width="6.6" height="6.6" fill="#fff9ff"/><rect x="775.4" y="805.49" width="6.6" height="6.6" fill="#fff3f9"/><rect x="781.4" y="805.49" width="6.6" height="6.6" fill="#ffebf0"/><rect x="787.4" y="805.49" width="6.6" height="6.6" fill="#ffe1e5"/><rect x="793.4" y="805.49" width="6.6" height="6.6" fill="#ffd5d9"/><rect x="799.4" y="805.49" width="6.6" height="6.6" fill="#ffc9cb"/><rect x="805.4" y="805.49" width="6.6" height="6.6" fill="#ffbcbc"/><rect x="811.4" y="805.49" width="6.6" height="6.6" fill="#ffafaf"/><rect x="817.4" y="805.49" width="6.6" height="6.6" fill="#ffa4a2"/><rect x="823.4" y="805.49" width="6.6" height="6.6" fill="#ff9a95"/><rect x="829.4" y="805.49" width="6.6" height="6.6" fill="#ff8f88"/><rect x="835.4" y="805.49" width="6.6" height="6.6" fill="#ff857b"/><rect x="841.4" y="805.49" width="6.6" height="6.6" fill="#ff7c6f"/><rect x="847.4" y="805.49" width="6.6" height="6.6" fill="#ff7364"/><rect x="853.4" y="805.49" width="6.6" height="6.6" fill="#ff6a59"/><rect x="859.4" y="805.49" width="6.6" height="6.6" fill="#ff624f"/><rect x="865.4" y="805.49" width="6.6" height="6.6" fill="#ff5b46"/><rect x="871.4" y="805.49" width="6.6" height="6.6" fill="#ff543d"/><rect x="877.4" y="805.49" width="6.6" height="6.6" fill="#ff4e35"/><rect x="883.4" y="805.49" width="6.6" height="6.6" fill="#ff492e"/><rect x="889.4" y="805.49" width="6.6" height="6.6" fill="#ff4528"/><rect x="895.4" y="805.49" width="6.6" height="6.6" fill="#ff4123"/><rect x="901.4" y="805.49" width="6.6" height="6.6" fill="#ff3e1e"/><rect x="907.4" y="805.49" width="6.6" height="6.6" fill="#ff3b19"/><rect x="913.4" y="805.49" width="6.6" height="6.6" fill="#ff3915"/><rect x="919.4" y="805.49" width="6.6" height="6.6" fill="#ff3612"/><rect x="925.4" y="805.49" width="6.6" height="6.6" fill="#ff350f"/><rect x="931.4" y="805.49" width="6.6" height="6.6" fill="#ff330d"/><rect x="937.4" y="805.49" width="6.6" height="6.6" fill="#ff2900"/><rect x="943.4" y="805.49" width="6.6" height="6.6" fill="#ff2a00"/><rect x="613.4" y="811.49" width="6.6" height="6.6" fill="#13adff"/><rect x="619.4" y="811.49" width="6.6" height="6.6" fill="#13acff"/><rect x="625.4" y="811.49" width="6.6" height="6.6" fill="#2cb5ff"/><rect x="631.4" y="811.49" width="6.6" height="6.6" fill="#35b7ff"/><rect x="637.4" y="811.49" width="6.6" height="6.6" fill="#3ab9ff"/><rect x="643.4" y="811.49" width="6.6" height="6.6" fill="#3fbaff"/><rect x="649.4" y="811.49" width="6.6" height="6.6" fill="#46bcff"/><rect x="655.4" y="811.49" width="6.6" height="6.6" fill="#4dbeff"/><rect x="661.4" y="811.49" width="6.6" height="6.6" fill="#55c0ff"/><rect x="667.4" y="811.49" width="6.6" height="6.6" fill="#5ec3ff"/><rect x="673.4" y="811.49" width="6.6" height="6.6" fill="#68c6ff"/><rect x="679.4" y="811.49" width="6.6" height="6.6" fill="#72c9ff"/><rect x="685.4" y="811.49" width="6.6" height="6.6" fill="#7dccff"/><rect x="691.4" y="811.49" width="6.6" height="6.6" fill="#88d0ff"/><rect x="697.4" y="811.49" width="6.6" height="6.6" fill="#94d4ff"/><rect x="703.4" y="811.49" width="6.6" height="6.6" fill="#a0d8ff"/><rect x="709.4" y="811.49" width="6.6" height="6.6" fill="#acdcff"/><rect x="715.4" y="811.49" width="6.6" height="6.6" fill="#b8e0ff"/><rect x="721.4" y="811.49" width="6.6" height="6.6" fill="#c4e4ff"/><rect x="727.4" y="811.49" width="6.6" height="6.6" fill="#cfe6ff"/><rect x="733.4" y="811.49" width="6.6" height="6.6" fill="#dae7ff"/><rect x="739.4" y="811.49" width="6.6" height="6.6" fill="#e3ebff"/><rect x="745.4" y="811.49" width="6.6" height="6.6" fill="#ebefff"/><rect x="751.4" y="811.49" width="6.6" height="6.6" fill="#f1f3ff"/><rect x="757.4" y="811.49" width="6.6" height="6.6" fill="#f5f4ff"/><rect x="763.4" y="811.49" width="6.6" height="6.6" fill="#f9f6ff"/><rect x="769.4" y="811.49" width="6.6" height="6.6" fill="#fbf3ff"/><rect x="775.4" y="811.49" width="6.6" height="6.6" fill="#feedff"/><rect x="781.4" y="811.49" width="6.6" height="6.6" fill="#fee5f9"/><rect x="787.4" y="811.49" width="6.6" height="6.6" fill="#fedcef"/><rect x="793.4" y="811.49" width="6.6" height="6.6" fill="#ffd1e2"/><rect x="799.4" y="811.49" width="6.6" height="6.6" fill="#ffc5d5"/><rect x="805.4" y="811.49" width="6.6" height="6.6" fill="#ffb9c8"/><rect x="811.4" y="811.49" width="6.6" height="6.6" fill="#ffacba"/><rect x="817.4" y="811.49" width="6.6" height="6.6" fill="#ff9fab"/><rect x="823.4" y="811.49" width="6.6" height="6.6" fill="#ff929c"/><rect x="829.4" y="811.49" width="6.6" height="6.6" fill="#ff868d"/><rect x="835.4" y="811.49" width="6.6" height="6.6" fill="#ff797e"/><rect x="841.4" y="811.49" width="6.6" height="6.6" fill="#ff6d6f"/><rect x="847.4" y="811.49" width="6.6" height="6.6" fill="#ff6262"/><rect x="853.4" y="811.49" width="6.6" height="6.6" fill="#ff5858"/><rect x="859.4" y="811.49" width="6.6" height="6.6" fill="#ff4e4e"/><rect x="865.4" y="811.49" width="6.6" height="6.6" fill="#ff4545"/><rect x="871.4" y="811.49" width="6.6" height="6.6" fill="#ff3f3c"/><rect x="877.4" y="811.49" width="6.6" height="6.6" fill="#ff3b35"/><rect x="883.4" y="811.49" width="6.6" height="6.6" fill="#ff362e"/><rect x="889.4" y="811.49" width="6.6" height="6.6" fill="#ff3328"/><rect x="895.4" y="811.49" width="6.6" height="6.6" fill="#ff3022"/><rect x="901.4" y="811.49" width="6.6" height="6.6" fill="#ff2d1d"/><rect x="907.4" y="811.49" width="6.6" height="6.6" fill="#ff2a19"/><rect x="913.4" y="811.49" width="6.6" height="6.6" fill="#ff2815"/><rect x="919.4" y="811.49" width="6.6" height="6.6" fill="#ff2612"/><rect x="925.4" y="811.49" width="6.6" height="6.6" fill="#ff250f"/><rect x="931.4" y="811.49" width="6.6" height="6.6" fill="#ff230d"/><rect x="937.4" y="811.49" width="6.6" height="6.6" fill="#ff220b"/><rect x="943.4" y="811.49" width="6.6" height="6.6" fill="#ff1a00"/><rect x="949.4" y="811.49" width="6.6" height="6.6" fill="#ff1a00"/><rect x="619.4" y="817.49" width="6.6" height="6.6" fill="#10a6ff"/><rect x="625.4" y="817.49" width="6.6" height="6.6" fill="#23acff"/><rect x="631.4" y="817.49" width="6.6" height="6.6" fill="#32b1ff"/><rect x="637.4" y="817.49" width="6.6" height="6.6" fill="#37b3ff"/><rect x="643.4" y="817.49" width="6.6" height="6.6" fill="#3db4ff"/><rect x="649.4" y="817.49" width="6.6" height="6.6" fill="#44b6ff"/><rect x="655.4" y="817.49" width="6.6" height="6.6" fill="#4bb8ff"/><rect x="661.4" y="817.49" width="6.6" height="6.6" fill="#53baff"/><rect x="667.4" y="817.49" width="6.6" height="6.6" fill="#5cbdff"/><rect x="673.4" y="817.49" width="6.6" height="6.6" fill="#65bfff"/><rect x="679.4" y="817.49" width="6.6" height="6.6" fill="#6fc2ff"/><rect x="685.4" y="817.49" width="6.6" height="6.6" fill="#7ac6ff"/><rect x="691.4" y="817.49" width="6.6" height="6.6" fill="#85c9ff"/><rect x="697.4" y="817.49" width="6.6" height="6.6" fill="#90cdff"/><rect x="703.4" y="817.49" width="6.6" height="6.6" fill="#9cd0ff"/><rect x="709.4" y="817.49" width="6.6" height="6.6" fill="#a8d1ff"/><rect x="715.4" y="817.49" width="6.6" height="6.6" fill="#b3d3ff"/><rect x="721.4" y="817.49" width="6.6" height="6.6" fill="#bfd4ff"/><rect x="727.4" y="817.49" width="6.6" height="6.6" fill="#c9d9ff"/><rect x="733.4" y="817.49" width="6.6" height="6.6" fill="#d3deff"/><rect x="739.4" y="817.49" width="6.6" height="6.6" fill="#dce3ff"/><rect x="745.4" y="817.49" width="6.6" height="6.6" fill="#e4e8ff"/><rect x="751.4" y="817.49" width="6.6" height="6.6" fill="#e7e7ff"/><rect x="757.4" y="817.49" width="6.6" height="6.6" fill="#eeecff"/><rect x="763.4" y="817.49" width="6.6" height="6.6" fill="#f3edff"/><rect x="769.4" y="817.49" width="6.6" height="6.6" fill="#f6ebff"/><rect x="775.4" y="817.49" width="6.6" height="6.6" fill="#f9e5ff"/><rect x="781.4" y="817.49" width="6.6" height="6.6" fill="#fcdeff"/><rect x="787.4" y="817.49" width="6.6" height="6.6" fill="#fdd5f9"/><rect x="793.4" y="817.49" width="6.6" height="6.6" fill="#fdcbef"/><rect x="799.4" y="817.49" width="6.6" height="6.6" fill="#fec0e3"/><rect x="805.4" y="817.49" width="6.6" height="6.6" fill="#feb4d4"/><rect x="811.4" y="817.49" width="6.6" height="6.6" fill="#ffa7c4"/><rect x="817.4" y="817.49" width="6.6" height="6.6" fill="#ff9bb6"/><rect x="823.4" y="817.49" width="6.6" height="6.6" fill="#ff8ea9"/><rect x="829.4" y="817.49" width="6.6" height="6.6" fill="#ff829b"/><rect x="835.4" y="817.49" width="6.6" height="6.6" fill="#ff768e"/><rect x="841.4" y="817.49" width="6.6" height="6.6" fill="#ff6b80"/><rect x="847.4" y="817.49" width="6.6" height="6.6" fill="#ff6073"/><rect x="853.4" y="817.49" width="6.6" height="6.6" fill="#ff5666"/><rect x="859.4" y="817.49" width="6.6" height="6.6" fill="#ff4c5a"/><rect x="865.4" y="817.49" width="6.6" height="6.6" fill="#ff434e"/><rect x="871.4" y="817.49" width="6.6" height="6.6" fill="#ff3b43"/><rect x="877.4" y="817.49" width="6.6" height="6.6" fill="#ff3438"/><rect x="883.4" y="817.49" width="6.6" height="6.6" fill="#ff2d2f"/><rect x="889.4" y="817.49" width="6.6" height="6.6" fill="#ff2727"/><rect x="895.4" y="817.49" width="6.6" height="6.6" fill="#ff2121"/><rect x="901.4" y="817.49" width="6.6" height="6.6" fill="#ff1d1d"/><rect x="907.4" y="817.49" width="6.6" height="6.6" fill="#ff1818"/><rect x="913.4" y="817.49" width="6.6" height="6.6" fill="#ff1515"/><rect x="919.4" y="817.49" width="6.6" height="6.6" fill="#ff1212"/><rect x="925.4" y="817.49" width="6.6" height="6.6" fill="#ff110f"/><rect x="931.4" y="817.49" width="6.6" height="6.6" fill="#ff120c"/><rect x="937.4" y="817.49" width="6.6" height="6.6" fill="#ff120a"/><rect x="943.4" y="817.49" width="6.6" height="6.6" fill="#ff1209"/><rect x="949.4" y="817.49" width="6.6" height="6.6" fill="#ff0f03"/><rect x="955.4" y="817.49" width="6.6" height="6.6" fill="#ff0e00"/><rect x="619.4" y="823.49" width="6.6" height="6.6" fill="#10a1ff"/><rect x="625.4" y="823.49" width="6.6" height="6.6" fill="#1ba4ff"/><rect x="631.4" y="823.49" width="6.6" height="6.6" fill="#31acff"/><rect x="637.4" y="823.49" width="6.6" height="6.6" fill="#36adff"/><rect x="643.4" y="823.49" width="6.6" height="6.6" fill="#3caeff"/><rect x="649.4" y="823.49" width="6.6" height="6.6" fill="#43b0ff"/><rect x="655.4" y="823.49" width="6.6" height="6.6" fill="#4ab2ff"/><rect x="661.4" y="823.49" width="6.6" height="6.6" fill="#51b4ff"/><rect x="667.4" y="823.49" width="6.6" height="6.6" fill="#5ab6ff"/><rect x="673.4" y="823.49" width="6.6" height="6.6" fill="#63b9ff"/><rect x="679.4" y="823.49" width="6.6" height="6.6" fill="#6cbcff"/><rect x="685.4" y="823.49" width="6.6" height="6.6" fill="#76bdff"/><rect x="691.4" y="823.49" width="6.6" height="6.6" fill="#81bdff"/><rect x="697.4" y="823.49" width="6.6" height="6.6" fill="#8cbeff"/><rect x="703.4" y="823.49" width="6.6" height="6.6" fill="#97beff"/><rect x="709.4" y="823.49" width="6.6" height="6.6" fill="#a2c0ff"/><rect x="715.4" y="823.49" width="6.6" height="6.6" fill="#adc6ff"/><rect x="721.4" y="823.49" width="6.6" height="6.6" fill="#b8caff"/><rect x="727.4" y="823.49" width="6.6" height="6.6" fill="#c2cfff"/><rect x="733.4" y="823.49" width="6.6" height="6.6" fill="#cbd5ff"/><rect x="739.4" y="823.49" width="6.6" height="6.6" fill="#d3daff"/><rect x="745.4" y="823.49" width="6.6" height="6.6" fill="#d8d9ff"/><rect x="751.4" y="823.49" width="6.6" height="6.6" fill="#dfddff"/><rect x="757.4" y="823.49" width="6.6" height="6.6" fill="#e6e1ff"/><rect x="763.4" y="823.49" width="6.6" height="6.6" fill="#ece2ff"/><rect x="769.4" y="823.49" width="6.6" height="6.6" fill="#f0e1ff"/><rect x="775.4" y="823.49" width="6.6" height="6.6" fill="#f3dcff"/><rect x="781.4" y="823.49" width="6.6" height="6.6" fill="#f6d5ff"/><rect x="787.4" y="823.49" width="6.6" height="6.6" fill="#faccff"/><rect x="793.4" y="823.49" width="6.6" height="6.6" fill="#fcc2fa"/><rect x="799.4" y="823.49" width="6.6" height="6.6" fill="#fcb8f0"/><rect x="805.4" y="823.49" width="6.6" height="6.6" fill="#fcade4"/><rect x="811.4" y="823.49" width="6.6" height="6.6" fill="#fda1d6"/><rect x="817.4" y="823.49" width="6.6" height="6.6" fill="#fe95c7"/><rect x="823.4" y="823.49" width="6.6" height="6.6" fill="#fe89b6"/><rect x="829.4" y="823.49" width="6.6" height="6.6" fill="#ff7ea6"/><rect x="835.4" y="823.49" width="6.6" height="6.6" fill="#ff7299"/><rect x="841.4" y="823.49" width="6.6" height="6.6" fill="#ff678d"/><rect x="847.4" y="823.49" width="6.6" height="6.6" fill="#ff5d81"/><rect x="853.4" y="823.49" width="6.6" height="6.6" fill="#ff5375"/><rect x="859.4" y="823.49" width="6.6" height="6.6" fill="#ff4a69"/><rect x="865.4" y="823.49" width="6.6" height="6.6" fill="#ff415e"/><rect x="871.4" y="823.49" width="6.6" height="6.6" fill="#ff3954"/><rect x="877.4" y="823.49" width="6.6" height="6.6" fill="#ff324a"/><rect x="883.4" y="823.49" width="6.6" height="6.6" fill="#ff2c41"/><rect x="889.4" y="823.49" width="6.6" height="6.6" fill="#ff2638"/><rect x="895.4" y="823.49" width="6.6" height="6.6" fill="#ff2130"/><rect x="901.4" y="823.49" width="6.6" height="6.6" fill="#ff1c28"/><rect x="907.4" y="823.49" width="6.6" height="6.6" fill="#ff1821"/><rect x="913.4" y="823.49" width="6.6" height="6.6" fill="#ff141b"/><rect x="919.4" y="823.49" width="6.6" height="6.6" fill="#ff1115"/><rect x="925.4" y="823.49" width="6.6" height="6.6" fill="#ff0e10"/><rect x="931.4" y="823.49" width="6.6" height="6.6" fill="#ff0c0c"/><rect x="937.4" y="823.49" width="6.6" height="6.6" fill="#ff0a0a"/><rect x="943.4" y="823.49" width="6.6" height="6.6" fill="#ff0808"/><rect x="949.4" y="823.49" width="6.6" height="6.6" fill="#ff0707"/><rect x="955.4" y="823.49" width="6.6" height="6.6" fill="#ff0606"/><rect x="961.4" y="823.49" width="6.6" height="6.6" fill="#ff0000"/><rect x="619.4" y="829.49" width="6.6" height="6.6" fill="#109bff"/><rect x="625.4" y="829.49" width="6.6" height="6.6" fill="#139bff"/><rect x="631.4" y="829.49" width="6.6" height="6.6" fill="#2fa6ff"/><rect x="637.4" y="829.49" width="6.6" height="6.6" fill="#35a7ff"/><rect x="643.4" y="829.49" width="6.6" height="6.6" fill="#3aa9ff"/><rect x="649.4" y="829.49" width="6.6" height="6.6" fill="#41aaff"/><rect x="655.4" y="829.49" width="6.6" height="6.6" fill="#47acff"/><rect x="661.4" y="829.49" width="6.6" height="6.6" fill="#4fadff"/><rect x="667.4" y="829.49" width="6.6" height="6.6" fill="#57adff"/><rect x="673.4" y="829.49" width="6.6" height="6.6" fill="#5facff"/><rect x="679.4" y="829.49" width="6.6" height="6.6" fill="#68acff"/><rect x="685.4" y="829.49" width="6.6" height="6.6" fill="#72abff"/><rect x="691.4" y="829.49" width="6.6" height="6.6" fill="#7cabff"/><rect x="697.4" y="829.49" width="6.6" height="6.6" fill="#86adff"/><rect x="703.4" y="829.49" width="6.6" height="6.6" fill="#91b2ff"/><rect x="709.4" y="829.49" width="6.6" height="6.6" fill="#9bb6ff"/><rect x="715.4" y="829.49" width="6.6" height="6.6" fill="#a5bbff"/><rect x="721.4" y="829.49" width="6.6" height="6.6" fill="#afbfff"/><rect x="727.4" y="829.49" width="6.6" height="6.6" fill="#b9c6ff"/><rect x="733.4" y="829.49" width="6.6" height="6.6" fill="#c1cbff"/><rect x="739.4" y="829.49" width="6.6" height="6.6" fill="#c7ccff"/><rect x="745.4" y="829.49" width="6.6" height="6.6" fill="#cbcbff"/><rect x="751.4" y="829.49" width="6.6" height="6.6" fill="#d5d1ff"/><rect x="757.4" y="829.49" width="6.6" height="6.6" fill="#dcd4ff"/><rect x="763.4" y="829.49" width="6.6" height="6.6" fill="#e3d6ff"/><rect x="769.4" y="829.49" width="6.6" height="6.6" fill="#e8d5ff"/><rect x="775.4" y="829.49" width="6.6" height="6.6" fill="#ecd1ff"/><rect x="781.4" y="829.49" width="6.6" height="6.6" fill="#efcaff"/><rect x="787.4" y="829.49" width="6.6" height="6.6" fill="#f3c2ff"/><rect x="793.4" y="829.49" width="6.6" height="6.6" fill="#f7b9ff"/><rect x="799.4" y="829.49" width="6.6" height="6.6" fill="#fbaefc"/><rect x="805.4" y="829.49" width="6.6" height="6.6" fill="#fba4f1"/><rect x="811.4" y="829.49" width="6.6" height="6.6" fill="#fb99e5"/><rect x="817.4" y="829.49" width="6.6" height="6.6" fill="#fc8ed8"/><rect x="823.4" y="829.49" width="6.6" height="6.6" fill="#fc83ca"/><rect x="829.4" y="829.49" width="6.6" height="6.6" fill="#fd78ba"/><rect x="835.4" y="829.49" width="6.6" height="6.6" fill="#fe6dab"/><rect x="841.4" y="829.49" width="6.6" height="6.6" fill="#fe639a"/><rect x="847.4" y="829.49" width="6.6" height="6.6" fill="#ff598c"/><rect x="853.4" y="829.49" width="6.6" height="6.6" fill="#ff4f81"/><rect x="859.4" y="829.49" width="6.6" height="6.6" fill="#ff4776"/><rect x="865.4" y="829.49" width="6.6" height="6.6" fill="#ff3e6c"/><rect x="871.4" y="829.49" width="6.6" height="6.6" fill="#ff3762"/><rect x="877.4" y="829.49" width="6.6" height="6.6" fill="#ff3058"/><rect x="883.4" y="829.49" width="6.6" height="6.6" fill="#ff2a4f"/><rect x="889.4" y="829.49" width="6.6" height="6.6" fill="#ff2447"/><rect x="895.4" y="829.49" width="6.6" height="6.6" fill="#ff1f3f"/><rect x="901.4" y="829.49" width="6.6" height="6.6" fill="#ff1b38"/><rect x="907.4" y="829.49" width="6.6" height="6.6" fill="#ff1731"/><rect x="913.4" y="829.49" width="6.6" height="6.6" fill="#ff132b"/><rect x="919.4" y="829.49" width="6.6" height="6.6" fill="#ff1025"/><rect x="925.4" y="829.49" width="6.6" height="6.6" fill="#ff0e20"/><rect x="931.4" y="829.49" width="6.6" height="6.6" fill="#ff0c1b"/><rect x="937.4" y="829.49" width="6.6" height="6.6" fill="#ff0a17"/><rect x="943.4" y="829.49" width="6.6" height="6.6" fill="#ff0813"/><rect x="949.4" y="829.49" width="6.6" height="6.6" fill="#ff070f"/><rect x="955.4" y="829.49" width="6.6" height="6.6" fill="#ff050b"/><rect x="961.4" y="829.49" width="6.6" height="6.6" fill="#ff0004"/><rect x="967.4" y="829.49" width="6.6" height="6.6" fill="#ff0001"/><rect x="973.4" y="829.49" width="6.6" height="6.6" fill="#ff0000"/><rect x="619.4" y="835.49" width="6.6" height="6.6" fill="#1096ff"/><rect x="625.4" y="835.49" width="6.6" height="6.6" fill="#1095ff"/><rect x="631.4" y="835.49" width="6.6" height="6.6" fill="#289eff"/><rect x="637.4" y="835.49" width="6.6" height="6.6" fill="#33a2ff"/><rect x="643.4" y="835.49" width="6.6" height="6.6" fill="#38a2ff"/><rect x="649.4" y="835.49" width="6.6" height="6.6" fill="#3ea0ff"/><rect x="655.4" y="835.49" width="6.6" height="6.6" fill="#459fff"/><rect x="661.4" y="835.49" width="6.6" height="6.6" fill="#4c9dff"/><rect x="667.4" y="835.49" width="6.6" height="6.6" fill="#539bff"/><rect x="673.4" y="835.49" width="6.6" height="6.6" fill="#5b9aff"/><rect x="679.4" y="835.49" width="6.6" height="6.6" fill="#6499ff"/><rect x="685.4" y="835.49" width="6.6" height="6.6" fill="#6d9cff"/><rect x="691.4" y="835.49" width="6.6" height="6.6" fill="#769fff"/><rect x="697.4" y="835.49" width="6.6" height="6.6" fill="#80a3ff"/><rect x="703.4" y="835.49" width="6.6" height="6.6" fill="#89a7ff"/><rect x="709.4" y="835.49" width="6.6" height="6.6" fill="#93abff"/><rect x="715.4" y="835.49" width="6.6" height="6.6" fill="#9db0ff"/><rect x="721.4" y="835.49" width="6.6" height="6.6" fill="#a6b6ff"/><rect x="727.4" y="835.49" width="6.6" height="6.6" fill="#aebbff"/><rect x="733.4" y="835.49" width="6.6" height="6.6" fill="#b5bdff"/><rect x="739.4" y="835.49" width="6.6" height="6.6" fill="#b8b8ff"/><rect x="745.4" y="835.49" width="6.6" height="6.6" fill="#c1bfff"/><rect x="751.4" y="835.49" width="6.6" height="6.6" fill="#cbc4ff"/><rect x="757.4" y="835.49" width="6.6" height="6.6" fill="#d3c7ff"/><rect x="763.4" y="835.49" width="6.6" height="6.6" fill="#dac8ff"/><rect x="769.4" y="835.49" width="6.6" height="6.6" fill="#e0c8ff"/><rect x="775.4" y="835.49" width="6.6" height="6.6" fill="#e4c5ff"/><rect x="781.4" y="835.49" width="6.6" height="6.6" fill="#e8bfff"/><rect x="787.4" y="835.49" width="6.6" height="6.6" fill="#ecb7ff"/><rect x="793.4" y="835.49" width="6.6" height="6.6" fill="#f0afff"/><rect x="799.4" y="835.49" width="6.6" height="6.6" fill="#f5a5ff"/><rect x="805.4" y="835.49" width="6.6" height="6.6" fill="#f99afe"/><rect x="811.4" y="835.49" width="6.6" height="6.6" fill="#fa90f3"/><rect x="817.4" y="835.49" width="6.6" height="6.6" fill="#fa86e7"/><rect x="823.4" y="835.49" width="6.6" height="6.6" fill="#fa7cda"/><rect x="829.4" y="835.49" width="6.6" height="6.6" fill="#fb71cd"/><rect x="835.4" y="835.49" width="6.6" height="6.6" fill="#fc67be"/><rect x="841.4" y="835.49" width="6.6" height="6.6" fill="#fc5eb0"/><rect x="847.4" y="835.49" width="6.6" height="6.6" fill="#fd54a1"/><rect x="853.4" y="835.49" width="6.6" height="6.6" fill="#fe4b92"/><rect x="859.4" y="835.49" width="6.6" height="6.6" fill="#ff4383"/><rect x="865.4" y="835.49" width="6.6" height="6.6" fill="#ff3b77"/><rect x="871.4" y="835.49" width="6.6" height="6.6" fill="#ff346d"/><rect x="877.4" y="835.49" width="6.6" height="6.6" fill="#ff2e65"/><rect x="883.4" y="835.49" width="6.6" height="6.6" fill="#ff285c"/><rect x="889.4" y="835.49" width="6.6" height="6.6" fill="#ff2354"/><rect x="895.4" y="835.49" width="6.6" height="6.6" fill="#ff1e4d"/><rect x="901.4" y="835.49" width="6.6" height="6.6" fill="#ff1a46"/><rect x="907.4" y="835.49" width="6.6" height="6.6" fill="#ff163f"/><rect x="913.4" y="835.49" width="6.6" height="6.6" fill="#ff1339"/><rect x="919.4" y="835.49" width="6.6" height="6.6" fill="#ff1034"/><rect x="925.4" y="835.49" width="6.6" height="6.6" fill="#ff0d2e"/><rect x="931.4" y="835.49" width="6.6" height="6.6" fill="#ff0b29"/><rect x="937.4" y="835.49" width="6.6" height="6.6" fill="#ff0925"/><rect x="943.4" y="835.49" width="6.6" height="6.6" fill="#ff031d"/><rect x="949.4" y="835.49" width="6.6" height="6.6" fill="#ff0017"/><rect x="955.4" y="835.49" width="6.6" height="6.6" fill="#ff0015"/><rect x="961.4" y="835.49" width="6.6" height="6.6" fill="#ff0012"/><rect x="625.4" y="841.49" width="6.6" height="6.6" fill="#108eff"/><rect x="631.4" y="841.49" width="6.6" height="6.6" fill="#2091ff"/><rect x="637.4" y="841.49" width="6.6" height="6.6" fill="#3195ff"/><rect x="643.4" y="841.49" width="6.6" height="6.6" fill="#3692ff"/><rect x="649.4" y="841.49" width="6.6" height="6.6" fill="#3c90ff"/><rect x="655.4" y="841.49" width="6.6" height="6.6" fill="#428eff"/><rect x="661.4" y="841.49" width="6.6" height="6.6" fill="#488bff"/><rect x="667.4" y="841.49" width="6.6" height="6.6" fill="#4f8aff"/><rect x="673.4" y="841.49" width="6.6" height="6.6" fill="#578cff"/><rect x="679.4" y="841.49" width="6.6" height="6.6" fill="#5f8fff"/><rect x="685.4" y="841.49" width="6.6" height="6.6" fill="#6792ff"/><rect x="691.4" y="841.49" width="6.6" height="6.6" fill="#7095ff"/><rect x="697.4" y="841.49" width="6.6" height="6.6" fill="#7999ff"/><rect x="703.4" y="841.49" width="6.6" height="6.6" fill="#829cff"/><rect x="709.4" y="841.49" width="6.6" height="6.6" fill="#8aa1ff"/><rect x="715.4" y="841.49" width="6.6" height="6.6" fill="#93a7ff"/><rect x="721.4" y="841.49" width="6.6" height="6.6" fill="#9cacff"/><rect x="727.4" y="841.49" width="6.6" height="6.6" fill="#a3afff"/><rect x="733.4" y="841.49" width="6.6" height="6.6" fill="#a7a9ff"/><rect x="739.4" y="841.49" width="6.6" height="6.6" fill="#ababff"/><rect x="745.4" y="841.49" width="6.6" height="6.6" fill="#b7b1ff"/><rect x="751.4" y="841.49" width="6.6" height="6.6" fill="#c0b6ff"/><rect x="757.4" y="841.49" width="6.6" height="6.6" fill="#c9b9ff"/><rect x="763.4" y="841.49" width="6.6" height="6.6" fill="#d0baff"/><rect x="769.4" y="841.49" width="6.6" height="6.6" fill="#d6baff"/><rect x="775.4" y="841.49" width="6.6" height="6.6" fill="#dbb8ff"/><rect x="781.4" y="841.49" width="6.6" height="6.6" fill="#e0b3ff"/><rect x="787.4" y="841.49" width="6.6" height="6.6" fill="#e4acff"/><rect x="793.4" y="841.49" width="6.6" height="6.6" fill="#e9a4ff"/><rect x="799.4" y="841.49" width="6.6" height="6.6" fill="#ed9bff"/><rect x="805.4" y="841.49" width="6.6" height="6.6" fill="#f291ff"/><rect x="811.4" y="841.49" width="6.6" height="6.6" fill="#f787ff"/><rect x="817.4" y="841.49" width="6.6" height="6.6" fill="#f87df5"/><rect x="823.4" y="841.49" width="6.6" height="6.6" fill="#f974e9"/><rect x="829.4" y="841.49" width="6.6" height="6.6" fill="#f96add"/><rect x="835.4" y="841.49" width="6.6" height="6.6" fill="#fa61d0"/><rect x="841.4" y="841.49" width="6.6" height="6.6" fill="#fa58c2"/><rect x="847.4" y="841.49" width="6.6" height="6.6" fill="#fb4fb5"/><rect x="853.4" y="841.49" width="6.6" height="6.6" fill="#fc47a7"/><rect x="859.4" y="841.49" width="6.6" height="6.6" fill="#fc3f99"/><rect x="865.4" y="841.49" width="6.6" height="6.6" fill="#fd388b"/><rect x="871.4" y="841.49" width="6.6" height="6.6" fill="#fe317e"/><rect x="877.4" y="841.49" width="6.6" height="6.6" fill="#ff2b71"/><rect x="883.4" y="841.49" width="6.6" height="6.6" fill="#ff2667"/><rect x="889.4" y="841.49" width="6.6" height="6.6" fill="#ff2160"/><rect x="895.4" y="841.49" width="6.6" height="6.6" fill="#ff1c58"/><rect x="901.4" y="841.49" width="6.6" height="6.6" fill="#ff1852"/><rect x="907.4" y="841.49" width="6.6" height="6.6" fill="#ff154c"/><rect x="913.4" y="841.49" width="6.6" height="6.6" fill="#ff1246"/><rect x="919.4" y="841.49" width="6.6" height="6.6" fill="#ff0f40"/><rect x="925.4" y="841.49" width="6.6" height="6.6" fill="#ff0d3b"/><rect x="931.4" y="841.49" width="6.6" height="6.6" fill="#ff002d"/><rect x="937.4" y="841.49" width="6.6" height="6.6" fill="#ff002a"/><rect x="943.4" y="841.49" width="6.6" height="6.6" fill="#ff0027"/><rect x="625.4" y="847.49" width="6.6" height="6.6" fill="#107fff"/><rect x="631.4" y="847.49" width="6.6" height="6.6" fill="#187dff"/><rect x="637.4" y="847.49" width="6.6" height="6.6" fill="#2f85ff"/><rect x="643.4" y="847.49" width="6.6" height="6.6" fill="#3482ff"/><rect x="649.4" y="847.49" width="6.6" height="6.6" fill="#397fff"/><rect x="655.4" y="847.49" width="6.6" height="6.6" fill="#3e7eff"/><rect x="661.4" y="847.49" width="6.6" height="6.6" fill="#4480ff"/><rect x="667.4" y="847.49" width="6.6" height="6.6" fill="#4b81ff"/><rect x="673.4" y="847.49" width="6.6" height="6.6" fill="#5284ff"/><rect x="679.4" y="847.49" width="6.6" height="6.6" fill="#5986ff"/><rect x="685.4" y="847.49" width="6.6" height="6.6" fill="#6188ff"/><rect x="691.4" y="847.49" width="6.6" height="6.6" fill="#698bff"/><rect x="697.4" y="847.49" width="6.6" height="6.6" fill="#718dff"/><rect x="703.4" y="847.49" width="6.6" height="6.6" fill="#7993ff"/><rect x="709.4" y="847.49" width="6.6" height="6.6" fill="#8198ff"/><rect x="715.4" y="847.49" width="6.6" height="6.6" fill="#899dff"/><rect x="721.4" y="847.49" width="6.6" height="6.6" fill="#91a0ff"/><rect x="727.4" y="847.49" width="6.6" height="6.6" fill="#959bff"/><rect x="733.4" y="847.49" width="6.6" height="6.6" fill="#9797ff"/><rect x="739.4" y="847.49" width="6.6" height="6.6" fill="#a29eff"/><rect x="745.4" y="847.49" width="6.6" height="6.6" fill="#aca4ff"/><rect x="751.4" y="847.49" width="6.6" height="6.6" fill="#b5a8ff"/><rect x="757.4" y="847.49" width="6.6" height="6.6" fill="#beabff"/><rect x="763.4" y="847.49" width="6.6" height="6.6" fill="#c7acff"/><rect x="769.4" y="847.49" width="6.6" height="6.6" fill="#cdacff"/><rect x="775.4" y="847.49" width="6.6" height="6.6" fill="#d3aaff"/><rect x="781.4" y="847.49" width="6.6" height="6.6" fill="#d7a6ff"/><rect x="787.4" y="847.49" width="6.6" height="6.6" fill="#dca0ff"/><rect x="793.4" y="847.49" width="6.6" height="6.6" fill="#e199ff"/><rect x="799.4" y="847.49" width="6.6" height="6.6" fill="#e691ff"/><rect x="805.4" y="847.49" width="6.6" height="6.6" fill="#ea88ff"/><rect x="811.4" y="847.49" width="6.6" height="6.6" fill="#f07eff"/><rect x="817.4" y="847.49" width="6.6" height="6.6" fill="#f575ff"/><rect x="823.4" y="847.49" width="6.6" height="6.6" fill="#f76cf7"/><rect x="829.4" y="847.49" width="6.6" height="6.6" fill="#f763eb"/><rect x="835.4" y="847.49" width="6.6" height="6.6" fill="#f85adf"/><rect x="841.4" y="847.49" width="6.6" height="6.6" fill="#f952d3"/><rect x="847.4" y="847.49" width="6.6" height="6.6" fill="#f94ac6"/><rect x="853.4" y="847.49" width="6.6" height="6.6" fill="#fa42b9"/><rect x="859.4" y="847.49" width="6.6" height="6.6" fill="#fb3bad"/><rect x="865.4" y="847.49" width="6.6" height="6.6" fill="#fb34a0"/><rect x="871.4" y="847.49" width="6.6" height="6.6" fill="#fc2e93"/><rect x="877.4" y="847.49" width="6.6" height="6.6" fill="#fd2987"/><rect x="883.4" y="847.49" width="6.6" height="6.6" fill="#fd237b"/><rect x="889.4" y="847.49" width="6.6" height="6.6" fill="#fe1f6f"/><rect x="895.4" y="847.49" width="6.6" height="6.6" fill="#ff1b63"/><rect x="901.4" y="847.49" width="6.6" height="6.6" fill="#ff175c"/><rect x="907.4" y="847.49" width="6.6" height="6.6" fill="#ff1456"/><rect x="913.4" y="847.49" width="6.6" height="6.6" fill="#ff0649"/><rect x="919.4" y="847.49" width="6.6" height="6.6" fill="#ff0041"/><rect x="925.4" y="847.49" width="6.6" height="6.6" fill="#ff003d"/><rect x="931.4" y="847.49" width="6.6" height="6.6" fill="#ff003a"/><rect x="625.4" y="853.49" width="6.6" height="6.6" fill="#106fff"/><rect x="631.4" y="853.49" width="6.6" height="6.6" fill="#1069ff"/><rect x="637.4" y="853.49" width="6.6" height="6.6" fill="#2c75ff"/><rect x="643.4" y="853.49" width="6.6" height="6.6" fill="#3175ff"/><rect x="649.4" y="853.49" width="6.6" height="6.6" fill="#3675ff"/><rect x="655.4" y="853.49" width="6.6" height="6.6" fill="#3b76ff"/><rect x="661.4" y="853.49" width="6.6" height="6.6" fill="#4178ff"/><rect x="667.4" y="853.49" width="6.6" height="6.6" fill="#4779ff"/><rect x="673.4" y="853.49" width="6.6" height="6.6" fill="#4d7aff"/><rect x="679.4" y="853.49" width="6.6" height="6.6" fill="#547cff"/><rect x="685.4" y="853.49" width="6.6" height="6.6" fill="#5b7eff"/><rect x="691.4" y="853.49" width="6.6" height="6.6" fill="#6281ff"/><rect x="697.4" y="853.49" width="6.6" height="6.6" fill="#6986ff"/><rect x="703.4" y="853.49" width="6.6" height="6.6" fill="#718aff"/><rect x="709.4" y="853.49" width="6.6" height="6.6" fill="#788eff"/><rect x="715.4" y="853.49" width="6.6" height="6.6" fill="#7f92ff"/><rect x="721.4" y="853.49" width="6.6" height="6.6" fill="#848eff"/><rect x="727.4" y="853.49" width="6.6" height="6.6" fill="#8586ff"/><rect x="733.4" y="853.49" width="6.6" height="6.6" fill="#8b8bff"/><rect x="739.4" y="853.49" width="6.6" height="6.6" fill="#9891ff"/><rect x="745.4" y="853.49" width="6.6" height="6.6" fill="#a296ff"/><rect x="751.4" y="853.49" width="6.6" height="6.6" fill="#aa9aff"/><rect x="757.4" y="853.49" width="6.6" height="6.6" fill="#b49dff"/><rect x="763.4" y="853.49" width="6.6" height="6.6" fill="#bd9eff"/><rect x="769.4" y="853.49" width="6.6" height="6.6" fill="#c49eff"/><rect x="775.4" y="853.49" width="6.6" height="6.6" fill="#ca9dff"/><rect x="781.4" y="853.49" width="6.6" height="6.6" fill="#cf9aff"/><rect x="787.4" y="853.49" width="6.6" height="6.6" fill="#d494ff"/><rect x="793.4" y="853.49" width="6.6" height="6.6" fill="#d98dff"/><rect x="799.4" y="853.49" width="6.6" height="6.6" fill="#de86ff"/><rect x="805.4" y="853.49" width="6.6" height="6.6" fill="#e37eff"/><rect x="811.4" y="853.49" width="6.6" height="6.6" fill="#e875ff"/><rect x="817.4" y="853.49" width="6.6" height="6.6" fill="#ed6dff"/><rect x="823.4" y="853.49" width="6.6" height="6.6" fill="#f363ff"/><rect x="829.4" y="853.49" width="6.6" height="6.6" fill="#f65bf9"/><rect x="835.4" y="853.49" width="6.6" height="6.6" fill="#f653ee"/><rect x="841.4" y="853.49" width="6.6" height="6.6" fill="#f74ce2"/><rect x="847.4" y="853.49" width="6.6" height="6.6" fill="#f844d6"/><rect x="853.4" y="853.49" width="6.6" height="6.6" fill="#f83dca"/><rect x="859.4" y="853.49" width="6.6" height="6.6" fill="#f937be"/><rect x="865.4" y="853.49" width="6.6" height="6.6" fill="#f931b2"/><rect x="871.4" y="853.49" width="6.6" height="6.6" fill="#fa2ba6"/><rect x="877.4" y="853.49" width="6.6" height="6.6" fill="#fb269a"/><rect x="883.4" y="853.49" width="6.6" height="6.6" fill="#fc218f"/><rect x="889.4" y="853.49" width="6.6" height="6.6" fill="#fc1d84"/><rect x="895.4" y="853.49" width="6.6" height="6.6" fill="#fd1073"/><rect x="901.4" y="853.49" width="6.6" height="6.6" fill="#fe0061"/><rect x="907.4" y="853.49" width="6.6" height="6.6" fill="#fe0058"/><rect x="913.4" y="853.49" width="6.6" height="6.6" fill="#ff0050"/><rect x="631.4" y="859.49" width="6.6" height="6.6" fill="#105eff"/><rect x="637.4" y="859.49" width="6.6" height="6.6" fill="#2368ff"/><rect x="643.4" y="859.49" width="6.6" height="6.6" fill="#2f6eff"/><rect x="649.4" y="859.49" width="6.6" height="6.6" fill="#336eff"/><rect x="655.4" y="859.49" width="6.6" height="6.6" fill="#386fff"/><rect x="661.4" y="859.49" width="6.6" height="6.6" fill="#3d70ff"/><rect x="667.4" y="859.49" width="6.6" height="6.6" fill="#4270ff"/><rect x="673.4" y="859.49" width="6.6" height="6.6" fill="#4871ff"/><rect x="679.4" y="859.49" width="6.6" height="6.6" fill="#4e72ff"/><rect x="685.4" y="859.49" width="6.6" height="6.6" fill="#5476ff"/><rect x="691.4" y="859.49" width="6.6" height="6.6" fill="#5b7aff"/><rect x="697.4" y="859.49" width="6.6" height="6.6" fill="#627dff"/><rect x="703.4" y="859.49" width="6.6" height="6.6" fill="#6881ff"/><rect x="709.4" y="859.49" width="6.6" height="6.6" fill="#6f84ff"/><rect x="715.4" y="859.49" width="6.6" height="6.6" fill="#7381ff"/><rect x="721.4" y="859.49" width="6.6" height="6.6" fill="#7679ff"/><rect x="727.4" y="859.49" width="6.6" height="6.6" fill="#7878ff"/><rect x="733.4" y="859.49" width="6.6" height="6.6" fill="#837eff"/><rect x="739.4" y="859.49" width="6.6" height="6.6" fill="#8e84ff"/><rect x="745.4" y="859.49" width="6.6" height="6.6" fill="#9889ff"/><rect x="751.4" y="859.49" width="6.6" height="6.6" fill="#a08dff"/><rect x="757.4" y="859.49" width="6.6" height="6.6" fill="#aa8fff"/><rect x="763.4" y="859.49" width="6.6" height="6.6" fill="#b390ff"/><rect x="769.4" y="859.49" width="6.6" height="6.6" fill="#ba90ff"/><rect x="775.4" y="859.49" width="6.6" height="6.6" fill="#c18fff"/><rect x="781.4" y="859.49" width="6.6" height="6.6" fill="#c68dff"/><rect x="787.4" y="859.49" width="6.6" height="6.6" fill="#cc88ff"/><rect x="793.4" y="859.49" width="6.6" height="6.6" fill="#d182ff"/><rect x="799.4" y="859.49" width="6.6" height="6.6" fill="#d67cff"/><rect x="805.4" y="859.49" width="6.6" height="6.6" fill="#db74ff"/><rect x="811.4" y="859.49" width="6.6" height="6.6" fill="#e06dff"/><rect x="817.4" y="859.49" width="6.6" height="6.6" fill="#e664ff"/><rect x="823.4" y="859.49" width="6.6" height="6.6" fill="#eb5cff"/><rect x="829.4" y="859.49" width="6.6" height="6.6" fill="#f154ff"/><rect x="835.4" y="859.49" width="6.6" height="6.6" fill="#f54cfb"/><rect x="841.4" y="859.49" width="6.6" height="6.6" fill="#f545f0"/><rect x="847.4" y="859.49" width="6.6" height="6.6" fill="#f63fe5"/><rect x="853.4" y="859.49" width="6.6" height="6.6" fill="#f738da"/><rect x="859.4" y="859.49" width="6.6" height="6.6" fill="#f732ce"/><rect x="865.4" y="859.49" width="6.6" height="6.6" fill="#f82dc3"/><rect x="871.4" y="859.49" width="6.6" height="6.6" fill="#f827b7"/><rect x="877.4" y="859.49" width="6.6" height="6.6" fill="#f919a9"/><rect x="883.4" y="859.49" width="6.6" height="6.6" fill="#f90998"/><rect x="889.4" y="859.49" width="6.6" height="6.6" fill="#fa008a"/><rect x="895.4" y="859.49" width="6.6" height="6.6" fill="#fb0081"/><rect x="901.4" y="859.49" width="6.6" height="6.6" fill="#fc0077"/><rect x="631.4" y="865.49" width="6.6" height="6.6" fill="#1059ff"/><rect x="637.4" y="865.49" width="6.6" height="6.6" fill="#185cff"/><rect x="643.4" y="865.49" width="6.6" height="6.6" fill="#2c67ff"/><rect x="649.4" y="865.49" width="6.6" height="6.6" fill="#3067ff"/><rect x="655.4" y="865.49" width="6.6" height="6.6" fill="#3467ff"/><rect x="661.4" y="865.49" width="6.6" height="6.6" fill="#3967ff"/><rect x="667.4" y="865.49" width="6.6" height="6.6" fill="#3e68ff"/><rect x="673.4" y="865.49" width="6.6" height="6.6" fill="#4368ff"/><rect x="679.4" y="865.49" width="6.6" height="6.6" fill="#486cff"/><rect x="685.4" y="865.49" width="6.6" height="6.6" fill="#4e6fff"/><rect x="691.4" y="865.49" width="6.6" height="6.6" fill="#5472ff"/><rect x="697.4" y="865.49" width="6.6" height="6.6" fill="#5a75ff"/><rect x="703.4" y="865.49" width="6.6" height="6.6" fill="#6078ff"/><rect x="709.4" y="865.49" width="6.6" height="6.6" fill="#6476ff"/><rect x="715.4" y="865.49" width="6.6" height="6.6" fill="#676dff"/><rect x="721.4" y="865.49" width="6.6" height="6.6" fill="#6767ff"/><rect x="727.4" y="865.49" width="6.6" height="6.6" fill="#6e6cff"/><rect x="733.4" y="865.49" width="6.6" height="6.6" fill="#7a73ff"/><rect x="739.4" y="865.49" width="6.6" height="6.6" fill="#8578ff"/><rect x="745.4" y="865.49" width="6.6" height="6.6" fill="#8e7cff"/><rect x="751.4" y="865.49" width="6.6" height="6.6" fill="#967fff"/><rect x="757.4" y="865.49" width="6.6" height="6.6" fill="#a182ff"/><rect x="763.4" y="865.49" width="6.6" height="6.6" fill="#aa83ff"/><rect x="769.4" y="865.49" width="6.6" height="6.6" fill="#b183ff"/><rect x="775.4" y="865.49" width="6.6" height="6.6" fill="#b882ff"/><rect x="781.4" y="865.49" width="6.6" height="6.6" fill="#be80ff"/><rect x="787.4" y="865.49" width="6.6" height="6.6" fill="#c37dff"/><rect x="793.4" y="865.49" width="6.6" height="6.6" fill="#c977ff"/><rect x="799.4" y="865.49" width="6.6" height="6.6" fill="#ce71ff"/><rect x="805.4" y="865.49" width="6.6" height="6.6" fill="#d46bff"/><rect x="811.4" y="865.49" width="6.6" height="6.6" fill="#d964ff"/><rect x="817.4" y="865.49" width="6.6" height="6.6" fill="#de5cff"/><rect x="823.4" y="865.49" width="6.6" height="6.6" fill="#e455ff"/><rect x="829.4" y="865.49" width="6.6" height="6.6" fill="#e94eff"/><rect x="835.4" y="865.49" width="6.6" height="6.6" fill="#ef46ff"/><rect x="841.4" y="865.49" width="6.6" height="6.6" fill="#f43ffe"/><rect x="847.4" y="865.49" width="6.6" height="6.6" fill="#f439f3"/><rect x="853.4" y="865.49" width="6.6" height="6.6" fill="#f532e8"/><rect x="859.4" y="865.49" width="6.6" height="6.6" fill="#f522db"/><rect x="865.4" y="865.49" width="6.6" height="6.6" fill="#f513cd"/><rect x="871.4" y="865.49" width="6.6" height="6.6" fill="#f602bf"/><rect x="877.4" y="865.49" width="6.6" height="6.6" fill="#f700b3"/><rect x="883.4" y="865.49" width="6.6" height="6.6" fill="#f700a9"/><rect x="631.4" y="871.49" width="6.6" height="6.6" fill="#1053ff"/><rect x="637.4" y="871.49" width="6.6" height="6.6" fill="#1050ff"/><rect x="643.4" y="871.49" width="6.6" height="6.6" fill="#2960ff"/><rect x="649.4" y="871.49" width="6.6" height="6.6" fill="#2d60ff"/><rect x="655.4" y="871.49" width="6.6" height="6.6" fill="#3160ff"/><rect x="661.4" y="871.49" width="6.6" height="6.6" fill="#355fff"/><rect x="667.4" y="871.49" width="6.6" height="6.6" fill="#3960ff"/><rect x="673.4" y="871.49" width="6.6" height="6.6" fill="#3e63ff"/><rect x="679.4" y="871.49" width="6.6" height="6.6" fill="#4365ff"/><rect x="685.4" y="871.49" width="6.6" height="6.6" fill="#4868ff"/><rect x="691.4" y="871.49" width="6.6" height="6.6" fill="#4d6bff"/><rect x="697.4" y="871.49" width="6.6" height="6.6" fill="#526cff"/><rect x="703.4" y="871.49" width="6.6" height="6.6" fill="#576bff"/><rect x="709.4" y="871.49" width="6.6" height="6.6" fill="#5964ff"/><rect x="715.4" y="871.49" width="6.6" height="6.6" fill="#595bff"/><rect x="721.4" y="871.49" width="6.6" height="6.6" fill="#5c5cff"/><rect x="727.4" y="871.49" width="6.6" height="6.6" fill="#6662ff"/><rect x="733.4" y="871.49" width="6.6" height="6.6" fill="#7267ff"/><rect x="739.4" y="871.49" width="6.6" height="6.6" fill="#7c6cff"/><rect x="745.4" y="871.49" width="6.6" height="6.6" fill="#8470ff"/><rect x="751.4" y="871.49" width="6.6" height="6.6" fill="#8d73ff"/><rect x="757.4" y="871.49" width="6.6" height="6.6" fill="#9875ff"/><rect x="763.4" y="871.49" width="6.6" height="6.6" fill="#a176ff"/><rect x="769.4" y="871.49" width="6.6" height="6.6" fill="#a876ff"/><rect x="775.4" y="871.49" width="6.6" height="6.6" fill="#af76ff"/><rect x="781.4" y="871.49" width="6.6" height="6.6" fill="#b574ff"/><rect x="787.4" y="871.49" width="6.6" height="6.6" fill="#bb72ff"/><rect x="793.4" y="871.49" width="6.6" height="6.6" fill="#c16dff"/><rect x="799.4" y="871.49" width="6.6" height="6.6" fill="#c767ff"/><rect x="805.4" y="871.49" width="6.6" height="6.6" fill="#cc62ff"/><rect x="811.4" y="871.49" width="6.6" height="6.6" fill="#d15bff"/><rect x="817.4" y="871.49" width="6.6" height="6.6" fill="#d755ff"/><rect x="823.4" y="871.49" width="6.6" height="6.6" fill="#dc4eff"/><rect x="829.4" y="871.49" width="6.6" height="6.6" fill="#e247ff"/><rect x="835.4" y="871.49" width="6.6" height="6.6" fill="#e73dff"/><rect x="841.4" y="871.49" width="6.6" height="6.6" fill="#ec2dff"/><rect x="847.4" y="871.49" width="6.6" height="6.6" fill="#f11cff"/><rect x="853.4" y="871.49" width="6.6" height="6.6" fill="#f20cf4"/><rect x="859.4" y="871.49" width="6.6" height="6.6" fill="#f200e7"/><rect x="865.4" y="871.49" width="6.6" height="6.6" fill="#f300db"/><rect x="871.4" y="871.49" width="6.6" height="6.6" fill="#f400d0"/><rect x="637.4" y="877.49" width="6.6" height="6.6" fill="#104bff"/><rect x="643.4" y="877.49" width="6.6" height="6.6" fill="#1f54ff"/><rect x="649.4" y="877.49" width="6.6" height="6.6" fill="#2a59ff"/><rect x="655.4" y="877.49" width="6.6" height="6.6" fill="#2d58ff"/><rect x="661.4" y="877.49" width="6.6" height="6.6" fill="#3159ff"/><rect x="667.4" y="877.49" width="6.6" height="6.6" fill="#355bff"/><rect x="673.4" y="877.49" width="6.6" height="6.6" fill="#395dff"/><rect x="679.4" y="877.49" width="6.6" height="6.6" fill="#3d5fff"/><rect x="685.4" y="877.49" width="6.6" height="6.6" fill="#4261ff"/><rect x="691.4" y="877.49" width="6.6" height="6.6" fill="#4763ff"/><rect x="697.4" y="877.49" width="6.6" height="6.6" fill="#4a62ff"/><rect x="703.4" y="877.49" width="6.6" height="6.6" fill="#4d5cff"/><rect x="709.4" y="877.49" width="6.6" height="6.6" fill="#4d51ff"/><rect x="715.4" y="877.49" width="6.6" height="6.6" fill="#4d4dff"/><rect x="721.4" y="877.49" width="6.6" height="6.6" fill="#5452ff"/><rect x="727.4" y="877.49" width="6.6" height="6.6" fill="#6058ff"/><rect x="733.4" y="877.49" width="6.6" height="6.6" fill="#6a5cff"/><rect x="739.4" y="877.49" width="6.6" height="6.6" fill="#7361ff"/><rect x="745.4" y="877.49" width="6.6" height="6.6" fill="#7c64ff"/><rect x="751.4" y="877.49" width="6.6" height="6.6" fill="#8567ff"/><rect x="757.4" y="877.49" width="6.6" height="6.6" fill="#8f69ff"/><rect x="763.4" y="877.49" width="6.6" height="6.6" fill="#986aff"/><rect x="769.4" y="877.49" width="6.6" height="6.6" fill="#a06aff"/><rect x="775.4" y="877.49" width="6.6" height="6.6" fill="#a76aff"/><rect x="781.4" y="877.49" width="6.6" height="6.6" fill="#ad69ff"/><rect x="787.4" y="877.49" width="6.6" height="6.6" fill="#b367ff"/><rect x="793.4" y="877.49" width="6.6" height="6.6" fill="#b963ff"/><rect x="799.4" y="877.49" width="6.6" height="6.6" fill="#bf5eff"/><rect x="805.4" y="877.49" width="6.6" height="6.6" fill="#c559ff"/><rect x="811.4" y="877.49" width="6.6" height="6.6" fill="#ca53ff"/><rect x="817.4" y="877.49" width="6.6" height="6.6" fill="#cf4aff"/><rect x="823.4" y="877.49" width="6.6" height="6.6" fill="#d23bff"/><rect x="829.4" y="877.49" width="6.6" height="6.6" fill="#d62bff"/><rect x="835.4" y="877.49" width="6.6" height="6.6" fill="#db1aff"/><rect x="841.4" y="877.49" width="6.6" height="6.6" fill="#e008ff"/><rect x="847.4" y="877.49" width="6.6" height="6.6" fill="#e702ff"/><rect x="853.4" y="877.49" width="6.6" height="6.6" fill="#ee00ff"/><rect x="859.4" y="877.49" width="6.6" height="6.6" fill="#f100f6"/><rect x="637.4" y="883.49" width="6.6" height="6.6" fill="#1046ff"/><rect x="643.4" y="883.49" width="6.6" height="6.6" fill="#1547ff"/><rect x="649.4" y="883.49" width="6.6" height="6.6" fill="#2752ff"/><rect x="655.4" y="883.49" width="6.6" height="6.6" fill="#2a54ff"/><rect x="661.4" y="883.49" width="6.6" height="6.6" fill="#2e55ff"/><rect x="667.4" y="883.49" width="6.6" height="6.6" fill="#3157ff"/><rect x="673.4" y="883.49" width="6.6" height="6.6" fill="#3558ff"/><rect x="679.4" y="883.49" width="6.6" height="6.6" fill="#3859ff"/><rect x="685.4" y="883.49" width="6.6" height="6.6" fill="#3c5aff"/><rect x="691.4" y="883.49" width="6.6" height="6.6" fill="#405aff"/><rect x="697.4" y="883.49" width="6.6" height="6.6" fill="#4254ff"/><rect x="703.4" y="883.49" width="6.6" height="6.6" fill="#4249ff"/><rect x="709.4" y="883.49" width="6.6" height="6.6" fill="#4041ff"/><rect x="715.4" y="883.49" width="6.6" height="6.6" fill="#4444ff"/><rect x="721.4" y="883.49" width="6.6" height="6.6" fill="#4e49ff"/><rect x="727.4" y="883.49" width="6.6" height="6.6" fill="#594eff"/><rect x="733.4" y="883.49" width="6.6" height="6.6" fill="#6353ff"/><rect x="739.4" y="883.49" width="6.6" height="6.6" fill="#6c56ff"/><rect x="745.4" y="883.49" width="6.6" height="6.6" fill="#7359ff"/><rect x="751.4" y="883.49" width="6.6" height="6.6" fill="#7e5cff"/><rect x="757.4" y="883.49" width="6.6" height="6.6" fill="#875eff"/><rect x="763.4" y="883.49" width="6.6" height="6.6" fill="#905fff"/><rect x="769.4" y="883.49" width="6.6" height="6.6" fill="#985fff"/><rect x="775.4" y="883.49" width="6.6" height="6.6" fill="#9f5fff"/><rect x="781.4" y="883.49" width="6.6" height="6.6" fill="#a65eff"/><rect x="787.4" y="883.49" width="6.6" height="6.6" fill="#ac5dff"/><rect x="793.4" y="883.49" width="6.6" height="6.6" fill="#b25aff"/><rect x="799.4" y="883.49" width="6.6" height="6.6" fill="#b856ff"/><rect x="805.4" y="883.49" width="6.6" height="6.6" fill="#ba48ff"/><rect x="811.4" y="883.49" width="6.6" height="6.6" fill="#bd39ff"/><rect x="817.4" y="883.49" width="6.6" height="6.6" fill="#c029ff"/><rect x="823.4" y="883.49" width="6.6" height="6.6" fill="#c418ff"/><rect x="829.4" y="883.49" width="6.6" height="6.6" fill="#c908ff"/><rect x="835.4" y="883.49" width="6.6" height="6.6" fill="#d006ff"/><rect x="841.4" y="883.49" width="6.6" height="6.6" fill="#d805ff"/><rect x="643.4" y="889.49" width="6.6" height="6.6" fill="#103fff"/><rect x="649.4" y="889.49" width="6.6" height="6.6" fill="#244fff"/><rect x="655.4" y="889.49" width="6.6" height="6.6" fill="#2750ff"/><rect x="661.4" y="889.49" width="6.6" height="6.6" fill="#2a51ff"/><rect x="667.4" y="889.49" width="6.6" height="6.6" fill="#2d52ff"/><rect x="673.4" y="889.49" width="6.6" height="6.6" fill="#3053ff"/><rect x="679.4" y="889.49" width="6.6" height="6.6" fill="#3453ff"/><rect x="685.4" y="889.49" width="6.6" height="6.6" fill="#3754ff"/><rect x="691.4" y="889.49" width="6.6" height="6.6" fill="#384dff"/><rect x="697.4" y="889.49" width="6.6" height="6.6" fill="#3943ff"/><rect x="703.4" y="889.49" width="6.6" height="6.6" fill="#383aff"/><rect x="709.4" y="889.49" width="6.6" height="6.6" fill="#3838ff"/><rect x="715.4" y="889.49" width="6.6" height="6.6" fill="#3e3cff"/><rect x="721.4" y="889.49" width="6.6" height="6.6" fill="#4a41ff"/><rect x="727.4" y="889.49" width="6.6" height="6.6" fill="#5445ff"/><rect x="733.4" y="889.49" width="6.6" height="6.6" fill="#5d49ff"/><rect x="739.4" y="889.49" width="6.6" height="6.6" fill="#654dff"/><rect x="745.4" y="889.49" width="6.6" height="6.6" fill="#6c4fff"/><rect x="751.4" y="889.49" width="6.6" height="6.6" fill="#7752ff"/><rect x="757.4" y="889.49" width="6.6" height="6.6" fill="#8053ff"/><rect x="763.4" y="889.49" width="6.6" height="6.6" fill="#8954ff"/><rect x="769.4" y="889.49" width="6.6" height="6.6" fill="#9155ff"/><rect x="775.4" y="889.49" width="6.6" height="6.6" fill="#9855ff"/><rect x="781.4" y="889.49" width="6.6" height="6.6" fill="#9f54ff"/><rect x="787.4" y="889.49" width="6.6" height="6.6" fill="#a553ff"/><rect x="793.4" y="889.49" width="6.6" height="6.6" fill="#a546ff"/><rect x="799.4" y="889.49" width="6.6" height="6.6" fill="#a737ff"/><rect x="805.4" y="889.49" width="6.6" height="6.6" fill="#a927ff"/><rect x="811.4" y="889.49" width="6.6" height="6.6" fill="#ac15ff"/><rect x="817.4" y="889.49" width="6.6" height="6.6" fill="#b20cff"/><rect x="823.4" y="889.49" width="6.6" height="6.6" fill="#ba0bff"/><rect x="829.4" y="889.49" width="6.6" height="6.6" fill="#c209ff"/><rect x="643.4" y="895.49" width="6.6" height="6.6" fill="#103eff"/><rect x="649.4" y="895.49" width="6.6" height="6.6" fill="#1944ff"/><rect x="655.4" y="895.49" width="6.6" height="6.6" fill="#244cff"/><rect x="661.4" y="895.49" width="6.6" height="6.6" fill="#274dff"/><rect x="667.4" y="895.49" width="6.6" height="6.6" fill="#2a4dff"/><rect x="673.4" y="895.49" width="6.6" height="6.6" fill="#2c4dff"/><rect x="679.4" y="895.49" width="6.6" height="6.6" fill="#2f4dff"/><rect x="685.4" y="895.49" width="6.6" height="6.6" fill="#3048ff"/><rect x="691.4" y="895.49" width="6.6" height="6.6" fill="#313fff"/><rect x="697.4" y="895.49" width="6.6" height="6.6" fill="#3034ff"/><rect x="703.4" y="895.49" width="6.6" height="6.6" fill="#2e2eff"/><rect x="709.4" y="895.49" width="6.6" height="6.6" fill="#3131ff"/><rect x="715.4" y="895.49" width="6.6" height="6.6" fill="#3b35ff"/><rect x="721.4" y="895.49" width="6.6" height="6.6" fill="#453aff"/><rect x="727.4" y="895.49" width="6.6" height="6.6" fill="#4e3dff"/><rect x="733.4" y="895.49" width="6.6" height="6.6" fill="#5741ff"/><rect x="739.4" y="895.49" width="6.6" height="6.6" fill="#5e44ff"/><rect x="745.4" y="895.49" width="6.6" height="6.6" fill="#6646ff"/><rect x="751.4" y="895.49" width="6.6" height="6.6" fill="#7048ff"/><rect x="757.4" y="895.49" width="6.6" height="6.6" fill="#7a4aff"/><rect x="763.4" y="895.49" width="6.6" height="6.6" fill="#824bff"/><rect x="769.4" y="895.49" width="6.6" height="6.6" fill="#8a4cff"/><rect x="775.4" y="895.49" width="6.6" height="6.6" fill="#914bff"/><rect x="781.4" y="895.49" width="6.6" height="6.6" fill="#913fff"/><rect x="787.4" y="895.49" width="6.6" height="6.6" fill="#9131ff"/><rect x="793.4" y="895.49" width="6.6" height="6.6" fill="#9224ff"/><rect x="799.4" y="895.49" width="6.6" height="6.6" fill="#9313ff"/><rect x="805.4" y="895.49" width="6.6" height="6.6" fill="#9c11ff"/><rect x="811.4" y="895.49" width="6.6" height="6.6" fill="#a50fff"/><rect x="643.4" y="901.49" width="6.6" height="6.6" fill="#103cff"/><rect x="649.4" y="901.49" width="6.6" height="6.6" fill="#103bff"/><rect x="655.4" y="901.49" width="6.6" height="6.6" fill="#2248ff"/><rect x="661.4" y="901.49" width="6.6" height="6.6" fill="#2448ff"/><rect x="667.4" y="901.49" width="6.6" height="6.6" fill="#2648ff"/><rect x="673.4" y="901.49" width="6.6" height="6.6" fill="#2948ff"/><rect x="679.4" y="901.49" width="6.6" height="6.6" fill="#2a43ff"/><rect x="685.4" y="901.49" width="6.6" height="6.6" fill="#2a3cff"/><rect x="691.4" y="901.49" width="6.6" height="6.6" fill="#2930ff"/><rect x="697.4" y="901.49" width="6.6" height="6.6" fill="#2627ff"/><rect x="703.4" y="901.49" width="6.6" height="6.6" fill="#2828ff"/><rect x="709.4" y="901.49" width="6.6" height="6.6" fill="#2e2bff"/><rect x="715.4" y="901.49" width="6.6" height="6.6" fill="#382fff"/><rect x="721.4" y="901.49" width="6.6" height="6.6" fill="#4133ff"/><rect x="727.4" y="901.49" width="6.6" height="6.6" fill="#4a36ff"/><rect x="733.4" y="901.49" width="6.6" height="6.6" fill="#5239ff"/><rect x="739.4" y="901.49" width="6.6" height="6.6" fill="#593cff"/><rect x="745.4" y="901.49" width="6.6" height="6.6" fill="#613eff"/><rect x="751.4" y="901.49" width="6.6" height="6.6" fill="#6b40ff"/><rect x="757.4" y="901.49" width="6.6" height="6.6" fill="#7442ff"/><rect x="763.4" y="901.49" width="6.6" height="6.6" fill="#7c43ff"/><rect x="769.4" y="901.49" width="6.6" height="6.6" fill="#7c37ff"/><rect x="775.4" y="901.49" width="6.6" height="6.6" fill="#7b29ff"/><rect x="781.4" y="901.49" width="6.6" height="6.6" fill="#7b1bff"/><rect x="787.4" y="901.49" width="6.6" height="6.6" fill="#7e12ff"/><rect x="793.4" y="901.49" width="6.6" height="6.6" fill="#8713ff"/><rect x="799.4" y="901.49" width="6.6" height="6.6" fill="#8f13ff"/><rect x="649.4" y="907.49" width="6.6" height="6.6" fill="#103aff"/><rect x="655.4" y="907.49" width="6.6" height="6.6" fill="#1a40ff"/><rect x="661.4" y="907.49" width="6.6" height="6.6" fill="#2144ff"/><rect x="667.4" y="907.49" width="6.6" height="6.6" fill="#2344ff"/><rect x="673.4" y="907.49" width="6.6" height="6.6" fill="#2440ff"/><rect x="679.4" y="907.49" width="6.6" height="6.6" fill="#2439ff"/><rect x="685.4" y="907.49" width="6.6" height="6.6" fill="#232dff"/><rect x="691.4" y="907.49" width="6.6" height="6.6" fill="#2124ff"/><rect x="697.4" y="907.49" width="6.6" height="6.6" fill="#2020ff"/><rect x="703.4" y="907.49" width="6.6" height="6.6" fill="#2222ff"/><rect x="709.4" y="907.49" width="6.6" height="6.6" fill="#2c26ff"/><rect x="715.4" y="907.49" width="6.6" height="6.6" fill="#3529ff"/><rect x="721.4" y="907.49" width="6.6" height="6.6" fill="#3e2dff"/><rect x="727.4" y="907.49" width="6.6" height="6.6" fill="#4630ff"/><rect x="733.4" y="907.49" width="6.6" height="6.6" fill="#4d32ff"/><rect x="739.4" y="907.49" width="6.6" height="6.6" fill="#5435ff"/><rect x="745.4" y="907.49" width="6.6" height="6.6" fill="#5c37ff"/><rect x="751.4" y="907.49" width="6.6" height="6.6" fill="#6639ff"/><rect x="757.4" y="907.49" width="6.6" height="6.6" fill="#672fff"/><rect x="763.4" y="907.49" width="6.6" height="6.6" fill="#6521ff"/><rect x="769.4" y="907.49" width="6.6" height="6.6" fill="#6413ff"/><rect x="775.4" y="907.49" width="6.6" height="6.6" fill="#6b10ff"/><rect x="781.4" y="907.49" width="6.6" height="6.6" fill="#7411ff"/><rect x="787.4" y="907.49" width="6.6" height="6.6" fill="#7c12ff"/><rect x="649.4" y="913.49" width="6.6" height="6.6" fill="#1038ff"/><rect x="655.4" y="913.49" width="6.6" height="6.6" fill="#1036ff"/><rect x="661.4" y="913.49" width="6.6" height="6.6" fill="#1f40ff"/><rect x="667.4" y="913.49" width="6.6" height="6.6" fill="#203dff"/><rect x="673.4" y="913.49" width="6.6" height="6.6" fill="#2036ff"/><rect x="679.4" y="913.49" width="6.6" height="6.6" fill="#1f2cff"/><rect x="685.4" y="913.49" width="6.6" height="6.6" fill="#1d22ff"/><rect x="691.4" y="913.49" width="6.6" height="6.6" fill="#1919ff"/><rect x="697.4" y="913.49" width="6.6" height="6.6" fill="#1b1bff"/><rect x="703.4" y="913.49" width="6.6" height="6.6" fill="#211eff"/><rect x="709.4" y="913.49" width="6.6" height="6.6" fill="#2a21ff"/><rect x="715.4" y="913.49" width="6.6" height="6.6" fill="#3324ff"/><rect x="721.4" y="913.49" width="6.6" height="6.6" fill="#3b27ff"/><rect x="727.4" y="913.49" width="6.6" height="6.6" fill="#422aff"/><rect x="733.4" y="913.49" width="6.6" height="6.6" fill="#492cff"/><rect x="739.4" y="913.49" width="6.6" height="6.6" fill="#4f2fff"/><rect x="745.4" y="913.49" width="6.6" height="6.6" fill="#5027ff"/><rect x="751.4" y="913.49" width="6.6" height="6.6" fill="#4e19ff"/><rect x="757.4" y="913.49" width="6.6" height="6.6" fill="#4e0dff"/><rect x="763.4" y="913.49" width="6.6" height="6.6" fill="#580eff"/><rect x="769.4" y="913.49" width="6.6" height="6.6" fill="#610fff"/><rect x="655.4" y="919.49" width="6.6" height="6.6" fill="#1034ff"/><rect x="661.4" y="919.49" width="6.6" height="6.6" fill="#1636ff"/><rect x="667.4" y="919.49" width="6.6" height="6.6" fill="#1c34ff"/><rect x="673.4" y="919.49" width="6.6" height="6.6" fill="#1b2cff"/><rect x="679.4" y="919.49" width="6.6" height="6.6" fill="#1920ff"/><rect x="685.4" y="919.49" width="6.6" height="6.6" fill="#1617ff"/><rect x="691.4" y="919.49" width="6.6" height="6.6" fill="#1616ff"/><rect x="697.4" y="919.49" width="6.6" height="6.6" fill="#1717ff"/><rect x="703.4" y="919.49" width="6.6" height="6.6" fill="#201aff"/><rect x="709.4" y="919.49" width="6.6" height="6.6" fill="#291dff"/><rect x="715.4" y="919.49" width="6.6" height="6.6" fill="#3120ff"/><rect x="721.4" y="919.49" width="6.6" height="6.6" fill="#3823ff"/><rect x="727.4" y="919.49" width="6.6" height="6.6" fill="#3f25ff"/><rect x="733.4" y="919.49" width="6.6" height="6.6" fill="#3e1fff"/><rect x="739.4" y="919.49" width="6.6" height="6.6" fill="#3610ff"/><rect x="745.4" y="919.49" width="6.6" height="6.6" fill="#3b0bff"/><rect x="751.4" y="919.49" width="6.6" height="6.6" fill="#450cff"/><rect x="757.4" y="919.49" width="6.6" height="6.6" fill="#4e0dff"/><rect x="661.4" y="925.49" width="6.6" height="6.6" fill="#0e29ff"/><rect x="667.4" y="925.49" width="6.6" height="6.6" fill="#182cff"/><rect x="673.4" y="925.49" width="6.6" height="6.6" fill="#161fff"/><rect x="679.4" y="925.49" width="6.6" height="6.6" fill="#1317ff"/><rect x="685.4" y="925.49" width="6.6" height="6.6" fill="#1111ff"/><rect x="691.4" y="925.49" width="6.6" height="6.6" fill="#1212ff"/><rect x="697.4" y="925.49" width="6.6" height="6.6" fill="#1814ff"/><rect x="703.4" y="925.49" width="6.6" height="6.6" fill="#2017ff"/><rect x="709.4" y="925.49" width="6.6" height="6.6" fill="#281aff"/><rect x="715.4" y="925.49" width="6.6" height="6.6" fill="#2f1cff"/><rect x="721.4" y="925.49" width="6.6" height="6.6" fill="#2e16ff"/><rect x="727.4" y="925.49" width="6.6" height="6.6" fill="#2708ff"/><rect x="733.4" y="925.49" width="6.6" height="6.6" fill="#2d09ff"/><rect x="739.4" y="925.49" width="6.6" height="6.6" fill="#320aff"/><rect x="661.4" y="931.49" width="6.6" height="6.6" fill="#0c23ff"/><rect x="667.4" y="931.49" width="6.6" height="6.6" fill="#0916ff"/><rect x="673.4" y="931.49" width="6.6" height="6.6" fill="#1117ff"/><rect x="679.4" y="931.49" width="6.6" height="6.6" fill="#0d0dff"/><rect x="685.4" y="931.49" width="6.6" height="6.6" fill="#0e0eff"/><rect x="691.4" y="931.49" width="6.6" height="6.6" fill="#100fff"/><rect x="697.4" y="931.49" width="6.6" height="6.6" fill="#1812ff"/><rect x="703.4" y="931.49" width="6.6" height="6.6" fill="#2014ff"/><rect x="709.4" y="931.49" width="6.6" height="6.6" fill="#1e0eff"/><rect x="715.4" y="931.49" width="6.6" height="6.6" fill="#1c06ff"/><rect x="721.4" y="931.49" width="6.6" height="6.6" fill="#2207ff"/><rect x="727.4" y="931.49" width="6.6" height="6.6" fill="#2808ff"/><rect x="667.4" y="937.49" width="6.6" height="6.6" fill="#070eff"/><rect x="673.4" y="937.49" width="6.6" height="6.6" fill="#0205ff"/><rect x="679.4" y="937.49" width="6.6" height="6.6" fill="#0a0aff"/><rect x="685.4" y="937.49" width="6.6" height="6.6" fill="#0c0cff"/><rect x="691.4" y="937.49" width="6.6" height="6.6" fill="#110eff"/><rect x="697.4" y="937.49" width="6.6" height="6.6" fill="#0d04ff"/><rect x="703.4" y="937.49" width="6.6" height="6.6" fill="#1204ff"/><rect x="709.4" y="937.49" width="6.6" height="6.6" fill="#1805ff"/><rect x="673.4" y="943.49" width="6.6" height="6.6" fill="#0000ff"/><rect x="679.4" y="943.49" width="6.6" height="6.6" fill="#0000ff"/><rect x="685.4" y="943.49" width="6.6" height="6.6" fill="#0100ff"/><rect x="691.4" y="943.49" width="6.6" height="6.6" fill="#0802ff"/><rect x="697.4" y="943.49" width="6.6" height="6.6" fill="#0e03ff"/><rect x="685.4" y="949.49" width="6.6" height="6.6" fill="#0100ff"/></g></g>
<g clip-path="url(#cief)" opacity="0.55"><line x1="626.15" y1="551" x2="626.15" y2="948.3" stroke="#8a8a8a" stroke-width="1.3"/><line x1="650.9" y1="551" x2="650.9" y2="948.3" stroke="#8a8a8a" stroke-width="1.3"/><line x1="675.65" y1="551" x2="675.65" y2="948.3" stroke="#8a8a8a" stroke-width="1.3"/><line x1="700.4" y1="551" x2="700.4" y2="948.3" stroke="#8a8a8a" stroke-width="1.3"/><line x1="725.15" y1="551" x2="725.15" y2="948.3" stroke="#8a8a8a" stroke-width="1.3"/><line x1="749.9" y1="551" x2="749.9" y2="948.3" stroke="#8a8a8a" stroke-width="1.3"/><line x1="774.65" y1="551" x2="774.65" y2="948.3" stroke="#8a8a8a" stroke-width="1.3"/><line x1="799.4" y1="551" x2="799.4" y2="948.3" stroke="#8a8a8a" stroke-width="1.3"/><line x1="824.15" y1="551" x2="824.15" y2="948.3" stroke="#8a8a8a" stroke-width="1.3"/><line x1="848.9" y1="551" x2="848.9" y2="948.3" stroke="#8a8a8a" stroke-width="1.3"/><line x1="873.65" y1="551" x2="873.65" y2="948.3" stroke="#8a8a8a" stroke-width="1.3"/><line x1="898.4" y1="551" x2="898.4" y2="948.3" stroke="#8a8a8a" stroke-width="1.3"/><line x1="923.15" y1="551" x2="923.15" y2="948.3" stroke="#8a8a8a" stroke-width="1.3"/><line x1="947.9" y1="551" x2="947.9" y2="948.3" stroke="#8a8a8a" stroke-width="1.3"/><line x1="972.65" y1="551" x2="972.65" y2="948.3" stroke="#8a8a8a" stroke-width="1.3"/><line x1="601.4" y1="926.23" x2="997.4" y2="926.23" stroke="#8a8a8a" stroke-width="1.3"/><line x1="601.4" y1="904.16" x2="997.4" y2="904.16" stroke="#8a8a8a" stroke-width="1.3"/><line x1="601.4" y1="882.08" x2="997.4" y2="882.08" stroke="#8a8a8a" stroke-width="1.3"/><line x1="601.4" y1="860.01" x2="997.4" y2="860.01" stroke="#8a8a8a" stroke-width="1.3"/><line x1="601.4" y1="837.94" x2="997.4" y2="837.94" stroke="#8a8a8a" stroke-width="1.3"/><line x1="601.4" y1="815.87" x2="997.4" y2="815.87" stroke="#8a8a8a" stroke-width="1.3"/><line x1="601.4" y1="793.79" x2="997.4" y2="793.79" stroke="#8a8a8a" stroke-width="1.3"/><line x1="601.4" y1="771.72" x2="997.4" y2="771.72" stroke="#8a8a8a" stroke-width="1.3"/><line x1="601.4" y1="749.65" x2="997.4" y2="749.65" stroke="#8a8a8a" stroke-width="1.3"/><line x1="601.4" y1="727.58" x2="997.4" y2="727.58" stroke="#8a8a8a" stroke-width="1.3"/><line x1="601.4" y1="705.51" x2="997.4" y2="705.51" stroke="#8a8a8a" stroke-width="1.3"/><line x1="601.4" y1="683.43" x2="997.4" y2="683.43" stroke="#8a8a8a" stroke-width="1.3"/><line x1="601.4" y1="661.36" x2="997.4" y2="661.36" stroke="#8a8a8a" stroke-width="1.3"/><line x1="601.4" y1="639.29" x2="997.4" y2="639.29" stroke="#8a8a8a" stroke-width="1.3"/><line x1="601.4" y1="617.22" x2="997.4" y2="617.22" stroke="#8a8a8a" stroke-width="1.3"/><line x1="601.4" y1="595.14" x2="997.4" y2="595.14" stroke="#8a8a8a" stroke-width="1.3"/><line x1="601.4" y1="573.07" x2="997.4" y2="573.07" stroke="#8a8a8a" stroke-width="1.3"/></g>
<path d="M687.58,946.09 L687.57,946.09 L687.56,946.09 L687.56,946.09 L687.55,946.09 L687.54,946.09 L687.53,946.09 L687.52,946.1 L687.5,946.11 L687.48,946.11 L687.47,946.12 L687.45,946.13 L687.43,946.14 L687.42,946.14 L687.4,946.14 L687.38,946.14 L687.37,946.14 L687.35,946.13 L687.33,946.14 L687.31,946.14 L687.29,946.15 L687.26,946.16 L687.23,946.17 L687.21,946.18 L687.18,946.18 L687.16,946.18 L687.14,946.18 L687.11,946.18 L687.09,946.18 L687.06,946.18 L687.03,946.18 L687.01,946.18 L686.97,946.18 L686.94,946.18 L686.91,946.18 L686.87,946.18 L686.84,946.18 L686.8,946.18 L686.76,946.19 L686.72,946.19 L686.68,946.19 L686.64,946.19 L686.59,946.18 L686.54,946.17 L686.49,946.15 L686.43,946.13 L686.38,946.11 L686.31,946.08 L686.24,946.05 L686.17,946.01 L686.08,945.97 L685.99,945.92 L685.9,945.86 L685.8,945.8 L685.7,945.74 L685.6,945.67 L685.49,945.6 L685.38,945.52 L685.26,945.44 L685.14,945.35 L685.01,945.25 L684.86,945.15 L684.71,945.03 L684.54,944.91 L684.37,944.78 L684.2,944.65 L684.02,944.5 L683.83,944.35 L683.64,944.19 L683.44,944.03 L683.23,943.86 L683.01,943.68 L682.78,943.49 L682.54,943.3 L682.28,943.1 L682.02,942.89 L681.75,942.68 L681.46,942.45 L681.14,942.21 L680.81,941.95 L680.47,941.68 L680.1,941.41 L679.72,941.11 L679.33,940.81 L678.92,940.49 L678.49,940.16 L678.06,939.82 L677.61,939.47 L677.14,939.1 L676.65,938.7 L676.14,938.28 L675.62,937.83 L675.07,937.37 L674.5,936.88 L673.92,936.36 L673.31,935.8 L672.68,935.19 L672.04,934.56 L671.39,933.92 L670.71,933.24 L670.01,932.49 L669.27,931.65 L668.47,930.69 L667.63,929.62 L666.75,928.49 L665.84,927.25 L664.88,925.91 L663.88,924.42 L662.83,922.78 L661.74,921.02 L660.62,919.16 L659.45,917.16 L658.24,914.98 L656.97,912.6 L655.65,909.98 L654.28,907.15 L652.85,904.14 L651.37,900.93 L649.84,897.47 L648.25,893.75 L646.59,889.72 L644.86,885.42 L643.03,880.87 L641.15,876.05 L639.24,870.93 L637.32,865.49 L635.41,859.7 L633.5,853.56 L631.56,847.07 L629.62,840.26 L627.68,833.15 L625.76,825.74 L623.87,818.07 L621.99,810.05 L620.09,801.65 L618.21,792.96 L616.38,784.08 L614.64,775.1 L613.03,766.12 L611.52,757.02 L610.06,747.73 L608.7,738.34 L607.46,728.95 L606.37,719.68 L605.46,710.63 L604.71,701.72 L604.08,692.85 L603.61,684.1 L603.31,675.53 L603.21,667.22 L603.33,659.24 L603.66,651.52 L604.18,643.97 L604.9,636.68 L605.82,629.72 L606.94,623.18 L608.28,617.13 L609.85,611.52 L611.66,606.28 L613.68,601.46 L615.87,597.08 L618.21,593.2 L620.66,589.85 L623.25,587.07 L626.03,584.85 L628.96,583.12 L631.98,581.82 L635.07,580.87 L638.18,580.22 L641.34,579.97 L644.59,580.17 L647.9,580.74 L651.24,581.56 L654.59,582.54 L657.93,583.58 L661.27,584.73 L664.63,586.09 L668.01,587.6 L671.37,589.21 L674.7,590.88 L677.98,592.54 L681.2,594.21 L684.39,595.94 L687.55,597.71 L690.68,599.53 L693.79,601.38 L696.89,603.27 L699.96,605.19 L703.01,607.14 L706.03,609.14 L709.04,611.16 L712.05,613.23 L715.05,615.32 L718.06,617.45 L721.05,619.61 L724.04,621.81 L727.02,624.04 L730,626.29 L732.97,628.56 L735.94,630.86 L738.89,633.18 L741.85,635.53 L744.8,637.9 L747.74,640.29 L750.69,642.69 L753.64,645.1 L756.58,647.54 L759.53,649.99 L762.47,652.46 L765.42,654.94 L768.36,657.43 L771.32,659.94 L774.27,662.45 L777.23,664.98 L780.18,667.52 L783.14,670.07 L786.08,672.62 L789.03,675.17 L791.97,677.74 L794.91,680.31 L797.84,682.88 L800.78,685.45 L803.71,688.02 L806.64,690.59 L809.57,693.17 L812.5,695.74 L815.42,698.31 L818.33,700.87 L821.23,703.43 L824.12,705.98 L827,708.54 L829.87,711.08 L832.73,713.62 L835.58,716.15 L838.41,718.66 L841.22,721.16 L844.03,723.66 L846.82,726.14 L849.6,728.61 L852.35,731.06 L855.09,733.49 L857.8,735.91 L860.5,738.31 L863.18,740.69 L865.84,743.06 L868.47,745.4 L871.08,747.71 L873.65,749.99 L876.21,752.26 L878.74,754.5 L881.24,756.71 L883.7,758.89 L886.12,761.04 L888.51,763.16 L890.86,765.26 L893.17,767.32 L895.45,769.35 L897.67,771.34 L899.84,773.27 L901.94,775.14 L904,776.97 L906,778.75 L907.96,780.49 L909.88,782.19 L911.76,783.86 L913.62,785.51 L915.44,787.12 L917.21,788.7 L918.95,790.24 L920.63,791.73 L922.26,793.18 L923.83,794.57 L925.36,795.91 L926.83,797.2 L928.25,798.46 L929.63,799.68 L930.97,800.86 L932.26,802 L933.5,803.11 L934.7,804.18 L935.86,805.21 L936.97,806.21 L938.05,807.17 L939.09,808.1 L940.08,808.98 L941.03,809.83 L941.95,810.65 L942.83,811.44 L943.69,812.2 L944.52,812.93 L945.31,813.63 L946.07,814.3 L946.8,814.95 L947.51,815.57 L948.2,816.18 L948.86,816.76 L949.49,817.33 L950.1,817.87 L950.68,818.39 L951.25,818.9 L951.81,819.4 L952.35,819.88 L952.88,820.35 L953.39,820.81 L953.89,821.25 L954.37,821.68 L954.83,822.09 L955.28,822.49 L955.71,822.88 L956.13,823.26 L956.54,823.62 L956.93,823.96 L957.3,824.3 L957.67,824.62 L958.02,824.92 L958.36,825.21 L958.68,825.49 L958.99,825.76 L959.28,826.02 L959.57,826.27 L959.83,826.5 L960.08,826.73 L960.32,826.94 L960.55,827.15 L960.77,827.34 L960.98,827.53 L961.19,827.72 L961.38,827.89 L961.56,828.05 L961.74,828.21 L961.91,828.36 L962.07,828.5 L962.22,828.64 L962.37,828.77 L962.5,828.89 L962.63,829 L962.75,829.11 L962.86,829.21 L962.96,829.29 L963.05,829.37 L963.13,829.45 L963.21,829.52 L963.29,829.6 L963.38,829.67 L963.45,829.74 L963.53,829.81 L963.6,829.87 L963.67,829.93 L963.74,829.99 L963.8,830.05 L963.86,830.1 L963.92,830.15 L963.97,830.2 L964.03,830.25 L964.09,830.3 L964.14,830.35 L964.2,830.4 L964.25,830.45 L964.31,830.5 L964.37,830.55 L964.43,830.61 L964.51,830.68 L964.6,830.76 L964.69,830.84 L964.78,830.92 L964.86,831 L964.93,831.05 L964.97,831.09 L965,831.12 L965.02,831.14 L965.04,831.15 L965.06,831.17 L965.08,831.18 Z" fill="none" stroke="#222" stroke-width="1"/>
<line x1="601.4" y1="551" x2="997.4" y2="551" stroke="#555" stroke-width="1.2"/>
<line x1="997.4" y1="551" x2="997.4" y2="953.3" stroke="#555" stroke-width="1.2"/>
<line x1="601.4" y1="550.5" x2="601.4" y2="953.3" stroke="#555" stroke-width="1.5"/>
<line x1="596.4" y1="948.3" x2="997.4" y2="948.3" stroke="#555" stroke-width="1.5"/>
<line x1="682.78" y1="943.49" x2="679.03" y2="948.17" stroke="#333" stroke-width="1"/>
<line x1="681.14" y1="942.21" x2="677.46" y2="946.94" stroke="#333" stroke-width="1"/>
<line x1="678.92" y1="940.49" x2="675.21" y2="945.2" stroke="#333" stroke-width="1"/>
<line x1="676.14" y1="938.28" x2="672.26" y2="942.85" stroke="#333" stroke-width="1"/>
<line x1="672.68" y1="935.19" x2="668.46" y2="939.45" stroke="#333" stroke-width="1"/>
<line x1="668.47" y1="930.69" x2="663.77" y2="934.42" stroke="#333" stroke-width="1"/>
<line x1="662.83" y1="922.78" x2="657.73" y2="925.94" stroke="#333" stroke-width="1"/>
<line x1="655.65" y1="909.98" x2="650.27" y2="912.63" stroke="#333" stroke-width="1"/>
<line x1="646.59" y1="889.72" x2="641.03" y2="891.96" stroke="#333" stroke-width="1"/>
<line x1="635.41" y1="859.7" x2="629.69" y2="861.52" stroke="#333" stroke-width="1"/>
<line x1="623.87" y1="818.07" x2="618.04" y2="819.47" stroke="#333" stroke-width="1"/>
<line x1="613.03" y1="766.12" x2="607.12" y2="767.13" stroke="#333" stroke-width="1"/>
<line x1="605.46" y1="710.63" x2="599.48" y2="711.17" stroke="#333" stroke-width="1"/>
<line x1="603.33" y1="659.24" x2="597.33" y2="659.06" stroke="#333" stroke-width="1"/>
<line x1="608.28" y1="617.13" x2="602.46" y2="615.68" stroke="#333" stroke-width="1"/>
<line x1="620.66" y1="589.85" x2="615.99" y2="586.07" stroke="#333" stroke-width="1"/>
<line x1="638.18" y1="580.22" x2="637.18" y2="574.31" stroke="#333" stroke-width="1"/>
<line x1="657.93" y1="583.58" x2="659.7" y2="577.85" stroke="#333" stroke-width="1"/>
<line x1="677.98" y1="592.54" x2="680.68" y2="587.18" stroke="#333" stroke-width="1"/>
<line x1="696.89" y1="603.27" x2="700.03" y2="598.15" stroke="#333" stroke-width="1"/>
<line x1="715.05" y1="615.32" x2="718.5" y2="610.41" stroke="#333" stroke-width="1"/>
<line x1="732.97" y1="628.56" x2="736.63" y2="623.8" stroke="#333" stroke-width="1"/>
<line x1="750.69" y1="642.69" x2="754.48" y2="638.04" stroke="#333" stroke-width="1"/>
<line x1="768.36" y1="657.43" x2="772.24" y2="652.85" stroke="#333" stroke-width="1"/>
<line x1="786.08" y1="672.62" x2="790.01" y2="668.08" stroke="#333" stroke-width="1"/>
<line x1="803.71" y1="688.02" x2="807.66" y2="683.51" stroke="#333" stroke-width="1"/>
<line x1="821.23" y1="703.43" x2="825.2" y2="698.93" stroke="#333" stroke-width="1"/>
<line x1="838.41" y1="718.66" x2="842.39" y2="714.17" stroke="#333" stroke-width="1"/>
<line x1="855.09" y1="733.49" x2="859.07" y2="729.01" stroke="#333" stroke-width="1"/>
<line x1="871.08" y1="747.71" x2="875.06" y2="743.22" stroke="#333" stroke-width="1"/>
<line x1="886.12" y1="761.04" x2="890.11" y2="756.55" stroke="#333" stroke-width="1"/>
<line x1="899.84" y1="773.27" x2="903.82" y2="768.79" stroke="#333" stroke-width="1"/>
<line x1="911.76" y1="783.86" x2="915.75" y2="779.38" stroke="#333" stroke-width="1"/>
<line x1="922.26" y1="793.18" x2="926.24" y2="788.68" stroke="#333" stroke-width="1"/>
<line x1="930.97" y1="800.86" x2="934.95" y2="796.37" stroke="#333" stroke-width="1"/>
<line x1="938.05" y1="807.17" x2="942.04" y2="802.69" stroke="#333" stroke-width="1"/>
<line x1="943.69" y1="812.2" x2="947.68" y2="807.72" stroke="#333" stroke-width="1"/>
<line x1="948.2" y1="816.18" x2="952.18" y2="811.69" stroke="#333" stroke-width="1"/>
<line x1="951.81" y1="819.4" x2="955.8" y2="814.92" stroke="#333" stroke-width="1"/>
<line x1="954.83" y1="822.09" x2="958.82" y2="817.61" stroke="#333" stroke-width="1"/>
<line x1="957.3" y1="824.3" x2="961.27" y2="819.8" stroke="#333" stroke-width="1"/>
<line x1="959.28" y1="826.02" x2="963.25" y2="821.51" stroke="#333" stroke-width="1"/>
<line x1="960.77" y1="827.34" x2="964.76" y2="822.87" stroke="#333" stroke-width="1"/>
<line x1="961.91" y1="828.36" x2="965.9" y2="823.88" stroke="#333" stroke-width="1"/>
<line x1="962.75" y1="829.11" x2="966.74" y2="824.63" stroke="#333" stroke-width="1"/>
<line x1="963.29" y1="829.6" x2="967.29" y2="825.12" stroke="#333" stroke-width="1"/>
<line x1="963.74" y1="829.99" x2="967.73" y2="825.51" stroke="#333" stroke-width="1"/>
<line x1="964.09" y1="830.3" x2="968.08" y2="825.82" stroke="#333" stroke-width="1"/>
<line x1="964.43" y1="830.61" x2="968.43" y2="826.13" stroke="#333" stroke-width="1"/>
<text x="615.6" y="573.6" font-size="24.5" fill="#1c1cf0" font-family="'Liberation Sans', 'DejaVu Sans', sans-serif" stroke="#1c1cf0" stroke-width="0.35">520</text>
<text x="682" y="587.2" font-size="24.5" fill="#1c1cf0" font-family="'Liberation Sans', 'DejaVu Sans', sans-serif" stroke="#1c1cf0" stroke-width="0.35">530</text>
<text x="719.8" y="610" font-size="24.5" fill="#1c1cf0" font-family="'Liberation Sans', 'DejaVu Sans', sans-serif" stroke="#1c1cf0" stroke-width="0.35">540</text>
<text x="756.2" y="637.6" font-size="24.5" fill="#1c1cf0" font-family="'Liberation Sans', 'DejaVu Sans', sans-serif" stroke="#1c1cf0" stroke-width="0.35">550</text>
<text x="791" y="667" font-size="24.5" fill="#1c1cf0" font-family="'Liberation Sans', 'DejaVu Sans', sans-serif" stroke="#1c1cf0" stroke-width="0.35">560</text>
<text x="825.5" y="698.6" font-size="24.5" fill="#1c1cf0" font-family="'Liberation Sans', 'DejaVu Sans', sans-serif" stroke="#1c1cf0" stroke-width="0.35">570</text>
<text x="859.9" y="728.6" font-size="24.5" fill="#1c1cf0" font-family="'Liberation Sans', 'DejaVu Sans', sans-serif" stroke="#1c1cf0" stroke-width="0.35">580</text>
<text x="892.8" y="756.7" font-size="24.5" fill="#1c1cf0" font-family="'Liberation Sans', 'DejaVu Sans', sans-serif" stroke="#1c1cf0" stroke-width="0.35">590</text>
<text x="917" y="778.5" font-size="24.5" fill="#1c1cf0" font-family="'Liberation Sans', 'DejaVu Sans', sans-serif" stroke="#1c1cf0" stroke-width="0.35">600</text>
<text x="936.5" y="796.5" font-size="24.5" fill="#1c1cf0" font-family="'Liberation Sans', 'DejaVu Sans', sans-serif" stroke="#1c1cf0" stroke-width="0.35">610</text>
<text x="950" y="808" font-size="24.5" fill="#1c1cf0" font-family="'Liberation Sans', 'DejaVu Sans', sans-serif" stroke="#1c1cf0" stroke-width="0.35">620</text>
<text x="956" y="813" font-size="24.5" fill="#1c1cf0" font-family="'Liberation Sans', 'DejaVu Sans', sans-serif" stroke="#1c1cf0" stroke-width="0.35">630</text>
<text x="961" y="817" font-size="24.5" fill="#1c1cf0" font-family="'Liberation Sans', 'DejaVu Sans', sans-serif" stroke="#1c1cf0" stroke-width="0.35">640</text>
<text x="964" y="820" font-size="24.5" fill="#1c1cf0" font-family="'Liberation Sans', 'DejaVu Sans', sans-serif" stroke="#1c1cf0" stroke-width="0.35">650</text>
<text x="966" y="821.5" font-size="24.5" fill="#1c1cf0" font-family="'Liberation Sans', 'DejaVu Sans', sans-serif" stroke="#1c1cf0" stroke-width="0.35">660</text>
<text x="967" y="822.5" font-size="24.5" fill="#1c1cf0" font-family="'Liberation Sans', 'DejaVu Sans', sans-serif" stroke="#1c1cf0" stroke-width="0.35">670</text>
<text x="553.6" y="632.7" font-size="24.5" fill="#1c1cf0" font-family="'Liberation Sans', 'DejaVu Sans', sans-serif" stroke="#1c1cf0" stroke-width="0.35">510</text>
<text x="551.2" y="728.6" font-size="24.5" fill="#1c1cf0" font-family="'Liberation Sans', 'DejaVu Sans', sans-serif" stroke="#1c1cf0" stroke-width="0.35">500</text>
<text x="569.6" y="836.2" font-size="24.5" fill="#1c1cf0" font-family="'Liberation Sans', 'DejaVu Sans', sans-serif" stroke="#1c1cf0" stroke-width="0.35">490</text>
<text x="591.6" y="908.9" font-size="24.5" fill="#1c1cf0" font-family="'Liberation Sans', 'DejaVu Sans', sans-serif" stroke="#1c1cf0" stroke-width="0.35">480</text>
<text x="609.3" y="942.6" font-size="24.5" fill="#1c1cf0" font-family="'Liberation Sans', 'DejaVu Sans', sans-serif" stroke="#1c1cf0" stroke-width="0.35">470</text>
<text x="620.5" y="954.9" font-size="24.5" fill="#1c1cf0" font-family="'Liberation Sans', 'DejaVu Sans', sans-serif" stroke="#1c1cf0" stroke-width="0.35">460</text>
<text x="625" y="959.5" font-size="24.5" fill="#1c1cf0" font-family="'Liberation Sans', 'DejaVu Sans', sans-serif" stroke="#1c1cf0" stroke-width="0.35">450</text>
<text x="629" y="964.5" font-size="24.5" fill="#1c1cf0" font-family="'Liberation Sans', 'DejaVu Sans', sans-serif" stroke="#1c1cf0" stroke-width="0.35">440</text>
<circle cx="624.3" cy="634.6" r="8.2" fill="#000" stroke="#fff" stroke-width="1.2"/>
<rect x="619.4" y="616.2" width="19.4" height="17.2" fill="#f00"/>
<polygon points="633.4,612.2 642.7,626.6 624.6,626.6" fill="#00f"/>
<rect x="821" y="854.4" width="174.5" height="93" fill="#fff" fill-opacity="0.72"/>
<circle cx="845.2" cy="874.8" r="9.6" fill="#000" stroke="none" stroke-width="0"/>
<rect x="833.7" y="889.8" width="21.2" height="19.1" fill="#f00"/>
<polygon points="845,913.8 856.4,933.2 833.5,933.2" fill="#33f"/>
<text x="874.9" y="884" font-size="23.3" textLength="76.5" lengthAdjust="spacingAndGlyphs" fill="#000" font-family="'Liberation Sans', 'DejaVu Sans', sans-serif">Type A</text>
<text x="874.9" y="909.9" font-size="23.3" textLength="75.5" lengthAdjust="spacingAndGlyphs" fill="#000" font-family="'Liberation Sans', 'DejaVu Sans', sans-serif">Type B</text>
<text x="874.9" y="934.2" font-size="23.3" textLength="75.5" lengthAdjust="spacingAndGlyphs" fill="#000" font-family="'Liberation Sans', 'DejaVu Sans', sans-serif">Type C</text>
<text x="596" y="956.1" font-size="25" text-anchor="end" fill="#000" font-family="'Liberation Sans', 'DejaVu Sans', sans-serif" stroke="#000" stroke-width="0.3">0.0</text>
<text x="596" y="911.96" font-size="25" text-anchor="end" fill="#000" font-family="'Liberation Sans', 'DejaVu Sans', sans-serif" stroke="#000" stroke-width="0.3">0.1</text>
<text x="596" y="867.81" font-size="25" text-anchor="end" fill="#000" font-family="'Liberation Sans', 'DejaVu Sans', sans-serif" stroke="#000" stroke-width="0.3">0.2</text>
<text x="596" y="823.67" font-size="25" text-anchor="end" fill="#000" font-family="'Liberation Sans', 'DejaVu Sans', sans-serif" stroke="#000" stroke-width="0.3">0.3</text>
<text x="596" y="779.52" font-size="25" text-anchor="end" fill="#000" font-family="'Liberation Sans', 'DejaVu Sans', sans-serif" stroke="#000" stroke-width="0.3">0.4</text>
<text x="596" y="735.38" font-size="25" text-anchor="end" fill="#000" font-family="'Liberation Sans', 'DejaVu Sans', sans-serif" stroke="#000" stroke-width="0.3">0.5</text>
<text x="596" y="691.23" font-size="25" text-anchor="end" fill="#000" font-family="'Liberation Sans', 'DejaVu Sans', sans-serif" stroke="#000" stroke-width="0.3">0.6</text>
<text x="596" y="647.09" font-size="25" text-anchor="end" fill="#000" font-family="'Liberation Sans', 'DejaVu Sans', sans-serif" stroke="#000" stroke-width="0.3">0.7</text>
<text x="596" y="602.94" font-size="25" text-anchor="end" fill="#000" font-family="'Liberation Sans', 'DejaVu Sans', sans-serif" stroke="#000" stroke-width="0.3">0.8</text>
<text x="596" y="558.8" font-size="25" text-anchor="end" fill="#000" font-family="'Liberation Sans', 'DejaVu Sans', sans-serif" stroke="#000" stroke-width="0.3">0.9</text>
<text x="601.4" y="988.5" font-size="25" text-anchor="middle" fill="#000" font-family="'Liberation Sans', 'DejaVu Sans', sans-serif" stroke="#000" stroke-width="0.3">0.0</text>
<text x="650.9" y="988.5" font-size="25" text-anchor="middle" fill="#000" font-family="'Liberation Sans', 'DejaVu Sans', sans-serif" stroke="#000" stroke-width="0.3">0.1</text>
<text x="700.4" y="988.5" font-size="25" text-anchor="middle" fill="#000" font-family="'Liberation Sans', 'DejaVu Sans', sans-serif" stroke="#000" stroke-width="0.3">0.2</text>
<text x="749.9" y="988.5" font-size="25" text-anchor="middle" fill="#000" font-family="'Liberation Sans', 'DejaVu Sans', sans-serif" stroke="#000" stroke-width="0.3">0.3</text>
<text x="799.4" y="988.5" font-size="25" text-anchor="middle" fill="#000" font-family="'Liberation Sans', 'DejaVu Sans', sans-serif" stroke="#000" stroke-width="0.3">0.4</text>
<text x="848.9" y="988.5" font-size="25" text-anchor="middle" fill="#000" font-family="'Liberation Sans', 'DejaVu Sans', sans-serif" stroke="#000" stroke-width="0.3">0.5</text>
<text x="898.4" y="988.5" font-size="25" text-anchor="middle" fill="#000" font-family="'Liberation Sans', 'DejaVu Sans', sans-serif" stroke="#000" stroke-width="0.3">0.6</text>
<text x="947.9" y="988.5" font-size="25" text-anchor="middle" fill="#000" font-family="'Liberation Sans', 'DejaVu Sans', sans-serif" stroke="#000" stroke-width="0.3">0.7</text>
<text x="997.4" y="988.5" font-size="25" text-anchor="middle" fill="#000" font-family="'Liberation Sans', 'DejaVu Sans', sans-serif" stroke="#000" stroke-width="0.3">0.8</text>
<text x="806" y="1023.6" font-size="25" text-anchor="middle" fill="#000" font-family="'Liberation Sans', 'DejaVu Sans', sans-serif">x</text>
<text x="530.9" y="750.8" font-size="25" text-anchor="middle" fill="#000" font-family="'Liberation Sans', 'DejaVu Sans', sans-serif">y</text>
<text x="930.9" y="604.8" font-size="40.5" fill="#000" font-family="'Liberation Sans', Arial, sans-serif">(f)</text>
<filter id="gb9" x="-20%" y="-20%" width="140%" height="140%"><feGaussianBlur stdDeviation="7"/></filter>
<filter id="gb12" x="-50%" y="-50%" width="200%" height="200%"><feGaussianBlur stdDeviation="12"/></filter>
<filter id="gb8" x="-50%" y="-50%" width="200%" height="200%"><feGaussianBlur stdDeviation="7"/></filter>
<filter id="gb4" x="-30%" y="-30%" width="160%" height="160%"><feGaussianBlur stdDeviation="3.5"/></filter>
<filter id="gb3" x="-50%" y="-50%" width="200%" height="200%"><feGaussianBlur stdDeviation="3"/></filter>
<filter id="gb2" x="-30%" y="-30%" width="160%" height="160%"><feGaussianBlur stdDeviation="2"/></filter>
<filter id="gb1" x="-20%" y="-20%" width="140%" height="140%"><feGaussianBlur stdDeviation="1"/></filter>
<rect x="1090.5" y="625" width="906.3" height="303" fill="#fff" stroke="#000" stroke-width="1.5"/>
<text x="1117.8" y="601.4" font-size="40.5" fill="#000" font-family="'Liberation Sans', Arial, sans-serif">(g)</text>
<clipPath id="cg0"><rect x="0" y="0" width="288.2" height="288.2"/></clipPath>
<g transform="translate(1100.3,633)" clip-path="url(#cg0)">
<rect x="0" y="0" width="288.2" height="288.2" fill="#468e72"/>
<g filter="url(#gb9)">
<polygon points="-20,-20 310,-20 310,8 236,14 21,62 -20,70" fill="#28f0d0"/>
<polygon points="90,-20 260,-20 250,18 120,34" fill="#86fff2"/>
<polygon points="-20,40 24,55 46,300 -20,300" fill="#19dba4"/>
<polygon points="20,66 236,16 240,150 60,160" fill="#55987e"/>
<polygon points="100,64 236,44 236,100 100,110" fill="#3f9474"/>
<polygon points="46,230 132,220 132,300 46,300" fill="#4f8c7a"/>
<polygon points="110,120 236,100 236,236 110,236" fill="#3b6a44"/>
<polygon points="120,210 240,190 240,300 120,300" fill="#34492a"/>
<polygon points="21,66 62,60 80,236 46,240" fill="#62a08a"/>
<polygon points="238,236 310,236 310,300 238,300" fill="#2a3020"/>
</g>
<g filter="url(#gb4)">
<polygon points="0,60 236,14 236,22 0,72" fill="#1ee6a8"/>
<polygon points="150,62 215,56 215,64 150,70" fill="#40f0d8"/>
<polygon points="170,96 200,92 200,98 170,102" fill="#40e8c8"/>
<polygon points="236,8 310,0 310,238 238,238" fill="#28291f"/>
</g>
<ellipse cx="198" cy="181" rx="57.5" ry="52.9" fill="#1f9a4c" filter="url(#gb12)"/>
<ellipse cx="198" cy="181" rx="40" ry="36.8" fill="#2ee890" filter="url(#gb8)"/>
<g filter="url(#gb1)">
<line x1="62" y1="97" x2="91" y2="287" stroke="#a8dccc" stroke-width="2.0" opacity="0.7" stroke-linecap="round"/>
<line x1="91" y1="120" x2="122" y2="287" stroke="#a8dccc" stroke-width="2.0" opacity="0.65" stroke-linecap="round"/>
<line x1="0" y1="172" x2="64" y2="200" stroke="#c0d8d0" stroke-width="1.8" opacity="0.75" stroke-linecap="round"/>
<line x1="150" y1="0" x2="169" y2="31" stroke="#1a3a30" stroke-width="2" opacity="0.85" stroke-linecap="round"/>
<line x1="238" y1="58" x2="288" y2="48" stroke="#c8dcd0" stroke-width="1.6" opacity="0.8" stroke-linecap="round"/>
<line x1="238" y1="84" x2="288" y2="77" stroke="#c8dcd0" stroke-width="1.6" opacity="0.8" stroke-linecap="round"/>
<line x1="105" y1="92" x2="236" y2="66" stroke="#90d8c0" stroke-width="1.4" opacity="0.5" stroke-linecap="round"/>
<line x1="100" y1="112" x2="236" y2="92" stroke="#90d8c0" stroke-width="1.4" opacity="0.4" stroke-linecap="round"/>
<polygon points="46,192.6 170.2,169.5 174,214.3 56,236" fill="#121c17"/>
<polyline points="42,124 58,117 75,108 96,97" fill="none" stroke="#0d1511" stroke-width="7.5" stroke-linecap="round" stroke-linejoin="round"/>
</g>
<polygon points="168,146 232,144 233.2,210.2 174.6,213.7" fill="#3cf8a8" filter="url(#gb4)"/>
<polygon points="212,156 228,154 229.2,195.2 213.2,198.2" fill="#138a2c" filter="url(#gb2)"/>
<polygon points="177,162 212,160 213.2,198.2 180.6,201.7" fill="#e6eceb" filter="url(#gb1)"/>
<polygon points="169,150 210,147 212,162 171,165" fill="#f6fcfa" filter="url(#gb2)"/>
<polygon points="186.6,205.7 214.2,202.2 214.2,208.2 186.6,211.7" fill="#a8ffe0" filter="url(#gb2)"/>
</g>
<rect x="1100.3" y="633" width="99.5" height="39.3" fill="#c8d6d0"/>
<text x="1103.6" y="660.4" font-size="28.4" textLength="88.5" lengthAdjust="spacingAndGlyphs" fill="#000" font-family="'Liberation Sans', Arial, sans-serif">Type A</text>
<rect x="1294.3" y="870" width="94.2" height="51.2" fill="#c8c9c5"/>
<text x="1303.8" y="898.6" font-size="28.4" textLength="72" lengthAdjust="spacingAndGlyphs" fill="#000" font-family="'Liberation Sans', Arial, sans-serif">3 mm</text>
<rect x="1303.9" y="904.8" width="70.6" height="8.8" fill="#fff" stroke="#000" stroke-width="1.5"/>
<clipPath id="cg1"><rect x="0" y="0" width="288.2" height="288.2"/></clipPath>
<g transform="translate(1399.2,633)" clip-path="url(#cg1)">
<rect x="0" y="0" width="288.2" height="288.2" fill="#468e72"/>
<g filter="url(#gb9)">
<polygon points="-20,-20 310,-20 310,5 248,10 0,45 -20,50" fill="#20f4e0"/>
<polygon points="100,-20 260,-20 250,12 150,22" fill="#5ef8ee"/>
<polygon points="-20,30 22,40 40,300 -20,300" fill="#17dcaa"/>
<polygon points="0,52 248,24 248,150 45,165" fill="#589c88"/>
<polygon points="30,50 248,26 248,38 30,64" fill="#22e6b2"/>
<polygon points="100,68 248,44 248,58 100,84" fill="#2ee0b0"/>
<polygon points="40,230 132,222 132,300 40,300" fill="#62a090"/>
<polygon points="120,120 248,100 248,236 120,236" fill="#3d6a40"/>
<polygon points="130,210 250,195 250,300 130,300" fill="#3a5228"/>
<polygon points="14,56 58,52 76,240 40,246" fill="#68a692"/>
<polygon points="250,228 310,228 310,300 250,300" fill="#3a3a22"/>
</g>
<g filter="url(#gb4)">
<polygon points="170,62 210,56 210,62 170,68" fill="#b0fff0"/>
<polygon points="248,0 310,0 310,232 250,232" fill="#20241d"/>
</g>
<ellipse cx="204" cy="181" rx="59.8" ry="55.2" fill="#1f9a4c" filter="url(#gb12)"/>
<ellipse cx="204" cy="181" rx="41.6" ry="38.4" fill="#2ee890" filter="url(#gb8)"/>
<g filter="url(#gb1)">
<line x1="86" y1="118" x2="123" y2="287" stroke="#a8dccc" stroke-width="2.0" opacity="0.75" stroke-linecap="round"/>
<line x1="0" y1="196" x2="40" y2="218" stroke="#c0d8d0" stroke-width="1.8" opacity="0.75" stroke-linecap="round"/>
<line x1="161" y1="0" x2="176" y2="30" stroke="#1a3a30" stroke-width="2" opacity="0.85" stroke-linecap="round"/>
<line x1="170" y1="95" x2="257" y2="74" stroke="#c8fff0" stroke-width="2.2" opacity="0.8" stroke-linecap="round"/>
<line x1="62" y1="145" x2="80" y2="260" stroke="#6aa89a" stroke-width="6" opacity="0.35" stroke-linecap="round"/>
<polygon points="35.2,196.9 173.2,170.9 177.5,220 46,246" fill="#121c17"/>
<polyline points="58,111 80,102 100,93 121,84" fill="none" stroke="#0d1511" stroke-width="9.5" stroke-linecap="round" stroke-linejoin="round"/>
</g>
<polygon points="171,146 240,144 242.3,214.7 180.2,217.6" fill="#3cf8a8" filter="url(#gb4)"/>
<polygon points="220,156 236,154 238.3,199.7 222.3,202.7" fill="#138a2c" filter="url(#gb2)"/>
<polygon points="180,162 220,160 222.3,202.7 186.2,205.6" fill="#e6eceb" filter="url(#gb1)"/>
<polygon points="172,150 218,147 220,162 174,165" fill="#f6fcfa" filter="url(#gb2)"/>
<polygon points="192.2,209.6 223.3,206.7 223.3,212.7 192.2,215.6" fill="#a8ffe0" filter="url(#gb2)"/>
</g>
<rect x="1399.2" y="633" width="100.4" height="39.4" fill="#c4dcd6"/>
<text x="1402.5" y="660.4" font-size="28.4" textLength="88" lengthAdjust="spacingAndGlyphs" fill="#000" font-family="'Liberation Sans', Arial, sans-serif">Type B</text>
<rect x="1594.8" y="868.2" width="92.6" height="53" fill="#c8c9c5"/>
<text x="1604.3" y="896.8" font-size="28.4" textLength="72" lengthAdjust="spacingAndGlyphs" fill="#000" font-family="'Liberation Sans', Arial, sans-serif">3 mm</text>
<rect x="1604.4" y="903" width="70.6" height="8.8" fill="#fff" stroke="#000" stroke-width="1.5"/>
<clipPath id="cg2"><rect x="0" y="0" width="288.2" height="288.2"/></clipPath>
<g transform="translate(1698,633)" clip-path="url(#cg2)">
<rect x="0" y="0" width="288.2" height="288.2" fill="#3f9466"/>
<g filter="url(#gb9)">
<polygon points="-20,-20 310,-20 310,5 226,10 0,50 -20,55" fill="#20f2d4"/>
<polygon points="100,-20 230,-20 225,10 140,22" fill="#6ef8ec"/>
<polygon points="-20,30 22,40 36,300 -20,300" fill="#1cdc9e"/>
<polygon points="0,55 226,22 226,150 40,165" fill="#4a9c72"/>
<polygon points="20,55 226,25 226,40 20,70" fill="#22e69c"/>
<polygon points="80,80 226,55 226,70 80,96" fill="#2ad8a6"/>
<polygon points="36,230 132,222 132,300 36,300" fill="#4a9a7a"/>
<polygon points="130,140 255,130 255,230 130,235" fill="#2a8a48"/>
<polygon points="130,225 226,215 226,300 130,300" fill="#265a30"/>
<polygon points="175,250 200,250 200,300 175,300" fill="#142014"/>
<polygon points="8,60 44,56 66,236 30,240" fill="#5aa486"/>
<polygon points="236,225 310,225 310,300 236,300" fill="#262c22"/>
</g>
<g filter="url(#gb4)">
<polygon points="150,60 190,54 190,60 150,66" fill="#b0fff0"/>
<polygon points="160,90 200,84 200,89 160,95" fill="#a0fff0"/>
<polygon points="226,0 310,0 310,236 228,236" fill="#232d26"/>
</g>
<ellipse cx="184" cy="172" rx="59.8" ry="55.2" fill="#1f9a4c" filter="url(#gb12)"/>
<ellipse cx="184" cy="172" rx="41.6" ry="38.4" fill="#2ee890" filter="url(#gb8)"/>
<g filter="url(#gb1)">
<line x1="39" y1="91" x2="80" y2="228" stroke="#a8dccc" stroke-width="2.0" opacity="0.75" stroke-linecap="round"/>
<line x1="75" y1="110" x2="121" y2="287" stroke="#a8dccc" stroke-width="2.0" opacity="0.7" stroke-linecap="round"/>
<line x1="0" y1="196" x2="40" y2="220" stroke="#c0d8d0" stroke-width="1.8" opacity="0.75" stroke-linecap="round"/>
<line x1="150" y1="0" x2="165" y2="30" stroke="#1a3a30" stroke-width="2" opacity="0.85" stroke-linecap="round"/>
<line x1="170" y1="85" x2="226" y2="70" stroke="#b0fff0" stroke-width="1.8" opacity="0.6" stroke-linecap="round"/>
<polygon points="26.7,192.6 161.8,162.2 166.2,209.9 37.6,237.4" fill="#121c17"/>
<polyline points="27,103 42,97" fill="none" stroke="#0d1511" stroke-width="7" stroke-linecap="round" stroke-linejoin="round"/>
<polyline points="52,91 82,73" fill="none" stroke="#0d1511" stroke-width="7" stroke-linecap="round" stroke-linejoin="round"/>
</g>
<polygon points="151,140 221,139 222.3,206 164.5,208.9" fill="#3cf8a8" filter="url(#gb4)"/>
<polygon points="201,151 217,149 218.3,191 202.3,194" fill="#138a2c" filter="url(#gb2)"/>
<polygon points="160,156 201,155 202.3,194 170.5,196.9" fill="#e6eceb" filter="url(#gb1)"/>
<polygon points="152,144 199,142 201,157 154,159" fill="#f6fcfa" filter="url(#gb2)"/>
<polygon points="176.5,200.9 203.3,198 203.3,204 176.5,206.9" fill="#a8ffe0" filter="url(#gb2)"/>
</g>
<rect x="1698" y="633" width="97.7" height="40.8" fill="#c4dcd6"/>
<text x="1701.3" y="660.4" font-size="28.4" textLength="88.5" lengthAdjust="spacingAndGlyphs" fill="#000" font-family="'Liberation Sans', Arial, sans-serif">Type C</text>
<rect x="1893.8" y="869.6" width="92.4" height="51.6" fill="#c8c9c5"/>
<text x="1903.3" y="898.2" font-size="28.4" textLength="72" lengthAdjust="spacingAndGlyphs" fill="#000" font-family="'Liberation Sans', Arial, sans-serif">3 mm</text>
<rect x="1903.4" y="904.4" width="70.6" height="8.8" fill="#fff" stroke="#000" stroke-width="1.5"/>
</svg>
</body></html>
